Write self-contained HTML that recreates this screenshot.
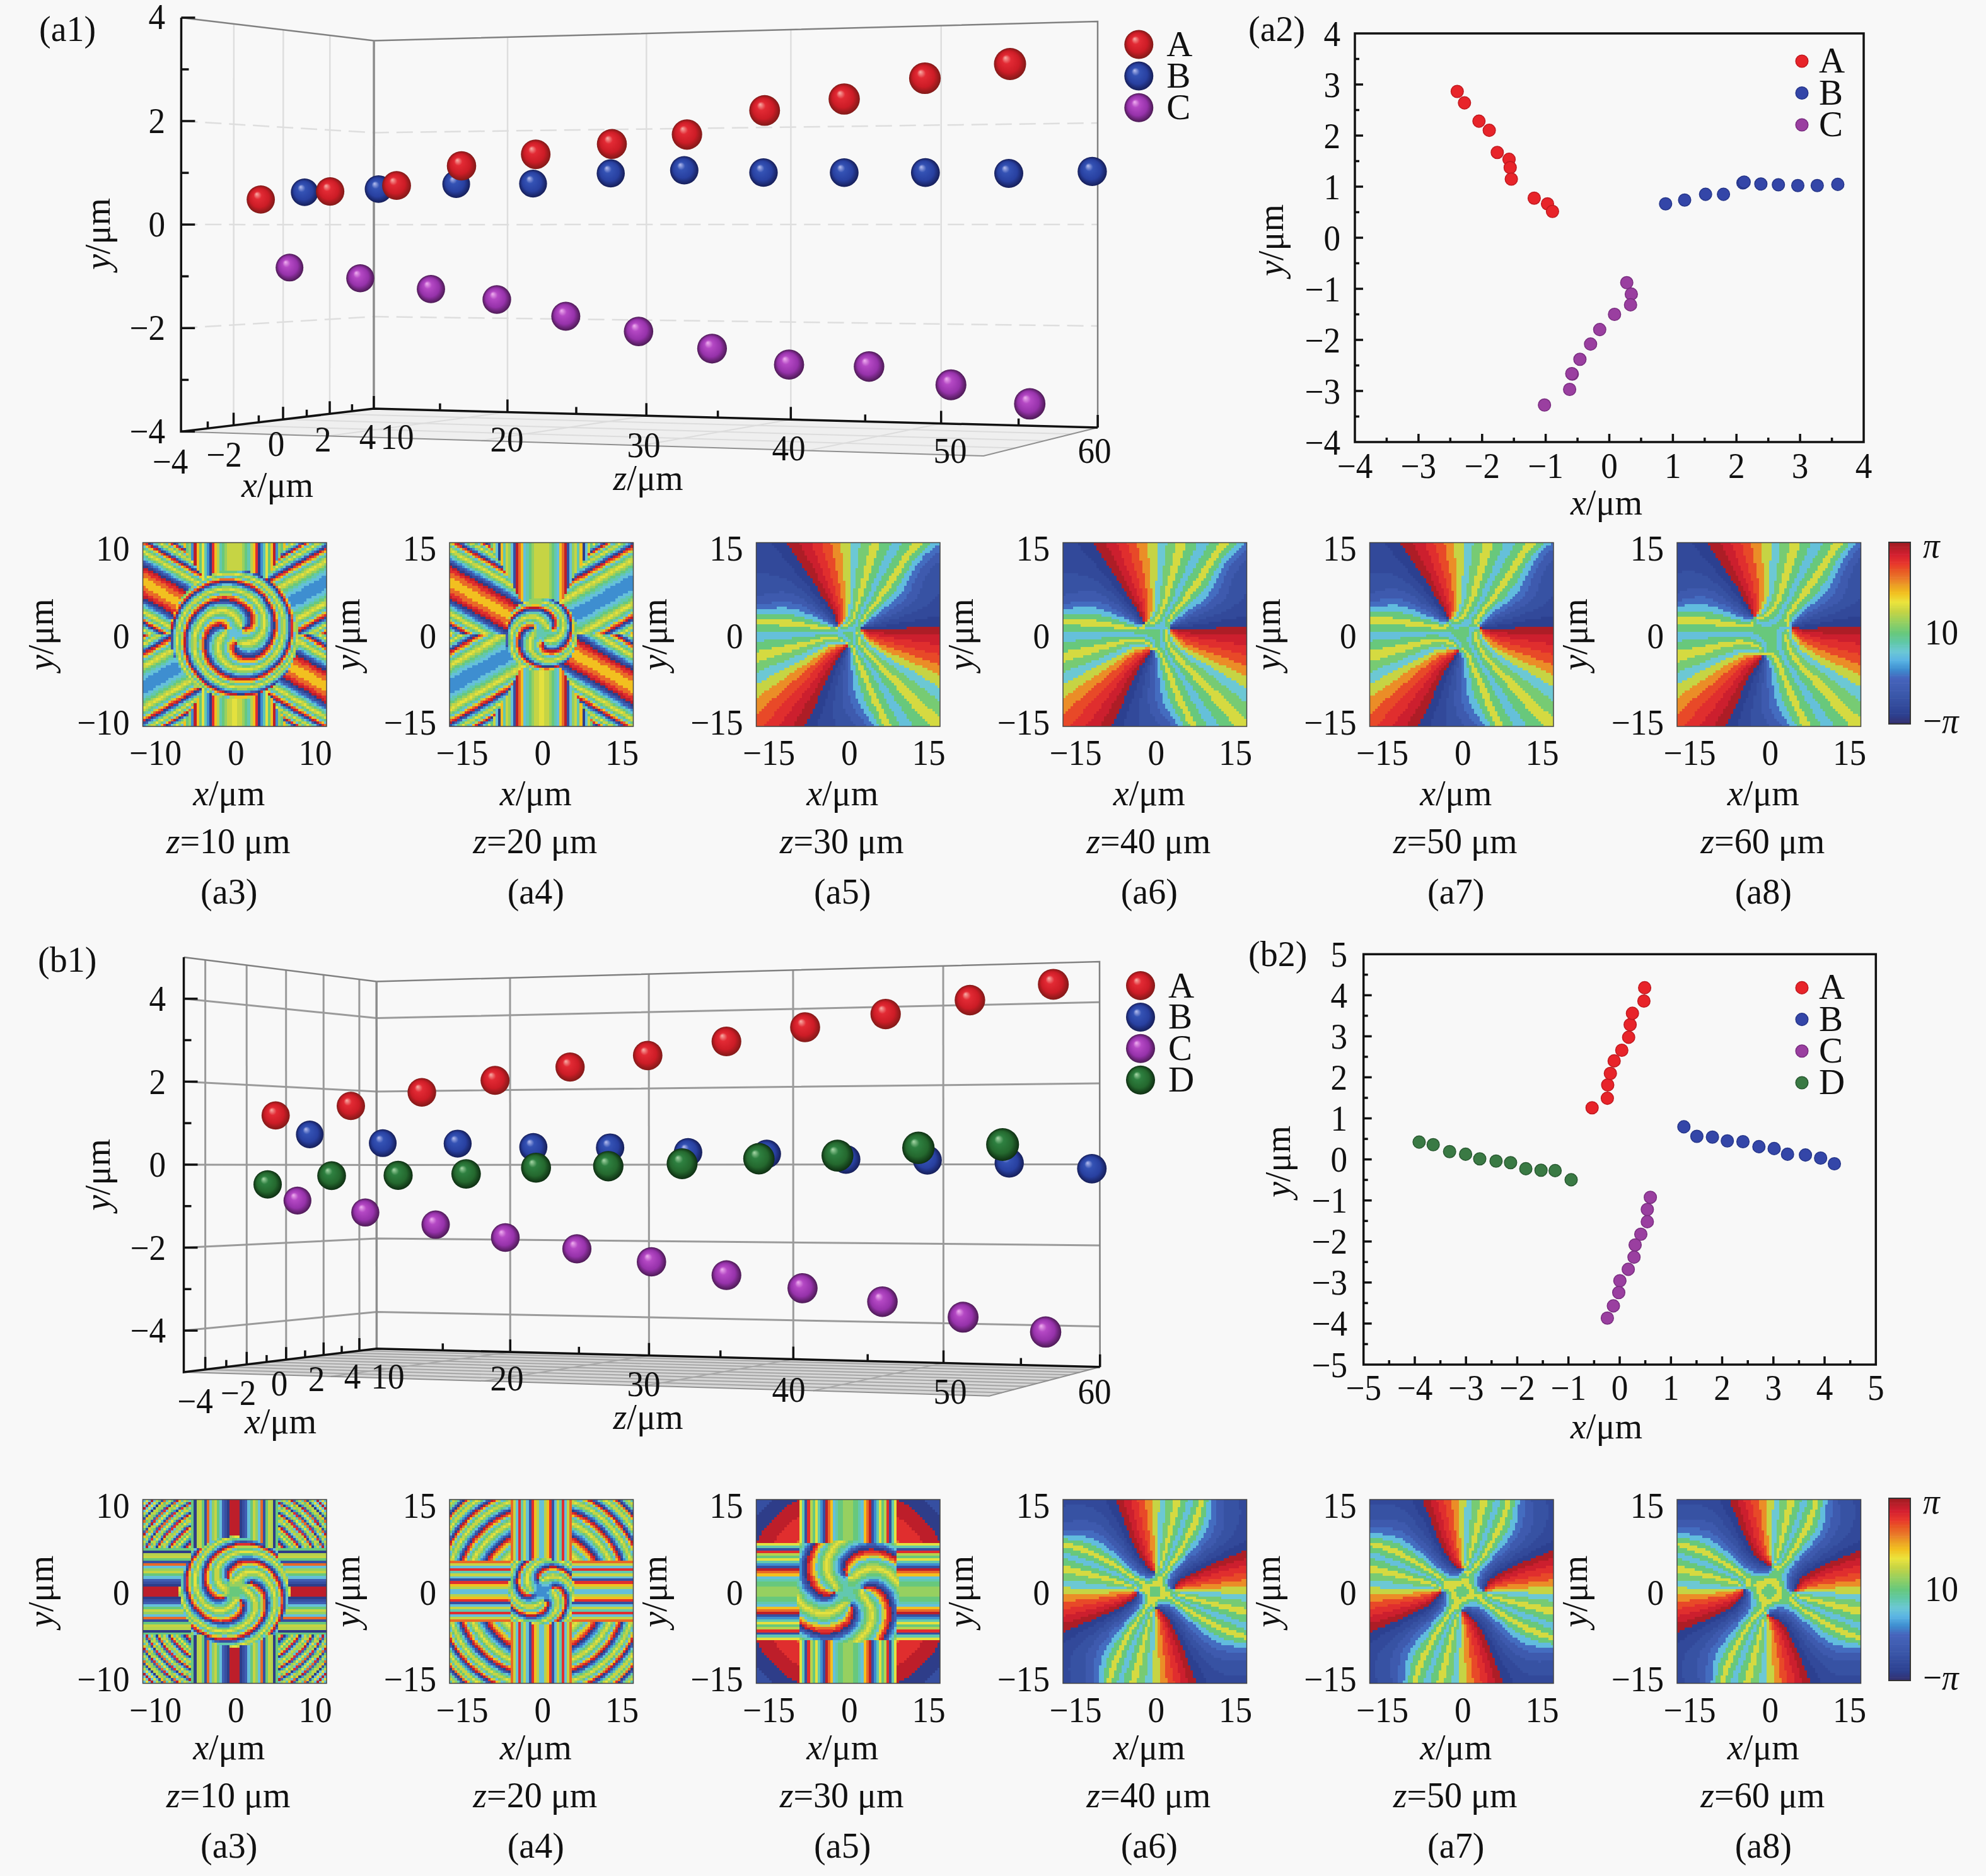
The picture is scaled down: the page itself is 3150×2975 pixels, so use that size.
<!DOCTYPE html><html><head><meta charset="utf-8"><style>html,body{margin:0;padding:0;background:#f8f8f8;overflow:hidden;}svg{display:block;} text{font-family:"Liberation Serif","Times New Roman",serif;}</style></head><body><svg width="3150" height="2975" viewBox="0 0 3150 2975" fill="#111"><defs><radialGradient id="sr" cx="0.5" cy="0.5" r="0.5" fx="0.35" fy="0.3"><stop offset="0" stop-color="#f8b0a8"/><stop offset="0.28" stop-color="#e22a34"/><stop offset="0.68" stop-color="#cc1c26"/><stop offset="1" stop-color="#801a18"/></radialGradient><radialGradient id="sb" cx="0.5" cy="0.5" r="0.5" fx="0.35" fy="0.3"><stop offset="0" stop-color="#b8c0f0"/><stop offset="0.28" stop-color="#3452b4"/><stop offset="0.68" stop-color="#2840a0"/><stop offset="1" stop-color="#161e58"/></radialGradient><radialGradient id="sp" cx="0.5" cy="0.5" r="0.5" fx="0.35" fy="0.3"><stop offset="0" stop-color="#f0b0f0"/><stop offset="0.28" stop-color="#b448c4"/><stop offset="0.68" stop-color="#9632aa"/><stop offset="1" stop-color="#4c1a54"/></radialGradient><radialGradient id="sg" cx="0.5" cy="0.5" r="0.5" fx="0.35" fy="0.3"><stop offset="0" stop-color="#a8d8a8"/><stop offset="0.28" stop-color="#2e8040"/><stop offset="0.68" stop-color="#24682e"/><stop offset="1" stop-color="#0e2e12"/></radialGradient></defs><rect width="3150" height="2975" fill="#f8f8f8"/><polyline points="370.5,674.5 370.9,37.9" fill="none" stroke="#dedede" stroke-width="2.5" /><polyline points="449,665.1 449.3,47.3" fill="none" stroke="#dedede" stroke-width="2.5" /><polyline points="523,656.3 523.3,56.2" fill="none" stroke="#dedede" stroke-width="2.5" /><polyline points="287.2,520.3 592.9,502.1 1741,517" fill="none" stroke="#dedede" stroke-width="2.5" stroke-dasharray="26 12"/><polyline points="287.3,356.1 593,356.2 1741,355.9" fill="none" stroke="#dedede" stroke-width="2.5" stroke-dasharray="26 12"/><polyline points="287.4,192 593.1,210.4 1741,195" fill="none" stroke="#dedede" stroke-width="2.5" stroke-dasharray="26 12"/><polyline points="804.9,653.5 805.1,58.9" fill="none" stroke="#dedede" stroke-width="2.5" /><polyline points="1025.2,659.3 1025.3,53" fill="none" stroke="#dedede" stroke-width="2.5" /><polyline points="1254.3,665.3 1254.4,46.9" fill="none" stroke="#dedede" stroke-width="2.5" /><polyline points="1492.7,671.5 1492.7,40.6" fill="none" stroke="#dedede" stroke-width="2.5" /><polygon points="287.1,684.4 592.9,648 1741.1,678 1560,723" fill="#efefef"/><polyline points="370.5,674.5 1609.8,710.6" fill="none" stroke="#dcdcdc" stroke-width="2" /><polyline points="449,665.1 1656.4,699" fill="none" stroke="#dcdcdc" stroke-width="2" /><polyline points="523,656.3 1700.1,688.2" fill="none" stroke="#dcdcdc" stroke-width="2" /><polyline points="519.7,691.5 804.9,653.5" fill="none" stroke="#dcdcdc" stroke-width="2" /><polyline points="762.5,698.8 1025.2,659.3" fill="none" stroke="#dcdcdc" stroke-width="2" /><polyline points="1016.3,706.5 1254.3,665.3" fill="none" stroke="#dcdcdc" stroke-width="2" /><polyline points="1281.9,714.6 1492.7,671.5" fill="none" stroke="#dcdcdc" stroke-width="2" /><polyline points="287.5,28 593.1,64.5 1741,34 1741.1,678" fill="none" stroke="#808080" stroke-width="2.5" /><polyline points="592.9,648 593.1,64.5" fill="none" stroke="#8c8c8c" stroke-width="3.5" /><polyline points="1741.1,678 1560,723 287.1,684.4" fill="none" stroke="#909090" stroke-width="2" /><polyline points="287.5,28 287.1,684.4 592.9,648 1741.1,678" fill="none" stroke="#111" stroke-width="3.5" stroke-linejoin="miter"/><line x1="287.1" y1="684.4" x2="309.1" y2="684.4" stroke="#111" stroke-width="3.5" /><line x1="287.2" y1="602.4" x2="299.2" y2="602.4" stroke="#111" stroke-width="3.5" /><line x1="287.2" y1="520.3" x2="309.2" y2="520.3" stroke="#111" stroke-width="3.5" /><line x1="287.3" y1="438.2" x2="299.3" y2="438.2" stroke="#111" stroke-width="3.5" /><line x1="287.3" y1="356.1" x2="309.3" y2="356.1" stroke="#111" stroke-width="3.5" /><line x1="287.4" y1="274.1" x2="299.4" y2="274.1" stroke="#111" stroke-width="3.5" /><line x1="287.4" y1="192" x2="309.4" y2="192" stroke="#111" stroke-width="3.5" /><line x1="287.5" y1="110" x2="299.5" y2="110" stroke="#111" stroke-width="3.5" /><line x1="287.5" y1="28" x2="309.5" y2="28" stroke="#111" stroke-width="3.5" /><line x1="329.5" y1="679.4" x2="329.5" y2="668.4" stroke="#111" stroke-width="3.5" /><line x1="370.5" y1="674.5" x2="370.5" y2="654.5" stroke="#111" stroke-width="3.5" /><line x1="410.4" y1="669.7" x2="410.4" y2="658.7" stroke="#111" stroke-width="3.5" /><line x1="449" y1="665.1" x2="449" y2="645.1" stroke="#111" stroke-width="3.5" /><line x1="486.5" y1="660.7" x2="486.5" y2="649.7" stroke="#111" stroke-width="3.5" /><line x1="523" y1="656.3" x2="523" y2="636.3" stroke="#111" stroke-width="3.5" /><line x1="558.4" y1="652.1" x2="558.4" y2="641.1" stroke="#111" stroke-width="3.5" /><line x1="592.9" y1="648" x2="592.9" y2="628" stroke="#111" stroke-width="3.5" /><line x1="697.9" y1="650.7" x2="697.9" y2="639.7" stroke="#111" stroke-width="3.5" /><line x1="804.9" y1="653.5" x2="804.9" y2="633.5" stroke="#111" stroke-width="3.5" /><line x1="914" y1="656.4" x2="914" y2="645.4" stroke="#111" stroke-width="3.5" /><line x1="1025.2" y1="659.3" x2="1025.2" y2="639.3" stroke="#111" stroke-width="3.5" /><line x1="1138.6" y1="662.2" x2="1138.6" y2="651.2" stroke="#111" stroke-width="3.5" /><line x1="1254.3" y1="665.3" x2="1254.3" y2="645.3" stroke="#111" stroke-width="3.5" /><line x1="1372.3" y1="668.3" x2="1372.3" y2="657.3" stroke="#111" stroke-width="3.5" /><line x1="1492.7" y1="671.5" x2="1492.7" y2="651.5" stroke="#111" stroke-width="3.5" /><line x1="1615.6" y1="674.7" x2="1615.6" y2="663.7" stroke="#111" stroke-width="3.5" /><line x1="1741.1" y1="678" x2="1741.1" y2="658" stroke="#111" stroke-width="3.5" /><circle cx="483.1" cy="304.9" r="21.8" fill="url(#sb)"/><circle cx="600.4" cy="299.8" r="21.9" fill="url(#sb)"/><circle cx="459.2" cy="424.3" r="22" fill="url(#sp)"/><circle cx="723.6" cy="292" r="22" fill="url(#sb)"/><circle cx="845.5" cy="291.2" r="22.1" fill="url(#sb)"/><circle cx="571.4" cy="441.3" r="22.2" fill="url(#sp)"/><circle cx="968.7" cy="274.9" r="22.3" fill="url(#sb)"/><circle cx="413.6" cy="316.4" r="22.4" fill="url(#sr)"/><circle cx="683.5" cy="458.4" r="22.4" fill="url(#sp)"/><circle cx="1085.3" cy="270" r="22.5" fill="url(#sb)"/><circle cx="523.6" cy="303.6" r="22.6" fill="url(#sr)"/><circle cx="1211" cy="273.7" r="22.6" fill="url(#sb)"/><circle cx="788" cy="475" r="22.7" fill="url(#sp)"/><circle cx="1339" cy="273.7" r="22.8" fill="url(#sb)"/><circle cx="1467.8" cy="273.7" r="22.9" fill="url(#sb)"/><circle cx="629" cy="294.2" r="22.9" fill="url(#sr)"/><circle cx="1600" cy="275" r="23" fill="url(#sb)"/><circle cx="897.4" cy="501.5" r="23" fill="url(#sp)"/><circle cx="1732.4" cy="271.9" r="23.2" fill="url(#sb)"/><circle cx="732" cy="263" r="23.3" fill="url(#sr)"/><circle cx="1012.8" cy="525.6" r="23.3" fill="url(#sp)"/><circle cx="849.7" cy="244.7" r="23.5" fill="url(#sr)"/><circle cx="1129.4" cy="552.8" r="23.6" fill="url(#sp)"/><circle cx="970.5" cy="228.4" r="23.8" fill="url(#sr)"/><circle cx="1251.5" cy="578.2" r="23.9" fill="url(#sp)"/><circle cx="1089.6" cy="213.3" r="24.1" fill="url(#sr)"/><circle cx="1378.4" cy="581.2" r="24.2" fill="url(#sp)"/><circle cx="1212.8" cy="175.2" r="24.4" fill="url(#sr)"/><circle cx="1508.3" cy="610.2" r="24.5" fill="url(#sp)"/><circle cx="1339" cy="157" r="24.8" fill="url(#sr)"/><circle cx="1633.3" cy="640.4" r="24.9" fill="url(#sp)"/><circle cx="1467" cy="124" r="25.1" fill="url(#sr)"/><circle cx="1602" cy="101.5" r="25.5" fill="url(#sr)"/><circle cx="1806.3" cy="70.5" r="23" fill="url(#sr)"/><text transform="translate(1850.3,89)" text-anchor="start" font-size="57">A</text><circle cx="1806.3" cy="120.6" r="23" fill="url(#sb)"/><text transform="translate(1850.3,139.1)" text-anchor="start" font-size="57">B</text><circle cx="1806.3" cy="170.7" r="23" fill="url(#sp)"/><text transform="translate(1850.3,189.2)" text-anchor="start" font-size="57">C</text><text transform="translate(262,46) scale(0.95,1)" text-anchor="end" font-size="56">4</text><text transform="translate(262,211) scale(0.95,1)" text-anchor="end" font-size="56">2</text><text transform="translate(262,375) scale(0.95,1)" text-anchor="end" font-size="56">0</text><text transform="translate(262,539) scale(0.95,1)" text-anchor="end" font-size="56">−2</text><text transform="translate(262,703) scale(0.95,1)" text-anchor="end" font-size="56">−4</text><text transform="translate(270,751) scale(0.95,1)" text-anchor="middle" font-size="56">−4</text><text transform="translate(355.6,739.7) scale(0.95,1)" text-anchor="middle" font-size="56">−2</text><text transform="translate(438,723) scale(0.95,1)" text-anchor="middle" font-size="56">0</text><text transform="translate(512.4,715.8) scale(0.95,1)" text-anchor="middle" font-size="56">2</text><text transform="translate(583,712) scale(0.95,1)" text-anchor="middle" font-size="56">4</text><text transform="translate(630,712) scale(0.95,1)" text-anchor="middle" font-size="56">10</text><text transform="translate(804,716) scale(0.95,1)" text-anchor="middle" font-size="56">20</text><text transform="translate(1021,725) scale(0.95,1)" text-anchor="middle" font-size="56">30</text><text transform="translate(1251,730) scale(0.95,1)" text-anchor="middle" font-size="56">40</text><text transform="translate(1507,734) scale(0.95,1)" text-anchor="middle" font-size="56">50</text><text transform="translate(1736,734) scale(0.95,1)" text-anchor="middle" font-size="56">60</text><text transform="translate(440,788)" text-anchor="middle" font-size="56"><tspan font-style="italic">x</tspan>/μm</text><text transform="translate(1028,777)" text-anchor="middle" font-size="56"><tspan font-style="italic">z</tspan>/μm</text><text transform="translate(174,371) rotate(-90)" text-anchor="middle" font-size="56"><tspan font-style="italic">y</tspan>/μm</text><text transform="translate(62,65)" text-anchor="start" font-size="56">(a1)</text><rect x="2149" y="53" width="807" height="648" fill="none" stroke="#111" stroke-width="3.5"/><line x1="2199.4" y1="701" x2="2199.4" y2="694" stroke="#111" stroke-width="3.5" /><line x1="2149" y1="660.5" x2="2156" y2="660.5" stroke="#111" stroke-width="3.5" /><line x1="2249.9" y1="701" x2="2249.9" y2="688" stroke="#111" stroke-width="3.5" /><line x1="2149" y1="620" x2="2162" y2="620" stroke="#111" stroke-width="3.5" /><line x1="2300.3" y1="701" x2="2300.3" y2="694" stroke="#111" stroke-width="3.5" /><line x1="2149" y1="579.5" x2="2156" y2="579.5" stroke="#111" stroke-width="3.5" /><line x1="2350.8" y1="701" x2="2350.8" y2="688" stroke="#111" stroke-width="3.5" /><line x1="2149" y1="539" x2="2162" y2="539" stroke="#111" stroke-width="3.5" /><line x1="2401.2" y1="701" x2="2401.2" y2="694" stroke="#111" stroke-width="3.5" /><line x1="2149" y1="498.5" x2="2156" y2="498.5" stroke="#111" stroke-width="3.5" /><line x1="2451.6" y1="701" x2="2451.6" y2="688" stroke="#111" stroke-width="3.5" /><line x1="2149" y1="458" x2="2162" y2="458" stroke="#111" stroke-width="3.5" /><line x1="2502.1" y1="701" x2="2502.1" y2="694" stroke="#111" stroke-width="3.5" /><line x1="2149" y1="417.5" x2="2156" y2="417.5" stroke="#111" stroke-width="3.5" /><line x1="2552.5" y1="701" x2="2552.5" y2="688" stroke="#111" stroke-width="3.5" /><line x1="2149" y1="377" x2="2162" y2="377" stroke="#111" stroke-width="3.5" /><line x1="2602.9" y1="701" x2="2602.9" y2="694" stroke="#111" stroke-width="3.5" /><line x1="2149" y1="336.5" x2="2156" y2="336.5" stroke="#111" stroke-width="3.5" /><line x1="2653.4" y1="701" x2="2653.4" y2="688" stroke="#111" stroke-width="3.5" /><line x1="2149" y1="296" x2="2162" y2="296" stroke="#111" stroke-width="3.5" /><line x1="2703.8" y1="701" x2="2703.8" y2="694" stroke="#111" stroke-width="3.5" /><line x1="2149" y1="255.5" x2="2156" y2="255.5" stroke="#111" stroke-width="3.5" /><line x1="2754.2" y1="701" x2="2754.2" y2="688" stroke="#111" stroke-width="3.5" /><line x1="2149" y1="215" x2="2162" y2="215" stroke="#111" stroke-width="3.5" /><line x1="2804.7" y1="701" x2="2804.7" y2="694" stroke="#111" stroke-width="3.5" /><line x1="2149" y1="174.5" x2="2156" y2="174.5" stroke="#111" stroke-width="3.5" /><line x1="2855.1" y1="701" x2="2855.1" y2="688" stroke="#111" stroke-width="3.5" /><line x1="2149" y1="134" x2="2162" y2="134" stroke="#111" stroke-width="3.5" /><line x1="2905.6" y1="701" x2="2905.6" y2="694" stroke="#111" stroke-width="3.5" /><line x1="2149" y1="93.5" x2="2156" y2="93.5" stroke="#111" stroke-width="3.5" /><text transform="translate(2126,720.5) scale(0.95,1)" text-anchor="end" font-size="56">−4</text><text transform="translate(2149,758) scale(0.95,1)" text-anchor="middle" font-size="56">−4</text><text transform="translate(2126,639.5) scale(0.95,1)" text-anchor="end" font-size="56">−3</text><text transform="translate(2249.9,758) scale(0.95,1)" text-anchor="middle" font-size="56">−3</text><text transform="translate(2126,558.5) scale(0.95,1)" text-anchor="end" font-size="56">−2</text><text transform="translate(2350.8,758) scale(0.95,1)" text-anchor="middle" font-size="56">−2</text><text transform="translate(2126,477.5) scale(0.95,1)" text-anchor="end" font-size="56">−1</text><text transform="translate(2451.6,758) scale(0.95,1)" text-anchor="middle" font-size="56">−1</text><text transform="translate(2126,396.5) scale(0.95,1)" text-anchor="end" font-size="56">0</text><text transform="translate(2552.5,758) scale(0.95,1)" text-anchor="middle" font-size="56">0</text><text transform="translate(2126,315.5) scale(0.95,1)" text-anchor="end" font-size="56">1</text><text transform="translate(2653.4,758) scale(0.95,1)" text-anchor="middle" font-size="56">1</text><text transform="translate(2126,234.5) scale(0.95,1)" text-anchor="end" font-size="56">2</text><text transform="translate(2754.2,758) scale(0.95,1)" text-anchor="middle" font-size="56">2</text><text transform="translate(2126,153.5) scale(0.95,1)" text-anchor="end" font-size="56">3</text><text transform="translate(2855.1,758) scale(0.95,1)" text-anchor="middle" font-size="56">3</text><text transform="translate(2126,72.5) scale(0.95,1)" text-anchor="end" font-size="56">4</text><text transform="translate(2956,758) scale(0.95,1)" text-anchor="middle" font-size="56">4</text><circle cx="2311.3" cy="145" r="9.8" fill="#e8242a" stroke="#c01a20" stroke-width="1.5"/><circle cx="2322.8" cy="163.1" r="9.8" fill="#e8242a" stroke="#c01a20" stroke-width="1.5"/><circle cx="2345.8" cy="192.1" r="9.8" fill="#e8242a" stroke="#c01a20" stroke-width="1.5"/><circle cx="2362.1" cy="206.6" r="9.8" fill="#e8242a" stroke="#c01a20" stroke-width="1.5"/><circle cx="2374.8" cy="241.7" r="9.8" fill="#e8242a" stroke="#c01a20" stroke-width="1.5"/><circle cx="2393.5" cy="252.6" r="9.8" fill="#e8242a" stroke="#c01a20" stroke-width="1.5"/><circle cx="2395.3" cy="265.8" r="9.8" fill="#e8242a" stroke="#c01a20" stroke-width="1.5"/><circle cx="2397.1" cy="284" r="9.8" fill="#e8242a" stroke="#c01a20" stroke-width="1.5"/><circle cx="2433.4" cy="314.2" r="9.8" fill="#e8242a" stroke="#c01a20" stroke-width="1.5"/><circle cx="2454.5" cy="323.2" r="9.8" fill="#e8242a" stroke="#c01a20" stroke-width="1.5"/><circle cx="2462.4" cy="335.3" r="9.8" fill="#e8242a" stroke="#c01a20" stroke-width="1.5"/><circle cx="2641.8" cy="323.2" r="9.8" fill="#3446a8" stroke="#26368a" stroke-width="1.5"/><circle cx="2672" cy="317.2" r="9.8" fill="#3446a8" stroke="#26368a" stroke-width="1.5"/><circle cx="2705.2" cy="308.1" r="9.8" fill="#3446a8" stroke="#26368a" stroke-width="1.5"/><circle cx="2733.6" cy="308.1" r="9.8" fill="#3446a8" stroke="#26368a" stroke-width="1.5"/><circle cx="2764.5" cy="290" r="9.8" fill="#3446a8" stroke="#26368a" stroke-width="1.5"/><circle cx="2792.9" cy="291.8" r="9.8" fill="#3446a8" stroke="#26368a" stroke-width="1.5"/><circle cx="2820.7" cy="293" r="9.8" fill="#3446a8" stroke="#26368a" stroke-width="1.5"/><circle cx="2851.5" cy="294.2" r="9.8" fill="#3446a8" stroke="#26368a" stroke-width="1.5"/><circle cx="2882.3" cy="294.2" r="9.8" fill="#3446a8" stroke="#26368a" stroke-width="1.5"/><circle cx="2914.9" cy="292.4" r="9.8" fill="#3446a8" stroke="#26368a" stroke-width="1.5"/><circle cx="2766.4" cy="288.7" r="9.8" fill="#3446a8" stroke="#26368a" stroke-width="1.5"/><circle cx="2580.2" cy="448.3" r="9.8" fill="#9a3fa0" stroke="#7a2e80" stroke-width="1.5"/><circle cx="2587.4" cy="466.4" r="9.8" fill="#9a3fa0" stroke="#7a2e80" stroke-width="1.5"/><circle cx="2586.2" cy="483.4" r="9.8" fill="#9a3fa0" stroke="#7a2e80" stroke-width="1.5"/><circle cx="2560.8" cy="498.5" r="9.8" fill="#9a3fa0" stroke="#7a2e80" stroke-width="1.5"/><circle cx="2537.3" cy="522.6" r="9.8" fill="#9a3fa0" stroke="#7a2e80" stroke-width="1.5"/><circle cx="2522.8" cy="545.6" r="9.8" fill="#9a3fa0" stroke="#7a2e80" stroke-width="1.5"/><circle cx="2505.9" cy="569.8" r="9.8" fill="#9a3fa0" stroke="#7a2e80" stroke-width="1.5"/><circle cx="2493.8" cy="593.3" r="9.8" fill="#9a3fa0" stroke="#7a2e80" stroke-width="1.5"/><circle cx="2489.6" cy="617.5" r="9.8" fill="#9a3fa0" stroke="#7a2e80" stroke-width="1.5"/><circle cx="2449.7" cy="642.3" r="9.8" fill="#9a3fa0" stroke="#7a2e80" stroke-width="1.5"/><circle cx="2493" cy="592.5" r="9.8" fill="#9a3fa0" stroke="#7a2e80" stroke-width="1.5"/><circle cx="2858" cy="97" r="9.8" fill="#e8242a" stroke="#c01a20" stroke-width="1.5"/><text transform="translate(2885,115)" text-anchor="start" font-size="57">A</text><circle cx="2858" cy="147.5" r="9.8" fill="#3446a8" stroke="#26368a" stroke-width="1.5"/><text transform="translate(2885,165.5)" text-anchor="start" font-size="57">B</text><circle cx="2858" cy="198" r="9.8" fill="#9a3fa0" stroke="#7a2e80" stroke-width="1.5"/><text transform="translate(2885,216)" text-anchor="start" font-size="57">C</text><text transform="translate(1980,65)" text-anchor="start" font-size="56">(a2)</text><text transform="translate(2035,381) rotate(-90)" text-anchor="middle" font-size="56"><tspan font-style="italic">y</tspan>/μm</text><text transform="translate(2548,816)" text-anchor="middle" font-size="56"><tspan font-style="italic">x</tspan>/μm</text><polyline points="325.6,2171.8 325.6,1522.3" fill="none" stroke="#9a9a9a" stroke-width="3" /><polyline points="391.3,2163.8 391.2,1530.5" fill="none" stroke="#9a9a9a" stroke-width="3" /><polyline points="453.8,2156.2 453.7,1538.4" fill="none" stroke="#9a9a9a" stroke-width="3" /><polyline points="513.3,2148.9 513.2,1545.8" fill="none" stroke="#9a9a9a" stroke-width="3" /><polyline points="570,2142 569.9,1552.9" fill="none" stroke="#9a9a9a" stroke-width="3" /><polyline points="291.5,2110.1 597.4,2080.4 1744.6,2103.5" fill="none" stroke="#9a9a9a" stroke-width="3" /><polyline points="291.5,1978.5 597.4,1964 1744.5,1974.9" fill="none" stroke="#9a9a9a" stroke-width="3" /><polyline points="291.5,1846.9 597.3,1847.5 1744.3,1846.4" fill="none" stroke="#9a9a9a" stroke-width="3" /><polyline points="291.5,1715.3 597.3,1731 1744.2,1717.9" fill="none" stroke="#9a9a9a" stroke-width="3" /><polyline points="291.5,1583.8 597.3,1614.6 1744.1,1589.3" fill="none" stroke="#9a9a9a" stroke-width="3" /><polyline points="809.3,2144.1 809,1550.6" fill="none" stroke="#9a9a9a" stroke-width="3" /><polyline points="1029.4,2149.7 1029.1,1544.6" fill="none" stroke="#9a9a9a" stroke-width="3" /><polyline points="1258.3,2155.5 1257.9,1538.3" fill="none" stroke="#9a9a9a" stroke-width="3" /><polyline points="1496.5,2161.5 1496,1531.9" fill="none" stroke="#9a9a9a" stroke-width="3" /><polygon points="291.5,2175.9 597.4,2138.7 1744.7,2167.8 1569.1,2213.7" fill="#d8d8d8"/><polyline points="325.6,2171.8 1588.9,2208.5" fill="none" stroke="#a8a8a8" stroke-width="2.2" /><polyline points="358.9,2167.7 1608.2,2203.5" fill="none" stroke="#a8a8a8" stroke-width="2.2" /><polyline points="391.3,2163.8 1626.9,2198.6" fill="none" stroke="#a8a8a8" stroke-width="2.2" /><polyline points="422.9,2159.9 1645.1,2193.8" fill="none" stroke="#a8a8a8" stroke-width="2.2" /><polyline points="453.8,2156.2 1662.8,2189.2" fill="none" stroke="#a8a8a8" stroke-width="2.2" /><polyline points="483.9,2152.5 1680.1,2184.7" fill="none" stroke="#a8a8a8" stroke-width="2.2" /><polyline points="513.3,2148.9 1696.9,2180.3" fill="none" stroke="#a8a8a8" stroke-width="2.2" /><polyline points="542,2145.4 1713.2,2176.1" fill="none" stroke="#a8a8a8" stroke-width="2.2" /><polyline points="570,2142 1729.1,2171.9" fill="none" stroke="#a8a8a8" stroke-width="2.2" /><polyline points="524.8,2182.8 809.3,2144.1" fill="none" stroke="#a8a8a8" stroke-width="2.2" /><polyline points="768.5,2190 1029.4,2149.7" fill="none" stroke="#a8a8a8" stroke-width="2.2" /><polyline points="1023.3,2197.6 1258.3,2155.5" fill="none" stroke="#a8a8a8" stroke-width="2.2" /><polyline points="1289.8,2205.5 1496.5,2161.5" fill="none" stroke="#a8a8a8" stroke-width="2.2" /><polyline points="291.5,1518 597.2,1556.4 1744,1525.1 1744.7,2167.8" fill="none" stroke="#808080" stroke-width="2.5" /><polyline points="597.4,2138.7 597.2,1556.4" fill="none" stroke="#8c8c8c" stroke-width="3.5" /><polyline points="1744.7,2167.8 1569.1,2213.7 291.5,2175.9" fill="none" stroke="#909090" stroke-width="2" /><polyline points="291.5,1518 291.5,2175.9 597.4,2138.7 1744.7,2167.8" fill="none" stroke="#111" stroke-width="3.5" stroke-linejoin="miter"/><line x1="291.5" y1="2110.1" x2="313.5" y2="2110.1" stroke="#111" stroke-width="3.5" /><line x1="291.5" y1="2044.3" x2="303.5" y2="2044.3" stroke="#111" stroke-width="3.5" /><line x1="291.5" y1="1978.5" x2="313.5" y2="1978.5" stroke="#111" stroke-width="3.5" /><line x1="291.5" y1="1912.7" x2="303.5" y2="1912.7" stroke="#111" stroke-width="3.5" /><line x1="291.5" y1="1846.9" x2="313.5" y2="1846.9" stroke="#111" stroke-width="3.5" /><line x1="291.5" y1="1781.1" x2="303.5" y2="1781.1" stroke="#111" stroke-width="3.5" /><line x1="291.5" y1="1715.3" x2="313.5" y2="1715.3" stroke="#111" stroke-width="3.5" /><line x1="291.5" y1="1649.5" x2="303.5" y2="1649.5" stroke="#111" stroke-width="3.5" /><line x1="291.5" y1="1583.8" x2="313.5" y2="1583.8" stroke="#111" stroke-width="3.5" /><line x1="325.6" y1="2171.8" x2="325.6" y2="2151.8" stroke="#111" stroke-width="3.5" /><line x1="358.9" y1="2167.7" x2="358.9" y2="2156.7" stroke="#111" stroke-width="3.5" /><line x1="391.3" y1="2163.8" x2="391.3" y2="2143.8" stroke="#111" stroke-width="3.5" /><line x1="422.9" y1="2159.9" x2="422.9" y2="2148.9" stroke="#111" stroke-width="3.5" /><line x1="453.8" y1="2156.2" x2="453.8" y2="2136.2" stroke="#111" stroke-width="3.5" /><line x1="483.9" y1="2152.5" x2="483.9" y2="2141.5" stroke="#111" stroke-width="3.5" /><line x1="513.3" y1="2148.9" x2="513.3" y2="2128.9" stroke="#111" stroke-width="3.5" /><line x1="542" y1="2145.4" x2="542" y2="2134.4" stroke="#111" stroke-width="3.5" /><line x1="570" y1="2142" x2="570" y2="2122" stroke="#111" stroke-width="3.5" /><line x1="702.3" y1="2141.4" x2="702.3" y2="2130.4" stroke="#111" stroke-width="3.5" /><line x1="809.3" y1="2144.1" x2="809.3" y2="2124.1" stroke="#111" stroke-width="3.5" /><line x1="918.3" y1="2146.8" x2="918.3" y2="2135.8" stroke="#111" stroke-width="3.5" /><line x1="1029.4" y1="2149.7" x2="1029.4" y2="2129.7" stroke="#111" stroke-width="3.5" /><line x1="1142.7" y1="2152.5" x2="1142.7" y2="2141.5" stroke="#111" stroke-width="3.5" /><line x1="1258.3" y1="2155.5" x2="1258.3" y2="2135.5" stroke="#111" stroke-width="3.5" /><line x1="1376.2" y1="2158.5" x2="1376.2" y2="2147.5" stroke="#111" stroke-width="3.5" /><line x1="1496.5" y1="2161.5" x2="1496.5" y2="2141.5" stroke="#111" stroke-width="3.5" /><line x1="1619.3" y1="2164.6" x2="1619.3" y2="2153.6" stroke="#111" stroke-width="3.5" /><line x1="1744.7" y1="2167.8" x2="1744.7" y2="2147.8" stroke="#111" stroke-width="3.5" /><circle cx="491.3" cy="1799" r="21.9" fill="url(#sb)"/><circle cx="607.1" cy="1812.8" r="22" fill="url(#sb)"/><circle cx="471.8" cy="1903.9" r="22.1" fill="url(#sp)"/><circle cx="725.9" cy="1813.6" r="22.2" fill="url(#sb)"/><circle cx="579.4" cy="1922.8" r="22.3" fill="url(#sp)"/><circle cx="845.9" cy="1819.1" r="22.3" fill="url(#sb)"/><circle cx="437.2" cy="1768.9" r="22.4" fill="url(#sr)"/><circle cx="967.7" cy="1819.9" r="22.5" fill="url(#sb)"/><circle cx="424.5" cy="1878.2" r="22.5" fill="url(#sg)"/><circle cx="556.5" cy="1753.8" r="22.5" fill="url(#sr)"/><circle cx="691" cy="1942.1" r="22.5" fill="url(#sp)"/><circle cx="1091.3" cy="1827.3" r="22.6" fill="url(#sb)"/><circle cx="669.1" cy="1732.2" r="22.7" fill="url(#sr)"/><circle cx="1216.1" cy="1830" r="22.7" fill="url(#sb)"/><circle cx="801.5" cy="1962.5" r="22.8" fill="url(#sp)"/><circle cx="526" cy="1864.4" r="22.8" fill="url(#sg)"/><circle cx="1341.8" cy="1838.6" r="22.9" fill="url(#sb)"/><circle cx="785.2" cy="1713.2" r="23" fill="url(#sr)"/><circle cx="1470.9" cy="1839.7" r="23" fill="url(#sb)"/><circle cx="915" cy="1980.4" r="23.1" fill="url(#sp)"/><circle cx="631.5" cy="1863.9" r="23.1" fill="url(#sg)"/><circle cx="904.2" cy="1692.1" r="23.2" fill="url(#sr)"/><circle cx="1600.7" cy="1844.3" r="23.2" fill="url(#sb)"/><circle cx="1033.3" cy="2001" r="23.3" fill="url(#sp)"/><circle cx="1731.8" cy="1853.3" r="23.4" fill="url(#sb)"/><circle cx="1027.3" cy="1673.8" r="23.4" fill="url(#sr)"/><circle cx="739.3" cy="1861.6" r="23.4" fill="url(#sg)"/><circle cx="1152.2" cy="1651.5" r="23.6" fill="url(#sr)"/><circle cx="1152.2" cy="2022.2" r="23.6" fill="url(#sp)"/><circle cx="850.2" cy="1851.8" r="23.8" fill="url(#sg)"/><circle cx="1277" cy="1629" r="23.8" fill="url(#sr)"/><circle cx="1272.9" cy="2042.8" r="23.9" fill="url(#sp)"/><circle cx="1404.7" cy="1608.1" r="24.1" fill="url(#sr)"/><circle cx="964.8" cy="1849.3" r="24.1" fill="url(#sg)"/><circle cx="1399.6" cy="2064.2" r="24.2" fill="url(#sp)"/><circle cx="1538.4" cy="1586" r="24.2" fill="url(#sr)"/><circle cx="1527.6" cy="2088.8" r="24.5" fill="url(#sp)"/><circle cx="1081.9" cy="1845.4" r="24.5" fill="url(#sg)"/><circle cx="1670.7" cy="1560.9" r="24.5" fill="url(#sr)"/><circle cx="1658.5" cy="2112.3" r="24.8" fill="url(#sp)"/><circle cx="1203.7" cy="1837.5" r="24.9" fill="url(#sg)"/><circle cx="1328.3" cy="1832.6" r="25.3" fill="url(#sg)"/><circle cx="1456.7" cy="1820.3" r="25.7" fill="url(#sg)"/><circle cx="1590.2" cy="1815" r="26.1" fill="url(#sg)"/><circle cx="1809" cy="1563" r="23" fill="url(#sr)"/><text transform="translate(1853,1581.5)" text-anchor="start" font-size="57">A</text><circle cx="1809" cy="1612.9" r="23" fill="url(#sb)"/><text transform="translate(1853,1631.4)" text-anchor="start" font-size="57">B</text><circle cx="1809" cy="1662.8" r="23" fill="url(#sp)"/><text transform="translate(1853,1681.3)" text-anchor="start" font-size="57">C</text><circle cx="1809" cy="1712.7" r="23" fill="url(#sg)"/><text transform="translate(1853,1731.2)" text-anchor="start" font-size="57">D</text><text transform="translate(263,1603) scale(0.95,1)" text-anchor="end" font-size="56">4</text><text transform="translate(263,1734.5) scale(0.95,1)" text-anchor="end" font-size="56">2</text><text transform="translate(263,1866) scale(0.95,1)" text-anchor="end" font-size="56">0</text><text transform="translate(263,1997.5) scale(0.95,1)" text-anchor="end" font-size="56">−2</text><text transform="translate(263,2129) scale(0.95,1)" text-anchor="end" font-size="56">−4</text><text transform="translate(309.5,2241) scale(0.95,1)" text-anchor="middle" font-size="56">−4</text><text transform="translate(378,2228) scale(0.95,1)" text-anchor="middle" font-size="56">−2</text><text transform="translate(443,2213) scale(0.95,1)" text-anchor="middle" font-size="56">0</text><text transform="translate(502,2205.7) scale(0.95,1)" text-anchor="middle" font-size="56">2</text><text transform="translate(559,2201.7) scale(0.95,1)" text-anchor="middle" font-size="56">4</text><text transform="translate(615,2201.7) scale(0.95,1)" text-anchor="middle" font-size="56">10</text><text transform="translate(804,2205) scale(0.95,1)" text-anchor="middle" font-size="56">20</text><text transform="translate(1021,2214) scale(0.95,1)" text-anchor="middle" font-size="56">30</text><text transform="translate(1251,2223) scale(0.95,1)" text-anchor="middle" font-size="56">40</text><text transform="translate(1507,2226) scale(0.95,1)" text-anchor="middle" font-size="56">50</text><text transform="translate(1736,2226) scale(0.95,1)" text-anchor="middle" font-size="56">60</text><text transform="translate(445,2273)" text-anchor="middle" font-size="56"><tspan font-style="italic">x</tspan>/μm</text><text transform="translate(1028,2266)" text-anchor="middle" font-size="56"><tspan font-style="italic">z</tspan>/μm</text><text transform="translate(174,1863) rotate(-90)" text-anchor="middle" font-size="56"><tspan font-style="italic">y</tspan>/μm</text><text transform="translate(60,1541)" text-anchor="start" font-size="56">(b1)</text><rect x="2162.7" y="1513.2" width="812.6" height="650.8" fill="none" stroke="#111" stroke-width="3.5"/><line x1="2203.3" y1="2164" x2="2203.3" y2="2157" stroke="#111" stroke-width="3.5" /><line x1="2162.7" y1="2131.5" x2="2169.7" y2="2131.5" stroke="#111" stroke-width="3.5" /><line x1="2244" y1="2164" x2="2244" y2="2151" stroke="#111" stroke-width="3.5" /><line x1="2162.7" y1="2098.9" x2="2175.7" y2="2098.9" stroke="#111" stroke-width="3.5" /><line x1="2284.6" y1="2164" x2="2284.6" y2="2157" stroke="#111" stroke-width="3.5" /><line x1="2162.7" y1="2066.4" x2="2169.7" y2="2066.4" stroke="#111" stroke-width="3.5" /><line x1="2325.2" y1="2164" x2="2325.2" y2="2151" stroke="#111" stroke-width="3.5" /><line x1="2162.7" y1="2033.8" x2="2175.7" y2="2033.8" stroke="#111" stroke-width="3.5" /><line x1="2365.8" y1="2164" x2="2365.8" y2="2157" stroke="#111" stroke-width="3.5" /><line x1="2162.7" y1="2001.3" x2="2169.7" y2="2001.3" stroke="#111" stroke-width="3.5" /><line x1="2406.5" y1="2164" x2="2406.5" y2="2151" stroke="#111" stroke-width="3.5" /><line x1="2162.7" y1="1968.8" x2="2175.7" y2="1968.8" stroke="#111" stroke-width="3.5" /><line x1="2447.1" y1="2164" x2="2447.1" y2="2157" stroke="#111" stroke-width="3.5" /><line x1="2162.7" y1="1936.2" x2="2169.7" y2="1936.2" stroke="#111" stroke-width="3.5" /><line x1="2487.7" y1="2164" x2="2487.7" y2="2151" stroke="#111" stroke-width="3.5" /><line x1="2162.7" y1="1903.7" x2="2175.7" y2="1903.7" stroke="#111" stroke-width="3.5" /><line x1="2528.4" y1="2164" x2="2528.4" y2="2157" stroke="#111" stroke-width="3.5" /><line x1="2162.7" y1="1871.1" x2="2169.7" y2="1871.1" stroke="#111" stroke-width="3.5" /><line x1="2569" y1="2164" x2="2569" y2="2151" stroke="#111" stroke-width="3.5" /><line x1="2162.7" y1="1838.6" x2="2175.7" y2="1838.6" stroke="#111" stroke-width="3.5" /><line x1="2609.6" y1="2164" x2="2609.6" y2="2157" stroke="#111" stroke-width="3.5" /><line x1="2162.7" y1="1806.1" x2="2169.7" y2="1806.1" stroke="#111" stroke-width="3.5" /><line x1="2650.3" y1="2164" x2="2650.3" y2="2151" stroke="#111" stroke-width="3.5" /><line x1="2162.7" y1="1773.5" x2="2175.7" y2="1773.5" stroke="#111" stroke-width="3.5" /><line x1="2690.9" y1="2164" x2="2690.9" y2="2157" stroke="#111" stroke-width="3.5" /><line x1="2162.7" y1="1741" x2="2169.7" y2="1741" stroke="#111" stroke-width="3.5" /><line x1="2731.5" y1="2164" x2="2731.5" y2="2151" stroke="#111" stroke-width="3.5" /><line x1="2162.7" y1="1708.4" x2="2175.7" y2="1708.4" stroke="#111" stroke-width="3.5" /><line x1="2772.2" y1="2164" x2="2772.2" y2="2157" stroke="#111" stroke-width="3.5" /><line x1="2162.7" y1="1675.9" x2="2169.7" y2="1675.9" stroke="#111" stroke-width="3.5" /><line x1="2812.8" y1="2164" x2="2812.8" y2="2151" stroke="#111" stroke-width="3.5" /><line x1="2162.7" y1="1643.4" x2="2175.7" y2="1643.4" stroke="#111" stroke-width="3.5" /><line x1="2853.4" y1="2164" x2="2853.4" y2="2157" stroke="#111" stroke-width="3.5" /><line x1="2162.7" y1="1610.8" x2="2169.7" y2="1610.8" stroke="#111" stroke-width="3.5" /><line x1="2894" y1="2164" x2="2894" y2="2151" stroke="#111" stroke-width="3.5" /><line x1="2162.7" y1="1578.3" x2="2175.7" y2="1578.3" stroke="#111" stroke-width="3.5" /><line x1="2934.7" y1="2164" x2="2934.7" y2="2157" stroke="#111" stroke-width="3.5" /><line x1="2162.7" y1="1545.7" x2="2169.7" y2="1545.7" stroke="#111" stroke-width="3.5" /><text transform="translate(2137,2183.5) scale(0.95,1)" text-anchor="end" font-size="56">−5</text><text transform="translate(2162.7,2220) scale(0.95,1)" text-anchor="middle" font-size="56">−5</text><text transform="translate(2137,2118.4) scale(0.95,1)" text-anchor="end" font-size="56">−4</text><text transform="translate(2244,2220) scale(0.95,1)" text-anchor="middle" font-size="56">−4</text><text transform="translate(2137,2053.3) scale(0.95,1)" text-anchor="end" font-size="56">−3</text><text transform="translate(2325.2,2220) scale(0.95,1)" text-anchor="middle" font-size="56">−3</text><text transform="translate(2137,1988.3) scale(0.95,1)" text-anchor="end" font-size="56">−2</text><text transform="translate(2406.5,2220) scale(0.95,1)" text-anchor="middle" font-size="56">−2</text><text transform="translate(2137,1923.2) scale(0.95,1)" text-anchor="end" font-size="56">−1</text><text transform="translate(2487.7,2220) scale(0.95,1)" text-anchor="middle" font-size="56">−1</text><text transform="translate(2137,1858.1) scale(0.95,1)" text-anchor="end" font-size="56">0</text><text transform="translate(2569,2220) scale(0.95,1)" text-anchor="middle" font-size="56">0</text><text transform="translate(2137,1793) scale(0.95,1)" text-anchor="end" font-size="56">1</text><text transform="translate(2650.3,2220) scale(0.95,1)" text-anchor="middle" font-size="56">1</text><text transform="translate(2137,1727.9) scale(0.95,1)" text-anchor="end" font-size="56">2</text><text transform="translate(2731.5,2220) scale(0.95,1)" text-anchor="middle" font-size="56">2</text><text transform="translate(2137,1662.9) scale(0.95,1)" text-anchor="end" font-size="56">3</text><text transform="translate(2812.8,2220) scale(0.95,1)" text-anchor="middle" font-size="56">3</text><text transform="translate(2137,1597.8) scale(0.95,1)" text-anchor="end" font-size="56">4</text><text transform="translate(2894,2220) scale(0.95,1)" text-anchor="middle" font-size="56">4</text><text transform="translate(2137,1532.7) scale(0.95,1)" text-anchor="end" font-size="56">5</text><text transform="translate(2975.3,2220) scale(0.95,1)" text-anchor="middle" font-size="56">5</text><circle cx="2525.2" cy="1756.7" r="9.8" fill="#e8242a" stroke="#c01a20" stroke-width="1.5"/><circle cx="2549.4" cy="1741.6" r="9.8" fill="#e8242a" stroke="#c01a20" stroke-width="1.5"/><circle cx="2550" cy="1720.5" r="9.8" fill="#e8242a" stroke="#c01a20" stroke-width="1.5"/><circle cx="2554.2" cy="1702.3" r="9.8" fill="#e8242a" stroke="#c01a20" stroke-width="1.5"/><circle cx="2560.2" cy="1682.4" r="9.8" fill="#e8242a" stroke="#c01a20" stroke-width="1.5"/><circle cx="2572.3" cy="1665.5" r="9.8" fill="#e8242a" stroke="#c01a20" stroke-width="1.5"/><circle cx="2583.2" cy="1644.9" r="9.8" fill="#e8242a" stroke="#c01a20" stroke-width="1.5"/><circle cx="2585.6" cy="1625" r="9.8" fill="#e8242a" stroke="#c01a20" stroke-width="1.5"/><circle cx="2589.2" cy="1606.9" r="9.8" fill="#e8242a" stroke="#c01a20" stroke-width="1.5"/><circle cx="2607.4" cy="1587.5" r="9.8" fill="#e8242a" stroke="#c01a20" stroke-width="1.5"/><circle cx="2608.6" cy="1566.4" r="9.8" fill="#e8242a" stroke="#c01a20" stroke-width="1.5"/><circle cx="2670.8" cy="1786.9" r="9.8" fill="#3446a8" stroke="#26368a" stroke-width="1.5"/><circle cx="2691.4" cy="1802" r="9.8" fill="#3446a8" stroke="#26368a" stroke-width="1.5"/><circle cx="2716.1" cy="1803.2" r="9.8" fill="#3446a8" stroke="#26368a" stroke-width="1.5"/><circle cx="2739.7" cy="1809.3" r="9.8" fill="#3446a8" stroke="#26368a" stroke-width="1.5"/><circle cx="2764.5" cy="1810.5" r="9.8" fill="#3446a8" stroke="#26368a" stroke-width="1.5"/><circle cx="2789.8" cy="1818.4" r="9.8" fill="#3446a8" stroke="#26368a" stroke-width="1.5"/><circle cx="2814" cy="1821.4" r="9.8" fill="#3446a8" stroke="#26368a" stroke-width="1.5"/><circle cx="2835.2" cy="1830.4" r="9.8" fill="#3446a8" stroke="#26368a" stroke-width="1.5"/><circle cx="2863.6" cy="1831.6" r="9.8" fill="#3446a8" stroke="#26368a" stroke-width="1.5"/><circle cx="2887.7" cy="1836.5" r="9.8" fill="#3446a8" stroke="#26368a" stroke-width="1.5"/><circle cx="2909.5" cy="1845.5" r="9.8" fill="#3446a8" stroke="#26368a" stroke-width="1.5"/><circle cx="2492" cy="1870.9" r="9.8" fill="#3a7a44" stroke="#2a5a32" stroke-width="1.5"/><circle cx="2466.6" cy="1856.4" r="9.8" fill="#3a7a44" stroke="#2a5a32" stroke-width="1.5"/><circle cx="2444.2" cy="1855.8" r="9.8" fill="#3a7a44" stroke="#2a5a32" stroke-width="1.5"/><circle cx="2420.1" cy="1853.4" r="9.8" fill="#3a7a44" stroke="#2a5a32" stroke-width="1.5"/><circle cx="2395.9" cy="1843.7" r="9.8" fill="#3a7a44" stroke="#2a5a32" stroke-width="1.5"/><circle cx="2372.9" cy="1841.3" r="9.8" fill="#3a7a44" stroke="#2a5a32" stroke-width="1.5"/><circle cx="2347" cy="1837.7" r="9.8" fill="#3a7a44" stroke="#2a5a32" stroke-width="1.5"/><circle cx="2324.6" cy="1830.4" r="9.8" fill="#3a7a44" stroke="#2a5a32" stroke-width="1.5"/><circle cx="2299.2" cy="1826.2" r="9.8" fill="#3a7a44" stroke="#2a5a32" stroke-width="1.5"/><circle cx="2273.2" cy="1815.3" r="9.8" fill="#3a7a44" stroke="#2a5a32" stroke-width="1.5"/><circle cx="2250.9" cy="1811.1" r="9.8" fill="#3a7a44" stroke="#2a5a32" stroke-width="1.5"/><circle cx="2617.6" cy="1898.7" r="9.8" fill="#9a3fa0" stroke="#7a2e80" stroke-width="1.5"/><circle cx="2612.8" cy="1918" r="9.8" fill="#9a3fa0" stroke="#7a2e80" stroke-width="1.5"/><circle cx="2612.8" cy="1937.4" r="9.8" fill="#9a3fa0" stroke="#7a2e80" stroke-width="1.5"/><circle cx="2602.5" cy="1957.3" r="9.8" fill="#9a3fa0" stroke="#7a2e80" stroke-width="1.5"/><circle cx="2593.5" cy="1974.2" r="9.8" fill="#9a3fa0" stroke="#7a2e80" stroke-width="1.5"/><circle cx="2591.7" cy="1993.6" r="9.8" fill="#9a3fa0" stroke="#7a2e80" stroke-width="1.5"/><circle cx="2582.6" cy="2012.9" r="9.8" fill="#9a3fa0" stroke="#7a2e80" stroke-width="1.5"/><circle cx="2569.3" cy="2031" r="9.8" fill="#9a3fa0" stroke="#7a2e80" stroke-width="1.5"/><circle cx="2567.5" cy="2049.8" r="9.8" fill="#9a3fa0" stroke="#7a2e80" stroke-width="1.5"/><circle cx="2559" cy="2070.9" r="9.8" fill="#9a3fa0" stroke="#7a2e80" stroke-width="1.5"/><circle cx="2549.4" cy="2090.2" r="9.8" fill="#9a3fa0" stroke="#7a2e80" stroke-width="1.5"/><circle cx="2858" cy="1566.4" r="9.8" fill="#e8242a" stroke="#c01a20" stroke-width="1.5"/><text transform="translate(2885,1584.4)" text-anchor="start" font-size="57">A</text><circle cx="2858" cy="1616.6" r="9.8" fill="#3446a8" stroke="#26368a" stroke-width="1.5"/><text transform="translate(2885,1634.6)" text-anchor="start" font-size="57">B</text><circle cx="2858" cy="1666.8" r="9.8" fill="#9a3fa0" stroke="#7a2e80" stroke-width="1.5"/><text transform="translate(2885,1684.8)" text-anchor="start" font-size="57">C</text><circle cx="2858" cy="1717" r="9.8" fill="#3a7a44" stroke="#2a5a32" stroke-width="1.5"/><text transform="translate(2885,1735)" text-anchor="start" font-size="57">D</text><text transform="translate(1980,1532)" text-anchor="start" font-size="56">(b2)</text><text transform="translate(2046,1842) rotate(-90)" text-anchor="middle" font-size="56"><tspan font-style="italic">y</tspan>/μm</text><text transform="translate(2548,2281)" text-anchor="middle" font-size="56"><tspan font-style="italic">x</tspan>/μm</text><g transform="translate(226.5,860.5) scale(4.04861)" shape-rendering="crispEdges" stroke-width="1.04" fill="none"><rect width="72" height="72" fill="#3e8ed0"/><path stroke="#2e3d89" d="M2 0.5h1m9 0h1m13 0h1m18 0h1m16 0h1M26 1.5h1m18 0h1M26 2.5h1m18 0h1m24 0h1M7 3.5h1m18 0h1m18 0h1m11 0h1m10 0h1M9 4.5h1m16 0h1m18 0h1m9 0h1m10 0h1M26 5.5h1m18 0h1M26 6.5h1m18 0h1m17 0h1M14 7.5h1m11 0h1m18 0h1m15 0h1M16 8.5h1m9 0h1m18 0h1M0 9.5h2m24 0h1m18 0h1m12 0h1M2 10.5h2m15 0h1m6 0h1m18 0h1m10 0h1M4 11.5h1m16 0h1m4 0h1m18 0h1m8 0h1M6 12.5h1m19 0h1m18 0h1M7 13.5h2m37 0h1m4 0h1M9 14.5h2m38 0h1M11 15.5h1m18 0h7m12 0h1M13 16.5h1m12 0h1m12 0h1m10 0h1M14 17.5h2m35 0h1M16 18.5h1m5 0h1m29 0h1M20 19.5h1M19 20.5h1m26 0h1M18 21.5h1m28 0h1m6 0h1M0 22.5h2m15 0h1m12 0h4M2 23.5h2m12 0h1m9 0h1m9 0h1m11 0h1M4 24.5h2m9 0h1m8 0h1m13 0h1m10 0h1M6 25.5h2m15 0h1M8 26.5h1m31 0h1m9 0h1M10 27.5h1m30 0h1m8 0h1M11 28.5h1m8 0h1m20 0h1m15 0h1M19 29.5h1M12 30.5h1m56 0h1M0 31.5h1m17 0h1m32 0h1m15 0h1M30 32.5h1m10 0h1m9 0h1m13 0h1M3 33.5h1m23 0h1m23 0h1M5 34.5h1m5 0h1m5 0h1m8 0h1m35 0h1M7 35.5h1M25 36.5h1m24 0h1m13 0h1M9 37.5h1m40 0h1m6 0h1m8 0h1M24 38.5h1m32 0h1m10 0h1M6 39.5h1m17 0h1m24 0h1M4 40.5h1m19 0h1m23 0h1m22 0h1M2 41.5h1m21 0h1m11 0h1m19 0h1M36 42.5h1m9 0h1M17 43.5h1m19 0h1m7 0h1m9 0h1m4 0h1M25 44.5h1m13 0h5m17 0h2M63 45.5h1M18 46.5h1m7 0h1m26 0h1m11 0h1M52 47.5h1m13 0h2M19 48.5h1m31 0h1m16 0h2M70 49.5h2M30 50.5h1m17 0h1M21 51.5h1M22 52.5h1m11 0h1m9 0h1M23 53.5h1m30 0h2M24 54.5h1m31 0h2M25 55.5h1m25 0h1m6 0h1M27 56.5h1m32 0h1M22 57.5h1m6 0h1m31 0h2M20 58.5h1m11 0h1m12 0h1m17 0h2M26 59.5h1m10 0h3m5 0h1m19 0h1M17 60.5h1m8 0h1m18 0h1m4 0h1m16 0h1M15 61.5h1m10 0h1m18 0h1m22 0h2M26 62.5h1m18 0h1m24 0h1M26 63.5h1m18 0h1m9 0h1M10 64.5h1m15 0h1m18 0h1m11 0h1M8 65.5h1m17 0h1m18 0h1M26 66.5h1m18 0h1M5 67.5h1m10 0h1m9 0h1m18 0h1m16 0h1M3 68.5h1m10 0h1m11 0h1m18 0h1m18 0h1M1 69.5h1m24 0h1m18 0h1M26 70.5h1m18 0h1m21 0h1M9 71.5h1m16 0h1m18 0h1m13 0h1m9 0h1"/><path stroke="#364fa1" d="M4 1.5h1m9 0h1m45 0h1m10 0h1M6 2.5h1m9 0h1m41 0h1m10 0h1M8 3.5h1M11 5.5h1m52 0h1M13 6.5h1m48 0h1M0 8.5h1m58 0h1M2 9.5h1m15 0h1m38 0h1M4 10.5h1m15 0h1m34 0h1M5 11.5h2m34 0h1M7 12.5h1m36 0h1m7 0h1M9 13.5h1m40 0h1M11 14.5h1M12 15.5h2M14 16.5h1m12 0h1m10 0h1M16 17.5h1m7 0h1m16 0h1M17 18.5h1m25 0h1M44 19.5h1M53 20.5h1M47 22.5h1M1 23.5h1m25 0h2m5 0h2m19 0h1M3 24.5h1m21 0h1M5 25.5h1m33 0h1m9 0h1m6 0h1M7 26.5h1m6 0h1m7 0h1M8 27.5h2m11 0h1m18 0h1M10 28.5h1m2 0h1m36 0h1M41 29.5h1m15 0h1m13 0h1M19 30.5h1m21 0h1m15 0h1M12 31.5h1m28 0h1M1 32.5h1m16 0h1m47 0h1M28 33.5h2m9 0h1m24 0h1M27 34.5h1M6 35.5h1m4 0h1m5 0h1m8 0h1m23 0h1m6 0h1m3 0h1M10 36.5h2m5 0h1m39 0h1m7 0h1M11 37.5h1m13 0h1M7 38.5h1m3 0h1m37 0h1M5 39.5h1m5 0h1m36 0h1m21 0h1M3 40.5h1m7 0h1m24 0h1m19 0h1M11 41.5h1m5 0h1m29 0h1M0 42.5h1m16 0h1m19 0h1m17 0h1M25 43.5h1m12 0h2m3 0h2m16 0h1M54 44.5h1m8 0h1M18 45.5h1m7 0h1m37 0h2M66 46.5h1M27 47.5h1m40 0h1M28 48.5h1m41 0h1M20 49.5h1m8 0h1m19 0h1M32 51.5h1m13 0h1M35 52.5h2m5 0h2M52 54.5h1m2 0h1M57 55.5h1M49 56.5h1m8 0h2M47 57.5h1m12 0h1M21 58.5h1m11 0h1m10 0h1m17 0h1M19 59.5h1m44 0h1M65 60.5h2M16 61.5h1m34 0h1m15 0h1M14 62.5h1m38 0h1m15 0h1M12 63.5h1m57 0h2M9 65.5h1m48 0h1M7 66.5h1m52 0h1M63 68.5h1M2 69.5h1m10 0h1m41 0h1m9 0h1M0 70.5h1m10 0h1m45 0h1"/><path stroke="#405db2" d="M3 0.5h1m9 0h1m47 0h1M5 1.5h1m64 0h1M56 3.5h1m10 0h1M10 4.5h1m43 0h1m10 0h1M12 5.5h1m50 0h1M0 7.5h1m14 0h1m44 0h1M1 8.5h2m14 0h1m40 0h1M3 9.5h1m52 0h1M5 10.5h1M7 11.5h1m32 0h1m12 0h1M8 12.5h2m33 0h1m7 0h1M10 13.5h1m34 0h1M12 14.5h1m34 0h1M14 15.5h1m33 0h1M15 16.5h2m11 0h1m8 0h1m11 0h1M17 17.5h1m7 0h1m14 0h1M23 18.5h1m18 0h1M21 19.5h1m30 0h1M20 20.5h1m24 0h1M46 21.5h1M54 22.5h1M0 23.5h1m28 0h5M2 24.5h1m33 0h2m10 0h1M4 25.5h1m10 0h1m8 0h1m13 0h1M5 26.5h2m16 0h1m15 0h1m9 0h1m6 0h1M7 27.5h1m6 0h1M9 28.5h1m30 0h1M10 29.5h2m1 0h1m6 0h1m29 0h1M50 30.5h1m19 0h1M19 31.5h1m30 0h1m6 0h1m10 0h1M12 32.5h1m27 0h1m9 0h1m6 0h1M2 33.5h1m15 0h1m11 0h2m18 0h1m6 0h1m7 0h1M4 34.5h1m23 0h1m21 0h1m6 0h1m5 0h1M27 35.5h1M26 36.5h1M8 37.5h1m8 0h1m31 0h1m17 0h1M6 38.5h1m10 0h1m7 0h1m43 0h1M17 39.5h1m7 0h1m30 0h1M17 40.5h1m7 0h1m21 0h1M1 41.5h1m23 0h1m11 0h1m8 0h1M25 42.5h1m12 0h1m5 0h2m14 0h2M40 43.5h3m19 0h1M12 44.5h1m5 0h1m7 0h1m37 0h1M53 45.5h1m12 0h1M27 46.5h1m24 0h1m14 0h1M19 47.5h1m31 0h1m17 0h1M29 48.5h1m20 0h1m20 0h1M30 49.5h1M21 50.5h1m9 0h1m15 0h1m8 0h1M22 51.5h1m10 0h2m10 0h1m9 0h1M23 52.5h1m13 0h5m12 0h1M53 53.5h1M25 54.5h1m28 0h1M26 55.5h1m23 0h1m4 0h2M28 56.5h1m19 0h1m8 0h1M30 57.5h1m15 0h1m12 0h1M34 58.5h1m7 0h2m17 0h1M20 59.5h1m41 0h2M18 60.5h1m45 0h1M66 61.5h1M15 62.5h1m36 0h1m15 0h1M13 63.5h1m40 0h1m14 0h1M11 64.5h1m44 0h1m14 0h1M8 66.5h1m50 0h1M6 67.5h1m10 0h1m43 0h1M4 68.5h1m10 0h1M1 70.5h1m64 0h1M10 71.5h1m47 0h1m9 0h1"/><path stroke="#65c0da" d="M4 0.5h1m55 0h1M6 1.5h1m62 0h1M67 2.5h1M55 3.5h1M11 4.5h1m52 0h1M13 5.5h1m48 0h1M0 6.5h1m59 0h1M2 7.5h1M4 8.5h1m13 0h1m38 0h1M6 9.5h1m13 0h1m34 0h1M7 10.5h1m45 0h1M9 11.5h1m28 0h1m32 0h1M11 12.5h1m30 0h1m7 0h1m18 0h3M12 13.5h1m31 0h1m23 0h2M14 14.5h1m31 0h1m19 0h3M16 15.5h1m47 0h3M18 16.5h1m12 0h4m27 0h3M27 17.5h1m10 0h1m22 0h2M24 18.5h1m34 0h3m9 0h1M57 19.5h3m10 0h2M21 20.5h1m22 0h1m7 0h1m3 0h2m10 0h3M45 21.5h1m20 0h3M46 22.5h1m17 0h3M54 23.5h1m8 0h2M0 24.5h1m27 0h1m4 0h2m25 0h3M1 25.5h1m23 0h1m10 0h1m18 0h1m3 0h2M3 26.5h1m11 0h1m8 0h1m23 0h1m10 0h1M5 27.5h1m17 0h1m14 0h1M7 28.5h1m6 0h1m7 0h1m16 0h1m9 0h1m6 0h1M8 29.5h1m12 0h1m27 0h1m6 0h1M10 30.5h1m2 0h1m35 0h1M19 32.5h1m48 0h1M1 33.5h1m47 0h1m16 0h1M3 34.5h1m8 0h1m17 0h1m18 0h1M12 35.5h1m5 0h1m9 0h1M8 36.5h1m9 0h1m8 0h1m28 0h1M18 37.5h1m8 0h1m20 0h1m7 0h1M5 38.5h1m64 0h1M3 39.5h1m22 0h1m20 0h1M26 40.5h1m10 0h1m8 0h1m8 0h1M12 41.5h1m5 0h1m7 0h1m11 0h1m5 0h1m16 0h1M12 42.5h1m5 0h1m7 0h1m14 0h1m12 0h1m8 0h1M64 43.5h1M27 44.5h1m25 0h1m12 0h1M12 45.5h1m6 0h1m32 0h1m15 0h1M10 46.5h4m14 0h1m22 0h1m18 0h1M9 47.5h2m18 0h1m20 0h1m20 0h1M7 48.5h2m5 0h1m15 0h1m26 0h1M5 49.5h2m14 0h1m9 0h1m24 0h1M3 50.5h3m9 0h1m6 0h1m10 0h1m11 0h1M1 51.5h3m10 0h2m20 0h2m3 0h2M0 52.5h2m10 0h3M0 53.5h1m9 0h3m39 0h1M9 54.5h2m15 0h1M7 55.5h3m39 0h1m3 0h1M5 56.5h3m39 0h1m7 0h1M4 57.5h2m26 0h1m11 0h1m12 0h1M2 58.5h2m54 0h2M0 59.5h3m18 0h1m38 0h1M0 60.5h1m61 0h1M18 61.5h1m45 0h1M16 62.5h1m34 0h1m13 0h1M14 63.5h1m38 0h1m13 0h1M69 64.5h1M11 65.5h1m59 0h1M9 66.5h1m48 0h1M60 67.5h1M16 68.5h1M4 69.5h1m58 0h1M2 70.5h1m62 0h1M11 71.5h1m55 0h1"/><path stroke="#62c8af" d="M5 0.5h1m8 0h1m9 0h1m22 0h1m22 0h1M24 1.5h1m22 0h1m10 0h1m9 0h1M8 2.5h1m15 0h1m22 0h1M10 3.5h1m13 0h1m22 0h1m17 0h1M24 4.5h1m22 0h1m15 0h1M0 5.5h1m23 0h1m22 0h1M1 6.5h1m13 0h1m8 0h1m22 0h1M3 7.5h1m13 0h1m6 0h1m22 0h1m10 0h1M5 8.5h1m18 0h1m22 0h1m8 0h1M7 9.5h1m16 0h1m22 0h1M8 10.5h1m15 0h1m22 0h1m23 0h1M10 11.5h1m13 0h1m12 0h1m9 0h1m3 0h1m17 0h2M12 12.5h1m11 0h1m16 0h1m5 0h1m1 0h1m17 0h2M13 13.5h1m10 0h1m22 0h1m18 0h2M15 14.5h1m48 0h2M17 15.5h1m29 0h1m14 0h2M19 16.5h1m28 0h1m12 0h1M28 17.5h1m8 0h1m11 0h1m9 0h2M25 18.5h1m14 0h1m9 0h1m6 0h2M23 19.5h1m18 0h1m8 0h1m3 0h2M43 20.5h1m27 0h1M20 21.5h1m48 0h2M19 22.5h1m33 0h1m13 0h2M18 23.5h1m27 0h1m18 0h2M29 24.5h4m14 0h1m15 0h2M0 25.5h1m15 0h1m9 0h1m8 0h1m25 0h2M2 26.5h1m34 0h1m17 0h1m4 0h2M4 27.5h1m43 0h1M6 28.5h1M7 29.5h1m31 0h1M9 30.5h1m29 0h1m16 0h1M13 31.5h1m6 0h1m18 0h1m9 0h1m6 0h1m13 0h1M39 32.5h1m9 0h1m6 0h1M19 33.5h1m36 0h1m10 0h1M2 34.5h1m16 0h1m11 0h1m24 0h1m8 0h1M4 35.5h1m24 0h1m18 0h1m7 0h1m6 0h1M12 36.5h1m15 0h1m19 0h1m18 0h1M6 37.5h1m5 0h1m56 0h1M4 38.5h1m7 0h1m5 0h1m8 0h1m19 0h1M12 39.5h1m5 0h1m8 0h1m18 0h1m8 0h1M1 40.5h1m10 0h1m5 0h1m26 0h1M39 41.5h5m18 0h1M27 42.5h1m36 0h1M27 43.5h1m25 0h1m11 0h1M19 44.5h1m39 0h1m7 0h1M10 45.5h2m1 0h1m14 0h1m40 0h1M9 46.5h1m48 0h1m12 0h1M7 47.5h2m11 0h1M5 48.5h2m14 0h1m9 0h1m16 0h1M3 49.5h2m27 0h1m14 0h1M1 50.5h2m31 0h1m9 0h1m10 0h1M0 51.5h1m15 0h1m6 0h1m14 0h3m13 0h1M15 52.5h2m7 0h1m28 0h1M13 53.5h2m10 0h1M11 54.5h2m37 0h1M10 55.5h2m16 0h1m23 0h1M8 56.5h2m20 0h1m15 0h1m7 0h1M6 57.5h2m25 0h2m8 0h1m12 0h1M4 58.5h2m18 0h1m22 0h1M3 59.5h2m17 0h1m1 0h1m22 0h1m11 0h1M1 60.5h2m17 0h1m3 0h1m22 0h1m13 0h1M0 61.5h1m23 0h1m22 0h1m15 0h1M24 62.5h1m22 0h1m16 0h1M15 63.5h1m8 0h1m22 0h1m18 0h1M13 64.5h1m10 0h1m22 0h1m6 0h1m13 0h1M24 65.5h1m22 0h1m8 0h1m13 0h1M24 66.5h1m22 0h1m23 0h1M8 67.5h1m15 0h1m22 0h1m11 0h1M6 68.5h1m17 0h1m22 0h1m13 0h1M24 69.5h1m22 0h1M3 70.5h1m9 0h1m10 0h1m22 0h1M1 71.5h1m22 0h1m22 0h1m9 0h1m8 0h1"/><path stroke="#68c87c" d="M7 1.5h1M9 2.5h1m46 0h1m9 0h1M64 3.5h1M12 4.5h1M1 5.5h1m12 0h1m46 0h1M2 6.5h1m56 0h1M4 7.5h1m52 0h1M6 8.5h1m12 0h1M54 9.5h1m16 0h1M9 10.5h1m42 0h1m16 0h2M11 11.5h1m18 0h7m31 0h1M13 12.5h1m26 0h1m25 0h1M14 13.5h1m28 0h1m20 0h2M16 14.5h1m28 0h1m16 0h2M18 15.5h1m42 0h1M59 16.5h2M29 17.5h2m4 0h2m20 0h2M26 18.5h1m12 0h1m15 0h2M41 19.5h1M22 20.5h1M44 21.5h1m7 0h1m18 0h1M45 22.5h1m23 0h2M67 23.5h2M17 24.5h1m36 0h1m10 0h2M27 25.5h2m4 0h2m12 0h1m15 0h2M1 26.5h1m23 0h1m10 0h1m25 0h1M3 27.5h1m11 0h1m8 0h1m12 0h1m17 0h1m4 0h2M5 28.5h1m17 0h1m14 0h1m9 0h1M6 29.5h1m7 0h1m7 0h1m15 0h1m9 0h1M8 30.5h1m12 0h1M10 31.5h1m60 0h1M13 32.5h1m6 0h1m48 0h1M0 33.5h1m47 0h1M48 34.5h1M19 35.5h1m10 0h1m33 0h1M7 36.5h1m21 0h1M28 37.5h1m18 0h1M46 38.5h1m8 0h1m15 0h1M2 39.5h1m42 0h1M0 40.5h1m26 0h1m10 0h1m4 0h2m16 0h1M27 41.5h1m26 0h1m5 0h1m2 0h1M65 42.5h1M19 43.5h1m46 0h1M10 44.5h2m1 0h1m14 0h1m23 0h1m15 0h1M9 45.5h1m41 0h1m18 0h1M7 46.5h2m11 0h1m8 0h1m20 0h1M5 47.5h2m7 0h1m15 0h1m18 0h1m7 0h1M3 48.5h2M1 49.5h2m12 0h1m6 0h1m10 0h1m12 0h1M0 50.5h1m34 0h2m6 0h1M17 52.5h1M15 53.5h2m34 0h1M13 54.5h2m12 0h1M12 55.5h1m16 0h1m18 0h1M10 56.5h1m20 0h1m21 0h1M8 57.5h2m25 0h2m4 0h2m12 0h1M6 58.5h2m49 0h1M5 59.5h1m52 0h1M3 60.5h2m55 0h1M1 61.5h2m16 0h1m42 0h1M0 62.5h1m16 0h1M52 63.5h1m12 0h1M14 64.5h1m52 0h1M12 65.5h1m42 0h1m13 0h1M10 66.5h1m46 0h1m12 0h1M7 68.5h1M5 69.5h1m9 0h1m46 0h1M64 70.5h1"/><path stroke="#96d060" d="M6 0.5h1m8 0h1m2 0h1m34 0h1m5 0h1m9 0h1M18 1.5h1m34 0h1m3 0h1m9 0h1M18 2.5h1m34 0h1M11 3.5h1m6 0h1m34 0h1M0 4.5h1m12 0h1m4 0h1m34 0h1m8 0h1M18 5.5h1m34 0h1m6 0h1M3 6.5h1m12 0h1M5 7.5h1m12 0h1M7 8.5h1m47 0h1m15 0h1M8 9.5h1m44 0h1m16 0h1M10 10.5h1m57 0h1M12 11.5h1m37 0h1m15 0h2M14 12.5h1m12 0h1m11 0h1m24 0h2M15 13.5h1m26 0h1m20 0h1M17 14.5h1m26 0h1m16 0h1M19 15.5h1m26 0h1m12 0h2M57 16.5h2M31 17.5h4m21 0h1M27 18.5h1m10 0h1m15 0h1M24 19.5h1m15 0h1M42 20.5h1m8 0h1M21 21.5h1m21 0h1M71 22.5h1M45 23.5h1m7 0h1m15 0h1M46 24.5h1m20 0h1M29 25.5h4m21 0h1m10 0h1M0 26.5h1m15 0h1m9 0h1m7 0h2m11 0h1m15 0h2M2 27.5h1m33 0h1m25 0h1M4 28.5h1m10 0h1m21 0h1m17 0h1m4 0h1M55 29.5h1M7 30.5h1m6 0h1m23 0h1m9 0h1M9 31.5h1m11 0h1m26 0h1M48 32.5h1M13 33.5h1m6 0h1m47 0h1M1 34.5h1m11 0h1m52 0h1M3 35.5h1M19 36.5h1m27 0h1m7 0h1m12 0h1M5 37.5h1m13 0h1m26 0h1m8 0h1m14 0h1M3 38.5h1m15 0h1m8 0h1m16 0h1M19 39.5h1m8 0h1m8 0h1m6 0h1M19 40.5h1m8 0h1m10 0h4m11 0h1m5 0h1m1 0h1M19 41.5h1m8 0h1m35 0h1M19 42.5h1m8 0h1m24 0h1M11 43.5h1m1 0h1m14 0h1m30 0h1m7 0h1M9 44.5h1m59 0h1M7 45.5h2m11 0h1m8 0h1m28 0h1m12 0h1M6 46.5h1m7 0h1m15 0h1M4 47.5h1m16 0h1m9 0h1M2 48.5h1m29 0h1m14 0h1m8 0h1M0 49.5h1m33 0h1m10 0h1m9 0h1M16 50.5h1m6 0h1m13 0h6m11 0h1M53 51.5h1M25 52.5h1m26 0h1M17 53.5h2m7 0h1M15 54.5h1m3 0h1m29 0h1M13 55.5h2m5 0h1m26 0h1M11 56.5h2m8 0h1m10 0h1m12 0h1m6 0h1M10 57.5h1m26 0h4m13 0h1M8 58.5h1m47 0h1M6 59.5h2m49 0h1M5 60.5h1m15 0h1m37 0h1M3 61.5h1m57 0h1M1 62.5h1m16 0h1m44 0h1M0 63.5h1m15 0h1m47 0h1M53 64.5h1m12 0h1M68 65.5h1M11 66.5h1m6 0h1m34 0h1M9 67.5h1m8 0h1m34 0h1m4 0h1m12 0h1M18 68.5h1m34 0h1m6 0h1M18 69.5h1m34 0h1M4 70.5h1m9 0h1m3 0h1m34 0h1M2 71.5h1m9 0h1m5 0h1m34 0h1m2 0h1m8 0h1"/><path stroke="#c6d444" d="M68 0.5h1M8 1.5h1M10 2.5h1m44 0h1m9 0h1M63 3.5h1M2 5.5h1m12 0h1M4 6.5h1m12 0h1m40 0h1M6 7.5h1m49 0h1M70 8.5h1M9 9.5h1m58 0h2M11 10.5h1m39 0h1m15 0h1M13 11.5h1m51 0h1M28 12.5h1m9 0h1m24 0h1M16 13.5h1m24 0h1m19 0h2M18 14.5h1m41 0h1M20 15.5h1m37 0h1M47 16.5h1m8 0h1M48 17.5h1m5 0h2M28 18.5h1m7 0h2m11 0h1M25 19.5h1m13 0h1m10 0h1M23 20.5h1m17 0h1M20 22.5h1m23 0h1m7 0h1M19 23.5h1m50 0h2M18 24.5h1m49 0h1M17 25.5h1m28 0h1m19 0h2M27 26.5h2m4 0h1m20 0h1m10 0h1M1 27.5h1m23 0h1m9 0h1m11 0h1m15 0h1M3 28.5h1m20 0h1m11 0h1m24 0h1M5 29.5h1m17 0h1m13 0h1m22 0h1M6 30.5h1m15 0h1m32 0h1M8 31.5h1m5 0h1m23 0h1m16 0h1M10 32.5h1m10 0h1m33 0h1m14 0h1M55 33.5h1M20 34.5h1m11 0h1m14 0h1m7 0h1m11 0h1M13 35.5h1m17 0h1m15 0h1m7 0h1m9 0h1M6 36.5h1m6 0h1m16 0h1m15 0h1M4 37.5h1m24 0h1M29 38.5h1M1 39.5h1m36 0h1m3 0h2m10 0h1m5 0h2M13 40.5h1m49 0h1M13 41.5h1m39 0h1m11 0h1M11 42.5h1m1 0h1m45 0h1m6 0h1M9 43.5h2m18 0h1m22 0h1m15 0h1M8 44.5h1m11 0h1m8 0h1m21 0h1m18 0h1M6 45.5h1m23 0h1m19 0h1M4 46.5h2m43 0h1m7 0h1M3 47.5h1m44 0h1M0 48.5h2m13 0h1m6 0h1m10 0h1m12 0h1M35 49.5h2m6 0h2M17 51.5h1m6 0h1M50 53.5h1M16 54.5h2m10 0h1M15 55.5h1m14 0h1M13 56.5h1m19 0h1m9 0h2m6 0h1M11 57.5h1m41 0h1M9 58.5h2m44 0h1M8 59.5h1M6 60.5h1m51 0h1M4 61.5h1m15 0h1m39 0h1M2 62.5h2m58 0h1M1 63.5h1M15 64.5h1m49 0h1M13 65.5h1m40 0h1m12 0h1M56 66.5h1m12 0h1M10 67.5h1m59 0h1M8 68.5h1M6 69.5h1m9 0h1m44 0h1M63 70.5h1M3 71.5h1"/><path stroke="#e4e13e" d="M7 0.5h1m15 0h1m24 0h1m9 0h1M23 1.5h1m24 0h1m17 0h1M23 2.5h1m24 0h1m15 0h1M0 3.5h1m11 0h1m10 0h1m24 0h1M1 4.5h1m12 0h1m8 0h1m24 0h1m12 0h1M3 5.5h1m19 0h1m24 0h1m10 0h1M5 6.5h1m17 0h1m24 0h1m8 0h1M19 7.5h1m3 0h1m24 0h1m22 0h1M8 8.5h1m14 0h1m24 0h1m5 0h1m14 0h1M10 9.5h1m12 0h1m24 0h1m3 0h1m14 0h1M12 10.5h1m10 0h1m24 0h1m16 0h2M23 11.5h1m24 0h1m15 0h1M15 12.5h1m7 0h1m5 0h2m5 0h2m10 0h1m13 0h1M17 13.5h1m5 0h1m1 0h1m22 0h1m11 0h1M19 14.5h1m3 0h1m19 0h1m15 0h1M21 15.5h1m23 0h1m11 0h1M55 16.5h1M53 17.5h1M29 18.5h2m3 0h2M26 19.5h1m11 0h1M22 21.5h1m19 0h1m8 0h1M43 22.5h1M44 23.5h1M45 24.5h1m7 0h1m15 0h2M68 25.5h1M29 26.5h4m13 0h1m19 0h1M0 27.5h1m15 0h1m9 0h2m6 0h1m19 0h1m9 0h1M2 28.5h1m22 0h1m9 0h1m11 0h1m14 0h2M4 29.5h1m10 0h1m20 0h1m10 0h1m13 0h1M23 30.5h1m13 0h1m9 0h1M7 31.5h1m14 0h1m24 0h1M9 32.5h1m4 0h1m23 0h1m8 0h1m23 0h1M21 33.5h1m25 0h1m21 0h1M0 34.5h1M2 35.5h1m17 0h1m25 0h1M20 36.5h1m10 0h1m37 0h1M13 37.5h1m16 0h1m14 0h1m25 0h1M2 38.5h1m10 0h1m29 0h2m9 0h1m5 0h1M0 39.5h1m12 0h1m15 0h1m9 0h3m20 0h1M29 40.5h1m23 0h1m10 0h1M29 41.5h1M10 42.5h1m9 0h1m8 0h1m22 0h1m14 0h1M8 43.5h1m11 0h1m48 0h1M7 44.5h1m22 0h1m27 0h1m12 0h1M5 45.5h1m8 0h1M3 46.5h1m17 0h1m9 0h1M1 47.5h2m12 0h1m16 0h1m23 0h1M34 48.5h1m10 0h1M16 49.5h1m6 0h1m13 0h6M18 52.5h1m7 0h1m24 0h1M27 53.5h1M18 54.5h1m10 0h1m18 0h1M16 55.5h1m14 0h1m14 0h1M14 56.5h1m19 0h2m6 0h1M12 57.5h2m9 0h1m28 0h1M11 58.5h1m11 0h1m24 0h1m5 0h1M9 59.5h1m13 0h1m24 0h1m7 0h1M7 60.5h1m15 0h1m24 0h1M5 61.5h2m16 0h1m11 0h2m11 0h1m10 0h1M4 62.5h1m14 0h1m3 0h1m11 0h2m11 0h1m12 0h1M2 63.5h1m14 0h1m5 0h1m11 0h2m11 0h1m14 0h1M0 64.5h1m22 0h1m11 0h2m11 0h1m3 0h1m11 0h1M14 65.5h1m8 0h1m11 0h2m11 0h1m17 0h1M12 66.5h1m10 0h1m11 0h2m11 0h1m19 0h1M23 67.5h1m11 0h2m11 0h1m8 0h1M23 68.5h1m11 0h2m11 0h1m10 0h1m11 0h1M7 69.5h1m15 0h1m11 0h2m11 0h1M5 70.5h1m17 0h1m11 0h2m11 0h1M13 71.5h1m9 0h1m11 0h2m11 0h1m15 0h1"/><path stroke="#c6d444" d="M33 0.5h6m28 0h1M9 1.5h1m23 0h6m17 0h1M11 2.5h1m21 0h6M33 3.5h6m23 0h1M2 4.5h1m30 0h6m21 0h1M4 5.5h1m11 0h1m16 0h6M6 6.5h1m11 0h1m14 0h6m32 0h1M7 7.5h1m25 0h6m16 0h1m14 0h1M9 8.5h1m23 0h6m14 0h1m14 0h1M11 9.5h1m21 0h6m27 0h1M33 10.5h6m25 0h1M14 11.5h1m48 0h1M16 12.5h1m14 0h5m25 0h1M18 13.5h1m7 0h1m13 0h1m18 0h1M42 14.5h1m14 0h2M44 15.5h1m11 0h1M20 16.5h1m25 0h1m7 0h1M47 17.5h1M31 18.5h3m14 0h1M27 19.5h1m9 0h1m11 0h1M24 20.5h1m15 0h1m9 0h1M41 21.5h1M21 22.5h1M20 23.5h1m31 0h1M71 24.5h1M18 25.5h1m26 0h1m7 0h1m15 0h1M17 26.5h1m49 0h1M28 27.5h2m2 0h2m12 0h1m18 0h1M1 28.5h1m14 0h1m9 0h1m7 0h1m19 0h1m9 0h1M3 29.5h1m20 0h1m37 0h1M5 30.5h1m9 0h1m20 0h1m23 0h1M37 31.5h1M8 32.5h1m13 0h1M10 33.5h1m3 0h1M21 34.5h1m24 0h1m21 0h1M32 35.5h1m33 0h1M5 36.5h1m39 0h1m8 0h1m5 0h1M3 37.5h1m16 0h1m23 0h1m9 0h1m5 0h1M20 38.5h1m9 0h1m10 0h2m18 0h1M20 39.5h1m9 0h1m32 0h1M20 40.5h1M20 41.5h1m38 0h1m6 0h1M9 42.5h1m20 0h1m37 0h1M7 43.5h1m6 0h1m15 0h1m20 0h1m6 0h1m11 0h1M5 44.5h2m7 0h1m35 0h1M4 45.5h1m16 0h1m9 0h1m17 0h1m7 0h1M2 46.5h1m29 0h1m15 0h1M0 47.5h1m21 0h1m10 0h1m13 0h1M23 48.5h1m11 0h2m7 0h1m10 0h1M54 49.5h1M17 50.5h1m6 0h1m28 0h1M25 51.5h1m26 0h1M19 53.5h1m8 0h1m20 0h1M20 54.5h1M17 55.5h1m3 0h1m10 0h1m12 0h1M15 56.5h1m6 0h1m13 0h6M14 57.5h1M12 58.5h1m12 0h1m27 0h1M10 59.5h1m16 0h1m27 0h1M8 60.5h1m48 0h1M7 61.5h1m25 0h2m2 0h2m19 0h1M5 62.5h1m27 0h2m2 0h2m21 0h1M3 63.5h1m14 0h1m14 0h2m2 0h2m23 0h1M1 64.5h1m14 0h1m16 0h2m2 0h2M0 65.5h1m32 0h2m2 0h2m14 0h1m11 0h1M33 66.5h2m2 0h2m16 0h1m11 0h1M11 67.5h1m21 0h2m2 0h2m30 0h1M9 68.5h1m23 0h2m2 0h2M33 69.5h2m2 0h2m21 0h1M15 70.5h1m17 0h2m2 0h2m23 0h1M4 71.5h1m28 0h2m2 0h2"/><path stroke="#96d060" d="M8 0.5h1m23 0h1m6 0h1m17 0h1M32 1.5h1m6 0h1m25 0h1M32 2.5h1m6 0h1m23 0h1M1 3.5h1m11 0h1m18 0h1m6 0h1M3 4.5h1m11 0h1m16 0h1m6 0h1M5 5.5h1m26 0h1m6 0h1m18 0h1M32 6.5h1m6 0h1m16 0h1m13 0h1M8 7.5h1m23 0h1m6 0h1m29 0h1M10 8.5h1m21 0h1m6 0h1m27 0h1M32 9.5h1m6 0h1m11 0h1m13 0h1M13 10.5h1m18 0h1m6 0h1m23 0h1M15 11.5h1m46 0h1M17 12.5h1m42 0h1M27 13.5h1m11 0h1m18 0h1M20 14.5h1m3 0h1m31 0h1M22 15.5h1m32 0h1M53 16.5h1M19 17.5h1M28 19.5h1m7 0h1M25 20.5h1m13 0h1M23 21.5h1M22 22.5h1m19 0h1m8 0h1M43 23.5h1M19 24.5h1m24 0h1M70 25.5h1M45 26.5h1m7 0h1m14 0h1M17 27.5h1m12 0h2m34 0h1M27 28.5h1m5 0h1m12 0h1m18 0h1M2 29.5h1m22 0h1m9 0h1m10 0h1m7 0h1m8 0h1M4 30.5h1m19 0h1m21 0h1m7 0h1m6 0h1M6 31.5h1m8 0h1m7 0h1m12 0h1m9 0h1m7 0h1m5 0h1M37 32.5h1m8 0h1m7 0h1m5 0h1M9 33.5h1m12 0h1m15 0h1m7 0h1m7 0h1m5 0h1m9 0h1M14 34.5h1m39 0h1m5 0h1M1 35.5h1m12 0h1m6 0h1m23 0h1m8 0h1m5 0h1m6 0h1M4 36.5h1m27 0h1m11 0h1m25 0h1M31 37.5h1m11 0h1M1 38.5h1m29 0h1m6 0h3m21 0h1M53 39.5h1M30 40.5h1m28 0h1m5 0h1M10 41.5h1m19 0h1m21 0h1m14 0h1M8 42.5h1m5 0h1m36 0h1m17 0h1M6 43.5h1m14 0h1M4 44.5h1m16 0h1m9 0h1M3 45.5h1m28 0h1M1 46.5h1m13 0h1m6 0h1m10 0h1M34 47.5h1m11 0h1M16 48.5h1m20 0h2m3 0h2M24 49.5h1M18 51.5h1M27 52.5h1m22 0h1M30 54.5h1m16 0h1M18 55.5h1m14 0h1m10 0h1M16 56.5h1M15 57.5h1m35 0h1M13 58.5h1M11 59.5h1m42 0h1M9 60.5h1m20 0h1m25 0h1M8 61.5h1m23 0h1m6 0h1M6 62.5h1m13 0h1m11 0h1m6 0h1m19 0h1M4 63.5h1m27 0h1m6 0h1m21 0h1M2 64.5h1m29 0h1m6 0h1m23 0h1M1 65.5h1m13 0h1m16 0h1m6 0h1M13 66.5h1m18 0h1m6 0h1m26 0h1M32 67.5h1m6 0h1m16 0h1m11 0h1M32 68.5h1m6 0h1m18 0h1m11 0h1M8 69.5h1m23 0h1m6 0h1M6 70.5h1m25 0h1m6 0h1M14 71.5h1m17 0h1m6 0h1m23 0h1"/><path stroke="#68c87c" d="M17 0.5h1m4 0h1m8 0h1m8 0h1m8 0h1m4 0h1m11 0h1M10 1.5h1m6 0h1m4 0h1m8 0h1m8 0h1m8 0h1m4 0h1M0 2.5h1m11 0h1m4 0h1m4 0h1m8 0h1m8 0h1m8 0h1m4 0h1M2 3.5h1m14 0h1m4 0h1m8 0h1m8 0h1m8 0h1m4 0h1m6 0h1M4 4.5h1m17 0h1m8 0h1m8 0h1m8 0h1m9 0h1M17 5.5h1m4 0h1m8 0h1m8 0h1m8 0h1m21 0h1M7 6.5h1m14 0h1m8 0h1m8 0h1m8 0h1m19 0h1M9 7.5h1m12 0h1m8 0h1m8 0h1m8 0h1m4 0h1m13 0h1M22 8.5h1m8 0h1m8 0h1m8 0h1m2 0h1m13 0h1M12 9.5h1m9 0h1m8 0h1m8 0h1m8 0h1m14 0h1M14 10.5h1m7 0h1m8 0h1m8 0h1m8 0h1m12 0h1M16 11.5h1m5 0h1m26 0h1m11 0h1M59 12.5h1M19 13.5h1m8 0h1m8 0h2m18 0h1M21 14.5h1m3 0h1m15 0h1m13 0h1M43 15.5h1m10 0h1M21 16.5h1m23 0h1m6 0h1M46 17.5h1M18 18.5h1M17 19.5h1m11 0h7M16 20.5h1m9 0h1m11 0h1m10 0h1M15 21.5h1m8 0h1m15 0h1m9 0h1M41 22.5h1M21 23.5h1M52 24.5h1M44 25.5h1m26 0h1M18 26.5h1m50 0h1M45 27.5h1m7 0h1m5 0h1m7 0h1M0 28.5h1m27 0h5m33 0h1M16 29.5h1m9 0h1m7 0h1m29 0h1M3 30.5h1m31 0h1m26 0h1M5 31.5h1M7 32.5h1m7 0h1m7 0h1m12 0h1M37 33.5h1m7 0h1M10 34.5h1m11 0h1m22 0h1m23 0h1M44 35.5h1M14 36.5h1m6 0h1m21 0h1M2 37.5h1m11 0h1m6 0h1m10 0h1m6 0h4m10 0h1m7 0h1M0 38.5h1m13 0h1m6 0h1m15 0h1m15 0h1M14 39.5h1m16 0h1m27 0h1m4 0h1M10 40.5h1m3 0h1m16 0h1m20 0h1m13 0h1M9 41.5h1m4 0h1m6 0h1m9 0h1m36 0h1M7 42.5h1m13 0h1m9 0h1m26 0h1M5 43.5h1m25 0h1m18 0h1m20 0h1M32 44.5h1m16 0h1m7 0h1M2 45.5h1m12 0h1m6 0h1m25 0h1M0 46.5h1m33 0h1m12 0h1m8 0h1M23 47.5h1m11 0h1m9 0h1m9 0h1M39 48.5h3m12 0h1M17 49.5h1M25 50.5h1m26 0h1M26 51.5h1m24 0h1M19 52.5h1M29 53.5h1m18 0h1M31 54.5h1m14 0h1M19 55.5h1m2 0h1m11 0h2m6 0h2M17 56.5h1m5 0h1M16 57.5h1m7 0h1m25 0h1M14 58.5h1m11 0h1m25 0h1M12 59.5h1m15 0h1M10 60.5h1m11 0h1m8 0h1m17 0h1m5 0h1M9 61.5h1m12 0h1m8 0h1m8 0h1m8 0h1m7 0h1M7 62.5h1m14 0h1m8 0h1m8 0h1m8 0h1M5 63.5h1m13 0h1m2 0h1m8 0h1m8 0h1m8 0h1m10 0h1M3 64.5h1m13 0h1m4 0h1m8 0h1m8 0h1m8 0h1m12 0h1M2 65.5h1m19 0h1m8 0h1m8 0h1m8 0h1m14 0h1M0 66.5h1m21 0h1m8 0h1m8 0h1m8 0h1m4 0h1M12 67.5h1m9 0h1m8 0h1m8 0h1m8 0h1m17 0h1M10 68.5h1m6 0h1m4 0h1m8 0h1m8 0h1m8 0h1m4 0h1m14 0h1M17 69.5h1m4 0h1m8 0h1m8 0h1m8 0h1m4 0h1m4 0h1m11 0h1M7 70.5h1m9 0h1m4 0h1m8 0h1m8 0h1m8 0h1m4 0h1m6 0h1M5 71.5h1m11 0h1m4 0h1m8 0h1m8 0h1m8 0h1m4 0h1"/><path stroke="#62c8af" d="M9 0.5h1m20 0h1m10 0h1M30 1.5h1m10 0h1m22 0h1M1 2.5h1m28 0h1m10 0h1m20 0h1M3 3.5h1m10 0h1m15 0h1m10 0h1M30 4.5h1m10 0h1M6 5.5h1m23 0h1m10 0h1m15 0h1m12 0h1M8 6.5h1m21 0h1m10 0h1m13 0h1m12 0h1M30 7.5h1m10 0h1m25 0h1M11 8.5h1m18 0h1m10 0h1m23 0h1M13 9.5h1m16 0h1m10 0h1m21 0h1M15 10.5h1m14 0h1m10 0h1M60 11.5h1M18 12.5h1m39 0h1M20 13.5h1m8 0h3m3 0h2m19 0h1M22 14.5h1m17 0h1M23 15.5h1m29 0h1M44 16.5h1M47 18.5h1M48 19.5h1M27 20.5h1m9 0h1M39 21.5h1M23 22.5h1M42 23.5h1m8 0h1M20 24.5h1m22 0h1M19 25.5h1m32 0h1M44 26.5h1m25 0h1M68 27.5h1M17 28.5h1m27 0h1m7 0h1m5 0h1m7 0h1M1 29.5h1m25 0h1m4 0h2m11 0h1m19 0h1M16 30.5h1m8 0h1m8 0h1m10 0h1m17 0h1M4 31.5h1m19 0h1m10 0h1m9 0h1m15 0h1M6 32.5h1m28 0h1m9 0h1M8 33.5h1m6 0h1m7 0h1m12 0h1m34 0h1M33 34.5h1m3 0h1m6 0h1M0 35.5h1m21 0h1m10 0h1m9 0h1m24 0h1M3 36.5h1m29 0h1m7 0h2m10 0h1m17 0h1M33 37.5h1m3 0h2m20 0h1M32 38.5h1m26 0h1m3 0h1M21 39.5h1m10 0h1m19 0h1m12 0h1M21 40.5h1m45 0h1M8 41.5h1m42 0h1m6 0h1M6 42.5h1m63 0h1M4 43.5h1m27 0h1M3 44.5h1m11 0h1m6 0h1M1 45.5h1m31 0h1m22 0h1M23 46.5h1m22 0h1M16 47.5h1m19 0h2m6 0h1M24 48.5h1M53 49.5h1M18 50.5h1M27 51.5h1M28 52.5h1m20 0h1M20 53.5h1m9 0h1M21 54.5h1m10 0h1m12 0h1M36 55.5h6M18 56.5h1M49 57.5h1M15 58.5h1m35 0h1M13 59.5h1m39 0h1M11 60.5h1m20 0h1M10 61.5h1m19 0h1m10 0h1m14 0h1M8 62.5h1m21 0h1m10 0h1m16 0h1M6 63.5h1m23 0h1m10 0h1M4 64.5h1m25 0h1m10 0h1M3 65.5h1m12 0h1m13 0h1m10 0h1m21 0h1M1 66.5h1m12 0h1m15 0h1m10 0h1m23 0h1M30 67.5h1m10 0h1m13 0h1M30 68.5h1m10 0h1m15 0h1m10 0h1M9 69.5h1m20 0h1m10 0h1m28 0h1M30 70.5h1m10 0h1M30 71.5h1m10 0h1m20 0h1"/><path stroke="#65c0da" d="M56 0.5h1m8 0h1M0 1.5h1m10 0h1m51 0h1M60 3.5h1M5 4.5h1m10 0h1m41 0h1m12 0h1M7 5.5h1m61 0h1M10 7.5h1m42 0h1m12 0h1M12 8.5h1m51 0h1M14 9.5h1m47 0h1M61 10.5h1M17 11.5h1m41 0h1M19 12.5h1m37 0h1M21 13.5h1m10 0h3m20 0h1M26 14.5h1m12 0h1m14 0h1M24 15.5h1m17 0h1m9 0h1M22 16.5h1M20 17.5h1m24 0h1M19 18.5h1M28 20.5h2m5 0h2M25 21.5h1m12 0h1m10 0h1m6 0h1M40 22.5h1m9 0h1M14 23.5h1m7 0h1m18 0h1m15 0h1M43 25.5h1m14 0h1M52 26.5h1m18 0h1M18 27.5h1m25 0h1m24 0h1M0 29.5h1m27 0h4m21 0h1m5 0h1m6 0h1M2 30.5h1m23 0h1m6 0h1m19 0h1m5 0h1m4 0h1M16 31.5h1m8 0h1m8 0h1m18 0h1m8 0h1M24 32.5h1m9 0h1m18 0h1m7 0h1M7 33.5h1m27 0h1m8 0h1m8 0h1M9 34.5h1m5 0h1m7 0h1m10 0h3m1 0h1m14 0h1m16 0h1M34 35.5h5m3 0h1m10 0h1m5 0h1M22 36.5h1m11 0h7m18 0h1M1 37.5h1m20 0h1m11 0h1m1 0h1m25 0h1M33 38.5h1m18 0h1m11 0h1M10 39.5h1m55 0h1M9 40.5h1m22 0h1m18 0h1m6 0h1M7 41.5h1m24 0h1m36 0h1M5 42.5h1m9 0h1m6 0h1m9 0h1m17 0h1m20 0h1M15 43.5h1m6 0h1m10 0h1m15 0h1m7 0h1M2 44.5h1m30 0h1m14 0h1M0 45.5h1m33 0h1m12 0h1M16 46.5h1m18 0h2m8 0h1m9 0h1M38 47.5h6M17 48.5h1M25 49.5h1M26 50.5h1M19 51.5h1m30 0h1M29 52.5h1M47 53.5h1M33 54.5h1m10 0h1M19 56.5h1M17 57.5h1m7 0h1M16 58.5h1m10 0h1m22 0h1M14 59.5h1m14 0h1m22 0h1M12 60.5h1m20 0h1m20 0h1M9 62.5h1m47 0h1M7 63.5h1m51 0h1M5 64.5h1m12 0h1m42 0h1M2 66.5h1m61 0h1M0 67.5h1m12 0h1m52 0h1M11 68.5h1M58 69.5h1m10 0h1M8 70.5h1m51 0h1m10 0h1M6 71.5h1m8 0h1"/><path stroke="#b6d34d" d="M29 0.5h1m12 0h1M29 1.5h1m12 0h1M2 2.5h1m10 0h1m15 0h1m12 0h1m18 0h1M4 3.5h1m10 0h1m13 0h1m12 0h1M6 4.5h1m22 0h1m12 0h1m27 0h1M29 5.5h1m12 0h1m13 0h1m11 0h1M9 6.5h1m19 0h1m12 0h1m11 0h1m12 0h1M11 7.5h1m17 0h1m12 0h1m22 0h1M13 8.5h1m15 0h1m12 0h1m20 0h1M29 9.5h1m12 0h1M16 10.5h1m12 0h1m12 0h1m17 0h1M18 11.5h1m10 0h1m12 0h1m15 0h1M56 12.5h1M27 14.5h2m9 0h1m14 0h1M41 15.5h1m9 0h1M43 16.5h1M46 18.5h1M18 19.5h1m28 0h1M17 20.5h1m12 0h5m13 0h1m6 0h1M16 21.5h1m9 0h1m10 0h1M15 22.5h1m8 0h1m14 0h1M50 23.5h1M21 24.5h1m20 0h1m8 0h1M20 25.5h1M19 26.5h1m23 0h1m14 0h1M52 27.5h1m17 0h1M44 28.5h1m23 0h1M17 29.5h1m26 0h1m22 0h1M1 30.5h1m25 0h2m3 0h1m11 0h1m20 0h1M3 31.5h1m29 0h1m10 0h1m14 0h1m3 0h1M5 32.5h1m10 0h1m27 0h1m14 0h1M34 33.5h1m24 0h1M8 34.5h1m34 0h1m15 0h1M10 35.5h1m4 0h1m7 0h1m15 0h3m27 0h1M2 36.5h1m12 0h1m45 0h1M15 37.5h1m19 0h1m16 0h1m10 0h1M22 38.5h1m11 0h1m1 0h1M22 39.5h1m10 0h1m17 0h1m6 0h1M8 40.5h1m6 0h1m6 0h1m10 0h1m34 0h1M6 41.5h1m8 0h1m6 0h1m10 0h1m16 0h1m19 0h1M4 42.5h1m28 0h1m23 0h1M3 43.5h1M1 44.5h1m21 0h1m10 0h1m21 0h1M16 45.5h1m6 0h1m11 0h1m10 0h1M37 46.5h1m6 0h1M24 47.5h1m29 0h1M25 48.5h1m27 0h1M18 49.5h1m33 0h1M27 50.5h1m23 0h1M28 51.5h1M20 52.5h1m27 0h1M21 53.5h1m9 0h1m14 0h1M22 54.5h1m11 0h2m7 0h1M23 55.5h1M20 56.5h1m3 0h1M18 57.5h1m7 0h1M15 59.5h1m14 0h1M13 60.5h1m15 0h1m4 0h2m5 0h2m10 0h1M11 61.5h1m17 0h1m12 0h1m12 0h1M29 62.5h1m12 0h1M8 63.5h1m20 0h1m12 0h1m15 0h1M6 64.5h1m22 0h1m12 0h1m17 0h1M4 65.5h1m12 0h1m11 0h1m12 0h1m19 0h1M3 66.5h1m11 0h1m13 0h1m12 0h1M1 67.5h1m27 0h1m12 0h1m22 0h1M12 68.5h1m16 0h1m12 0h1m13 0h1m10 0h1M10 69.5h1m18 0h1m12 0h1M29 70.5h1m12 0h1M29 71.5h1m12 0h1m18 0h1"/><path stroke="#f2c020" d="M10 0.5h1m5 0h1m4 0h1m6 0h1m14 0h1m6 0h1m4 0h1m8 0h1M1 1.5h1m10 0h1m3 0h1m4 0h1m6 0h1m14 0h1m6 0h1m4 0h1m6 0h1M3 2.5h1m17 0h1m6 0h1m14 0h1m6 0h1M5 3.5h1m15 0h1m6 0h1m14 0h1m6 0h1m8 0h1m11 0h1M17 4.5h1m3 0h1m6 0h1m14 0h1m6 0h1m6 0h1m11 0h1M8 5.5h1m12 0h1m6 0h1m14 0h1m6 0h1M10 6.5h1m10 0h1m6 0h1m14 0h1m6 0h1m15 0h1M21 7.5h1m6 0h1m14 0h1m6 0h1m1 0h1m11 0h1M21 8.5h1m6 0h1m14 0h1m6 0h1m11 0h1M15 9.5h1m5 0h1m6 0h1m14 0h1m6 0h1m10 0h1M17 10.5h1m3 0h1m6 0h1m14 0h1m6 0h1m8 0h1M28 11.5h1m14 0h1m13 0h1M20 12.5h1M22 13.5h1m31 0h1M0 14.5h2m27 0h1m6 0h2m14 0h1M0 15.5h4m21 0h1m14 0h1M0 16.5h5m18 0h1M1 17.5h6m14 0h1m22 0h1M2 18.5h7M4 19.5h6m44 0h1M6 20.5h6M7 21.5h7m13 0h2m7 0h1M9 22.5h6m10 0h1m12 0h1m10 0h1m6 0h1M11 23.5h3m9 0h1m16 0h1M13 24.5h1m27 0h1m15 0h1M13 25.5h1m28 0h1m8 0h1M12 27.5h1m6 0h1m23 0h1m14 0h1m12 0h1M18 28.5h1m33 0h1m16 0h1M52 29.5h1M11 30.5h1m5 0h1m11 0h3m34 0h1M2 31.5h1m23 0h2m4 0h1m31 0h1M4 32.5h1m20 0h1m7 0h1m9 0h1m18 0h1M6 33.5h1m9 0h1m7 0h1m8 0h1m9 0h1M39 34.5h1m1 0h2m28 0h1M9 35.5h1m42 0h1M23 36.5h1m28 0h1m9 0h1M0 37.5h1M15 38.5h1m19 0h1m15 0h1m6 0h1m6 0h1M9 39.5h1m5 0h1m18 0h1m32 0h1M7 40.5h1m42 0h1m18 0h1M5 41.5h1M34 42.5h1m14 0h1M2 43.5h1m20 0h1m10 0h1m13 0h1M0 44.5h1m15 0h1m18 0h1m11 0h1M36 45.5h1m8 0h1m9 0h1M24 46.5h1m13 0h6M17 47.5h1m40 0h1M58 48.5h3M26 49.5h1m30 0h6M19 50.5h1m38 0h7M49 51.5h1m10 0h7M30 52.5h1m30 0h7M32 53.5h1m12 0h1m17 0h7M36 54.5h7m22 0h7M66 55.5h6M68 56.5h4M19 57.5h1m50 0h2M17 58.5h1m10 0h1m20 0h1M31 59.5h1m19 0h1M14 60.5h1m13 0h1m7 0h5m2 0h1M12 61.5h1m8 0h1m6 0h1m14 0h1m6 0h1m3 0h1M10 62.5h1m10 0h1m6 0h1m14 0h1m6 0h1m5 0h1M9 63.5h1m11 0h1m6 0h1m14 0h1m6 0h1M7 64.5h1m11 0h1m1 0h1m6 0h1m14 0h1m6 0h1M5 65.5h1m15 0h1m6 0h1m14 0h1m6 0h1m10 0h1M21 66.5h1m6 0h1m14 0h1m6 0h1m12 0h1M2 67.5h1m11 0h1m6 0h1m6 0h1m14 0h1m6 0h1m3 0h1M0 68.5h1m20 0h1m6 0h1m14 0h1m6 0h1m15 0h1M21 69.5h1m6 0h1m14 0h1m6 0h1m17 0h1M9 70.5h1m6 0h1m4 0h1m6 0h1m14 0h1m6 0h1m4 0h1m3 0h1m10 0h1M7 71.5h1m8 0h1m4 0h1m6 0h1m14 0h1m6 0h1m4 0h1"/><path stroke="#e96a27" d="M0 0.5h1M2 1.5h1M14 2.5h1m45 0h1M16 3.5h1m53 0h1M7 4.5h1M9 5.5h1m45 0h1m11 0h1M53 6.5h1m11 0h1M12 7.5h1m50 0h1M14 8.5h1M16 9.5h1m43 0h1M58 10.5h1M19 11.5h1M0 12.5h2m19 0h1m33 0h1M0 13.5h3m50 0h1M2 14.5h3m25 0h6m15 0h1M4 15.5h3m19 0h1m12 0h1m10 0h1M5 16.5h4m33 0h1m8 0h1M0 17.5h1m6 0h3m12 0h1m29 0h1M0 18.5h2m7 0h3m8 0h1m24 0h1m7 0h1M1 19.5h3m6 0h4m5 0h1m26 0h1M2 20.5h4m6 0h4M4 21.5h3m7 0h1m14 0h2m2 0h3m12 0h1m6 0h1M6 22.5h3m17 0h1m10 0h1M8 23.5h3m4 0h1m8 0h1m14 0h1m16 0h1M10 24.5h3m1 0h1m7 0h1m27 0h1M11 25.5h2m8 0h1m35 0h1M13 26.5h1m6 0h1m21 0h1m8 0h1M12 28.5h1m30 0h1m14 0h1m11 0h1M18 29.5h1m24 0h1m14 0h1m9 0h1M0 30.5h1m42 0h1m8 0h1M17 31.5h1m10 0h1m2 0h1m11 0h1m8 0h1m12 0h1M26 32.5h1m25 0h1m10 0h1M5 33.5h1m19 0h1m16 0h1m9 0h1m8 0h1M7 34.5h1m8 0h1m7 0h1m15 0h1m11 0h1M70 35.5h1M1 36.5h1M23 37.5h1m27 0h1m6 0h1m5 0h1M10 38.5h1m12 0h1m42 0h1M8 39.5h1m14 0h1m11 0h1M6 40.5h1m16 0h1m10 0h1M23 41.5h1m10 0h1m14 0h1m7 0h1m13 0h1M3 42.5h1m19 0h1m24 0h1M1 43.5h1m14 0h1m18 0h1m20 0h1M36 44.5h1m9 0h1M24 45.5h1m12 0h2m5 0h1M17 46.5h1m36 0h1m4 0h2M25 47.5h1m33 0h3M18 48.5h1m7 0h1m25 0h1m8 0h4M27 49.5h1m23 0h1m11 0h3M28 50.5h1m21 0h1m6 0h1m7 0h3M20 51.5h1m8 0h1m26 0h4m7 0h3M31 52.5h1m15 0h1m10 0h3m7 0h4M33 53.5h2m9 0h1m15 0h3m7 0h2M61 54.5h4M63 55.5h3M25 56.5h1m39 0h3M20 57.5h1m6 0h1m39 0h3M18 58.5h1m10 0h1m38 0h4M16 59.5h1m15 0h1m11 0h1m5 0h1m19 0h2M15 60.5h1m36 0h1M13 61.5h1M11 62.5h1m43 0h1M57 63.5h1M8 64.5h1m50 0h1M6 65.5h1m11 0h1M4 66.5h1m11 0h1m45 0h1M64 67.5h1M1 68.5h1m11 0h1m41 0h1M11 69.5h1m45 0h1M69 70.5h1M71 71.5h1"/><path stroke="#e02e2e" d="M1 0.5h1m9 0h1m15 0h1m16 0h1m18 0h1M13 1.5h1m13 0h1m16 0h1m16 0h1M4 2.5h1m22 0h1m16 0h1m26 0h1M6 3.5h1m20 0h1m16 0h1m13 0h1M27 4.5h1m16 0h1m11 0h1m11 0h1M27 5.5h1m16 0h1m21 0h1M11 6.5h1m15 0h1m16 0h1m19 0h1M13 7.5h1m13 0h1m16 0h1M27 8.5h1m16 0h1m16 0h1M27 9.5h1m16 0h1m14 0h1M18 10.5h1m8 0h1m16 0h1M0 11.5h2m18 0h1m6 0h1m16 0h1m11 0h1M2 12.5h2m50 0h1M3 13.5h3m46 0h1M5 14.5h2M7 15.5h2m18 0h1m10 0h1M9 16.5h2m13 0h1m16 0h1M10 17.5h3m30 0h1M12 18.5h2M0 19.5h1m13 0h2M0 20.5h2m16 0h1m28 0h1m6 0h1M2 21.5h2m13 0h1m13 0h2M4 22.5h2m10 0h1m10 0h1m8 0h1M5 23.5h3m30 0h1m10 0h1M8 24.5h2m13 0h1m16 0h1M9 25.5h2m30 0h1m8 0h1M11 26.5h2m44 0h1M42 27.5h1m8 0h1M19 28.5h1m51 0h1M69 29.5h1M58 30.5h1m8 0h1M1 31.5h1m9 0h1m17 0h2m27 0h1M3 32.5h1m13 0h1m9 0h1m4 0h1m9 0h1m15 0h1m5 0h1M26 33.5h1m14 0h1m16 0h1m3 0h1M6 34.5h1m18 0h1m32 0h1M8 35.5h1m7 0h1m7 0h1m33 0h1M16 36.5h1m7 0h1m26 0h1m6 0h1m4 0h1M65 37.5h1M9 38.5h1M7 39.5h1m42 0h1m17 0h1M35 40.5h1m13 0h1m7 0h1m12 0h1M4 41.5h1m11 0h1m18 0h1M2 42.5h1m13 0h1m18 0h1m20 0h1M0 43.5h1m46 0h1M24 44.5h1m12 0h1m7 0h1m9 0h1M17 45.5h1m21 0h5m15 0h2M25 46.5h1m35 0h2M53 47.5h1m8 0h3M65 48.5h2M19 49.5h1m46 0h2M49 50.5h1m18 0h2M30 51.5h1m17 0h1m21 0h2M21 52.5h1m10 0h1m13 0h1m9 0h2M22 53.5h1m12 0h1m6 0h2m14 0h2M23 54.5h1m35 0h2M24 55.5h1m36 0h2M63 56.5h2M65 57.5h2M19 58.5h1m10 0h1m15 0h1m19 0h2M17 59.5h1m15 0h1m9 0h1m24 0h2M27 60.5h1m16 0h1m6 0h1m18 0h2M14 61.5h1m12 0h1m16 0h1m8 0h1m17 0h1M12 62.5h1m14 0h1m16 0h1M10 63.5h1m16 0h1m16 0h1M27 64.5h1m16 0h1m13 0h1M7 65.5h1m19 0h1m16 0h1m15 0h1M5 66.5h1m21 0h1m16 0h1M3 67.5h1m11 0h1m11 0h1m16 0h1m18 0h1M27 68.5h1m16 0h1m20 0h1M0 69.5h1m26 0h1m16 0h1m22 0h1M10 70.5h1m16 0h1m16 0h1m13 0h1M8 71.5h1m18 0h1m16 0h1m15 0h1m9 0h1"/><path stroke="#bd1e2a" d="M20 0.5h1m30 0h1M3 1.5h1m16 0h1m30 0h1M5 2.5h1m9 0h1m4 0h1m30 0h1m7 0h1M20 3.5h1m30 0h1m17 0h1M8 4.5h1m11 0h1m30 0h1m15 0h1M10 5.5h1m9 0h1m30 0h1m2 0h1m10 0h1M12 6.5h1m7 0h1m30 0h1M20 7.5h1m30 0h1m10 0h1M15 8.5h1m4 0h1m30 0h1m8 0h1M17 9.5h1M0 10.5h2m55 0h1M2 11.5h2m51 0h1M4 12.5h2m16 0h1m30 0h1M6 13.5h1M7 14.5h2m39 0h1m1 0h1M9 15.5h2m17 0h2m7 0h1M11 16.5h2m12 0h1m14 0h1M13 17.5h1m9 0h1m18 0h1M14 18.5h2m5 0h1m22 0h1M16 19.5h1m28 0h1m7 0h1M0 21.5h2M2 22.5h2m24 0h2m4 0h2m12 0h1m6 0h1M4 23.5h1m20 0h1m11 0h1M6 24.5h2m31 0h1m16 0h1M8 25.5h1m5 0h1m7 0h1m17 0h1M9 26.5h2m10 0h1m19 0h1M11 27.5h1m1 0h1m6 0h1m36 0h1M42 28.5h1m8 0h1M12 29.5h1m29 0h1m8 0h1m18 0h1M18 30.5h1m23 0h1m8 0h1m16 0h1M42 31.5h1m23 0h1M2 32.5h1m8 0h1m16 0h2m1 0h1M4 33.5h1m6 0h1m5 0h1m14 0h1m7 0h1m22 0h1M51 34.5h1m9 0h1M25 35.5h1m25 0h1m19 0h1M0 36.5h1M10 37.5h1m5 0h1m7 0h1M8 38.5h1m7 0h1m33 0h1m16 0h1M16 39.5h1m19 0h1m20 0h1m11 0h1M5 40.5h1m10 0h1M3 41.5h1m44 0h1M1 42.5h1m22 0h1m22 0h1M24 43.5h1m11 0h1m9 0h1M17 44.5h1m20 0h1m5 0h1m15 0h1M25 45.5h1m28 0h1m6 0h2M63 46.5h2M18 47.5h1m7 0h1m38 0h1M27 48.5h1m39 0h1M28 49.5h1m21 0h1m17 0h2M20 50.5h1m8 0h1m40 0h2M31 51.5h1m15 0h1M33 52.5h1m11 0h1m9 0h1M36 53.5h6m14 0h2M58 54.5h1M59 55.5h2M26 56.5h1m23 0h1m10 0h2M21 57.5h1m6 0h1m19 0h1m14 0h2M31 58.5h1m33 0h1M18 59.5h1m15 0h3m3 0h3m6 0h1m16 0h2M16 60.5h1m51 0h2M52 61.5h1m17 0h1M13 62.5h1m40 0h1m16 0h1M11 63.5h1m8 0h1m30 0h1m4 0h1M9 64.5h1m10 0h1m30 0h1M20 65.5h1m30 0h1m7 0h1M6 66.5h1m10 0h1m2 0h1m30 0h1m9 0h1M4 67.5h1m15 0h1m30 0h1M2 68.5h1m17 0h1m30 0h1M12 69.5h1m7 0h1m30 0h1m4 0h1m9 0h1M20 70.5h1m30 0h1m16 0h1M20 71.5h1m30 0h1"/></g><rect x="226.5" y="860.5" width="291.5" height="291.5" fill="none" stroke="#444" stroke-width="1.5"/><text transform="translate(205.5,889) scale(0.95,1)" text-anchor="end" font-size="56">10</text><text transform="translate(205.5,1027.8) scale(0.95,1)" text-anchor="end" font-size="56">0</text><text transform="translate(205.5,1164.5) scale(0.95,1)" text-anchor="end" font-size="56">−10</text><text transform="translate(246.5,1213) scale(0.95,1)" text-anchor="middle" font-size="56">−10</text><text transform="translate(374.2,1213) scale(0.95,1)" text-anchor="middle" font-size="56">0</text><text transform="translate(500,1213) scale(0.95,1)" text-anchor="middle" font-size="56">10</text><text transform="translate(83.5,1006.2) rotate(-90)" text-anchor="middle" font-size="56"><tspan font-style="italic">y</tspan>/μm</text><text transform="translate(363.2,1276.5)" text-anchor="middle" font-size="56"><tspan font-style="italic">x</tspan>/μm</text><text transform="translate(362.2,1352.5)" text-anchor="middle" font-size="56"><tspan font-style="italic">z</tspan>=10 μm</text><text transform="translate(363.2,1432.5)" text-anchor="middle" font-size="56">(a3)</text><g transform="translate(713,860.5) scale(4.04861)" shape-rendering="crispEdges" stroke-width="1.04" fill="none"><rect width="72" height="72" fill="#c6d444"/><path stroke="#2e3d89" d="M14 0.5h1m4 0h1m32 0h1m7 0h1M5 1.5h1m13 0h1m32 0h1m17 0h1M7 2.5h1m11 0h1m32 0h1M19 3.5h1m32 0h1m2 0h1m11 0h1M19 4.5h1m32 0h1m12 0h1M12 5.5h1m6 0h1m32 0h1m10 0h1M14 6.5h1m4 0h1m32 0h1M60 7.5h1M0 8.5h1m57 0h1M1 9.5h2m16 0h1M3 10.5h1m51 0h1M4 11.5h2m47 0h1M6 12.5h2m43 0h1M8 13.5h1M10 14.5h1m37 0h1M11 15.5h2M13 16.5h2M15 17.5h1M17 18.5h1M18 19.5h2M20 20.5h2M22 21.5h1M0 22.5h1m23 0h1M2 23.5h1m22 0h2m15 0h1M4 24.5h1M5 25.5h2M7 26.5h2m20 0h1m6 0h1m8 0h1M9 27.5h1m17 0h1m10 0h1M11 28.5h1m27 0h1m6 0h1M12 29.5h2M14 30.5h2m24 0h1m29 0h1M16 31.5h1m30 0h1m20 0h1M0 32.5h1m17 0h1m28 0h1M2 33.5h1m16 0h2m10 0h2m14 0h1m17 0h1M21 34.5h2m6 0h1m17 0h1m15 0h1M5 35.5h1m22 0h1m32 0h1M10 36.5h1m55 0h1M8 37.5h1m37 0h1m3 0h1M6 38.5h1m20 0h1m23 0h2m16 0h1M27 39.5h1m17 0h1m7 0h2m16 0h1M3 40.5h1m23 0h1m16 0h1m10 0h1M1 41.5h1m35 0h1m4 0h1m13 0h2M58 42.5h2M60 43.5h1M29 44.5h1m32 0h1M30 45.5h1m32 0h2M31 46.5h1m33 0h2M44 47.5h1m22 0h1M36 48.5h5m4 0h2m22 0h2M47 49.5h1m23 0h1M49 50.5h1M50 51.5h2M52 52.5h2M54 53.5h1M56 54.5h1M57 55.5h2M59 56.5h2M23 57.5h1m37 0h1M62 58.5h2M20 59.5h1m43 0h2M18 60.5h1m47 0h1M68 61.5h1M15 62.5h1m36 0h1m16 0h2M13 63.5h1m57 0h1M11 64.5h1M19 65.5h1m32 0h1m4 0h1M8 66.5h1m10 0h1m32 0h1m6 0h1M6 67.5h1m12 0h1m32 0h1M4 68.5h1m11 0h1m2 0h1m32 0h1m9 0h1M19 69.5h1m32 0h1m11 0h1M1 70.5h1m17 0h1m32 0h1m13 0h1M11 71.5h1m7 0h1m32 0h1m4 0h1"/><path stroke="#364fa1" d="M4 0.5h1m20 0h1m20 0h1m24 0h1M6 1.5h1m18 0h1m20 0h1m11 0h1M25 2.5h1m20 0h1m9 0h1m11 0h1M9 3.5h1m15 0h1m20 0h1m19 0h1M11 4.5h1m13 0h1m20 0h1m17 0h1M13 5.5h1m11 0h1m20 0h1M25 6.5h1m20 0h1m14 0h1M16 7.5h1m8 0h1m20 0h1m12 0h1M1 8.5h1m16 0h1m6 0h1m20 0h1M3 9.5h1m16 0h1m4 0h1m20 0h1m9 0h1M4 10.5h2m19 0h1m20 0h1m7 0h1M6 11.5h1m18 0h1m20 0h1m5 0h1M8 12.5h1m16 0h1m20 0h1M9 13.5h2m14 0h1m20 0h1m2 0h1M11 14.5h2m12 0h1m20 0h1M13 15.5h1m11 0h1m20 0h1M15 16.5h1m9 0h1m20 0h1M16 17.5h2m7 0h1m20 0h1M18 18.5h2M20 19.5h1M22 20.5h1M23 21.5h1M25 22.5h1m14 0h1M0 23.5h2m25 0h1M2 24.5h2m39 0h1M4 25.5h1m39 0h1M6 26.5h1m23 0h1m4 0h1M8 27.5h1m28 0h1M9 28.5h2m15 0h1M11 29.5h1m13 0h1m13 0h1M13 30.5h1m10 0h1m46 0h1M14 31.5h2m24 0h1m28 0h1M16 32.5h2m5 0h1m16 0h1m26 0h1M1 33.5h1m16 0h1M3 34.5h1m16 0h1m43 0h1M21 35.5h2m39 0h1M9 36.5h1m18 0h1m17 0h1m3 0h1M7 37.5h1m43 0h1m16 0h1M45 38.5h1m7 0h1m16 0h1M4 39.5h1m50 0h1M2 40.5h1m19 0h1m20 0h1m12 0h2M0 41.5h1m37 0h1m2 0h1m16 0h1M28 42.5h1m31 0h1M61 43.5h2M63 44.5h2M65 45.5h1M45 46.5h1m21 0h1M33 47.5h1m9 0h1m24 0h2M44 48.5h1m26 0h1M46 49.5h1M47 50.5h2M49 51.5h1M51 52.5h1M52 53.5h2M25 54.5h1m20 0h1m7 0h2M25 55.5h1m20 0h1m9 0h1M25 56.5h1m20 0h1m11 0h1M25 57.5h1m20 0h1m12 0h2M22 58.5h1m2 0h1m20 0h1m14 0h1M25 59.5h1m20 0h1m16 0h1M19 60.5h1m5 0h1m20 0h1m18 0h1M17 61.5h1m7 0h1m20 0h1m19 0h2M25 62.5h1m20 0h1m4 0h1m16 0h1M25 63.5h1m20 0h1m6 0h1m16 0h1M12 64.5h1m12 0h1m20 0h1m8 0h1m15 0h1M10 65.5h1m14 0h1m20 0h1M25 66.5h1m20 0h1m11 0h1M7 67.5h1m17 0h1m20 0h1m13 0h1M5 68.5h1m19 0h1m20 0h1M3 69.5h1m11 0h1m9 0h1m20 0h1M13 70.5h1m11 0h1m20 0h1m18 0h1M0 71.5h1m24 0h1m20 0h1m20 0h1"/><path stroke="#405db2" d="M5 0.5h1m9 0h1m43 0h1M69 1.5h1M8 2.5h1m58 0h1M10 3.5h1M62 5.5h1M15 6.5h1m44 0h1M0 7.5h2m15 0h1M2 8.5h1m54 0h1M4 9.5h1m50 0h1M6 10.5h1m46 0h1M7 11.5h2M9 12.5h1m40 0h1M11 13.5h1M13 14.5h1M14 15.5h2M16 16.5h1M18 17.5h1M20 18.5h1M21 19.5h2M23 20.5h1M24 21.5h2M26 22.5h1M28 23.5h1m12 0h1M1 24.5h1M3 25.5h1M5 26.5h1m25 0h4M6 27.5h2m20 0h1m16 0h1M8 28.5h1m29 0h1M10 29.5h1m35 0h1M11 30.5h2M13 31.5h1m56 0h1M15 32.5h1m52 0h1M17 33.5h1m48 0h1M2 34.5h1m15 0h2m10 0h1M4 35.5h1m15 0h1m8 0h1m16 0h1m16 0h1M8 36.5h1m13 0h1m28 0h1m15 0h1M22 37.5h1m5 0h1m23 0h2m15 0h1M5 38.5h1m16 0h1m5 0h1m25 0h1M3 39.5h1m18 0h1m5 0h1m15 0h1m11 0h1M1 40.5h1m26 0h1m8 0h1m20 0h1M28 41.5h1m10 0h2m18 0h2M61 42.5h1M29 43.5h1m33 0h1M65 44.5h1M46 45.5h1m19 0h2M32 46.5h1m35 0h1M34 47.5h1m35 0h1M43 48.5h1M44 49.5h2M46 50.5h1M48 51.5h1M49 52.5h2M51 53.5h1M53 54.5h1M55 55.5h1M56 56.5h2M58 57.5h1M60 58.5h1M21 59.5h1m40 0h1M63 60.5h2M18 61.5h1m46 0h1M16 62.5h1m50 0h1M14 63.5h1m53 0h2M54 64.5h1m15 0h1M11 65.5h1m44 0h1M9 66.5h1M6 68.5h1m54 0h1M4 69.5h1m58 0h1M2 70.5h1M12 71.5h1m43 0h1m9 0h1"/><path stroke="#3e8ed0" d="M70 0.5h1M7 1.5h1m49 0h1m10 0h1M9 2.5h1m45 0h1M65 3.5h1M12 4.5h1m50 0h1M14 5.5h1m46 0h1M0 6.5h1M2 7.5h1m55 0h1M3 8.5h2m14 0h1m36 0h1M5 9.5h1m48 0h1M7 10.5h1M9 11.5h1m41 0h1M10 12.5h2m37 0h1M12 13.5h1m57 0h2M14 14.5h1m53 0h4M16 15.5h1m50 0h5M17 16.5h1m47 0h7M19 17.5h1m43 0h9M21 18.5h1m39 0h11M23 19.5h1m36 0h10M24 20.5h1m33 0h10M26 21.5h1m29 0h10M27 22.5h1m11 0h1m15 0h10M53 23.5h10M0 24.5h1m50 0h10M2 25.5h1m46 0h10M3 26.5h2m39 0h1m2 0h10M5 27.5h1m23 0h1m6 0h1m11 0h8M7 28.5h1m19 0h1m20 0h6M9 29.5h1m39 0h3M10 30.5h1m28 0h1m6 0h1m2 0h1M12 31.5h1m11 0h1m21 0h1M14 32.5h1M0 33.5h1m14 0h2m6 0h1m43 0h1M17 34.5h1m13 0h1m14 0h1m18 0h1M19 35.5h1M29 36.5h1m22 0h1M6 37.5h1m38 0h1m8 0h1M4 38.5h1m39 0h1m10 0h2m14 0h1M43 39.5h1m13 0h1M42 40.5h1m16 0h1M22 41.5h1m38 0h1M20 42.5h3m6 0h1m32 0h2M18 43.5h6m40 0h1M16 44.5h8m6 0h1m16 0h1m18 0h1M15 45.5h10m6 0h1m36 0h1M13 46.5h10m21 0h1m24 0h1M11 47.5h11m13 0h1m6 0h1m28 0h1M9 48.5h10M7 49.5h11M5 50.5h11m29 0h1M4 51.5h10m33 0h1M2 52.5h10m36 0h1M0 53.5h11m39 0h1M0 54.5h9m43 0h1M0 55.5h7m46 0h2M0 56.5h6m49 0h1M0 57.5h4m53 0h1M0 58.5h2m57 0h1M22 59.5h1m37 0h2M20 60.5h1m41 0h1M64 61.5h1M17 62.5h1m48 0h1M15 63.5h1m36 0h1m14 0h1M13 64.5h1m55 0h1M55 65.5h1m15 0h1M10 66.5h1m46 0h1M8 67.5h1m50 0h1M16 69.5h1m45 0h1M3 70.5h1m10 0h1m49 0h1M1 71.5h1"/><path stroke="#65c0da" d="M6 0.5h1m11 0h1m5 0h1m22 0h1m5 0h1m4 0h1m10 0h1M18 1.5h1m5 0h1m22 0h1m5 0h1M18 2.5h1m5 0h1m22 0h1m5 0h1m12 0h1M11 3.5h1m6 0h1m5 0h1m22 0h1m5 0h1m10 0h1M13 4.5h1m4 0h1m5 0h1m22 0h1m5 0h1m8 0h1M0 5.5h1m17 0h1m5 0h1m22 0h1m5 0h1M1 6.5h1m14 0h1m7 0h1m22 0h1m11 0h1M3 7.5h1m14 0h1m5 0h1m22 0h1m9 0h1M5 8.5h1m18 0h1m22 0h1M6 9.5h1m17 0h1m22 0h1M8 10.5h1m15 0h1m22 0h1m4 0h1M10 11.5h1m13 0h1m22 0h1m2 0h1m20 0h1M12 12.5h1m11 0h1m22 0h1m21 0h3M13 13.5h1m10 0h1m22 0h1m19 0h3M15 14.5h1m8 0h1m22 0h1m18 0h2M17 15.5h1m6 0h1m22 0h1m16 0h3M18 16.5h2m42 0h3M20 17.5h1m39 0h3M22 18.5h1m36 0h2M24 19.5h1m32 0h3m10 0h2M25 20.5h1m29 0h3m10 0h3M53 21.5h3m10 0h3M38 22.5h1m13 0h3m10 0h2M40 23.5h1m9 0h3m10 0h3M42 24.5h1m5 0h3m10 0h3M1 25.5h1m41 0h1m2 0h3m10 0h3M2 26.5h1m54 0h3M4 27.5h1m25 0h1m4 0h1m20 0h2M6 28.5h1m30 0h1m7 0h1m8 0h3M7 29.5h2m17 0h1m11 0h1m13 0h3M9 30.5h1m15 0h1m24 0h3M11 31.5h1m27 0h1m10 0h1m20 0h1M13 32.5h1m25 0h1m6 0h1m22 0h1M14 33.5h1m31 0h1M1 34.5h1m14 0h1m6 0h1m42 0h1M3 35.5h1m14 0h1m11 0h1m33 0h1M7 36.5h1m37 0h1m7 0h1m14 0h1M5 37.5h1m23 0h1m25 0h1m14 0h1M57 38.5h1M2 39.5h1m55 0h1M0 40.5h1m19 0h2m16 0h4m18 0h1M19 41.5h3m7 0h1m32 0h1M17 42.5h3m3 0h1m24 0h1m15 0h1M15 43.5h3m12 0h1m34 0h1M14 44.5h2m51 0h1M12 45.5h3m54 0h1M10 46.5h3m10 0h3m7 0h1m36 0h2M8 47.5h3m11 0h2m12 0h1m3 0h2M6 48.5h3m10 0h3M4 49.5h3m11 0h2M3 50.5h2m11 0h3M1 51.5h3m10 0h3m29 0h1M0 52.5h2m10 0h3m32 0h1M11 53.5h3m35 0h1M9 54.5h3m39 0h1M7 55.5h3m42 0h1M6 56.5h2m16 0h1m22 0h1m6 0h1M4 57.5h3m17 0h1m22 0h1m8 0h1M2 58.5h3m19 0h1m22 0h1m10 0h1M0 59.5h3m21 0h1m22 0h1m11 0h1M0 60.5h1m20 0h1m2 0h1m22 0h1m13 0h1M19 61.5h1m4 0h1m22 0h1m15 0h1M24 62.5h1m22 0h1m16 0h2M16 63.5h1m7 0h1m22 0h1m18 0h1M14 64.5h1m9 0h1m22 0h1m5 0h1m14 0h1M12 65.5h1m11 0h1m22 0h1m22 0h1M18 66.5h1m5 0h1m22 0h1m5 0h1m17 0h1M9 67.5h1m8 0h1m5 0h1m22 0h1m5 0h1m4 0h1M7 68.5h1m10 0h1m5 0h1m22 0h1m5 0h1m6 0h1M5 69.5h1m12 0h1m5 0h1m22 0h1m5 0h1M18 70.5h1m5 0h1m22 0h1m5 0h1M2 71.5h1m10 0h1m4 0h1m5 0h1m22 0h1m5 0h1m11 0h1"/><path stroke="#62c8af" d="M8 1.5h1m47 0h1m10 0h1M10 2.5h1m54 0h1M1 5.5h1m13 0h1m44 0h1M2 6.5h1m14 0h1m40 0h1M4 7.5h1M6 8.5h1m48 0h1M7 9.5h1m45 0h1M9 10.5h1m41 0h1m18 0h2M11 11.5h1m57 0h2M13 12.5h1m53 0h2M14 13.5h1m50 0h2M16 14.5h1m46 0h3M18 15.5h1m43 0h2M20 16.5h1m39 0h2M21 17.5h1m36 0h2M23 18.5h1m33 0h2M25 19.5h1m29 0h2M26 20.5h1m26 0h2m16 0h1M51 21.5h2m16 0h2M37 22.5h1m12 0h2m15 0h3M48 23.5h2m16 0h2M46 24.5h2m16 0h2M0 25.5h1m61 0h2M1 26.5h1m58 0h2M3 27.5h1m27 0h4m9 0h1m13 0h2M5 28.5h1m22 0h1m7 0h1m20 0h2M6 29.5h1m30 0h1m7 0h1m9 0h2M8 30.5h1m29 0h1m14 0h2M10 31.5h1m40 0h3M12 32.5h1m11 0h1m25 0h2m18 0h1M13 33.5h1m25 0h1m28 0h1M15 34.5h1m16 0h1M2 35.5h1m14 0h1m5 0h1m21 0h1m19 0h1M6 36.5h1m23 0h1m23 0h1m14 0h1M44 37.5h1m11 0h1M3 38.5h1m25 0h1m13 0h1m14 0h1M1 39.5h1m18 0h2m7 0h1m7 0h1m4 0h1m16 0h1M18 40.5h2m3 0h1m5 0h1m19 0h1m11 0h1M17 41.5h2m4 0h1m39 0h1M15 42.5h2m48 0h1M13 43.5h2m32 0h1m18 0h1M11 44.5h3m10 0h1m6 0h1m14 0h1m21 0h1M10 45.5h2m20 0h1m12 0h1m24 0h1M8 46.5h2m24 0h1m8 0h1M6 47.5h2m16 0h2m11 0h3M4 48.5h2m16 0h2M2 49.5h2m16 0h2M1 50.5h2m16 0h2M0 51.5h1m16 0h2m26 0h1M15 52.5h2m29 0h1M14 53.5h2m32 0h1M12 54.5h2m36 0h1M10 55.5h2m39 0h1M8 56.5h2m43 0h1M7 57.5h2m46 0h1M5 58.5h2m50 0h1M3 59.5h2m53 0h1M1 60.5h2m57 0h1M0 61.5h2m18 0h1m41 0h1M18 62.5h1m44 0h1M65 63.5h1M67 64.5h1M13 65.5h1m40 0h1m14 0h1M11 66.5h1m44 0h1m13 0h1M8 68.5h1M6 69.5h1m54 0h1M4 70.5h1m10 0h1m47 0h1"/><path stroke="#68c87c" d="M7 0.5h1m49 0h1m10 0h1M9 1.5h1m56 0h1M12 3.5h1m50 0h1M0 4.5h1m13 0h1m46 0h1M2 5.5h1m56 0h1M3 6.5h1M5 7.5h1m13 0h1m36 0h1M7 8.5h1m46 0h1M8 9.5h1m43 0h1m17 0h2M10 10.5h1m58 0h1M12 11.5h1m54 0h2M14 12.5h1m50 0h2M15 13.5h1m47 0h2M17 14.5h1m44 0h1M19 15.5h1m40 0h2M21 16.5h1m36 0h2M22 17.5h1m34 0h1M24 18.5h1m30 0h2M53 19.5h2M51 20.5h2M50 21.5h1m20 0h1M36 22.5h1m11 0h2m20 0h1M39 23.5h1m6 0h2m20 0h2M41 24.5h1m3 0h1m20 0h1M42 25.5h1m21 0h2M0 26.5h1m42 0h1m18 0h2M2 27.5h1m57 0h2M4 28.5h1m24 0h1m5 0h1m23 0h1M5 29.5h1m21 0h1m29 0h2M7 30.5h1m18 0h1m18 0h1m9 0h2M9 31.5h1m15 0h1m12 0h1m15 0h1M11 32.5h1m40 0h1M12 33.5h1m37 0h2m17 0h1M0 34.5h1m13 0h1m30 0h1m21 0h1M16 35.5h1m14 0h1M23 36.5h1m31 0h1M4 37.5h1m18 0h1m6 0h1m26 0h1m13 0h1M2 38.5h1m17 0h2m1 0h1m35 0h1M18 39.5h2m3 0h1m14 0h1m1 0h2m18 0h1M17 40.5h1m44 0h1M15 41.5h2m31 0h1m15 0h1M13 42.5h2m15 0h1m35 0h1M12 43.5h1m18 0h1m35 0h1M10 44.5h1m58 0h1M8 45.5h2m23 0h1m37 0h1M6 46.5h2m27 0h1m6 0h1M5 47.5h1m20 0h1M2 48.5h2m20 0h2M1 49.5h1m20 0h2M0 50.5h1m20 0h1M19 51.5h2M17 52.5h2M16 53.5h1m30 0h1M14 54.5h2m33 0h1M12 55.5h2m36 0h1M10 56.5h2m40 0h1M9 57.5h1m44 0h1M7 58.5h2m47 0h1M5 59.5h2m50 0h1M3 60.5h2m54 0h1M2 61.5h1m58 0h1M0 62.5h2m17 0h1M17 63.5h1m46 0h1M15 64.5h1m36 0h1m13 0h1M68 65.5h1M12 66.5h1m56 0h1M10 67.5h1m46 0h1m13 0h1M59 68.5h1M5 70.5h1m56 0h1M3 71.5h1m10 0h1m49 0h1"/><path stroke="#96d060" d="M23 0.5h1m24 0h1m18 0h1M23 1.5h1m24 0h1M11 2.5h1m11 0h1m24 0h1m15 0h1M13 3.5h1m9 0h1m24 0h1m13 0h1M1 4.5h1m21 0h1m24 0h1M16 5.5h1m6 0h1m24 0h1M4 6.5h1m13 0h1m4 0h1m24 0h1m8 0h1M6 7.5h1m16 0h1m24 0h1m6 0h1M8 8.5h1m14 0h1m24 0h1m22 0h1M9 9.5h1m13 0h1m24 0h1m20 0h1M11 10.5h1m11 0h1m24 0h1m18 0h2M13 11.5h1m9 0h1m24 0h1m16 0h2M15 12.5h1m7 0h1m24 0h1m15 0h1M16 13.5h1m6 0h1m24 0h1m13 0h1M18 14.5h1m41 0h2M20 15.5h1m38 0h1M57 16.5h1M23 17.5h1m31 0h2M25 18.5h1m27 0h2M52 19.5h1M50 20.5h1M48 21.5h2M31 22.5h5m11 0h1m23 0h1M45 23.5h1m24 0h1M67 24.5h2M66 25.5h1M64 26.5h1M1 27.5h1m60 0h2M3 28.5h1m26 0h1m3 0h1m9 0h1m15 0h2M36 29.5h1m22 0h1M6 30.5h1m30 0h1m19 0h1M8 31.5h1m36 0h1m9 0h2M10 32.5h1m34 0h1m7 0h2m16 0h1M11 33.5h1m12 0h1m20 0h1m6 0h1M13 34.5h1m36 0h2m16 0h1M1 35.5h1m13 0h1m50 0h1M5 36.5h1m25 0h1m12 0h1m11 0h1m13 0h1M3 37.5h1m16 0h2m21 0h1m14 0h1M19 38.5h1m10 0h1m11 0h1m17 0h1M0 39.5h1m16 0h1m12 0h1m8 0h1m9 0h1m11 0h1M15 40.5h2m13 0h1m32 0h1M13 41.5h2m15 0h1m34 0h1M12 42.5h1m54 0h1M10 43.5h2m12 0h1m43 0h1M8 44.5h2m22 0h1m37 0h1M7 45.5h1m17 0h1m18 0h1M5 46.5h1m20 0h1m9 0h1m4 0h1M3 47.5h2M1 48.5h1m24 0h1M0 49.5h1m23 0h1M22 50.5h2M21 51.5h1M19 52.5h1M17 53.5h2m27 0h1M16 54.5h1m31 0h1M14 55.5h1m34 0h1M12 56.5h2m37 0h1M10 57.5h2m41 0h1M9 58.5h1m13 0h1m24 0h1m6 0h1M7 59.5h1m15 0h1m24 0h1m7 0h1M5 60.5h2m16 0h1m24 0h1m9 0h1M3 61.5h2m18 0h1m24 0h1m11 0h1M2 62.5h1m20 0h1m24 0h1m13 0h1M0 63.5h1m22 0h1m24 0h1m14 0h1M16 64.5h1m6 0h1m24 0h1m16 0h1M14 65.5h1m8 0h1m24 0h1m4 0h1m13 0h1M23 66.5h1m24 0h1m6 0h1M23 67.5h1m24 0h1m21 0h1M9 68.5h1m13 0h1m24 0h1m9 0h1M7 69.5h1m15 0h1m24 0h1m11 0h1M23 70.5h1m24 0h1M4 71.5h1m18 0h1m24 0h1"/><path stroke="#c6d444" d="M8 0.5h1m8 0h1m36 0h1M10 1.5h1m6 0h1m36 0h1m10 0h1M17 2.5h1m36 0h1m8 0h1M0 3.5h1m16 0h1m36 0h1M2 4.5h1m12 0h1m44 0h1M3 5.5h1m13 0h1m40 0h1M5 6.5h1m50 0h1M7 7.5h1m63 0h1M9 8.5h1m43 0h1m15 0h2M10 9.5h1m40 0h1m16 0h1M12 10.5h1m53 0h1M14 11.5h1m49 0h1M62 12.5h2M17 13.5h1m43 0h1M19 14.5h1m39 0h1M21 15.5h1m35 0h2M22 16.5h1m32 0h2M24 17.5h1m29 0h1M52 18.5h1M50 19.5h2M49 20.5h1M47 21.5h1M45 22.5h2M38 23.5h1m5 0h1m26 0h1M40 24.5h1m28 0h1M67 25.5h1M65 26.5h2M0 27.5h1m42 0h1m20 0h1M2 28.5h1m28 0h3m28 0h1M4 29.5h1m23 0h1m6 0h1m8 0h1m15 0h2M5 30.5h1m21 0h1m30 0h2M7 31.5h1m18 0h1m10 0h1m19 0h1M9 32.5h1m15 0h1m12 0h1m16 0h1M53 33.5h2m15 0h1M12 34.5h1m11 0h1m27 0h1M14 35.5h1m17 0h1m11 0h1m5 0h1M21 36.5h1m35 0h1M19 37.5h1m39 0h1M1 38.5h1m15 0h2m22 0h1m7 0h1M16 39.5h1m45 0h1M14 40.5h1m49 0h1M12 41.5h1m53 0h1M10 42.5h2m12 0h1m6 0h1m15 0h1M9 43.5h1m22 0h1m13 0h1m22 0h1M7 44.5h1m25 0h1m11 0h1m25 0h1M5 45.5h2m27 0h1m8 0h1M4 46.5h1m32 0h4M2 47.5h1m24 0h1M0 48.5h1m26 0h1M25 49.5h2M24 50.5h1M22 51.5h2M20 52.5h2M19 53.5h1M17 54.5h1m29 0h1M15 55.5h2M14 56.5h1m35 0h1M12 57.5h1m39 0h1M10 58.5h1m43 0h1M8 59.5h2M7 60.5h1m49 0h1M5 61.5h1m53 0h1M3 62.5h1m16 0h1m40 0h1M1 63.5h2m15 0h1m43 0h1M0 64.5h1m63 0h1M15 65.5h1m50 0h1M13 66.5h1m40 0h1m13 0h1M11 67.5h1m44 0h1m12 0h1M17 68.5h1m36 0h1m16 0h1M8 69.5h1m8 0h1m36 0h1M6 70.5h1m10 0h1m36 0h1m6 0h1M17 71.5h1m36 0h1m8 0h1"/><path stroke="#e4e13e" d="M56 0.5h1m9 0h1M12 2.5h1M1 3.5h1m12 0h1m46 0h1M59 4.5h1M4 5.5h1M6 6.5h1M8 7.5h1m45 0h1m15 0h1M52 8.5h1m15 0h1M11 9.5h1m54 0h2M13 10.5h1m51 0h1M15 11.5h1m47 0h1M16 12.5h1m44 0h1M18 13.5h1m40 0h2M20 14.5h1m37 0h1M56 15.5h1M23 16.5h1m30 0h1M53 17.5h1M51 18.5h1M49 19.5h1M48 20.5h1M46 21.5h1M44 22.5h1M29 23.5h1m7 0h1m5 0h1M70 24.5h1M41 25.5h1m26 0h2M42 26.5h1m24 0h1M65 27.5h1M1 28.5h1m61 0h1M3 29.5h1m25 0h1m4 0h1m27 0h1M36 30.5h1m7 0h1m15 0h1M6 31.5h1m51 0h1M8 32.5h1m47 0h2M10 33.5h1m27 0h1m5 0h1m10 0h1M11 34.5h1m32 0h1m8 0h1m15 0h1M0 35.5h1m12 0h1m10 0h1m26 0h1m15 0h1M4 36.5h1m15 0h1m22 0h1m14 0h1m12 0h1M2 37.5h1m15 0h1m12 0h1m10 0h1m17 0h1M0 38.5h1m15 0h1m14 0h1m6 0h3m20 0h1M14 39.5h2m15 0h1m31 0h1M13 40.5h1m17 0h1m16 0h1m16 0h1M11 41.5h1m12 0h1m6 0h1m35 0h1M9 42.5h1m58 0h1M7 43.5h2m61 0h1M6 44.5h1m18 0h1M4 45.5h1m30 0h1m6 0h1M2 46.5h2M1 47.5h1M28 48.5h2M27 49.5h1M25 50.5h1m9 0h2M35 51.5h2M22 52.5h1m12 0h2M20 53.5h1m14 0h2M18 54.5h2m15 0h2M17 55.5h1m17 0h2m11 0h1M15 56.5h1m19 0h2m12 0h1M13 57.5h1m21 0h2m14 0h1M11 58.5h2m22 0h2m16 0h1M10 59.5h1m24 0h2m18 0h1M8 60.5h1m26 0h2m19 0h1M6 61.5h1m28 0h2m21 0h1M4 62.5h2m29 0h2m23 0h1M3 63.5h1m15 0h1m15 0h2M1 64.5h1m15 0h1m17 0h2m26 0h1M0 65.5h1m34 0h2m28 0h1M35 66.5h2m30 0h1M12 67.5h1m22 0h2M10 68.5h1m24 0h2m20 0h1m12 0h1M35 69.5h2m22 0h1M35 70.5h2M5 71.5h1m9 0h1m19 0h2"/><path stroke="#96d060" d="M32 0.5h1m6 0h1m25 0h1M32 1.5h1m6 0h1m23 0h1M1 2.5h1m11 0h1m18 0h1m6 0h1M15 3.5h1m16 0h1m6 0h1M4 4.5h1m27 0h1m6 0h1m18 0h1M6 5.5h1m25 0h1m6 0h1m16 0h1m14 0h1M8 6.5h1m23 0h1m6 0h1m29 0h1M9 7.5h1m22 0h1m6 0h1m13 0h1m14 0h1M11 8.5h1m20 0h1m6 0h1m26 0h1M13 9.5h1m18 0h1m6 0h1m24 0h1M32 10.5h1m6 0h1m22 0h1M16 11.5h1m15 0h1m6 0h1m21 0h1M18 12.5h1m13 0h1m6 0h1m19 0h1M20 13.5h1m11 0h1m6 0h1m17 0h1M32 14.5h1m6 0h1m16 0h1M23 15.5h1m8 0h1m6 0h1m14 0h1M32 16.5h1m6 0h1m12 0h1M32 17.5h1m6 0h1m10 0h1M32 18.5h1m6 0h1m9 0h1M32 19.5h1m6 0h1m7 0h1M32 20.5h1m6 0h1m5 0h1M32 21.5h1m6 0h1M31 23.5h5M40 25.5h1m30 0h1M41 26.5h1m27 0h1M42 27.5h1m24 0h1M66 28.5h1M1 29.5h1m41 0h1m20 0h1M3 30.5h1m25 0h1m4 0h1m27 0h1M27 31.5h1m7 0h1m13 0h1m10 0h1M6 32.5h1m29 0h1m22 0h1M8 33.5h1m28 0h1m19 0h1M10 34.5h1m14 0h1m7 0h1m9 0h1m11 0h1m14 0h1M33 35.5h1m15 0h1m3 0h2M17 36.5h1m15 0h1m7 0h1m7 0h1M1 37.5h1m14 0h1m21 0h2m21 0h1M14 38.5h1m9 0h1m7 0h1m30 0h1M12 39.5h1m19 0h1m32 0h1M10 40.5h2m20 0h1M9 41.5h1m22 0h1m35 0h1M7 42.5h1m38 0h1m23 0h1M5 43.5h1M4 44.5h1m30 0h1m7 0h1M2 45.5h1m34 0h4M0 46.5h1M28 47.5h1M30 48.5h1M32 50.5h1m6 0h1M26 51.5h1m5 0h1m6 0h1M24 52.5h1m7 0h1m6 0h1M22 53.5h1m9 0h1m6 0h1M21 54.5h1m10 0h1m6 0h1M19 55.5h1m12 0h1m6 0h1M17 56.5h1m14 0h1m6 0h1m8 0h1M15 57.5h2m15 0h1m6 0h1M14 58.5h1m17 0h1m6 0h1m11 0h1M12 59.5h1m19 0h1m6 0h1m13 0h1M10 60.5h1m21 0h1m6 0h1m15 0h1M9 61.5h1m22 0h1m6 0h1M7 62.5h1m24 0h1m6 0h1m18 0h1M5 63.5h1m26 0h1m6 0h1m20 0h1M3 64.5h1m14 0h1m13 0h1m6 0h1m22 0h1M2 65.5h1m29 0h1m6 0h1m23 0h1M0 66.5h1m14 0h1m16 0h1m6 0h1m25 0h1M13 67.5h1m18 0h1m6 0h1m27 0h1M32 68.5h1m6 0h1m16 0h1M32 69.5h1m6 0h1m18 0h1m11 0h1M8 70.5h1m23 0h1m6 0h1M6 71.5h1m25 0h1m6 0h1"/><path stroke="#68c87c" d="M10 0.5h1m5 0h1m14 0h1m8 0h1m14 0h1M0 1.5h1m11 0h1m3 0h1m14 0h1m8 0h1m14 0h1M31 2.5h1m8 0h1m20 0h1M3 3.5h1m27 0h1m8 0h1m18 0h1M5 4.5h1m11 0h1m13 0h1m8 0h1M7 5.5h1m23 0h1m8 0h1m29 0h1M31 6.5h1m8 0h1m13 0h1m13 0h1M10 7.5h1m20 0h1m8 0h1m11 0h1m14 0h1M12 8.5h1m18 0h1m8 0h1m24 0h1M31 9.5h1m8 0h1m22 0h1M15 10.5h1m15 0h1m8 0h1m20 0h1M17 11.5h1m13 0h1m8 0h1m19 0h1M19 12.5h1m11 0h1m8 0h1m17 0h1M31 13.5h1m8 0h1m15 0h1M22 14.5h1m8 0h1m8 0h1m14 0h1M31 15.5h1m8 0h1m12 0h1M31 16.5h1m8 0h1m10 0h1M31 17.5h1m8 0h1m8 0h1M31 18.5h1m8 0h1m7 0h1M31 19.5h1m8 0h1m5 0h1M31 20.5h1m8 0h1M31 21.5h1m8 0h1M28 24.5h1m9 0h1M26 25.5h1M70 26.5h1M68 27.5h1M67 28.5h1M0 29.5h1m64 0h1M2 30.5h1m27 0h1m1 0h2m9 0h1m19 0h1M4 31.5h1m23 0h1m14 0h1m17 0h1M43 32.5h1m5 0h1m10 0h1M7 33.5h1m18 0h1m9 0h1m6 0h1m5 0h1m8 0h1M9 34.5h1m27 0h2m10 0h1m6 0h1M11 35.5h1m13 0h1m16 0h1m12 0h1m13 0h1M2 36.5h1m13 0h1m21 0h3m19 0h1M15 37.5h1m17 0h1m3 0h1m24 0h1M13 38.5h1m34 0h1m15 0h1M11 39.5h1M9 40.5h1m37 0h1m19 0h1M8 41.5h1m60 0h1M6 42.5h1m18 0h1m7 0h1m37 0h1M4 43.5h1m29 0h1m9 0h1M3 44.5h1m22 0h1m9 0h1m5 0h1M1 45.5h1M32 49.5h1M31 50.5h1m8 0h1M31 51.5h1m8 0h1M25 52.5h1m5 0h1m8 0h1M23 53.5h1m7 0h1m8 0h1M22 54.5h1m8 0h1m8 0h1M20 55.5h1m10 0h1m8 0h1M18 56.5h1m12 0h1m8 0h1M17 57.5h1m13 0h1m8 0h1m8 0h1M15 58.5h1m15 0h1m8 0h1M13 59.5h1m17 0h1m8 0h1m11 0h1M11 60.5h1m19 0h1m8 0h1m13 0h1M10 61.5h1m20 0h1m8 0h1m15 0h1M8 62.5h1m22 0h1m8 0h1m16 0h1M6 63.5h1m24 0h1m8 0h1m18 0h1M4 64.5h1m14 0h1m11 0h1m8 0h1m20 0h1M3 65.5h1m13 0h1m13 0h1m8 0h1M1 66.5h1m29 0h1m8 0h1m23 0h1M31 67.5h1m8 0h1m13 0h1m11 0h1M12 68.5h1m18 0h1m8 0h1m27 0h1M10 69.5h1m20 0h1m8 0h1M16 70.5h1m14 0h1m8 0h1m14 0h1m3 0h1m11 0h1M16 71.5h1m14 0h1m8 0h1m14 0h1m5 0h1"/><path stroke="#62c8af" d="M21 0.5h1m8 0h1m10 0h1m8 0h1m13 0h1M21 1.5h1m8 0h1m10 0h1m8 0h1m11 0h1M2 2.5h1m11 0h1m6 0h1m8 0h1m10 0h1m8 0h1M4 3.5h1m11 0h1m4 0h1m8 0h1m10 0h1m8 0h1M6 4.5h1m14 0h1m8 0h1m10 0h1m8 0h1m6 0h1m13 0h1M21 5.5h1m8 0h1m10 0h1m8 0h1m4 0h1m13 0h1M9 6.5h1m11 0h1m8 0h1m10 0h1m8 0h1m16 0h1M11 7.5h1m9 0h1m8 0h1m10 0h1m8 0h1m15 0h1M21 8.5h1m8 0h1m10 0h1m8 0h1m13 0h1M14 9.5h1m6 0h1m8 0h1m10 0h1m8 0h1m11 0h1M16 10.5h1m4 0h1m8 0h1m10 0h1m8 0h1m9 0h1M18 11.5h1m11 0h1m10 0h1m17 0h1M30 12.5h1m10 0h1m15 0h1M21 13.5h1m8 0h1m10 0h1m13 0h1M23 14.5h1m6 0h1m10 0h1m12 0h1M30 15.5h1m10 0h1m10 0h1M30 16.5h1m10 0h1m8 0h1M30 17.5h1m10 0h1m6 0h1M30 18.5h1m10 0h1m5 0h1M30 19.5h1m10 0h1M30 20.5h1m10 0h1M30 21.5h1m10 0h1M30 22.5h1m10 0h1M37 24.5h1M39 25.5h1M25 26.5h1m45 0h1M24 27.5h1m16 0h1m27 0h1M42 28.5h1m25 0h1M66 29.5h1M1 30.5h1m29 0h1m32 0h1M3 31.5h1m30 0h1m27 0h1M5 32.5h1m21 0h1m7 0h1m25 0h1M35 33.5h1m23 0h1M8 34.5h1m25 0h3m2 0h1m2 0h1m14 0h1m13 0h1M10 35.5h1m23 0h8M15 36.5h1m9 0h1m8 0h4m23 0h1M0 37.5h1m13 0h1m19 0h1m1 0h1m11 0h1m14 0h1M12 38.5h1m20 0h1M10 39.5h1m22 0h1m32 0h1M25 40.5h1m7 0h1m34 0h1M7 41.5h1m17 0h1m7 0h1m12 0h1m23 0h1M5 42.5h1m28 0h1m10 0h1M3 43.5h1m22 0h1m8 0h1M2 44.5h1m34 0h1m3 0h1M0 45.5h1m26 0h1M28 46.5h1M29 47.5h1M30 49.5h1m2 0h1m7 0h1M30 50.5h1m10 0h1M30 51.5h1m10 0h1M30 52.5h1m10 0h1M24 53.5h1m5 0h1m10 0h1M23 54.5h1m6 0h1m10 0h1M21 55.5h1m8 0h1m10 0h1M19 56.5h1m10 0h1m10 0h1M30 57.5h1m10 0h1m6 0h1M16 58.5h1m13 0h1m10 0h1m8 0h1M14 59.5h1m15 0h1m10 0h1M12 60.5h1m17 0h1m10 0h1m11 0h1M11 61.5h1m9 0h1m8 0h1m10 0h1m8 0h1m4 0h1M9 62.5h1m11 0h1m8 0h1m10 0h1m8 0h1M7 63.5h1m13 0h1m8 0h1m10 0h1m8 0h1m7 0h1M5 64.5h1m15 0h1m8 0h1m10 0h1m8 0h1m9 0h1M4 65.5h1m16 0h1m8 0h1m10 0h1m8 0h1m11 0h1M2 66.5h1m13 0h1m4 0h1m8 0h1m10 0h1m8 0h1M0 67.5h1m13 0h1m6 0h1m8 0h1m10 0h1m8 0h1m14 0h1M21 68.5h1m8 0h1m10 0h1m8 0h1m4 0h1m11 0h1M21 69.5h1m8 0h1m10 0h1m8 0h1m6 0h1m11 0h1M9 70.5h1m11 0h1m8 0h1m10 0h1m8 0h1M7 71.5h1m13 0h1m8 0h1m10 0h1m8 0h1"/><path stroke="#65c0da" d="M11 0.5h1m17 0h1m12 0h1m20 0h1M1 1.5h1m11 0h1m15 0h1m12 0h1M3 2.5h1m25 0h1m12 0h1m17 0h1M5 3.5h1m23 0h1m12 0h1m15 0h1M29 4.5h1m12 0h1m27 0h1M8 5.5h1m20 0h1m12 0h1m25 0h1M10 6.5h1m18 0h1m12 0h1m10 0h1M29 7.5h1m12 0h1m22 0h1M13 8.5h1m15 0h1m12 0h1m20 0h1M15 9.5h1m13 0h1m12 0h1m18 0h1M17 10.5h1m11 0h1m12 0h1M29 11.5h1m12 0h1m15 0h1M20 12.5h1m8 0h1m12 0h1m13 0h1M22 13.5h1m6 0h1m12 0h1m11 0h1M29 14.5h1m12 0h1m10 0h1M29 15.5h1m12 0h1m8 0h1M29 16.5h1m12 0h1m6 0h1M29 17.5h1m12 0h1M29 18.5h1m12 0h1m3 0h1M29 19.5h1m12 0h1M29 20.5h1m12 0h1M29 21.5h1m12 0h1M29 22.5h1m12 0h1M29 24.5h1m6 0h1M27 25.5h1M40 26.5h1M70 27.5h1M69 28.5h1M42 29.5h1m5 0h1m18 0h1M65 30.5h1M2 31.5h1m26 0h1m3 0h1m29 0h1M4 32.5h1m29 0h1m27 0h1M6 33.5h1m27 0h1m7 0h1m17 0h1M26 34.5h1m31 0h1M9 35.5h1m46 0h1m13 0h1M1 36.5h1m46 0h1m13 0h1M13 37.5h1m11 0h1m9 0h1M11 38.5h1m13 0h1m8 0h1m1 0h1m28 0h1M9 39.5h1m15 0h1m21 0h1m19 0h1M8 40.5h1m60 0h1M6 41.5h1m27 0h1M4 42.5h1M2 43.5h1m40 0h1M1 44.5h1m36 0h3M31 48.5h1M29 49.5h1m4 0h1m7 0h1M29 50.5h1m12 0h1M29 51.5h1m12 0h1M29 52.5h1m12 0h1M25 53.5h1m3 0h1m12 0h1M29 54.5h1m12 0h1M22 55.5h1m6 0h1m12 0h1M20 56.5h1m8 0h1m12 0h1M18 57.5h1m10 0h1m12 0h1M17 58.5h1m11 0h1m12 0h1m6 0h1M15 59.5h1m13 0h1m12 0h1m8 0h1M13 60.5h1m15 0h1m12 0h1M29 61.5h1m12 0h1m11 0h1M10 62.5h1m18 0h1m12 0h1m13 0h1M8 63.5h1m20 0h1m12 0h1M6 64.5h1m22 0h1m12 0h1m16 0h1M5 65.5h1m12 0h1m10 0h1m12 0h1m18 0h1M3 66.5h1m25 0h1m12 0h1m20 0h1M1 67.5h1m13 0h1m13 0h1m12 0h1M13 68.5h1m15 0h1m12 0h1m23 0h1M11 69.5h1m17 0h1m12 0h1m25 0h1M29 70.5h1m12 0h1m15 0h1m11 0h1M8 71.5h1m20 0h1m12 0h1m17 0h1"/><path stroke="#b6d34d" d="M0 0.5h1M2 1.5h1m58 0h1M4 2.5h1m10 0h1m43 0h1M71 3.5h1M7 4.5h1m48 0h1m12 0h1M9 5.5h1m44 0h1m12 0h1M66 6.5h1M12 7.5h1m51 0h1M14 8.5h1m47 0h1M16 9.5h1m43 0h1M59 10.5h1M19 11.5h1m37 0h1M21 12.5h1m33 0h1M52 14.5h1M50 15.5h1M48 16.5h1M47 17.5h1M30 24.5h2m3 0h1M38 25.5h1M26 26.5h1M47 27.5h1m23 0h1M41 28.5h1M23 29.5h1m44 0h1M0 30.5h1m41 0h1m5 0h1m17 0h1M30 31.5h3m9 0h1m5 0h1m15 0h1M3 32.5h1m24 0h1m4 0h1m8 0h1M5 33.5h1m21 0h1m33 0h1M7 34.5h1m33 0h1m17 0h1M26 35.5h1m21 0h1m8 0h1M14 36.5h1M12 37.5h1m51 0h1M10 38.5h1m24 0h1m30 0h1M8 39.5h1m25 0h1m33 0h1M7 40.5h1m26 0h1m11 0h1M5 41.5h1m39 0h1m25 0h1M3 42.5h1m22 0h1m8 0h1m8 0h1M36 43.5h1m5 0h1M0 44.5h1m26 0h1M30 47.5h1M32 48.5h1M35 49.5h1M24 54.5h1M23 55.5h1M21 56.5h1M19 57.5h1M18 58.5h1M16 59.5h1m33 0h1M14 60.5h1m37 0h1M12 61.5h1M11 62.5h1m43 0h1M9 63.5h1m47 0h1M7 64.5h1M4 66.5h1m12 0h1m44 0h1M2 67.5h1m61 0h1M0 68.5h1M12 69.5h1m43 0h1m10 0h1M10 70.5h1m58 0h1M71 71.5h1"/><path stroke="#f2c020" d="M1 0.5h1m10 0h1m7 0h1m7 0h1m14 0h1m7 0h1m10 0h1M14 1.5h1m5 0h1m7 0h1m14 0h1m7 0h1M20 2.5h1m7 0h1m14 0h1m7 0h1M6 3.5h1m13 0h1m7 0h1m14 0h1m7 0h1m5 0h1m12 0h1M8 4.5h1m11 0h1m7 0h1m14 0h1m7 0h1m3 0h1m12 0h1M20 5.5h1m7 0h1m14 0h1m7 0h1M11 6.5h1m8 0h1m7 0h1m14 0h1m7 0h1m13 0h1M13 7.5h1m6 0h1m7 0h1m14 0h1m7 0h1m11 0h1M15 8.5h1m4 0h1m7 0h1m14 0h1m7 0h1m9 0h1M28 9.5h1m14 0h1M18 10.5h1m9 0h1m14 0h1m14 0h1M20 11.5h1m7 0h1m14 0h1m12 0h1M22 12.5h1m5 0h1m14 0h1m10 0h1M28 13.5h1m14 0h1m9 0h1M0 14.5h2m26 0h1m14 0h1m7 0h1M0 15.5h4m24 0h1m14 0h1m5 0h1M0 16.5h5m23 0h1m14 0h1M0 17.5h7m21 0h1m14 0h1M2 18.5h7m19 0h1m14 0h1M4 19.5h7m17 0h1m14 0h1M6 20.5h6m16 0h1m14 0h1M7 21.5h7m14 0h1m14 0h1M9 22.5h7m12 0h1m14 0h1M11 23.5h7M13 24.5h7m12 0h3M15 25.5h6m7 0h1m8 0h1M16 26.5h7m16 0h1M18 27.5h6m1 0h1m14 0h1M20 28.5h5m45 0h1M22 29.5h1M67 30.5h1M1 31.5h1m20 0h1m42 0h1M29 32.5h1m18 0h1m14 0h1M33 33.5h1m14 0h1m13 0h1M6 34.5h1m20 0h1m12 0h1m7 0h1m11 0h1M8 35.5h1m49 0h1m12 0h1M0 36.5h1m12 0h1m12 0h1m36 0h1M11 37.5h1m53 0h1M9 38.5h1m37 0h1m19 0h1M35 39.5h1M6 40.5h1m63 0h1M4 41.5h1m21 0h1m8 0h1M2 42.5h1m46 0h2M1 43.5h1m35 0h2m2 0h1m6 0h4M48 44.5h6M28 45.5h1m20 0h7M29 46.5h1m20 0h8M52 47.5h7M54 48.5h8M28 49.5h1m7 0h1m2 0h2m2 0h1m12 0h7M28 50.5h1m14 0h1m14 0h7M28 51.5h1m14 0h1m15 0h8M28 52.5h1m14 0h1m17 0h7M28 53.5h1m14 0h1m19 0h7M28 54.5h1m14 0h1m21 0h7M28 55.5h1m14 0h1m22 0h6M22 56.5h1m5 0h1m14 0h1m24 0h4M20 57.5h1m7 0h1m14 0h1m26 0h2M28 58.5h1m14 0h1m27 0h1M17 59.5h1m10 0h1m14 0h1m5 0h1M15 60.5h1m12 0h1m14 0h1m7 0h1M13 61.5h1m14 0h1m14 0h1m9 0h1M28 62.5h1m14 0h1M10 63.5h1m9 0h1m7 0h1m14 0h1m7 0h1m4 0h1M8 64.5h1m11 0h1m7 0h1m14 0h1m7 0h1m6 0h1M6 65.5h1m13 0h1m7 0h1m14 0h1m7 0h1m8 0h1M5 66.5h1m14 0h1m7 0h1m14 0h1m7 0h1M3 67.5h1m12 0h1m3 0h1m7 0h1m14 0h1m7 0h1m11 0h1M1 68.5h1m12 0h1m5 0h1m7 0h1m14 0h1m7 0h1m13 0h1M20 69.5h1m7 0h1m14 0h1m7 0h1M20 70.5h1m7 0h1m14 0h1m7 0h1m5 0h1M9 71.5h1m10 0h1m7 0h1m14 0h1m7 0h1m7 0h1m10 0h1"/><path stroke="#e96a27" d="M27 0.5h1m16 0h1M3 1.5h1m23 0h1m16 0h1m15 0h1M5 2.5h1m10 0h1m10 0h1m16 0h1m13 0h1m12 0h1M7 3.5h1m19 0h1m16 0h1m24 0h1M27 4.5h1m16 0h1m22 0h1M10 5.5h1m16 0h1m16 0h1m21 0h1M12 6.5h1m14 0h1m16 0h1m19 0h1M14 7.5h1m12 0h1m16 0h1m17 0h1M27 8.5h1m16 0h1M17 9.5h1m9 0h1m16 0h1m14 0h1M19 10.5h1m7 0h1m16 0h1m12 0h1M27 11.5h1m16 0h1m10 0h1M0 12.5h2m25 0h1m16 0h1M0 13.5h4m23 0h1m16 0h1m7 0h1M2 14.5h4m21 0h1m16 0h1m5 0h1M4 15.5h3m20 0h1m16 0h1m3 0h1M5 16.5h4m18 0h1m16 0h1m2 0h1M7 17.5h4m16 0h1m16 0h1M0 18.5h2m7 0h3m15 0h1m16 0h1M0 19.5h4m7 0h3m13 0h1m16 0h1M2 20.5h4m6 0h4m11 0h1m16 0h1M4 21.5h3m7 0h4m9 0h1m16 0h1M5 22.5h4m7 0h3M7 23.5h4m7 0h3M9 24.5h4m7 0h3M11 25.5h4m6 0h4m4 0h1m6 0h1M13 26.5h3m7 0h2m2 0h1m10 0h1m7 0h1M15 27.5h3M16 28.5h4m27 0h1m23 0h1M18 29.5h4m19 0h1m27 0h1M20 30.5h4m44 0h1M0 31.5h1m20 0h1m44 0h1M2 32.5h1m19 0h1m7 0h3m31 0h1M4 33.5h1m23 0h1m12 0h1M61 34.5h1M7 35.5h1m51 0h1M12 36.5h1m51 0h1M10 37.5h1m15 0h1m20 0h1M26 38.5h1M7 39.5h1m18 0h1m19 0h1m22 0h1M5 40.5h1m20 0h1m8 0h1m14 0h1m20 0h1M3 41.5h1m40 0h1m4 0h3M36 42.5h1m6 0h1m7 0h3M0 43.5h1m26 0h1m11 0h2m11 0h4M54 44.5h4M47 45.5h2m7 0h3M47 46.5h3m8 0h3M31 47.5h1m17 0h3m7 0h4M33 48.5h1m17 0h3m8 0h3M37 49.5h2m13 0h4m7 0h4M27 50.5h1m16 0h1m9 0h4m7 0h3M27 51.5h1m16 0h1m11 0h3m8 0h3M27 52.5h1m16 0h1m13 0h3m7 0h4M27 53.5h1m16 0h1m14 0h4m7 0h2M27 54.5h1m16 0h1m16 0h4M24 55.5h1m2 0h1m16 0h1m18 0h3M23 56.5h1m3 0h1m16 0h1m20 0h3M21 57.5h1m5 0h1m16 0h1m21 0h4M19 58.5h1m7 0h1m16 0h1m23 0h3M27 59.5h1m16 0h1m25 0h2M16 60.5h1m10 0h1m16 0h1M14 61.5h1m12 0h1m16 0h1m7 0h1M12 62.5h1m14 0h1m16 0h1m9 0h1M11 63.5h1m15 0h1m16 0h1M9 64.5h1m17 0h1m16 0h1m12 0h1M7 65.5h1m19 0h1m16 0h1m14 0h1M27 66.5h1m16 0h1m16 0h1M4 67.5h1m22 0h1m16 0h1M2 68.5h1m24 0h1m16 0h1m19 0h1M0 69.5h1m12 0h1m13 0h1m16 0h1m10 0h1m10 0h1M11 70.5h1m15 0h1m16 0h1m23 0h1M27 71.5h1m16 0h1"/><path stroke="#e02e2e" d="M2 0.5h1m10 0h1m47 0h1M4 1.5h1m10 0h1M6 2.5h1m63 0h1M56 3.5h1m11 0h1M9 4.5h1m44 0h1M11 5.5h1m53 0h1M63 6.5h1M61 7.5h1M16 8.5h1m43 0h1M18 9.5h1m39 0h1M0 10.5h1m55 0h1M0 11.5h3m18 0h1M2 12.5h2m49 0h1M4 13.5h2m45 0h1M6 14.5h2m41 0h1M7 15.5h3M9 16.5h2M11 17.5h2M12 18.5h3M14 19.5h2M0 20.5h2m14 0h2M1 21.5h3m14 0h2M3 22.5h2m14 0h3M5 23.5h2m14 0h2M7 24.5h2m14 0h2m19 0h1M9 25.5h2m14 0h1m4 0h1m4 0h1m9 0h1M11 26.5h2M12 27.5h3m11 0h1m12 0h1M14 28.5h2m24 0h1M16 29.5h2m29 0h1m22 0h1M17 30.5h3m21 0h1M19 31.5h2m20 0h1m25 0h1M1 32.5h1m19 0h1m19 0h1m23 0h1M3 33.5h1m25 0h1m33 0h1M5 34.5h1m22 0h1M27 35.5h1m32 0h1M11 36.5h1m35 0h1M66 37.5h1M8 38.5h1m59 0h1M6 39.5h1m43 0h1m19 0h1M4 40.5h1m40 0h1m5 0h2M36 41.5h1m15 0h3M1 42.5h1m25 0h1m9 0h1m4 0h1m11 0h2M56 43.5h2M28 44.5h1m29 0h2M29 45.5h1m29 0h3M30 46.5h1m15 0h1m14 0h2M47 47.5h2m14 0h2M34 48.5h1m7 0h1m5 0h3m14 0h2M50 49.5h2m15 0h2M52 50.5h2m14 0h3M54 51.5h2m14 0h2M55 52.5h3M57 53.5h2M59 54.5h2M61 55.5h2M62 56.5h3M22 57.5h1m41 0h2M20 58.5h1m45 0h2M18 59.5h1m49 0h2M50 60.5h1m18 0h3M15 61.5h1m55 0h1M13 62.5h1m39 0h1M55 63.5h1M10 64.5h1M8 65.5h1M6 66.5h1m53 0h1M17 67.5h1m44 0h1M3 68.5h1m11 0h1M1 69.5h1m63 0h1M56 70.5h1m10 0h1M10 71.5h1m47 0h1m10 0h1"/><path stroke="#bd1e2a" d="M3 0.5h1m22 0h1m18 0h1M26 1.5h1m18 0h1m13 0h1m11 0h1M26 2.5h1m18 0h1m11 0h1m11 0h1M8 3.5h1m17 0h1m18 0h1M10 4.5h1m15 0h1m18 0h1m20 0h1M26 5.5h1m18 0h1m18 0h1M13 6.5h1m12 0h1m18 0h1m16 0h1M15 7.5h1m10 0h1m18 0h1M17 8.5h1m8 0h1m18 0h1m13 0h1M0 9.5h1m25 0h1m18 0h1m11 0h1M1 10.5h2m17 0h1m5 0h1m18 0h1M3 11.5h1m22 0h1m18 0h1m8 0h1M4 12.5h2m20 0h1m18 0h1m6 0h1M6 13.5h2m18 0h1m18 0h1m4 0h1M8 14.5h2m16 0h1m18 0h1M10 15.5h1m15 0h1m18 0h1M11 16.5h2m13 0h1m18 0h1M13 17.5h2m11 0h1m18 0h1M15 18.5h2m9 0h1m18 0h1M16 19.5h2m8 0h1m18 0h1M18 20.5h2M0 21.5h1m19 0h2M1 22.5h2m19 0h2M3 23.5h2m18 0h2M5 24.5h2m18 0h2M7 25.5h2m22 0h4M9 26.5h2m17 0h1m8 0h1M10 27.5h2m34 0h1M12 28.5h2m11 0h1M14 29.5h2m8 0h1m15 0h1m30 0h1M16 30.5h1m30 0h1m21 0h1M17 31.5h2m4 0h1M19 32.5h2m45 0h1M21 33.5h2m7 0h1m9 0h1m23 0h1M4 34.5h1m57 0h1M6 35.5h1m40 0h1M27 36.5h1m37 0h1M9 37.5h1m17 0h1m39 0h1M7 38.5h1m38 0h1m3 0h1M5 39.5h1m30 0h1m14 0h2M36 40.5h1m16 0h2M2 41.5h1m24 0h1m15 0h1m11 0h1M0 42.5h1m37 0h4m14 0h2M28 43.5h1m29 0h2M60 44.5h2M62 45.5h1M63 46.5h2M32 47.5h1m12 0h2m18 0h2M35 48.5h1m5 0h1m5 0h1m19 0h2M48 49.5h2m19 0h2M50 50.5h2m19 0h1M52 51.5h2M26 52.5h1m18 0h1m8 0h1M26 53.5h1m18 0h1m9 0h2M26 54.5h1m18 0h1m11 0h2M26 55.5h1m18 0h1m13 0h2M26 56.5h1m18 0h1m15 0h1M26 57.5h1m18 0h1m16 0h2M21 58.5h1m4 0h1m18 0h1m18 0h2M19 59.5h1m6 0h1m18 0h1m20 0h2M17 60.5h1m8 0h1m18 0h1m21 0h2M16 61.5h1m9 0h1m18 0h1m5 0h1m17 0h2M14 62.5h1m11 0h1m18 0h1m25 0h1M12 63.5h1m13 0h1m18 0h1m8 0h1M26 64.5h1m18 0h1m10 0h1M9 65.5h1m16 0h1m18 0h1m12 0h1M7 66.5h1m18 0h1m18 0h1M5 67.5h1m20 0h1m18 0h1m15 0h1M26 68.5h1m18 0h1m17 0h1M2 69.5h1m11 0h1m11 0h1m18 0h1M0 70.5h1m11 0h1m13 0h1m18 0h1M26 71.5h1m18 0h1m22 0h1"/></g><rect x="713" y="860.5" width="291.5" height="291.5" fill="none" stroke="#444" stroke-width="1.5"/><text transform="translate(692,889) scale(0.95,1)" text-anchor="end" font-size="56">15</text><text transform="translate(692,1027.8) scale(0.95,1)" text-anchor="end" font-size="56">0</text><text transform="translate(692,1164.5) scale(0.95,1)" text-anchor="end" font-size="56">−15</text><text transform="translate(733,1213) scale(0.95,1)" text-anchor="middle" font-size="56">−15</text><text transform="translate(860.8,1213) scale(0.95,1)" text-anchor="middle" font-size="56">0</text><text transform="translate(986.5,1213) scale(0.95,1)" text-anchor="middle" font-size="56">15</text><text transform="translate(570,1006.2) rotate(-90)" text-anchor="middle" font-size="56"><tspan font-style="italic">y</tspan>/μm</text><text transform="translate(849.8,1276.5)" text-anchor="middle" font-size="56"><tspan font-style="italic">x</tspan>/μm</text><text transform="translate(848.8,1352.5)" text-anchor="middle" font-size="56"><tspan font-style="italic">z</tspan>=20 μm</text><text transform="translate(849.8,1432.5)" text-anchor="middle" font-size="56">(a4)</text><g transform="translate(1199.5,860.5) scale(4.04861)" shape-rendering="crispEdges" stroke-width="1.04" fill="none"><rect width="72" height="72" fill="#32499a"/><path stroke="#2c4090" d="M6 0.5h6M7 1.5h6M8 2.5h6M9 3.5h5M10 4.5h5M10 5.5h6M11 6.5h5M12 7.5h5M13 8.5h5M14 9.5h4M15 10.5h4M15 11.5h5M16 12.5h4M17 13.5h4M18 14.5h4M19 15.5h3M20 16.5h3M21 17.5h3M21 18.5h3M22 19.5h3M23 20.5h2M24 21.5h2M25 22.5h2M25 23.5h3M27 24.5h1M27 25.5h2M28 26.5h2M29 27.5h1M30 28.5h1M30 29.5h1m36 0h5M62 30.5h10M31 31.5h1m24 0h16M51 32.5h21M41 33.5h18M34 42.5h1M33 43.5h1M33 44.5h1M32 45.5h1M31 46.5h2M31 47.5h1M30 48.5h2M30 49.5h1M29 50.5h2M29 51.5h2M28 52.5h2M28 53.5h2M27 54.5h3M27 55.5h2M26 56.5h3M26 57.5h3M25 58.5h3M25 59.5h3M24 60.5h4M24 61.5h3M24 62.5h3M23 63.5h4M23 64.5h3M22 65.5h4M22 66.5h4M21 67.5h4M21 68.5h4M20 69.5h4M20 70.5h4M19 71.5h5"/><path stroke="#3752a3" d="M70 8.5h2M69 9.5h3M68 10.5h4M68 11.5h4M0 12.5h5m62 0h5M0 13.5h9m57 0h6M0 14.5h12m54 0h6M0 15.5h14m51 0h7M0 16.5h15m50 0h7M0 17.5h16m49 0h7M0 18.5h18m46 0h8M0 19.5h9m2 0h8m45 0h8M0 20.5h3m12 0h5m43 0h8M17 21.5h4m42 0h7M19 22.5h3m40 0h7M20 23.5h3m38 0h7M22 24.5h2m36 0h7M23 25.5h2m33 0h7M24 26.5h2m31 0h6M26 27.5h1m28 0h6M27 28.5h1m25 0h5M28 29.5h1m21 0h6M29 30.5h1m18 0h4M30 31.5h1m15 0h3M43 32.5h3M35 42.5h1M35 43.5h1M34 45.5h1M34 46.5h1M34 47.5h1M33 48.5h2M33 49.5h2M33 50.5h1M33 51.5h1M32 52.5h2M32 53.5h2M32 54.5h2M32 55.5h2M31 56.5h3M31 57.5h3M31 58.5h3M31 59.5h3M31 60.5h3M31 61.5h3M30 62.5h4M30 63.5h4M30 64.5h4M30 65.5h5M30 66.5h5M30 67.5h6M30 68.5h7M31 69.5h6M31 70.5h7M31 71.5h8"/><path stroke="#3e5aae" d="M70 4.5h2M69 5.5h3M68 6.5h4M67 7.5h5M66 8.5h4M65 9.5h4M64 10.5h4M64 11.5h4M63 12.5h4M63 13.5h3M62 14.5h4M62 15.5h3M61 16.5h4M61 17.5h4M61 18.5h3M9 19.5h2m49 0h4M3 20.5h12m44 0h4M0 21.5h17m42 0h4M0 22.5h19m39 0h4M0 23.5h6m8 0h6m37 0h4M18 24.5h4m33 0h5M20 25.5h3m31 0h4M21 26.5h3m28 0h5M23 27.5h3m25 0h4M25 28.5h2m22 0h4M26 29.5h2m19 0h3M28 30.5h1m17 0h2M29 31.5h1m14 0h2M31 32.5h1m10 0h1M35 44.5h1M35 45.5h1M35 46.5h1M35 47.5h1M35 48.5h1M35 49.5h1M34 50.5h2M34 51.5h2M34 52.5h2M34 53.5h2M34 54.5h2M34 55.5h2M34 56.5h2M34 57.5h2M34 58.5h2M34 59.5h2M34 60.5h3M34 61.5h3M34 62.5h3M34 63.5h4M34 64.5h4M35 65.5h4M35 66.5h4M36 67.5h4M37 68.5h4M37 69.5h5M38 70.5h4M39 71.5h4"/><path stroke="#446cc0" d="M70 1.5h2M69 2.5h3M68 3.5h4M66 4.5h4M65 5.5h4M65 6.5h3M64 7.5h3M63 8.5h3M62 9.5h3M62 10.5h2M61 11.5h3M61 12.5h2M60 13.5h3M60 14.5h2M59 15.5h3M59 16.5h2M58 17.5h3M58 18.5h3M57 19.5h3M56 20.5h3M55 21.5h4M54 22.5h4M6 23.5h8m39 0h4M0 24.5h18m34 0h3M0 25.5h8m4 0h8m30 0h4M17 26.5h4m28 0h3M19 27.5h4m25 0h3M22 28.5h3m22 0h2M24 29.5h2m19 0h2M26 30.5h2m16 0h2M28 31.5h1m14 0h1M30 32.5h1M36 41.5h1M36 42.5h1M36 43.5h1M36 44.5h1M36 45.5h1M36 46.5h1M36 47.5h1M36 48.5h1M36 49.5h1M36 50.5h2M36 51.5h2M36 52.5h2M36 53.5h2M36 54.5h2M36 55.5h2M36 56.5h2M36 57.5h2M36 58.5h3M36 59.5h3M37 60.5h2M37 61.5h3M37 62.5h3M38 63.5h3M38 64.5h3M39 65.5h3M39 66.5h3M40 67.5h3M41 68.5h3M42 69.5h2M42 70.5h3M43 71.5h3"/><path stroke="#61bcde" d="M68 0.5h4M67 1.5h3M66 2.5h3M65 3.5h3M64 4.5h2M63 5.5h2M62 6.5h3M61 7.5h3M61 8.5h2M60 9.5h2M60 10.5h2M59 11.5h2M58 12.5h3M58 13.5h2M57 14.5h3M57 15.5h2M56 16.5h3M55 17.5h3M55 18.5h3M54 19.5h3M53 20.5h3M52 21.5h3M51 22.5h3M50 23.5h3M49 24.5h3M8 25.5h4m36 0h2M0 26.5h17m30 0h2M0 27.5h19m27 0h2M15 28.5h7m23 0h2M19 29.5h5m20 0h1M22 30.5h4m17 0h1M25 31.5h3m14 0h1M28 32.5h2m11 0h1M37 43.5h1M37 44.5h1M37 45.5h1M37 46.5h1M37 47.5h1M37 48.5h2M37 49.5h2M38 50.5h1M38 51.5h1M38 52.5h2M38 53.5h2M38 54.5h2M38 55.5h2M38 56.5h3M38 57.5h3M39 58.5h2M39 59.5h3M39 60.5h3M40 61.5h2M40 62.5h3M41 63.5h2M41 64.5h3M42 65.5h2M42 66.5h3M43 67.5h3M44 68.5h2M44 69.5h3M45 70.5h2M46 71.5h2"/><path stroke="#68c87c" d="M65 0.5h3M64 1.5h3M63 2.5h3M62 3.5h3M61 4.5h3M60 5.5h3M60 6.5h2M59 7.5h2M58 8.5h3M58 9.5h2M57 10.5h3M57 11.5h2M56 12.5h2M55 13.5h3M55 14.5h2M54 15.5h3M53 16.5h3M53 17.5h2M52 18.5h3M51 19.5h3M50 20.5h3M49 21.5h3M49 22.5h2M48 23.5h2M47 24.5h2M46 25.5h2M45 26.5h2M44 27.5h2M0 28.5h15m28 0h2M0 29.5h19m24 0h1M14 30.5h8m20 0h1M19 31.5h6m16 0h1M24 32.5h4M29 33.5h2M36 40.5h1M37 41.5h1M37 42.5h1M38 44.5h1M38 45.5h1M38 46.5h1M38 47.5h2M39 48.5h1M39 49.5h1M39 50.5h2M39 51.5h2M40 52.5h1M40 53.5h2M40 54.5h2M40 55.5h3M41 56.5h2M41 57.5h2M41 58.5h3M42 59.5h2M42 60.5h3M42 61.5h3M43 62.5h2M43 63.5h3M44 64.5h3M44 65.5h3M45 66.5h3M46 67.5h2M46 68.5h2M47 69.5h2M47 70.5h2M48 71.5h2"/><path stroke="#d5da41" d="M61 0.5h4M60 1.5h4M60 2.5h3M59 3.5h3M58 4.5h3M57 5.5h3M57 6.5h3M56 7.5h3M56 8.5h2M55 9.5h3M54 10.5h3M54 11.5h3M53 12.5h3M52 13.5h3M52 14.5h3M51 15.5h3M51 16.5h2M50 17.5h3M49 18.5h3M48 19.5h3M48 20.5h2M47 21.5h2M47 22.5h2M46 23.5h2M45 24.5h2M44 25.5h2M44 26.5h1M43 27.5h1M42 28.5h1M42 29.5h1M0 30.5h14m27 0h1M0 31.5h19M9 32.5h15M21 33.5h8m2 0h1M37 40.5h1M38 41.5h1M38 42.5h1M38 43.5h1M39 44.5h1M39 45.5h1M39 46.5h2M40 47.5h1M40 48.5h2M40 49.5h2M41 50.5h2M41 51.5h2M41 52.5h3M42 53.5h2M42 54.5h2M43 55.5h2M43 56.5h2M43 57.5h3M44 58.5h2M44 59.5h3M45 60.5h2M45 61.5h3M45 62.5h3M46 63.5h3M47 64.5h2M47 65.5h3M48 66.5h2M48 67.5h3M48 68.5h3M49 69.5h3M49 70.5h3M50 71.5h3"/><path stroke="#68c87c" d="M57 0.5h4M56 1.5h4M56 2.5h4M55 3.5h4M55 4.5h3M54 5.5h3M53 6.5h4M53 7.5h3M52 8.5h4M52 9.5h3M51 10.5h3M51 11.5h3M50 12.5h3M49 13.5h3M49 14.5h3M48 15.5h3M48 16.5h3M47 17.5h3M47 18.5h2M46 19.5h2M46 20.5h2M45 21.5h2M45 22.5h2M44 23.5h2M43 24.5h2M43 25.5h1M42 26.5h2M42 27.5h1M41 28.5h1M41 29.5h1M40 30.5h1M40 31.5h1M0 32.5h9m31 0h1M0 33.5h21M0 34.5h32M34 35.5h4M35 36.5h3M36 37.5h2M37 38.5h1M36 39.5h2M38 40.5h1M39 42.5h1M39 43.5h1M40 44.5h1M40 45.5h2M41 46.5h1M41 47.5h2M42 48.5h1M42 49.5h2M43 50.5h2M43 51.5h2M44 52.5h2M44 53.5h2M44 54.5h3M45 55.5h3M45 56.5h3M46 57.5h2M46 58.5h3M47 59.5h3M47 60.5h3M48 61.5h3M48 62.5h3M49 63.5h3M49 64.5h3M50 65.5h3M50 66.5h4M51 67.5h3M51 68.5h4M52 69.5h3M52 70.5h4M53 71.5h3"/><path stroke="#65c0da" d="M53 0.5h4M52 1.5h4M52 2.5h4M51 3.5h4M51 4.5h4M50 5.5h4M50 6.5h3M49 7.5h4M49 8.5h3M48 9.5h4M48 10.5h3M48 11.5h3M47 12.5h3M47 13.5h2M46 14.5h3M46 15.5h2M45 16.5h3M45 17.5h2M45 18.5h2M44 19.5h2M44 20.5h2M43 21.5h2M43 22.5h2M42 23.5h2M42 24.5h1M41 25.5h2M41 26.5h1M41 27.5h1M40 28.5h1M40 29.5h1M39 30.5h1M39 31.5h1M38 32.5h2M32 33.5h1m3 0h3M32 34.5h7M0 35.5h34m4 0h1M0 36.5h23m9 0h3m3 0h1M0 37.5h14m20 0h2m2 0h1M0 38.5h3m32 0h2m1 0h1M38 39.5h1M39 40.5h1M39 41.5h1M40 42.5h1M40 43.5h2M41 44.5h1M42 45.5h1M42 46.5h2M43 47.5h2M43 48.5h2M44 49.5h2M45 50.5h2M45 51.5h3M46 52.5h2M46 53.5h3M47 54.5h2M48 55.5h2M48 56.5h3M48 57.5h4M49 58.5h3M50 59.5h3M50 60.5h4M51 61.5h3M51 62.5h4M52 63.5h4M52 64.5h5M53 65.5h4M54 66.5h4M54 67.5h5M55 68.5h4M55 69.5h5M56 70.5h5M56 71.5h5"/><path stroke="#68c87c" d="M48 0.5h5M48 1.5h4M48 2.5h4M47 3.5h4M47 4.5h4M47 5.5h3M46 6.5h4M46 7.5h3M46 8.5h3M45 9.5h3M45 10.5h3M45 11.5h3M44 12.5h3M44 13.5h3M44 14.5h2M43 15.5h3M43 16.5h2M43 17.5h2M42 18.5h3M42 19.5h2M42 20.5h2M41 21.5h2M41 22.5h2M41 23.5h1M40 24.5h2M40 25.5h1M40 26.5h1M39 27.5h2M39 28.5h1M39 29.5h1M38 30.5h1M37 31.5h2M36 32.5h2M33 33.5h3m3 0h2M39 34.5h1M23 36.5h9m7 0h1M14 37.5h11m7 0h2m5 0h1M3 38.5h18m13 0h1m4 0h1M0 39.5h16m23 0h1M0 40.5h11m29 0h1M0 41.5h6m34 0h2M0 42.5h1m40 0h1M42 43.5h1M42 44.5h2M43 45.5h2M44 46.5h2M45 47.5h2M45 48.5h3M46 49.5h2M47 50.5h2M48 51.5h2M48 52.5h3M49 53.5h3M49 54.5h4M50 55.5h4M51 56.5h4M52 57.5h3M52 58.5h4M53 59.5h4M54 60.5h4M54 61.5h5M55 62.5h5M56 63.5h5M57 64.5h4M57 65.5h5M58 66.5h5M59 67.5h5M59 68.5h6M60 69.5h6M61 70.5h6M61 71.5h7"/><path stroke="#d5da41" d="M45 0.5h3M44 1.5h4M44 2.5h4M44 3.5h3M44 4.5h3M43 5.5h4M43 6.5h3M43 7.5h3M43 8.5h3M42 9.5h3M42 10.5h3M42 11.5h3M42 12.5h2M42 13.5h2M41 14.5h3M41 15.5h2M41 16.5h2M41 17.5h2M40 18.5h2M40 19.5h2M40 20.5h2M40 21.5h1M40 22.5h1M39 23.5h2M39 24.5h1M39 25.5h1M39 26.5h1M38 27.5h1M38 28.5h1M38 29.5h1M37 30.5h1M36 31.5h1M34 32.5h2M39 35.5h1M25 37.5h7m8 0h1M21 38.5h5m7 0h1m6 0h1M16 39.5h7m12 0h1m4 0h1M11 40.5h9m21 0h1M6 41.5h11m25 0h1M1 42.5h13m28 0h2M0 43.5h10m33 0h2M0 44.5h7m37 0h2M0 45.5h4m41 0h2M0 46.5h1m45 0h2M47 47.5h2M48 48.5h2M48 49.5h3M49 50.5h3M50 51.5h3M51 52.5h4M52 53.5h4M53 54.5h4M54 55.5h4M55 56.5h4M55 57.5h5M56 58.5h5M57 59.5h5M58 60.5h5M59 61.5h5M60 62.5h5M61 63.5h5M61 64.5h6M62 65.5h7M63 66.5h7M64 67.5h7M65 68.5h7M66 69.5h6M67 70.5h5M68 71.5h4"/><path stroke="#77cb73" d="M41 0.5h4M41 1.5h3M40 2.5h4M40 3.5h4M40 4.5h4M40 5.5h3M40 6.5h3M40 7.5h3M40 8.5h3M40 9.5h2M39 10.5h3M39 11.5h3M39 12.5h3M39 13.5h3M39 14.5h2M39 15.5h2M39 16.5h2M39 17.5h2M38 18.5h2M38 19.5h2M38 20.5h2M38 21.5h2M38 22.5h2M38 23.5h1M38 24.5h1M38 25.5h1M37 26.5h2M37 27.5h1M37 28.5h1M36 29.5h2M36 30.5h1M35 31.5h1M40 34.5h1M40 35.5h1M40 36.5h1M26 38.5h7m8 0h1M23 39.5h4m14 0h2M20 40.5h5m17 0h1M17 41.5h5m21 0h1M14 42.5h6m24 0h2M10 43.5h8m27 0h2M7 44.5h8m31 0h2M4 45.5h9m34 0h2M1 46.5h10m37 0h3M0 47.5h8m41 0h3M0 48.5h5m45 0h4M0 49.5h3m48 0h4M0 50.5h1m51 0h4M53 51.5h5M55 52.5h4M56 53.5h4M57 54.5h5M58 55.5h5M59 56.5h5M60 57.5h6M61 58.5h6M62 59.5h6M63 60.5h7M64 61.5h7M65 62.5h7M66 63.5h6M67 64.5h5M69 65.5h3M70 66.5h2M71 67.5h1"/><path stroke="#6cc8d4" d="M37 0.5h4M37 1.5h4M37 2.5h3M37 3.5h3M37 4.5h3M37 5.5h3M37 6.5h3M37 7.5h3M37 8.5h3M37 9.5h3M37 10.5h2M37 11.5h2M37 12.5h2M37 13.5h2M37 14.5h2M37 15.5h2M37 16.5h2M37 17.5h2M37 18.5h1M37 19.5h1M37 20.5h1M37 21.5h1M37 22.5h1M37 23.5h1M36 24.5h2M36 25.5h2M36 26.5h1M36 27.5h1M36 28.5h1M35 29.5h1M35 30.5h1M34 31.5h1M33 32.5h1M41 36.5h1M41 37.5h1M42 38.5h1M27 39.5h8m8 0h1M25 40.5h3m15 0h2M22 41.5h4m18 0h3M20 42.5h4m22 0h2M18 43.5h4m25 0h3M15 44.5h5m28 0h3M13 45.5h6m30 0h4M11 46.5h6m34 0h3M8 47.5h7m37 0h4M5 48.5h8m41 0h4M3 49.5h8m44 0h5M1 50.5h8m47 0h6M0 51.5h7m51 0h5M0 52.5h5m54 0h6M0 53.5h4m56 0h6M0 54.5h2m60 0h6M63 55.5h7M64 56.5h7M66 57.5h6M67 58.5h5M68 59.5h4M70 60.5h2M71 61.5h1"/><path stroke="#c6d444" d="M33 0.5h4M33 1.5h4M33 2.5h4M33 3.5h4M34 4.5h3M34 5.5h3M34 6.5h3M34 7.5h3M34 8.5h3M34 9.5h3M34 10.5h3M34 11.5h3M34 12.5h3M34 13.5h3M34 14.5h3M35 15.5h2M35 16.5h2M35 17.5h2M35 18.5h2M35 19.5h2M35 20.5h2M35 21.5h2M35 22.5h2M35 23.5h2M35 24.5h1M35 25.5h1M35 26.5h1M35 27.5h1M35 28.5h1M34 30.5h1M41 35.5h1M42 37.5h1M43 38.5h1M44 39.5h2M28 40.5h3m14 0h3M26 41.5h2m19 0h2M24 42.5h3m21 0h3M22 43.5h3m25 0h3M20 44.5h4m27 0h5M19 45.5h3m31 0h5M17 46.5h4m33 0h6M15 47.5h5m36 0h6M13 48.5h5m40 0h7M11 49.5h5m44 0h7M9 50.5h6m47 0h7M7 51.5h6m50 0h8M5 52.5h7m53 0h7M4 53.5h7m55 0h6M2 54.5h7m59 0h4M0 55.5h8m62 0h2M0 56.5h6m65 0h1M0 57.5h5M0 58.5h3M0 59.5h2M0 60.5h1"/><path stroke="#eb8d27" d="M29 0.5h4M30 1.5h3M30 2.5h3M30 3.5h3M30 4.5h4M30 5.5h4M31 6.5h3M31 7.5h3M31 8.5h3M31 9.5h3M31 10.5h3M32 11.5h2M32 12.5h2M32 13.5h2M32 14.5h2M32 15.5h3M33 16.5h2M33 17.5h2M33 18.5h2M33 19.5h2M33 20.5h2M33 21.5h2M34 22.5h1M34 23.5h1M34 24.5h1M34 25.5h1M34 26.5h1M34 27.5h1M34 28.5h1M34 29.5h1M33 31.5h1M32 32.5h1M42 36.5h1M43 37.5h1M44 38.5h2M46 39.5h2M31 40.5h3m14 0h3M28 41.5h3m18 0h5M27 42.5h2m22 0h6M25 43.5h2m26 0h7M24 44.5h2m30 0h6M22 45.5h3m33 0h7M21 46.5h3m36 0h8M20 47.5h3m39 0h9M18 48.5h3m44 0h7M16 49.5h4m47 0h5M15 50.5h4m50 0h3M13 51.5h5m53 0h1M12 52.5h5M11 53.5h5M9 54.5h5M8 55.5h5M6 56.5h6M5 57.5h6M3 58.5h7M2 59.5h7M1 60.5h7M0 61.5h6M0 62.5h5M0 63.5h4M0 64.5h3M0 65.5h2M0 66.5h1"/><path stroke="#e84928" d="M26 0.5h3M26 1.5h4M26 2.5h4M26 3.5h4M27 4.5h3M27 5.5h3M27 6.5h4M28 7.5h3M28 8.5h3M28 9.5h3M29 10.5h2M29 11.5h3M29 12.5h3M29 13.5h3M30 14.5h2M30 15.5h2M30 16.5h3M31 17.5h2M31 18.5h2M31 19.5h2M31 20.5h2M32 21.5h1M32 22.5h2M32 23.5h2M33 24.5h1M33 25.5h1M33 26.5h1M33 27.5h1M33 28.5h1M33 29.5h1M33 30.5h1M41 34.5h1M42 35.5h1M43 36.5h1M44 37.5h3M46 38.5h4M48 39.5h6M34 40.5h1m16 0h7M31 41.5h2m21 0h8M29 42.5h2m26 0h9M27 43.5h2m31 0h11M26 44.5h2m34 0h10M25 45.5h2m38 0h7M24 46.5h2m42 0h4M23 47.5h2m46 0h1M21 48.5h3M20 49.5h3M19 50.5h3M18 51.5h3M17 52.5h4M16 53.5h4M14 54.5h5M13 55.5h5M12 56.5h5M11 57.5h5M10 58.5h5M9 59.5h5M8 60.5h5M6 61.5h6M5 62.5h6M4 63.5h6M3 64.5h6M2 65.5h6M1 66.5h6M0 67.5h7M0 68.5h6M0 69.5h5M0 70.5h4M0 71.5h3"/><path stroke="#e02e2e" d="M22 0.5h4M22 1.5h4M22 2.5h4M23 3.5h3M23 4.5h4M24 5.5h3M24 6.5h3M24 7.5h4M25 8.5h3M25 9.5h3M26 10.5h3M26 11.5h3M26 12.5h3M27 13.5h2M27 14.5h3M28 15.5h2M28 16.5h2M28 17.5h3M29 18.5h2M29 19.5h2M30 20.5h1M30 21.5h2M30 22.5h2M31 23.5h1M31 24.5h2M32 25.5h1M32 26.5h1M32 27.5h1M32 28.5h1M32 29.5h1M32 30.5h1M32 31.5h1M43 35.5h1M44 36.5h4M47 37.5h7M50 38.5h11M54 39.5h14M58 40.5h14M33 41.5h1m28 0h10M31 42.5h1m34 0h6M29 43.5h2m40 0h1M28 44.5h2M27 45.5h2M26 46.5h2M25 47.5h2M24 48.5h2M23 49.5h3M22 50.5h3M21 51.5h3M21 52.5h3M20 53.5h3M19 54.5h3M18 55.5h3M17 56.5h4M16 57.5h4M15 58.5h4M14 59.5h4M13 60.5h5M12 61.5h5M11 62.5h5M10 63.5h5M9 64.5h5M8 65.5h6M7 66.5h6M7 67.5h5M6 68.5h5M5 69.5h6M4 70.5h6M3 71.5h6"/><path stroke="#cc1f2e" d="M17 0.5h5M18 1.5h4M18 2.5h4M19 3.5h4M19 4.5h4M20 5.5h4M20 6.5h4M21 7.5h3M22 8.5h3M22 9.5h3M23 10.5h3M23 11.5h3M24 12.5h2M24 13.5h3M24 14.5h3M25 15.5h3M26 16.5h2M26 17.5h2M27 18.5h2M27 19.5h2M28 20.5h2M28 21.5h2M29 22.5h1M29 23.5h2M30 24.5h1M30 25.5h2M31 26.5h1M31 27.5h1M42 34.5h1M44 35.5h6M48 36.5h24M54 37.5h18M61 38.5h11M68 39.5h4M35 40.5h1M32 42.5h1M31 43.5h1M30 44.5h1M29 45.5h2M28 46.5h2M27 47.5h2M26 48.5h3M26 49.5h2M25 50.5h2M24 51.5h3M24 52.5h2M23 53.5h2M22 54.5h3M21 55.5h3M21 56.5h3M20 57.5h3M19 58.5h4M18 59.5h4M18 60.5h3M17 61.5h4M16 62.5h4M15 63.5h4M14 64.5h5M14 65.5h4M13 66.5h5M12 67.5h5M11 68.5h5M11 69.5h5M10 70.5h5M9 71.5h6"/><path stroke="#ad1d26" d="M12 0.5h5M13 1.5h5M14 2.5h4M14 3.5h5M15 4.5h4M16 5.5h4M16 6.5h4M17 7.5h4M18 8.5h4M18 9.5h4M19 10.5h4M20 11.5h3M20 12.5h4M21 13.5h3M22 14.5h2M22 15.5h3M23 16.5h3M24 17.5h2M24 18.5h3M25 19.5h2M25 20.5h3M26 21.5h2M27 22.5h2M28 23.5h1M28 24.5h2M29 25.5h1M30 26.5h1M30 27.5h1M31 28.5h1M31 29.5h1M31 30.5h1M59 33.5h13M43 34.5h29M50 35.5h22M34 41.5h1M33 42.5h1M32 43.5h1M31 44.5h2M31 45.5h1M30 46.5h1M29 47.5h2M29 48.5h1M28 49.5h2M27 50.5h2M27 51.5h2M26 52.5h2M25 53.5h3M25 54.5h2M24 55.5h3M24 56.5h2M23 57.5h3M23 58.5h2M22 59.5h3M21 60.5h3M21 61.5h3M20 62.5h4M19 63.5h4M19 64.5h4M18 65.5h4M18 66.5h4M17 67.5h4M16 68.5h5M16 69.5h4M15 70.5h5M15 71.5h4"/></g><rect x="1199.5" y="860.5" width="291.5" height="291.5" fill="none" stroke="#444" stroke-width="1.5"/><text transform="translate(1178.5,889) scale(0.95,1)" text-anchor="end" font-size="56">15</text><text transform="translate(1178.5,1027.8) scale(0.95,1)" text-anchor="end" font-size="56">0</text><text transform="translate(1178.5,1164.5) scale(0.95,1)" text-anchor="end" font-size="56">−15</text><text transform="translate(1219.5,1213) scale(0.95,1)" text-anchor="middle" font-size="56">−15</text><text transform="translate(1347.2,1213) scale(0.95,1)" text-anchor="middle" font-size="56">0</text><text transform="translate(1473,1213) scale(0.95,1)" text-anchor="middle" font-size="56">15</text><text transform="translate(1056.5,1006.2) rotate(-90)" text-anchor="middle" font-size="56"><tspan font-style="italic">y</tspan>/μm</text><text transform="translate(1336.2,1276.5)" text-anchor="middle" font-size="56"><tspan font-style="italic">x</tspan>/μm</text><text transform="translate(1335.2,1352.5)" text-anchor="middle" font-size="56"><tspan font-style="italic">z</tspan>=30 μm</text><text transform="translate(1336.2,1432.5)" text-anchor="middle" font-size="56">(a5)</text><g transform="translate(1686,860.5) scale(4.04861)" shape-rendering="crispEdges" stroke-width="1.04" fill="none"><rect width="72" height="72" fill="#32499a"/><path stroke="#2c4090" d="M6 0.5h6M7 1.5h6M7 2.5h6M8 3.5h6M9 4.5h6M10 5.5h5M11 6.5h5M12 7.5h5M13 8.5h4M13 9.5h5M14 10.5h5M15 11.5h4M16 12.5h4M17 13.5h4M18 14.5h3M19 15.5h3M19 16.5h4M20 17.5h3M21 18.5h3M22 19.5h3M23 20.5h2M24 21.5h2M24 22.5h3M25 23.5h2M26 24.5h2M27 25.5h2M28 26.5h1M29 27.5h1M29 28.5h1M30 29.5h1m37 0h4M62 30.5h10M31 31.5h1m25 0h15M51 32.5h21M42 33.5h18M34 42.5h1M33 44.5h1M32 45.5h1M32 46.5h1M31 47.5h1M30 48.5h2M30 49.5h1M29 50.5h2M29 51.5h2M28 52.5h2M28 53.5h2M27 54.5h3M27 55.5h2M26 56.5h3M26 57.5h3M25 58.5h3M25 59.5h3M24 60.5h4M24 61.5h3M24 62.5h3M23 63.5h3M23 64.5h3M22 65.5h4M22 66.5h3M21 67.5h4M21 68.5h4M20 69.5h4M20 70.5h4M19 71.5h5"/><path stroke="#3752a3" d="M71 7.5h1M70 8.5h2M69 9.5h3M69 10.5h3M68 11.5h4M0 12.5h6m61 0h5M0 13.5h10m57 0h5M0 14.5h12m54 0h6M0 15.5h14m52 0h6M0 16.5h15m51 0h6M0 17.5h16m49 0h7M0 18.5h17m48 0h7M0 19.5h6m7 0h6m46 0h7M0 20.5h1m14 0h5m44 0h7M17 21.5h4m43 0h7M18 22.5h4m41 0h7M20 23.5h3m39 0h7M22 24.5h2m36 0h7M23 25.5h2m34 0h7M24 26.5h2m31 0h7M25 27.5h2m28 0h7M27 28.5h1m25 0h6M28 29.5h1m21 0h6M29 30.5h1m18 0h5M30 31.5h1m15 0h3M43 32.5h2M34 45.5h1M34 46.5h1M34 47.5h1M33 48.5h1M33 49.5h1M33 50.5h1M32 51.5h2M32 52.5h2M32 53.5h2M32 54.5h2M32 55.5h2M31 56.5h3M31 57.5h2M31 58.5h2M31 59.5h2M31 60.5h2M30 61.5h3M30 62.5h3M30 63.5h4M30 64.5h4M30 65.5h4M30 66.5h4M30 67.5h5M30 68.5h6M30 69.5h6M30 70.5h7M30 71.5h8"/><path stroke="#3e5aae" d="M71 3.5h1M70 4.5h2M69 5.5h3M68 6.5h4M67 7.5h4M66 8.5h4M65 9.5h4M65 10.5h4M64 11.5h4M64 12.5h3M63 13.5h4M63 14.5h3M63 15.5h3M62 16.5h4M62 17.5h3M61 18.5h4M6 19.5h7m48 0h4M1 20.5h14m45 0h4M0 21.5h17m42 0h5M0 22.5h18m40 0h5M0 23.5h3m12 0h5m37 0h5M18 24.5h4m34 0h4M19 25.5h4m31 0h5M21 26.5h3m28 0h5M23 27.5h2m26 0h4M24 28.5h3m22 0h4M26 29.5h2m20 0h2M28 30.5h1m17 0h2M29 31.5h1m14 0h2M42 32.5h1M35 43.5h1M35 44.5h1M35 45.5h1M35 46.5h1M35 47.5h1M34 48.5h2M34 49.5h2M34 50.5h2M34 51.5h2M34 52.5h2M34 53.5h2M34 54.5h2M34 55.5h2M34 56.5h2M33 57.5h3M33 58.5h3M33 59.5h3M33 60.5h3M33 61.5h3M33 62.5h4M34 63.5h3M34 64.5h3M34 65.5h4M34 66.5h4M35 67.5h4M36 68.5h4M36 69.5h5M37 70.5h5M38 71.5h4"/><path stroke="#446cc0" d="M71 0.5h1M70 1.5h2M69 2.5h3M68 3.5h3M67 4.5h3M66 5.5h3M65 6.5h3M64 7.5h3M63 8.5h3M63 9.5h2M62 10.5h3M62 11.5h2M61 12.5h3M61 13.5h2M60 14.5h3M60 15.5h3M59 16.5h3M59 17.5h3M58 18.5h3M57 19.5h4M57 20.5h3M56 21.5h3M55 22.5h3M3 23.5h12m39 0h3M0 24.5h18m34 0h4M0 25.5h4m9 0h6m32 0h3M16 26.5h5m28 0h3M19 27.5h4m25 0h3M21 28.5h3m23 0h2M24 29.5h2m19 0h3M26 30.5h2m16 0h2M28 31.5h1m14 0h1M35 42.5h1M36 45.5h1M36 46.5h1M36 47.5h1M36 48.5h1M36 49.5h1M36 50.5h1M36 51.5h1M36 52.5h1M36 53.5h2M36 54.5h2M36 55.5h2M36 56.5h2M36 57.5h2M36 58.5h2M36 59.5h3M36 60.5h3M36 61.5h3M37 62.5h2M37 63.5h3M37 64.5h3M38 65.5h3M38 66.5h4M39 67.5h3M40 68.5h3M41 69.5h3M42 70.5h2M42 71.5h3"/><path stroke="#61bcde" d="M68 0.5h3M67 1.5h3M66 2.5h3M65 3.5h3M64 4.5h3M63 5.5h3M62 6.5h3M62 7.5h2M61 8.5h2M61 9.5h2M60 10.5h2M59 11.5h3M59 12.5h2M58 13.5h3M58 14.5h2M57 15.5h3M57 16.5h2M56 17.5h3M55 18.5h3M54 19.5h3M53 20.5h4M52 21.5h4M51 22.5h4M50 23.5h4M49 24.5h3M4 25.5h9m35 0h3M0 26.5h16m31 0h2M0 27.5h19m27 0h2M15 28.5h6m24 0h2M19 29.5h5m20 0h1M22 30.5h4m17 0h1M25 31.5h3m14 0h1M28 32.5h3M36 43.5h1M36 44.5h1M37 45.5h1M37 46.5h1M37 47.5h1M37 48.5h1M37 49.5h1M37 50.5h2M37 51.5h2M37 52.5h2M38 53.5h1M38 54.5h2M38 55.5h2M38 56.5h2M38 57.5h2M38 58.5h3M39 59.5h2M39 60.5h2M39 61.5h3M39 62.5h3M40 63.5h3M40 64.5h3M41 65.5h3M42 66.5h2M42 67.5h3M43 68.5h3M44 69.5h2M44 70.5h3M45 71.5h2"/><path stroke="#68c87c" d="M65 0.5h3M64 1.5h3M63 2.5h3M62 3.5h3M61 4.5h3M61 5.5h2M60 6.5h2M59 7.5h3M59 8.5h2M58 9.5h3M57 10.5h3M57 11.5h2M56 12.5h3M56 13.5h2M55 14.5h3M54 15.5h3M54 16.5h3M53 17.5h3M52 18.5h3M51 19.5h3M50 20.5h3M50 21.5h2M49 22.5h2M48 23.5h2M47 24.5h2M46 25.5h2M45 26.5h2M44 27.5h2M0 28.5h15m28 0h2M0 29.5h19m24 0h1M13 30.5h9m20 0h1M19 31.5h6m16 0h1M24 32.5h4m13 0h1M29 33.5h1M36 42.5h1M37 43.5h1M37 44.5h1M38 45.5h1M38 46.5h1M38 47.5h1M38 48.5h2M38 49.5h2M39 50.5h1M39 51.5h2M39 52.5h2M39 53.5h2M40 54.5h2M40 55.5h2M40 56.5h2M40 57.5h3M41 58.5h2M41 59.5h3M41 60.5h3M42 61.5h2M42 62.5h3M43 63.5h2M43 64.5h3M44 65.5h3M44 66.5h3M45 67.5h3M46 68.5h2M46 69.5h2M47 70.5h2M47 71.5h3"/><path stroke="#d5da41" d="M61 0.5h4M60 1.5h4M60 2.5h3M59 3.5h3M58 4.5h3M58 5.5h3M57 6.5h3M56 7.5h3M56 8.5h3M55 9.5h3M54 10.5h3M54 11.5h3M53 12.5h3M53 13.5h3M52 14.5h3M51 15.5h3M51 16.5h3M50 17.5h3M49 18.5h3M48 19.5h3M48 20.5h2M47 21.5h3M47 22.5h2M46 23.5h2M45 24.5h2M44 25.5h2M44 26.5h1M43 27.5h1M42 28.5h1M42 29.5h1M0 30.5h13m28 0h1M0 31.5h19M7 32.5h17m7 0h1M20 33.5h9m1 0h2M35 41.5h2M37 42.5h1M38 43.5h1M38 44.5h1M39 45.5h1M39 46.5h1M39 47.5h2M40 48.5h1M40 49.5h2M40 50.5h2M41 51.5h2M41 52.5h2M41 53.5h3M42 54.5h2M42 55.5h2M42 56.5h3M43 57.5h2M43 58.5h3M44 59.5h2M44 60.5h3M44 61.5h3M45 62.5h3M45 63.5h3M46 64.5h3M47 65.5h2M47 66.5h3M48 67.5h2M48 68.5h3M48 69.5h3M49 70.5h3M50 71.5h2"/><path stroke="#68c87c" d="M57 0.5h4M56 1.5h4M56 2.5h4M55 3.5h4M55 4.5h3M54 5.5h4M53 6.5h4M53 7.5h3M52 8.5h4M52 9.5h3M51 10.5h3M51 11.5h3M50 12.5h3M49 13.5h4M49 14.5h3M48 15.5h3M48 16.5h3M47 17.5h3M47 18.5h2M46 19.5h2M46 20.5h2M45 21.5h2M45 22.5h2M44 23.5h2M43 24.5h2M43 25.5h1M42 26.5h2M42 27.5h1M41 28.5h1M40 29.5h2M40 30.5h1M40 31.5h1M0 32.5h7m33 0h1M0 33.5h20M0 34.5h38M28 35.5h10M33 36.5h5M35 37.5h3M36 38.5h2M36 39.5h2M36 40.5h2M37 41.5h2M38 42.5h2M39 43.5h1M39 44.5h2M40 45.5h1M40 46.5h2M41 47.5h1M41 48.5h2M42 49.5h2M42 50.5h2M43 51.5h2M43 52.5h2M44 53.5h2M44 54.5h3M44 55.5h3M45 56.5h3M45 57.5h3M46 58.5h3M46 59.5h3M47 60.5h3M47 61.5h3M48 62.5h3M48 63.5h4M49 64.5h3M49 65.5h4M50 66.5h3M50 67.5h4M51 68.5h3M51 69.5h4M52 70.5h4M52 71.5h4"/><path stroke="#65c0da" d="M52 0.5h5M52 1.5h4M52 2.5h4M51 3.5h4M51 4.5h4M50 5.5h4M50 6.5h3M49 7.5h4M49 8.5h3M48 9.5h4M48 10.5h3M48 11.5h3M47 12.5h3M47 13.5h2M46 14.5h3M46 15.5h2M45 16.5h3M45 17.5h2M44 18.5h3M44 19.5h2M44 20.5h2M43 21.5h2M43 22.5h2M42 23.5h2M42 24.5h1M41 25.5h2M41 26.5h1M40 27.5h2M40 28.5h1M39 29.5h1M39 30.5h1M38 31.5h2M36 32.5h4M32 33.5h9M38 34.5h1M0 35.5h28m10 0h1M0 36.5h33m5 0h1M0 37.5h15m17 0h3m3 0h1M0 38.5h5m29 0h2m2 0h1M35 39.5h1m2 0h2M35 40.5h1m2 0h2M39 41.5h1M40 42.5h1M40 43.5h1M41 44.5h1M41 45.5h2M42 46.5h1M42 47.5h2M43 48.5h2M44 49.5h2M44 50.5h2M45 51.5h2M45 52.5h3M46 53.5h2M47 54.5h2M47 55.5h3M48 56.5h3M48 57.5h3M49 58.5h3M49 59.5h4M50 60.5h3M50 61.5h4M51 62.5h4M52 63.5h3M52 64.5h4M53 65.5h4M53 66.5h5M54 67.5h4M54 68.5h5M55 69.5h5M56 70.5h4M56 71.5h5"/><path stroke="#68c87c" d="M48 0.5h4M48 1.5h4M48 2.5h4M47 3.5h4M47 4.5h4M47 5.5h3M46 6.5h4M46 7.5h3M46 8.5h3M45 9.5h3M45 10.5h3M45 11.5h3M44 12.5h3M44 13.5h3M44 14.5h2M43 15.5h3M43 16.5h2M43 17.5h2M42 18.5h2M42 19.5h2M42 20.5h2M41 21.5h2M41 22.5h2M41 23.5h1M40 24.5h2M40 25.5h1M39 26.5h2M39 27.5h1M38 28.5h2M38 29.5h1M37 30.5h2M36 31.5h2M32 32.5h4M41 33.5h1M39 34.5h1M39 35.5h1M39 36.5h1M15 37.5h17m7 0h1M5 38.5h17m10 0h2m5 0h1M0 39.5h17m17 0h1m5 0h1M0 40.5h12m28 0h1M0 41.5h7m33 0h2M0 42.5h2m39 0h1M41 43.5h2M42 44.5h2M43 45.5h1M43 46.5h2M44 47.5h2M45 48.5h2M46 49.5h2M46 50.5h3M47 51.5h3M48 52.5h3M48 53.5h3M49 54.5h3M50 55.5h3M51 56.5h3M51 57.5h4M52 58.5h4M53 59.5h4M53 60.5h5M54 61.5h4M55 62.5h4M55 63.5h5M56 64.5h5M57 65.5h5M58 66.5h5M58 67.5h6M59 68.5h6M60 69.5h5M60 70.5h6M61 71.5h6"/><path stroke="#d5da41" d="M44 0.5h4M44 1.5h4M44 2.5h4M44 3.5h3M43 4.5h4M43 5.5h4M43 6.5h3M43 7.5h3M43 8.5h3M42 9.5h3M42 10.5h3M42 11.5h3M42 12.5h2M41 13.5h3M41 14.5h3M41 15.5h2M41 16.5h2M40 17.5h3M40 18.5h2M40 19.5h2M40 20.5h2M40 21.5h1M39 22.5h2M39 23.5h2M39 24.5h1M38 25.5h2M38 26.5h1M38 27.5h1M37 28.5h1M36 29.5h2M36 30.5h1M34 31.5h2M40 34.5h1M40 35.5h1M40 36.5h1M40 37.5h1M22 38.5h10m8 0h1M17 39.5h7m8 0h2m7 0h1M12 40.5h9m13 0h1m6 0h1M7 41.5h11m24 0h1M2 42.5h12m28 0h2M0 43.5h11m32 0h2M0 44.5h8m36 0h2M0 45.5h4m40 0h3M0 46.5h1m44 0h3M46 47.5h2M47 48.5h3M48 49.5h3M49 50.5h3M50 51.5h3M51 52.5h3M51 53.5h4M52 54.5h4M53 55.5h4M54 56.5h4M55 57.5h4M56 58.5h5M57 59.5h5M58 60.5h5M58 61.5h6M59 62.5h6M60 63.5h6M61 64.5h6M62 65.5h6M63 66.5h6M64 67.5h6M65 68.5h6M65 69.5h7M66 70.5h6M67 71.5h5"/><path stroke="#77cb73" d="M41 0.5h3M40 1.5h4M40 2.5h4M40 3.5h4M40 4.5h3M40 5.5h3M40 6.5h3M40 7.5h3M40 8.5h3M39 9.5h3M39 10.5h3M39 11.5h3M39 12.5h3M39 13.5h2M39 14.5h2M39 15.5h2M39 16.5h2M38 17.5h2M38 18.5h2M38 19.5h2M38 20.5h2M38 21.5h2M38 22.5h1M38 23.5h1M37 24.5h2M37 25.5h1M37 26.5h1M36 27.5h2M36 28.5h1M35 29.5h1M34 30.5h2M33 31.5h1M41 36.5h1M41 37.5h1M41 38.5h1M24 39.5h8m10 0h1M21 40.5h5m7 0h1m8 0h2M18 41.5h5m20 0h2M14 42.5h7m23 0h2M11 43.5h7m27 0h2M8 44.5h8m30 0h2M4 45.5h10m33 0h2M1 46.5h10m37 0h2M0 47.5h9m39 0h4M0 48.5h6m44 0h3M0 49.5h3m48 0h4M0 50.5h1m51 0h4M53 51.5h4M54 52.5h5M55 53.5h5M56 54.5h5M57 55.5h5M58 56.5h6M59 57.5h6M61 58.5h5M62 59.5h6M63 60.5h6M64 61.5h6M65 62.5h7M66 63.5h6M67 64.5h5M68 65.5h4M69 66.5h3M70 67.5h2M71 68.5h1"/><path stroke="#6cc8d4" d="M37 0.5h4M37 1.5h3M37 2.5h3M37 3.5h3M37 4.5h3M37 5.5h3M37 6.5h3M37 7.5h3M37 8.5h3M37 9.5h2M37 10.5h2M37 11.5h2M37 12.5h2M37 13.5h2M37 14.5h2M36 15.5h3M36 16.5h3M36 17.5h2M36 18.5h2M36 19.5h2M36 20.5h2M36 21.5h2M36 22.5h2M36 23.5h2M36 24.5h1M36 25.5h1M36 26.5h1M35 27.5h1M35 28.5h1M34 29.5h1M41 34.5h1M41 35.5h1M42 37.5h1M42 38.5h1M43 39.5h1M26 40.5h7m11 0h1M23 41.5h4m18 0h1M21 42.5h4m21 0h2M18 43.5h5m24 0h2M16 44.5h5m27 0h3M14 45.5h5m30 0h3M11 46.5h6m33 0h4M9 47.5h6m37 0h4M6 48.5h7m40 0h5M3 49.5h8m44 0h4M1 50.5h8m47 0h5M0 51.5h8m49 0h6M0 52.5h6m53 0h5M0 53.5h4m56 0h6M0 54.5h2m59 0h7M62 55.5h7M64 56.5h7M65 57.5h7M66 58.5h6M68 59.5h4M69 60.5h3M70 61.5h2"/><path stroke="#c6d444" d="M33 0.5h4M33 1.5h4M33 2.5h4M33 3.5h4M33 4.5h4M33 5.5h4M34 6.5h3M34 7.5h3M34 8.5h3M34 9.5h3M34 10.5h3M34 11.5h3M34 12.5h3M34 13.5h3M34 14.5h3M34 15.5h2M34 16.5h2M34 17.5h2M35 18.5h1M35 19.5h1M35 20.5h1M35 21.5h1M35 22.5h1M35 23.5h1M35 24.5h1M35 25.5h1M35 26.5h1M34 27.5h1M34 28.5h1M33 30.5h1M32 31.5h1M42 36.5h1M43 37.5h1M43 38.5h2M44 39.5h2M45 40.5h2M27 41.5h5m2 0h1m11 0h3M25 42.5h3m20 0h3M23 43.5h3m23 0h4M21 44.5h3m27 0h4M19 45.5h4m29 0h5M17 46.5h4m33 0h5M15 47.5h5m36 0h5M13 48.5h5m40 0h6M11 49.5h6m42 0h7M9 50.5h6m46 0h7M8 51.5h6m49 0h7M6 52.5h6m52 0h8M4 53.5h7m55 0h6M2 54.5h7m59 0h4M0 55.5h8m61 0h3M0 56.5h6m65 0h1M0 57.5h5M0 58.5h4M0 59.5h2M0 60.5h1"/><path stroke="#eb8d27" d="M29 0.5h4M29 1.5h4M30 2.5h3M30 3.5h3M30 4.5h3M30 5.5h3M30 6.5h4M31 7.5h3M31 8.5h3M31 9.5h3M31 10.5h3M31 11.5h3M32 12.5h2M32 13.5h2M32 14.5h2M32 15.5h2M32 16.5h2M32 17.5h2M33 18.5h2M33 19.5h2M33 20.5h2M33 21.5h2M33 22.5h2M33 23.5h2M33 24.5h2M33 25.5h2M33 26.5h2M33 27.5h1M33 28.5h1M33 29.5h1M42 35.5h1M43 36.5h1M44 37.5h1M45 38.5h2M46 39.5h2M47 40.5h4M32 41.5h2m15 0h4M28 42.5h3m20 0h5M26 43.5h2m25 0h6M24 44.5h3m28 0h7M23 45.5h2m32 0h8M21 46.5h3m35 0h8M20 47.5h3m38 0h9M18 48.5h4m42 0h8M17 49.5h4m45 0h6M15 50.5h4m49 0h4M14 51.5h4m52 0h2M12 52.5h5M11 53.5h5M9 54.5h6M8 55.5h5M6 56.5h6M5 57.5h6M4 58.5h6M2 59.5h7M1 60.5h7M0 61.5h7M0 62.5h5M0 63.5h4M0 64.5h3M0 65.5h2M0 66.5h1"/><path stroke="#e84928" d="M25 0.5h4M26 1.5h3M26 2.5h4M26 3.5h4M27 4.5h3M27 5.5h3M27 6.5h3M27 7.5h4M28 8.5h3M28 9.5h3M28 10.5h3M29 11.5h2M29 12.5h3M29 13.5h3M30 14.5h2M30 15.5h2M30 16.5h2M30 17.5h2M31 18.5h2M31 19.5h2M31 20.5h2M31 21.5h2M32 22.5h1M32 23.5h1M32 24.5h1M32 25.5h1M32 26.5h1M32 27.5h1M32 28.5h1M32 29.5h1M32 30.5h1M42 34.5h1M43 35.5h1M44 36.5h1M45 37.5h2M47 38.5h3M48 39.5h5M51 40.5h6M53 41.5h9M31 42.5h2m23 0h10M28 43.5h3m28 0h11M27 44.5h2m33 0h10M25 45.5h3m37 0h7M24 46.5h3m40 0h5M23 47.5h3m44 0h2M22 48.5h2M21 49.5h3M19 50.5h4M18 51.5h4M17 52.5h4M16 53.5h4M15 54.5h4M13 55.5h5M12 56.5h5M11 57.5h5M10 58.5h5M9 59.5h5M8 60.5h5M7 61.5h5M5 62.5h6M4 63.5h6M3 64.5h6M2 65.5h6M1 66.5h7M0 67.5h7M0 68.5h6M0 69.5h5M0 70.5h4M0 71.5h3"/><path stroke="#e02e2e" d="M21 0.5h4M22 1.5h4M22 2.5h4M23 3.5h3M23 4.5h4M23 5.5h4M24 6.5h3M24 7.5h3M24 8.5h4M25 9.5h3M25 10.5h3M26 11.5h3M26 12.5h3M27 13.5h2M27 14.5h3M27 15.5h3M28 16.5h2M28 17.5h2M29 18.5h2M29 19.5h2M29 20.5h2M30 21.5h1M30 22.5h2M31 23.5h1M31 24.5h1M31 25.5h1M31 26.5h1M44 35.5h1M45 36.5h3M47 37.5h6M50 38.5h10M53 39.5h14M57 40.5h15M62 41.5h10M33 42.5h1m32 0h6M31 43.5h1m38 0h2M29 44.5h2M28 45.5h2M27 46.5h2M26 47.5h2M24 48.5h3M24 49.5h2M23 50.5h2M22 51.5h2M21 52.5h3M20 53.5h3M19 54.5h3M18 55.5h3M17 56.5h4M16 57.5h4M15 58.5h4M14 59.5h4M13 60.5h5M12 61.5h5M11 62.5h5M10 63.5h5M9 64.5h6M8 65.5h6M8 66.5h5M7 67.5h5M6 68.5h6M5 69.5h6M4 70.5h6M3 71.5h6"/><path stroke="#cc1f2e" d="M17 0.5h4M17 1.5h5M18 2.5h4M19 3.5h4M19 4.5h4M20 5.5h3M20 6.5h4M21 7.5h3M21 8.5h3M22 9.5h3M22 10.5h3M23 11.5h3M23 12.5h3M24 13.5h3M24 14.5h3M25 15.5h2M25 16.5h3M26 17.5h2M26 18.5h3M27 19.5h2M27 20.5h2M28 21.5h2M28 22.5h2M29 23.5h2M30 24.5h1M30 25.5h1M30 26.5h1M31 27.5h1M31 28.5h1M31 29.5h1M31 30.5h1M43 34.5h2M45 35.5h5M48 36.5h24M53 37.5h19M60 38.5h12M67 39.5h5M32 43.5h1M31 44.5h1M30 45.5h1M29 46.5h1M28 47.5h2M27 48.5h2M26 49.5h2M25 50.5h2M24 51.5h3M24 52.5h2M23 53.5h2M22 54.5h3M21 55.5h3M21 56.5h3M20 57.5h3M19 58.5h4M18 59.5h4M18 60.5h3M17 61.5h4M16 62.5h4M15 63.5h4M15 64.5h4M14 65.5h4M13 66.5h5M12 67.5h5M12 68.5h4M11 69.5h5M10 70.5h5M9 71.5h6"/><path stroke="#ad1d26" d="M12 0.5h5M13 1.5h4M13 2.5h5M14 3.5h5M15 4.5h4M15 5.5h5M16 6.5h4M17 7.5h4M17 8.5h4M18 9.5h4M19 10.5h3M19 11.5h4M20 12.5h3M21 13.5h3M21 14.5h3M22 15.5h3M23 16.5h2M23 17.5h3M24 18.5h2M25 19.5h2M25 20.5h2M26 21.5h2M27 22.5h1M27 23.5h2M28 24.5h2M29 25.5h1M29 26.5h1M30 27.5h1M30 28.5h1M60 33.5h12M45 34.5h27M50 35.5h22M33 43.5h1M32 44.5h1M31 45.5h1M30 46.5h2M30 47.5h1M29 48.5h1M28 49.5h2M27 50.5h2M27 51.5h2M26 52.5h2M25 53.5h3M25 54.5h2M24 55.5h3M24 56.5h2M23 57.5h3M23 58.5h2M22 59.5h3M21 60.5h3M21 61.5h3M20 62.5h4M19 63.5h4M19 64.5h4M18 65.5h4M18 66.5h4M17 67.5h4M16 68.5h5M16 69.5h4M15 70.5h5M15 71.5h4"/></g><rect x="1686" y="860.5" width="291.5" height="291.5" fill="none" stroke="#444" stroke-width="1.5"/><text transform="translate(1665,889) scale(0.95,1)" text-anchor="end" font-size="56">15</text><text transform="translate(1665,1027.8) scale(0.95,1)" text-anchor="end" font-size="56">0</text><text transform="translate(1665,1164.5) scale(0.95,1)" text-anchor="end" font-size="56">−15</text><text transform="translate(1706,1213) scale(0.95,1)" text-anchor="middle" font-size="56">−15</text><text transform="translate(1833.8,1213) scale(0.95,1)" text-anchor="middle" font-size="56">0</text><text transform="translate(1959.5,1213) scale(0.95,1)" text-anchor="middle" font-size="56">15</text><text transform="translate(1543,1006.2) rotate(-90)" text-anchor="middle" font-size="56"><tspan font-style="italic">y</tspan>/μm</text><text transform="translate(1822.8,1276.5)" text-anchor="middle" font-size="56"><tspan font-style="italic">x</tspan>/μm</text><text transform="translate(1821.8,1352.5)" text-anchor="middle" font-size="56"><tspan font-style="italic">z</tspan>=40 μm</text><text transform="translate(1822.8,1432.5)" text-anchor="middle" font-size="56">(a6)</text><g transform="translate(2172.5,860.5) scale(4.04861)" shape-rendering="crispEdges" stroke-width="1.04" fill="none"><rect width="72" height="72" fill="#32499a"/><path stroke="#2c4090" d="M6 0.5h6M7 1.5h6M8 2.5h6M9 3.5h5M9 4.5h6M10 5.5h6M11 6.5h5M12 7.5h5M13 8.5h5M14 9.5h4M15 10.5h4M15 11.5h5M16 12.5h4M17 13.5h4M18 14.5h4M19 15.5h3M20 16.5h3M21 17.5h3M21 18.5h3M22 19.5h3M23 20.5h2M24 21.5h2M25 22.5h2M25 23.5h2M26 24.5h2M27 25.5h2M28 26.5h1M29 27.5h1M29 28.5h1M30 29.5h1m36 0h5M61 30.5h11M56 31.5h16M50 32.5h22M44 33.5h13M33 44.5h1M33 45.5h1M32 46.5h1M31 47.5h2M31 48.5h1M30 49.5h2M29 50.5h2M29 51.5h2M28 52.5h2M28 53.5h2M27 54.5h3M27 55.5h2M26 56.5h3M26 57.5h3M25 58.5h3M25 59.5h3M25 60.5h3M24 61.5h3M24 62.5h3M23 63.5h4M23 64.5h3M22 65.5h4M22 66.5h3M21 67.5h4M21 68.5h4M20 69.5h4M20 70.5h4M19 71.5h5"/><path stroke="#3752a3" d="M71 7.5h1M70 8.5h2M69 9.5h3M69 10.5h3M68 11.5h4M0 12.5h9m59 0h4M0 13.5h11m56 0h5M0 14.5h13m54 0h5M0 15.5h14m53 0h5M0 16.5h16m50 0h6M0 17.5h17m49 0h6M0 18.5h6m5 0h7m48 0h6M0 19.5h2m12 0h5m46 0h7M16 20.5h4m45 0h7M18 21.5h3m43 0h7M19 22.5h3m41 0h7M20 23.5h3m39 0h7M22 24.5h2m37 0h7M24 25.5h2m33 0h7M25 26.5h2m30 0h7M26 27.5h1m28 0h6M27 28.5h1m25 0h6M29 29.5h1m20 0h6M48 30.5h4M46 31.5h3M44 32.5h1M34 45.5h1M34 46.5h1M34 47.5h1M33 48.5h2M33 49.5h1M33 50.5h1M33 51.5h1M32 52.5h2M32 53.5h2M32 54.5h2M32 55.5h2M31 56.5h3M31 57.5h3M31 58.5h2M31 59.5h2M31 60.5h2M30 61.5h3M30 62.5h3M30 63.5h3M30 64.5h4M30 65.5h4M30 66.5h4M30 67.5h4M30 68.5h5M30 69.5h6M30 70.5h6M30 71.5h7"/><path stroke="#3e5aae" d="M70 3.5h2M69 4.5h3M68 5.5h4M68 6.5h4M67 7.5h4M66 8.5h4M66 9.5h3M65 10.5h4M65 11.5h3M64 12.5h4M64 13.5h3M63 14.5h4M63 15.5h4M63 16.5h3M62 17.5h4M6 18.5h5m51 0h4M2 19.5h12m47 0h4M0 20.5h16m45 0h4M0 21.5h18m42 0h4M0 22.5h4m9 0h6m40 0h4M16 23.5h4m37 0h5M18 24.5h4m34 0h5M20 25.5h4m30 0h5M22 26.5h3m28 0h4M24 27.5h2m25 0h4M25 28.5h2m22 0h4M27 29.5h2m19 0h2M30 30.5h1m15 0h2M45 31.5h1M35 44.5h1M35 45.5h1M35 46.5h1M35 47.5h1M35 48.5h1M34 49.5h2M34 50.5h2M34 51.5h2M34 52.5h2M34 53.5h2M34 54.5h2M34 55.5h2M34 56.5h2M34 57.5h2M33 58.5h3M33 59.5h3M33 60.5h3M33 61.5h3M33 62.5h3M33 63.5h4M34 64.5h3M34 65.5h3M34 66.5h4M34 67.5h5M35 68.5h4M36 69.5h4M36 70.5h5M37 71.5h5"/><path stroke="#446cc0" d="M71 0.5h1M69 1.5h3M68 2.5h4M67 3.5h3M66 4.5h3M66 5.5h2M65 6.5h3M64 7.5h3M64 8.5h2M63 9.5h3M63 10.5h2M62 11.5h3M62 12.5h2M61 13.5h3M61 14.5h2M60 15.5h3M60 16.5h3M59 17.5h3M59 18.5h3M58 19.5h3M57 20.5h4M56 21.5h4M4 22.5h9m42 0h4M0 23.5h16m38 0h3M0 24.5h7m4 0h7m34 0h4M15 25.5h5m31 0h3M18 26.5h4m27 0h4M20 27.5h4m24 0h3M22 28.5h3m22 0h2M25 29.5h2m19 0h2M27 30.5h3m15 0h1M44 31.5h1M43 32.5h1M35 43.5h1M36 45.5h1M36 46.5h1M36 47.5h1M36 48.5h1M36 49.5h1M36 50.5h1M36 51.5h1M36 52.5h1M36 53.5h2M36 54.5h2M36 55.5h2M36 56.5h2M36 57.5h2M36 58.5h2M36 59.5h2M36 60.5h3M36 61.5h3M36 62.5h3M37 63.5h3M37 64.5h3M37 65.5h4M38 66.5h3M39 67.5h3M39 68.5h4M40 69.5h3M41 70.5h3M42 71.5h3"/><path stroke="#61bcde" d="M68 0.5h3M67 1.5h2M66 2.5h2M65 3.5h2M64 4.5h2M63 5.5h3M63 6.5h2M62 7.5h2M61 8.5h3M61 9.5h2M60 10.5h3M60 11.5h2M59 12.5h3M59 13.5h2M58 14.5h3M58 15.5h2M57 16.5h3M56 17.5h3M55 18.5h4M54 19.5h4M54 20.5h3M53 21.5h3M52 22.5h3M50 23.5h4M7 24.5h4m38 0h3M0 25.5h15m33 0h3M0 26.5h18m29 0h2M13 27.5h7m26 0h2M17 28.5h5m23 0h2M20 29.5h5m19 0h2M24 30.5h3m17 0h1M27 31.5h3m13 0h1M36 43.5h1M36 44.5h1M37 45.5h1M37 46.5h1M37 47.5h1M37 48.5h1M37 49.5h2M37 50.5h2M37 51.5h2M37 52.5h2M38 53.5h2M38 54.5h2M38 55.5h2M38 56.5h2M38 57.5h2M38 58.5h3M38 59.5h3M39 60.5h2M39 61.5h3M39 62.5h3M40 63.5h3M40 64.5h3M41 65.5h3M41 66.5h3M42 67.5h3M43 68.5h2M43 69.5h3M44 70.5h3M45 71.5h2"/><path stroke="#68c87c" d="M65 0.5h3M64 1.5h3M63 2.5h3M62 3.5h3M61 4.5h3M61 5.5h2M60 6.5h3M60 7.5h2M59 8.5h2M58 9.5h3M58 10.5h2M57 11.5h3M56 12.5h3M56 13.5h3M55 14.5h3M54 15.5h4M54 16.5h3M53 17.5h3M52 18.5h3M51 19.5h3M50 20.5h4M50 21.5h3M49 22.5h3M48 23.5h2M47 24.5h2M46 25.5h2M45 26.5h2M0 27.5h13m32 0h1M0 28.5h17m27 0h1M9 29.5h11m23 0h1M16 30.5h8m19 0h1M21 31.5h6m3 0h1m11 0h1M27 32.5h2M35 42.5h2M37 43.5h1M37 44.5h1M38 45.5h1M38 46.5h1M38 47.5h1M38 48.5h2M39 49.5h1M39 50.5h1M39 51.5h2M39 52.5h2M40 53.5h2M40 54.5h2M40 55.5h2M40 56.5h3M40 57.5h3M41 58.5h2M41 59.5h3M41 60.5h3M42 61.5h3M42 62.5h3M43 63.5h2M43 64.5h3M44 65.5h2M44 66.5h3M45 67.5h2M45 68.5h3M46 69.5h2M47 70.5h2M47 71.5h2"/><path stroke="#d5da41" d="M61 0.5h4M60 1.5h4M60 2.5h3M59 3.5h3M58 4.5h3M58 5.5h3M57 6.5h3M56 7.5h4M56 8.5h3M55 9.5h3M55 10.5h3M54 11.5h3M53 12.5h3M53 13.5h3M52 14.5h3M51 15.5h3M51 16.5h3M50 17.5h3M49 18.5h3M49 19.5h2M48 20.5h2M47 21.5h3M47 22.5h2M46 23.5h2M45 24.5h2M44 25.5h2M44 26.5h1M43 27.5h2M42 28.5h2M0 29.5h9m33 0h1M0 30.5h16m25 0h2M0 31.5h21m20 0h1M14 32.5h13m2 0h2m11 0h1M24 33.5h6M36 41.5h1M37 42.5h1M38 43.5h1M38 44.5h2M39 45.5h1M39 46.5h1M39 47.5h2M40 48.5h1M40 49.5h2M40 50.5h2M41 51.5h2M41 52.5h2M42 53.5h2M42 54.5h2M42 55.5h3M43 56.5h2M43 57.5h3M43 58.5h3M44 59.5h3M44 60.5h3M45 61.5h2M45 62.5h3M45 63.5h3M46 64.5h3M46 65.5h3M47 66.5h3M47 67.5h3M48 68.5h3M48 69.5h3M49 70.5h3M49 71.5h3"/><path stroke="#68c87c" d="M57 0.5h4M56 1.5h4M56 2.5h4M55 3.5h4M55 4.5h3M54 5.5h4M53 6.5h4M53 7.5h3M52 8.5h4M52 9.5h3M51 10.5h4M51 11.5h3M50 12.5h3M49 13.5h4M49 14.5h3M48 15.5h3M48 16.5h3M47 17.5h3M47 18.5h2M46 19.5h3M46 20.5h2M45 21.5h2M45 22.5h2M44 23.5h2M43 24.5h2M43 25.5h1M42 26.5h2M42 27.5h1M41 28.5h1M40 29.5h2M40 30.5h1M40 31.5h1M0 32.5h14m17 0h1m7 0h3M0 33.5h24m6 0h3m2 0h4M0 34.5h39M32 35.5h7M33 36.5h6M34 37.5h4M35 38.5h3M36 39.5h3M36 40.5h3M35 41.5h1m1 0h3M38 42.5h2M39 43.5h2M40 44.5h1M40 45.5h2M40 46.5h2M41 47.5h2M41 48.5h2M42 49.5h2M42 50.5h2M43 51.5h2M43 52.5h3M44 53.5h2M44 54.5h3M45 55.5h2M45 56.5h3M46 57.5h2M46 58.5h3M47 59.5h2M47 60.5h3M47 61.5h4M48 62.5h3M48 63.5h4M49 64.5h3M49 65.5h4M50 66.5h3M50 67.5h4M51 68.5h4M51 69.5h4M52 70.5h4M52 71.5h4"/><path stroke="#65c0da" d="M52 0.5h5M52 1.5h4M52 2.5h4M51 3.5h4M51 4.5h4M50 5.5h4M50 6.5h3M49 7.5h4M49 8.5h3M48 9.5h4M48 10.5h3M48 11.5h3M47 12.5h3M47 13.5h2M46 14.5h3M46 15.5h2M45 16.5h3M45 17.5h2M44 18.5h3M44 19.5h2M44 20.5h2M43 21.5h2M43 22.5h2M42 23.5h2M42 24.5h1M41 25.5h2M41 26.5h1M40 27.5h2M39 28.5h2M39 29.5h1M37 30.5h3M31 31.5h1m4 0h4M32 32.5h7M33 33.5h2m4 0h4M39 34.5h2M0 35.5h32m7 0h1M0 36.5h22m5 0h6m6 0h1M0 37.5h12m19 0h3m4 0h2M0 38.5h1m32 0h2m3 0h2M34 39.5h2m3 0h1M35 40.5h1m3 0h2M40 41.5h1M40 42.5h2M41 43.5h1M41 44.5h2M42 45.5h1M42 46.5h2M43 47.5h1M43 48.5h2M44 49.5h2M44 50.5h3M45 51.5h2M46 52.5h2M46 53.5h3M47 54.5h2M47 55.5h3M48 56.5h3M48 57.5h4M49 58.5h3M49 59.5h4M50 60.5h4M51 61.5h3M51 62.5h4M52 63.5h4M52 64.5h4M53 65.5h4M53 66.5h5M54 67.5h5M55 68.5h4M55 69.5h5M56 70.5h5M56 71.5h5"/><path stroke="#68c87c" d="M48 0.5h4M48 1.5h4M48 2.5h4M47 3.5h4M47 4.5h4M47 5.5h3M46 6.5h4M46 7.5h3M46 8.5h3M45 9.5h3M45 10.5h3M45 11.5h3M44 12.5h3M44 13.5h3M44 14.5h2M43 15.5h3M43 16.5h2M43 17.5h2M42 18.5h2M42 19.5h2M42 20.5h2M41 21.5h2M41 22.5h2M40 23.5h2M40 24.5h2M39 25.5h2M39 26.5h2M38 27.5h2M38 28.5h1M37 29.5h2M35 30.5h2M32 31.5h4M41 34.5h1M40 35.5h1M22 36.5h5m13 0h1M12 37.5h19m9 0h1M1 38.5h19m11 0h2m7 0h1M0 39.5h15m18 0h1m6 0h2M0 40.5h10m24 0h1m6 0h1M0 41.5h5m29 0h1m6 0h2M42 42.5h1M42 43.5h2M43 44.5h1M43 45.5h2M44 46.5h2M44 47.5h3M45 48.5h3M46 49.5h2M47 50.5h2M47 51.5h3M48 52.5h3M49 53.5h3M49 54.5h4M50 55.5h4M51 56.5h3M52 57.5h3M52 58.5h4M53 59.5h4M54 60.5h4M54 61.5h5M55 62.5h5M56 63.5h5M56 64.5h5M57 65.5h5M58 66.5h5M59 67.5h5M59 68.5h6M60 69.5h6M61 70.5h6M61 71.5h7"/><path stroke="#d5da41" d="M44 0.5h4M44 1.5h4M44 2.5h4M44 3.5h3M43 4.5h4M43 5.5h4M43 6.5h3M43 7.5h3M43 8.5h3M42 9.5h3M42 10.5h3M42 11.5h3M42 12.5h2M41 13.5h3M41 14.5h3M41 15.5h2M41 16.5h2M40 17.5h3M40 18.5h2M40 19.5h2M40 20.5h2M39 21.5h2M39 22.5h2M39 23.5h1M38 24.5h2M38 25.5h1M37 26.5h2M37 27.5h1M36 28.5h2M35 29.5h2M33 30.5h2M41 35.5h1M41 36.5h1M41 37.5h1M20 38.5h11m10 0h2M15 39.5h9m6 0h3m9 0h1M10 40.5h10m13 0h1m8 0h1M5 41.5h12m26 0h1M0 42.5h14m29 0h2M0 43.5h10m34 0h1M0 44.5h7m37 0h2M0 45.5h4m41 0h2M46 46.5h2M47 47.5h2M48 48.5h2M48 49.5h3M49 50.5h3M50 51.5h3M51 52.5h4M52 53.5h4M53 54.5h4M54 55.5h4M54 56.5h5M55 57.5h5M56 58.5h5M57 59.5h5M58 60.5h5M59 61.5h5M60 62.5h5M61 63.5h5M61 64.5h6M62 65.5h6M63 66.5h7M64 67.5h7M65 68.5h7M66 69.5h6M67 70.5h5M68 71.5h4"/><path stroke="#77cb73" d="M41 0.5h3M40 1.5h4M40 2.5h4M40 3.5h4M40 4.5h3M40 5.5h3M40 6.5h3M40 7.5h3M40 8.5h3M39 9.5h3M39 10.5h3M39 11.5h3M39 12.5h3M39 13.5h2M39 14.5h2M39 15.5h2M38 16.5h3M38 17.5h2M38 18.5h2M38 19.5h2M38 20.5h2M38 21.5h1M37 22.5h2M37 23.5h2M37 24.5h1M36 25.5h2M36 26.5h1M35 27.5h2M35 28.5h1M34 29.5h1M31 30.5h2M42 34.5h1M42 35.5h1M42 36.5h1M42 37.5h1M43 38.5h1M24 39.5h6m13 0h1M20 40.5h8m1 0h4m10 0h2M17 41.5h6m21 0h2M14 42.5h6m25 0h2M10 43.5h8m27 0h3M7 44.5h8m31 0h2M4 45.5h9m34 0h3M0 46.5h11m37 0h3M0 47.5h8m41 0h3M0 48.5h5m45 0h4M0 49.5h3m48 0h4M0 50.5h1m51 0h4M53 51.5h5M55 52.5h4M56 53.5h4M57 54.5h5M58 55.5h5M59 56.5h5M60 57.5h6M61 58.5h6M62 59.5h6M63 60.5h7M64 61.5h7M65 62.5h7M66 63.5h6M67 64.5h5M68 65.5h4M70 66.5h2M71 67.5h1"/><path stroke="#6cc8d4" d="M37 0.5h4M37 1.5h3M37 2.5h3M37 3.5h3M37 4.5h3M37 5.5h3M37 6.5h3M37 7.5h3M37 8.5h3M37 9.5h2M37 10.5h2M37 11.5h2M37 12.5h2M36 13.5h3M36 14.5h3M36 15.5h3M36 16.5h2M36 17.5h2M36 18.5h2M36 19.5h2M36 20.5h2M36 21.5h2M36 22.5h1M36 23.5h1M35 24.5h2M35 25.5h1M35 26.5h1M34 27.5h1M34 28.5h1M33 29.5h1M43 36.5h1M43 37.5h1M44 38.5h1M44 39.5h2M28 40.5h1m16 0h2M23 41.5h7m1 0h3m12 0h2M20 42.5h5m22 0h2M18 43.5h5m25 0h2M15 44.5h6m27 0h4M13 45.5h6m31 0h3M11 46.5h6m34 0h4M8 47.5h7m37 0h4M5 48.5h8m41 0h4M3 49.5h8m44 0h5M1 50.5h8m47 0h6M0 51.5h7m51 0h5M0 52.5h5m54 0h6M0 53.5h4m56 0h7M0 54.5h2m60 0h6M63 55.5h7M64 56.5h8M66 57.5h6M67 58.5h5M68 59.5h4M70 60.5h2M71 61.5h1"/><path stroke="#c6d444" d="M33 0.5h4M33 1.5h4M33 2.5h4M33 3.5h4M33 4.5h4M33 5.5h4M34 6.5h3M34 7.5h3M34 8.5h3M34 9.5h3M34 10.5h3M34 11.5h3M34 12.5h3M34 13.5h2M34 14.5h2M34 15.5h2M34 16.5h2M34 17.5h2M34 18.5h2M34 19.5h2M34 20.5h2M34 21.5h2M34 22.5h2M34 23.5h2M34 24.5h1M34 25.5h1M34 26.5h1M33 27.5h1M33 28.5h1M32 29.5h1M43 35.5h1M44 37.5h1M45 38.5h1M46 39.5h1M47 40.5h1M30 41.5h1m17 0h2M25 42.5h5m19 0h3M23 43.5h3m24 0h4M21 44.5h3m28 0h4M19 45.5h4m30 0h5M17 46.5h4m34 0h5M15 47.5h5m36 0h6M13 48.5h5m40 0h7M11 49.5h5m44 0h7M9 50.5h6m47 0h7M7 51.5h6m50 0h8M5 52.5h7m53 0h7M4 53.5h7m56 0h5M2 54.5h7m59 0h4M0 55.5h8m62 0h2M0 56.5h6M0 57.5h5M0 58.5h3M0 59.5h2"/><path stroke="#eb8d27" d="M29 0.5h4M30 1.5h3M30 2.5h3M30 3.5h3M30 4.5h3M30 5.5h3M30 6.5h4M31 7.5h3M31 8.5h3M31 9.5h3M31 10.5h3M31 11.5h3M32 12.5h2M32 13.5h2M32 14.5h2M32 15.5h2M32 16.5h2M32 17.5h2M32 18.5h2M33 19.5h1M33 20.5h1M33 21.5h1M33 22.5h1M33 23.5h1M33 24.5h1M33 25.5h1M33 26.5h1M32 27.5h1M32 28.5h1M43 34.5h1M44 36.5h1M45 37.5h2M46 38.5h2M47 39.5h3M48 40.5h4M50 41.5h4M30 42.5h3m19 0h5M26 43.5h4m24 0h6M24 44.5h3m29 0h7M23 45.5h3m32 0h7M21 46.5h3m36 0h8M20 47.5h3m39 0h9M18 48.5h4m43 0h7M16 49.5h4m47 0h5M15 50.5h4m50 0h3M13 51.5h5m53 0h1M12 52.5h5M11 53.5h5M9 54.5h6M8 55.5h5M6 56.5h6M5 57.5h6M3 58.5h7M2 59.5h7M0 60.5h8M0 61.5h6M0 62.5h5M0 63.5h4M0 64.5h3M0 65.5h2M0 66.5h1"/><path stroke="#e84928" d="M25 0.5h4M26 1.5h4M26 2.5h4M26 3.5h4M27 4.5h3M27 5.5h3M27 6.5h3M27 7.5h4M28 8.5h3M28 9.5h3M28 10.5h3M29 11.5h2M29 12.5h3M29 13.5h3M30 14.5h2M30 15.5h2M30 16.5h2M30 17.5h2M31 18.5h1M31 19.5h2M31 20.5h2M31 21.5h2M31 22.5h2M32 23.5h1M32 24.5h1M32 25.5h1M32 26.5h1M31 29.5h1M44 35.5h1M45 36.5h2M47 37.5h2M48 38.5h3M50 39.5h5M52 40.5h7M54 41.5h9M33 42.5h1m23 0h10M30 43.5h2m28 0h11M27 44.5h3m33 0h9M26 45.5h2m37 0h7M24 46.5h3m41 0h4M23 47.5h3m45 0h1M22 48.5h2M20 49.5h4M19 50.5h4M18 51.5h4M17 52.5h4M16 53.5h4M15 54.5h4M13 55.5h5M12 56.5h5M11 57.5h5M10 58.5h5M9 59.5h5M8 60.5h5M6 61.5h6M5 62.5h6M4 63.5h6M3 64.5h6M2 65.5h6M1 66.5h6M0 67.5h6M0 68.5h6M0 69.5h5M0 70.5h4M0 71.5h3"/><path stroke="#e02e2e" d="M22 0.5h3M22 1.5h4M22 2.5h4M23 3.5h3M23 4.5h4M24 5.5h3M24 6.5h3M24 7.5h3M25 8.5h3M25 9.5h3M25 10.5h3M26 11.5h3M26 12.5h3M27 13.5h2M27 14.5h3M27 15.5h3M28 16.5h2M28 17.5h2M29 18.5h2M29 19.5h2M29 20.5h2M30 21.5h1M30 22.5h1M30 23.5h2M31 24.5h1M31 25.5h1M31 26.5h1M31 27.5h1M31 28.5h1M44 34.5h1M45 35.5h2M47 36.5h3M49 37.5h6M51 38.5h11M55 39.5h14M59 40.5h13M63 41.5h9M67 42.5h5M32 43.5h1m38 0h1M30 44.5h2M28 45.5h2M27 46.5h2M26 47.5h2M24 48.5h3M24 49.5h2M23 50.5h2M22 51.5h2M21 52.5h3M20 53.5h3M19 54.5h3M18 55.5h3M17 56.5h4M16 57.5h4M15 58.5h4M14 59.5h4M13 60.5h5M12 61.5h5M11 62.5h5M10 63.5h5M9 64.5h6M8 65.5h6M7 66.5h6M6 67.5h6M6 68.5h5M5 69.5h6M4 70.5h6M3 71.5h6"/><path stroke="#cc1f2e" d="M17 0.5h5M18 1.5h4M18 2.5h4M19 3.5h4M19 4.5h4M20 5.5h4M20 6.5h4M21 7.5h3M21 8.5h4M22 9.5h3M22 10.5h3M23 11.5h3M24 12.5h2M24 13.5h3M24 14.5h3M25 15.5h2M25 16.5h3M26 17.5h2M26 18.5h3M27 19.5h2M27 20.5h2M28 21.5h2M28 22.5h2M29 23.5h1M29 24.5h2M30 25.5h1M30 26.5h1M30 27.5h1M45 34.5h2M47 35.5h7M50 36.5h22M55 37.5h17M62 38.5h10M69 39.5h3M34 42.5h1M33 43.5h1M32 44.5h1M30 45.5h2M29 46.5h2M28 47.5h2M27 48.5h2M26 49.5h2M25 50.5h2M24 51.5h3M24 52.5h2M23 53.5h3M22 54.5h3M21 55.5h3M21 56.5h3M20 57.5h3M19 58.5h4M18 59.5h4M18 60.5h3M17 61.5h4M16 62.5h4M15 63.5h5M15 64.5h4M14 65.5h4M13 66.5h5M12 67.5h5M11 68.5h5M11 69.5h5M10 70.5h5M9 71.5h6"/><path stroke="#ad1d26" d="M12 0.5h5M13 1.5h5M14 2.5h4M14 3.5h5M15 4.5h4M16 5.5h4M16 6.5h4M17 7.5h4M18 8.5h3M18 9.5h4M19 10.5h3M20 11.5h3M20 12.5h4M21 13.5h3M22 14.5h2M22 15.5h3M23 16.5h2M24 17.5h2M24 18.5h2M25 19.5h2M25 20.5h2M26 21.5h2M27 22.5h1M27 23.5h2M28 24.5h1M29 25.5h1M29 26.5h1M30 28.5h1M43 33.5h1m13 0h15M47 34.5h25M54 35.5h18M32 45.5h1M31 46.5h1M30 47.5h1M29 48.5h2M28 49.5h2M27 50.5h2M27 51.5h2M26 52.5h2M26 53.5h2M25 54.5h2M24 55.5h3M24 56.5h2M23 57.5h3M23 58.5h2M22 59.5h3M21 60.5h4M21 61.5h3M20 62.5h4M20 63.5h3M19 64.5h4M18 65.5h4M18 66.5h4M17 67.5h4M16 68.5h5M16 69.5h4M15 70.5h5M15 71.5h4"/></g><rect x="2172.5" y="860.5" width="291.5" height="291.5" fill="none" stroke="#444" stroke-width="1.5"/><text transform="translate(2151.5,889) scale(0.95,1)" text-anchor="end" font-size="56">15</text><text transform="translate(2151.5,1027.8) scale(0.95,1)" text-anchor="end" font-size="56">0</text><text transform="translate(2151.5,1164.5) scale(0.95,1)" text-anchor="end" font-size="56">−15</text><text transform="translate(2192.5,1213) scale(0.95,1)" text-anchor="middle" font-size="56">−15</text><text transform="translate(2320.2,1213) scale(0.95,1)" text-anchor="middle" font-size="56">0</text><text transform="translate(2446,1213) scale(0.95,1)" text-anchor="middle" font-size="56">15</text><text transform="translate(2029.5,1006.2) rotate(-90)" text-anchor="middle" font-size="56"><tspan font-style="italic">y</tspan>/μm</text><text transform="translate(2309.2,1276.5)" text-anchor="middle" font-size="56"><tspan font-style="italic">x</tspan>/μm</text><text transform="translate(2308.2,1352.5)" text-anchor="middle" font-size="56"><tspan font-style="italic">z</tspan>=50 μm</text><text transform="translate(2309.2,1432.5)" text-anchor="middle" font-size="56">(a7)</text><g transform="translate(2660,860.5) scale(4.04861)" shape-rendering="crispEdges" stroke-width="1.04" fill="none"><rect width="72" height="72" fill="#68c87c"/><path stroke="#2c4090" d="M6 0.5h6M7 1.5h6M8 2.5h5M9 3.5h5M9 4.5h6M10 5.5h5M11 6.5h5M12 7.5h5M13 8.5h4M14 9.5h4M15 10.5h4M15 11.5h4M16 12.5h4M17 13.5h4M18 14.5h3M19 15.5h3M20 16.5h3M21 17.5h3M21 18.5h3M22 19.5h3M23 20.5h2M24 21.5h2M25 22.5h1M25 23.5h2M26 24.5h2M27 25.5h1M28 26.5h1M67 29.5h5M61 30.5h11M56 31.5h16M50 32.5h22M48 33.5h7M32 46.5h1M32 47.5h1M31 48.5h1M30 49.5h2M30 50.5h1M29 51.5h2M28 52.5h2M28 53.5h2M27 54.5h3M27 55.5h2M26 56.5h3M26 57.5h3M25 58.5h3M25 59.5h3M25 60.5h3M24 61.5h3M24 62.5h3M23 63.5h3M23 64.5h3M22 65.5h4M22 66.5h3M21 67.5h4M21 68.5h4M20 69.5h4M20 70.5h4M19 71.5h5"/><path stroke="#32499a" d="M0 0.5h6M0 1.5h7M0 2.5h8M0 3.5h9M0 4.5h9M0 5.5h10M0 6.5h11M0 7.5h12M0 8.5h13M0 9.5h14M0 10.5h15M0 11.5h2m5 0h8M10 12.5h6M12 13.5h5M13 14.5h5M14 15.5h5M16 16.5h4M17 17.5h4M18 18.5h3M19 19.5h3M20 20.5h3M21 21.5h3M22 22.5h3m46 0h1M24 23.5h1m45 0h2M25 24.5h1m42 0h4M26 25.5h1m39 0h6M27 26.5h1m36 0h8M28 27.5h1m33 0h10M29 28.5h1m29 0h13M56 29.5h11M52 30.5h9M49 31.5h7M46 32.5h4M33 44.5h1M33 45.5h1M33 46.5h1M32 48.5h1M32 49.5h1M31 50.5h2M31 51.5h1M30 52.5h2M30 53.5h2M30 54.5h2M29 55.5h2M29 56.5h2M29 57.5h2M28 58.5h3M28 59.5h3M28 60.5h2M27 61.5h3M27 62.5h3M26 63.5h4M26 64.5h4M26 65.5h3M25 66.5h4M25 67.5h4M25 68.5h4M24 69.5h5M24 70.5h5M24 71.5h5"/><path stroke="#3752a3" d="M71 6.5h1M71 7.5h1M70 8.5h2M69 9.5h3M69 10.5h3M2 11.5h5m62 0h3M0 12.5h10m58 0h4M0 13.5h12m56 0h4M0 14.5h13m54 0h5M0 15.5h14m53 0h5M0 16.5h16m51 0h5M0 17.5h17m50 0h5M0 18.5h4m8 0h6m48 0h6M0 19.5h1m14 0h4m47 0h6M16 20.5h4m45 0h7M18 21.5h3m44 0h7M19 22.5h3m42 0h7M21 23.5h3m39 0h7M22 24.5h3m36 0h7M24 25.5h2m33 0h7M25 26.5h2m30 0h7M26 27.5h2m27 0h7M28 28.5h1m24 0h6M51 29.5h5M49 30.5h3M47 31.5h2M45 32.5h1M33 47.5h1M33 48.5h1M33 49.5h1M33 50.5h1M32 51.5h2M32 52.5h2M32 53.5h2M32 54.5h2M31 55.5h2M31 56.5h2M31 57.5h2M31 58.5h2M31 59.5h2M30 60.5h3M30 61.5h3M30 62.5h3M30 63.5h3M30 64.5h3M29 65.5h4M29 66.5h4M29 67.5h5M29 68.5h5M29 69.5h6M29 70.5h6M29 71.5h7"/><path stroke="#3e5aae" d="M71 2.5h1M70 3.5h2M69 4.5h3M69 5.5h3M68 6.5h3M67 7.5h4M67 8.5h3M66 9.5h3M66 10.5h3M65 11.5h4M65 12.5h3M64 13.5h4M64 14.5h3M64 15.5h3M63 16.5h4M63 17.5h4M4 18.5h8m50 0h4M1 19.5h14m47 0h4M0 20.5h16m45 0h4M0 21.5h7m4 0h7m42 0h5M0 22.5h2m12 0h5m40 0h5M16 23.5h5m37 0h5M19 24.5h3m34 0h5M21 25.5h3m31 0h4M22 26.5h3m28 0h4M24 27.5h2m25 0h4M26 28.5h2m22 0h3M48 29.5h3M47 30.5h2M46 31.5h1M34 45.5h1M34 46.5h1M34 47.5h1M34 48.5h1M34 49.5h1M34 50.5h1M34 51.5h1M34 52.5h1M34 53.5h1M34 54.5h1M33 55.5h2M33 56.5h2M33 57.5h3M33 58.5h3M33 59.5h3M33 60.5h3M33 61.5h3M33 62.5h3M33 63.5h3M33 64.5h3M33 65.5h4M33 66.5h4M34 67.5h4M34 68.5h4M35 69.5h4M35 70.5h5M36 71.5h5"/><path stroke="#446cc0" d="M70 0.5h2M69 1.5h3M68 2.5h3M67 3.5h3M67 4.5h2M66 5.5h3M65 6.5h3M65 7.5h2M64 8.5h3M64 9.5h2M63 10.5h3M63 11.5h2M62 12.5h3M62 13.5h2M61 14.5h3M61 15.5h3M60 16.5h3M60 17.5h3M59 18.5h3M58 19.5h4M57 20.5h4M7 21.5h4m45 0h4M2 22.5h12m41 0h4M0 23.5h16m38 0h4M0 24.5h3m9 0h7m33 0h4M16 25.5h5m30 0h4M18 26.5h4m28 0h3M21 27.5h3m25 0h2M23 28.5h3m22 0h2M26 29.5h4m17 0h1M46 30.5h1M45 31.5h1M34 44.5h1M35 46.5h1M35 47.5h1M35 48.5h1M35 49.5h2M35 50.5h2M35 51.5h2M35 52.5h2M35 53.5h2M35 54.5h2M35 55.5h2M35 56.5h3M36 57.5h2M36 58.5h2M36 59.5h2M36 60.5h2M36 61.5h3M36 62.5h3M36 63.5h3M36 64.5h4M37 65.5h3M37 66.5h4M38 67.5h3M38 68.5h4M39 69.5h4M40 70.5h3M41 71.5h3"/><path stroke="#61bcde" d="M67 0.5h3M67 1.5h2M66 2.5h2M65 3.5h2M64 4.5h3M64 5.5h2M63 6.5h2M62 7.5h3M62 8.5h2M61 9.5h3M61 10.5h2M60 11.5h3M60 12.5h2M59 13.5h3M59 14.5h2M58 15.5h3M57 16.5h3M56 17.5h4M56 18.5h3M55 19.5h3M54 20.5h3M53 21.5h3M52 22.5h3M51 23.5h3M3 24.5h9m38 0h2M0 25.5h16m33 0h2M0 26.5h18m30 0h2M14 27.5h7m26 0h2M18 28.5h5m23 0h2M21 29.5h5m19 0h2M25 30.5h4m16 0h1M44 31.5h1M44 32.5h1M35 45.5h1M36 46.5h1M36 47.5h1M36 48.5h2M37 49.5h1M37 50.5h1M37 51.5h2M37 52.5h2M37 53.5h2M37 54.5h2M37 55.5h3M38 56.5h2M38 57.5h2M38 58.5h2M38 59.5h3M38 60.5h3M39 61.5h2M39 62.5h3M39 63.5h3M40 64.5h3M40 65.5h3M41 66.5h3M41 67.5h3M42 68.5h3M43 69.5h2M43 70.5h3M44 71.5h3"/><path stroke="#68c87c" d="M65 0.5h2M64 1.5h3M63 2.5h3M62 3.5h3M62 4.5h2M61 5.5h3M60 6.5h3M60 7.5h2M59 8.5h3M59 9.5h2M58 10.5h3M57 11.5h3M57 12.5h3M56 13.5h3M55 14.5h4M55 15.5h3M54 16.5h3M53 17.5h3M52 18.5h4M52 19.5h3M51 20.5h3M50 21.5h3M49 22.5h3M48 23.5h3M47 24.5h3M47 25.5h2M46 26.5h2M0 27.5h14m31 0h2M0 28.5h18m26 0h2M11 29.5h10m23 0h1M17 30.5h8m4 0h1m14 0h1M23 31.5h6M35 44.5h2M36 45.5h2M37 46.5h1M37 47.5h2M38 48.5h1M38 49.5h2M38 50.5h2M39 51.5h1M39 52.5h2M39 53.5h2M39 54.5h3M40 55.5h2M40 56.5h2M40 57.5h3M40 58.5h3M41 59.5h2M41 60.5h3M41 61.5h3M42 62.5h3M42 63.5h3M43 64.5h3M43 65.5h3M44 66.5h3M44 67.5h3M45 68.5h3M45 69.5h3M46 70.5h2M47 71.5h2"/><path stroke="#d5da41" d="M61 0.5h4M60 1.5h4M60 2.5h3M59 3.5h3M59 4.5h3M58 5.5h3M57 6.5h3M57 7.5h3M56 8.5h3M55 9.5h4M55 10.5h3M54 11.5h3M53 12.5h4M53 13.5h3M52 14.5h3M51 15.5h4M51 16.5h3M50 17.5h3M49 18.5h3M49 19.5h3M48 20.5h3M48 21.5h2M47 22.5h2M46 23.5h2M45 24.5h2M45 25.5h2M44 26.5h2M43 27.5h2M43 28.5h1M0 29.5h11m32 0h1M0 30.5h17m25 0h2M0 31.5h23m6 0h1m13 0h1M15 32.5h15m13 0h1M34 43.5h4M37 44.5h2M38 45.5h2M38 46.5h2M39 47.5h2M39 48.5h2M40 49.5h2M40 50.5h2M40 51.5h2M41 52.5h2M41 53.5h2M42 54.5h2M42 55.5h2M42 56.5h3M43 57.5h2M43 58.5h3M43 59.5h3M44 60.5h3M44 61.5h3M45 62.5h3M45 63.5h3M46 64.5h2M46 65.5h3M47 66.5h3M47 67.5h3M48 68.5h3M48 69.5h3M48 70.5h4M49 71.5h3"/><path stroke="#65c0da" d="M52 0.5h5M52 1.5h4M51 2.5h5M51 3.5h4M51 4.5h4M50 5.5h4M50 6.5h3M49 7.5h4M49 8.5h3M48 9.5h4M48 10.5h3M48 11.5h3M47 12.5h3M47 13.5h3M46 14.5h3M46 15.5h2M45 16.5h3M45 17.5h2M44 18.5h3M44 19.5h2M44 20.5h2M43 21.5h2M43 22.5h2M42 23.5h2M41 24.5h2M41 25.5h2M40 26.5h2M40 27.5h2M39 28.5h2M38 29.5h3M31 30.5h1m4 0h4M31 31.5h8M33 32.5h4M40 33.5h5M39 34.5h3M0 35.5h30m9 0h2M0 36.5h32m7 0h2M0 37.5h12m17 0h4m6 0h2M0 38.5h2m29 0h3m5 0h2M33 39.5h2m4 0h2M33 40.5h2m4 0h2M34 41.5h1m4 0h2M34 42.5h1m5 0h2M40 43.5h2M41 44.5h2M41 45.5h2M42 46.5h2M42 47.5h2M43 48.5h2M44 49.5h2M44 50.5h3M45 51.5h2M45 52.5h3M46 53.5h2M46 54.5h3M47 55.5h3M48 56.5h3M48 57.5h3M49 58.5h3M49 59.5h4M50 60.5h3M50 61.5h4M51 62.5h4M52 63.5h4M52 64.5h4M53 65.5h4M53 66.5h5M54 67.5h4M54 68.5h5M55 69.5h5M56 70.5h5M56 71.5h5"/><path stroke="#68c87c" d="M48 0.5h4M48 1.5h4M48 2.5h3M47 3.5h4M47 4.5h4M47 5.5h3M46 6.5h4M46 7.5h3M46 8.5h3M45 9.5h3M45 10.5h3M45 11.5h3M44 12.5h3M44 13.5h3M44 14.5h2M43 15.5h3M43 16.5h2M43 17.5h2M42 18.5h2M42 19.5h2M41 20.5h3M41 21.5h2M41 22.5h2M40 23.5h2M39 24.5h2M39 25.5h2M38 26.5h2M37 27.5h3M36 28.5h3M34 29.5h4M32 30.5h4M42 34.5h1M41 35.5h2M41 36.5h1M12 37.5h17m12 0h1M2 38.5h21m3 0h5m10 0h1M0 39.5h16m14 0h3m8 0h2M0 40.5h11m21 0h1m8 0h2M0 41.5h6m27 0h1m7 0h2M33 42.5h1m8 0h2M42 43.5h2M43 44.5h2M43 45.5h2M44 46.5h2M44 47.5h3M45 48.5h3M46 49.5h2M47 50.5h2M47 51.5h3M48 52.5h3M48 53.5h4M49 54.5h4M50 55.5h3M51 56.5h3M51 57.5h4M52 58.5h4M53 59.5h4M53 60.5h5M54 61.5h5M55 62.5h5M56 63.5h4M56 64.5h5M57 65.5h5M58 66.5h5M58 67.5h6M59 68.5h6M60 69.5h6M61 70.5h6M61 71.5h6"/><path stroke="#d5da41" d="M44 0.5h4M44 1.5h4M44 2.5h4M44 3.5h3M43 4.5h4M43 5.5h4M43 6.5h3M43 7.5h3M42 8.5h4M42 9.5h3M42 10.5h3M42 11.5h3M41 12.5h3M41 13.5h3M41 14.5h3M41 15.5h2M40 16.5h3M40 17.5h3M40 18.5h2M40 19.5h2M39 20.5h2M39 21.5h2M39 22.5h2M38 23.5h2M38 24.5h1M37 25.5h2M36 26.5h2M35 27.5h2M34 28.5h2M31 29.5h3M43 34.5h1M42 36.5h1M42 37.5h1M23 38.5h3m16 0h2M16 39.5h14m13 0h1M11 40.5h11m7 0h3m11 0h1M6 41.5h11m15 0h1m10 0h2M0 42.5h14m30 0h1M0 43.5h11m22 0h1m10 0h2M0 44.5h7m38 0h2M0 45.5h4m41 0h3M0 46.5h1m45 0h2M47 47.5h2M48 48.5h2M48 49.5h3M49 50.5h3M50 51.5h3M51 52.5h4M52 53.5h4M53 54.5h4M53 55.5h5M54 56.5h5M55 57.5h5M56 58.5h5M57 59.5h5M58 60.5h5M59 61.5h5M60 62.5h5M60 63.5h6M61 64.5h6M62 65.5h6M63 66.5h6M64 67.5h7M65 68.5h7M66 69.5h6M67 70.5h5M67 71.5h5"/><path stroke="#77cb73" d="M40 0.5h4M40 1.5h4M40 2.5h4M40 3.5h4M40 4.5h3M40 5.5h3M40 6.5h3M40 7.5h3M39 8.5h3M39 9.5h3M39 10.5h3M39 11.5h3M39 12.5h2M39 13.5h2M39 14.5h2M38 15.5h3M38 16.5h2M38 17.5h2M38 18.5h2M38 19.5h2M37 20.5h2M37 21.5h2M37 22.5h2M36 23.5h2M36 24.5h2M35 25.5h2M35 26.5h1M34 27.5h1M32 28.5h2M43 35.5h1M43 36.5h1M43 37.5h1M44 38.5h1M44 39.5h1M22 40.5h7m15 0h2M17 41.5h15m13 0h2M14 42.5h8m10 0h1m12 0h2M11 43.5h8m27 0h2M7 44.5h9m31 0h2M4 45.5h9m35 0h2M1 46.5h10m37 0h3M0 47.5h9m40 0h3M0 48.5h6m44 0h4M0 49.5h3m48 0h4M0 50.5h1m51 0h4M53 51.5h5M55 52.5h4M56 53.5h4M57 54.5h5M58 55.5h5M59 56.5h5M60 57.5h6M61 58.5h6M62 59.5h6M63 60.5h7M64 61.5h7M65 62.5h7M66 63.5h6M67 64.5h5M68 65.5h4M69 66.5h3M71 67.5h1"/><path stroke="#6cc8d4" d="M37 0.5h3M37 1.5h3M37 2.5h3M37 3.5h3M37 4.5h3M37 5.5h3M37 6.5h3M36 7.5h4M36 8.5h3M36 9.5h3M36 10.5h3M36 11.5h3M36 12.5h3M36 13.5h3M36 14.5h3M36 15.5h2M36 16.5h2M36 17.5h2M36 18.5h2M36 19.5h2M36 20.5h1M35 21.5h2M35 22.5h2M35 23.5h1M34 24.5h2M34 25.5h1M33 26.5h2M33 27.5h1M31 28.5h1M44 34.5h1M44 35.5h1M44 36.5h1M44 37.5h1M45 38.5h1M45 39.5h2M46 40.5h2M47 41.5h1M22 42.5h10m15 0h2M19 43.5h5m24 0h3M16 44.5h6m27 0h3M13 45.5h6m31 0h3M11 46.5h6m34 0h4M9 47.5h6m37 0h4M6 48.5h7m41 0h4M3 49.5h8m44 0h5M1 50.5h8m47 0h6M0 51.5h7m51 0h5M0 52.5h6m53 0h6M0 53.5h4m56 0h7M0 54.5h2m60 0h6M63 55.5h7M64 56.5h8M66 57.5h6M67 58.5h5M68 59.5h4M70 60.5h2M71 61.5h1"/><path stroke="#c6d444" d="M33 0.5h4M33 1.5h4M33 2.5h4M33 3.5h4M33 4.5h4M33 5.5h4M33 6.5h4M33 7.5h3M34 8.5h2M34 9.5h2M34 10.5h2M34 11.5h2M34 12.5h2M34 13.5h2M34 14.5h2M34 15.5h2M34 16.5h2M34 17.5h2M34 18.5h2M34 19.5h2M34 20.5h2M34 21.5h1M34 22.5h1M33 23.5h2M33 24.5h1M33 25.5h1M32 26.5h1M32 27.5h1M45 36.5h1M45 37.5h2M46 38.5h2M47 39.5h1M48 40.5h2M48 41.5h3M49 42.5h4M24 43.5h9m18 0h3M22 44.5h4m26 0h4M19 45.5h5m29 0h5M17 46.5h5m33 0h5M15 47.5h5m36 0h6M13 48.5h5m40 0h7M11 49.5h6m43 0h7M9 50.5h6m47 0h7M7 51.5h7m49 0h8M6 52.5h6m53 0h7M4 53.5h7m56 0h5M2 54.5h7m59 0h4M0 55.5h8m62 0h2M0 56.5h6M0 57.5h5M0 58.5h3M0 59.5h2M0 60.5h1"/><path stroke="#eb8d27" d="M29 0.5h4M29 1.5h4M30 2.5h3M30 3.5h3M30 4.5h3M30 5.5h3M30 6.5h3M30 7.5h3M31 8.5h3M31 9.5h3M31 10.5h3M31 11.5h3M31 12.5h3M31 13.5h3M32 14.5h2M32 15.5h2M32 16.5h2M32 17.5h2M32 18.5h2M32 19.5h2M32 20.5h2M32 21.5h2M32 22.5h2M32 23.5h1M32 24.5h1M32 25.5h1M31 27.5h1M45 35.5h1M46 36.5h1M47 37.5h1M48 38.5h1M48 39.5h3M50 40.5h3M51 41.5h4M53 42.5h5M54 43.5h6M26 44.5h4m26 0h7M24 45.5h3m31 0h8M22 46.5h3m35 0h8M20 47.5h4m38 0h9M18 48.5h4m43 0h7M17 49.5h4m46 0h5M15 50.5h5m49 0h3M14 51.5h4m53 0h1M12 52.5h5M11 53.5h5M9 54.5h6M8 55.5h6M6 56.5h6M5 57.5h6M3 58.5h7M2 59.5h7M1 60.5h7M0 61.5h6M0 62.5h5M0 63.5h4M0 64.5h3M0 65.5h2M0 66.5h1"/><path stroke="#e84928" d="M25 0.5h4M26 1.5h3M26 2.5h4M26 3.5h4M26 4.5h4M27 5.5h3M27 6.5h3M27 7.5h3M28 8.5h3M28 9.5h3M28 10.5h3M28 11.5h3M29 12.5h2M29 13.5h2M29 14.5h3M30 15.5h2M30 16.5h2M30 17.5h2M30 18.5h2M30 19.5h2M31 20.5h1M31 21.5h1M31 22.5h1M31 23.5h1M31 24.5h1M31 25.5h1M31 26.5h1M45 34.5h1M46 35.5h1M47 36.5h1M48 37.5h2M49 38.5h4M51 39.5h5M53 40.5h6M55 41.5h8M58 42.5h9M60 43.5h11M30 44.5h2m31 0h9M27 45.5h3m36 0h6M25 46.5h3m40 0h4M24 47.5h3m44 0h1M22 48.5h3M21 49.5h3M20 50.5h3M18 51.5h4M17 52.5h4M16 53.5h4M15 54.5h4M14 55.5h4M12 56.5h5M11 57.5h5M10 58.5h5M9 59.5h5M8 60.5h5M6 61.5h6M5 62.5h6M4 63.5h6M3 64.5h6M2 65.5h6M1 66.5h6M0 67.5h7M0 68.5h6M0 69.5h5M0 70.5h4M0 71.5h3"/><path stroke="#e02e2e" d="M21 0.5h4M22 1.5h4M22 2.5h4M23 3.5h3M23 4.5h3M23 5.5h4M24 6.5h3M24 7.5h3M24 8.5h4M25 9.5h3M25 10.5h3M26 11.5h2M26 12.5h3M26 13.5h3M27 14.5h2M27 15.5h3M28 16.5h2M28 17.5h2M28 18.5h2M29 19.5h1M29 20.5h2M29 21.5h2M30 22.5h1M30 23.5h1M30 24.5h1M30 25.5h1M30 26.5h1M30 27.5h1M30 28.5h1M46 34.5h1M47 35.5h2M48 36.5h4M50 37.5h6M53 38.5h10M56 39.5h14M59 40.5h13M63 41.5h9M67 42.5h5M71 43.5h1M32 44.5h1M30 45.5h1M28 46.5h2M27 47.5h2M25 48.5h2M24 49.5h2M23 50.5h2M22 51.5h3M21 52.5h3M20 53.5h3M19 54.5h3M18 55.5h4M17 56.5h4M16 57.5h4M15 58.5h4M14 59.5h4M13 60.5h5M12 61.5h5M11 62.5h5M10 63.5h5M9 64.5h6M8 65.5h6M7 66.5h6M7 67.5h5M6 68.5h5M5 69.5h6M4 70.5h6M3 71.5h6"/><path stroke="#cc1f2e" d="M17 0.5h4M18 1.5h4M18 2.5h4M19 3.5h4M19 4.5h4M20 5.5h3M20 6.5h4M21 7.5h3M21 8.5h3M22 9.5h3M22 10.5h3M23 11.5h3M23 12.5h3M24 13.5h2M24 14.5h3M25 15.5h2M25 16.5h3M26 17.5h2M26 18.5h2M27 19.5h2M27 20.5h2M28 21.5h1M28 22.5h2M28 23.5h2M29 24.5h1M29 25.5h1M47 34.5h2M49 35.5h8M52 36.5h20M56 37.5h16M63 38.5h9M70 39.5h2M31 45.5h1M30 46.5h1M29 47.5h1M27 48.5h2M26 49.5h2M25 50.5h3M25 51.5h2M24 52.5h2M23 53.5h3M22 54.5h3M22 55.5h2M21 56.5h3M20 57.5h3M19 58.5h4M18 59.5h4M18 60.5h3M17 61.5h4M16 62.5h4M15 63.5h5M15 64.5h4M14 65.5h4M13 66.5h5M12 67.5h5M11 68.5h5M11 69.5h5M10 70.5h5M9 71.5h6"/><path stroke="#ad1d26" d="M12 0.5h5M13 1.5h5M13 2.5h5M14 3.5h5M15 4.5h4M15 5.5h5M16 6.5h4M17 7.5h4M17 8.5h4M18 9.5h4M19 10.5h3M19 11.5h4M20 12.5h3M21 13.5h3M21 14.5h3M22 15.5h3M23 16.5h2M24 17.5h2M24 18.5h2M25 19.5h2M25 20.5h2M26 21.5h2M26 22.5h2M27 23.5h1M28 24.5h1M28 25.5h1M29 26.5h1M29 27.5h1M45 33.5h3m7 0h17M49 34.5h23M57 35.5h15M32 45.5h1M31 46.5h1M30 47.5h2M29 48.5h2M28 49.5h2M28 50.5h2M27 51.5h2M26 52.5h2M26 53.5h2M25 54.5h2M24 55.5h3M24 56.5h2M23 57.5h3M23 58.5h2M22 59.5h3M21 60.5h4M21 61.5h3M20 62.5h4M20 63.5h3M19 64.5h4M18 65.5h4M18 66.5h4M17 67.5h4M16 68.5h5M16 69.5h4M15 70.5h5M15 71.5h4"/></g><rect x="2660" y="860.5" width="291.5" height="291.5" fill="none" stroke="#444" stroke-width="1.5"/><text transform="translate(2639,889) scale(0.95,1)" text-anchor="end" font-size="56">15</text><text transform="translate(2639,1027.8) scale(0.95,1)" text-anchor="end" font-size="56">0</text><text transform="translate(2639,1164.5) scale(0.95,1)" text-anchor="end" font-size="56">−15</text><text transform="translate(2680,1213) scale(0.95,1)" text-anchor="middle" font-size="56">−15</text><text transform="translate(2807.8,1213) scale(0.95,1)" text-anchor="middle" font-size="56">0</text><text transform="translate(2933.5,1213) scale(0.95,1)" text-anchor="middle" font-size="56">15</text><text transform="translate(2517,1006.2) rotate(-90)" text-anchor="middle" font-size="56"><tspan font-style="italic">y</tspan>/μm</text><text transform="translate(2796.8,1276.5)" text-anchor="middle" font-size="56"><tspan font-style="italic">x</tspan>/μm</text><text transform="translate(2795.8,1352.5)" text-anchor="middle" font-size="56"><tspan font-style="italic">z</tspan>=60 μm</text><text transform="translate(2796.8,1432.5)" text-anchor="middle" font-size="56">(a8)</text><g><rect x="2996" y="860" width="34" height="3" fill="#a11c23"/><rect x="2996" y="862.4" width="34" height="3" fill="#a81d24"/><rect x="2996" y="864.8" width="34" height="3" fill="#ae1d26"/><rect x="2996" y="867.2" width="34" height="3" fill="#b51e28"/><rect x="2996" y="869.6" width="34" height="3" fill="#bb1e2a"/><rect x="2996" y="872" width="34" height="3" fill="#c11f2b"/><rect x="2996" y="874.4" width="34" height="3" fill="#c81f2d"/><rect x="2996" y="876.8" width="34" height="3" fill="#ce202f"/><rect x="2996" y="879.2" width="34" height="3" fill="#d42030"/><rect x="2996" y="881.6" width="34" height="3" fill="#d8242f"/><rect x="2996" y="884" width="34" height="3" fill="#db282f"/><rect x="2996" y="886.4" width="34" height="3" fill="#de2c2e"/><rect x="2996" y="888.8" width="34" height="3" fill="#e2302d"/><rect x="2996" y="891.2" width="34" height="3" fill="#e5342d"/><rect x="2996" y="893.6" width="34" height="3" fill="#e8392c"/><rect x="2996" y="896" width="34" height="3" fill="#e8402a"/><rect x="2996" y="898.4" width="34" height="3" fill="#e84729"/><rect x="2996" y="900.8" width="34" height="3" fill="#e84e27"/><rect x="2996" y="903.2" width="34" height="3" fill="#e85525"/><rect x="2996" y="905.6" width="34" height="3" fill="#e85c24"/><rect x="2996" y="908" width="34" height="3" fill="#e96326"/><rect x="2996" y="910.4" width="34" height="3" fill="#e96927"/><rect x="2996" y="912.8" width="34" height="3" fill="#e97028"/><rect x="2996" y="915.2" width="34" height="3" fill="#ea7729"/><rect x="2996" y="917.6" width="34" height="3" fill="#ea7e29"/><rect x="2996" y="920" width="34" height="3" fill="#eb8628"/><rect x="2996" y="922.4" width="34" height="3" fill="#eb8e27"/><rect x="2996" y="924.8" width="34" height="3" fill="#eb9626"/><rect x="2996" y="927.2" width="34" height="3" fill="#ec9e24"/><rect x="2996" y="929.6" width="34" height="3" fill="#eda523"/><rect x="2996" y="932" width="34" height="3" fill="#eeab23"/><rect x="2996" y="934.4" width="34" height="3" fill="#efb222"/><rect x="2996" y="936.8" width="34" height="3" fill="#f1b921"/><rect x="2996" y="939.2" width="34" height="3" fill="#f2bf20"/><rect x="2996" y="941.6" width="34" height="3" fill="#f1c524"/><rect x="2996" y="944" width="34" height="3" fill="#f0cb29"/><rect x="2996" y="946.4" width="34" height="3" fill="#efd12e"/><rect x="2996" y="948.8" width="34" height="3" fill="#eed732"/><rect x="2996" y="951.2" width="34" height="3" fill="#eddd37"/><rect x="2996" y="953.6" width="34" height="3" fill="#ece33c"/><rect x="2996" y="956" width="34" height="3" fill="#e6e23d"/><rect x="2996" y="958.4" width="34" height="3" fill="#e0df3f"/><rect x="2996" y="960.8" width="34" height="3" fill="#dadc40"/><rect x="2996" y="963.2" width="34" height="3" fill="#d3da41"/><rect x="2996" y="965.6" width="34" height="3" fill="#cdd743"/><rect x="2996" y="968" width="34" height="3" fill="#c7d444"/><rect x="2996" y="970.4" width="34" height="3" fill="#c0d447"/><rect x="2996" y="972.8" width="34" height="3" fill="#b9d34b"/><rect x="2996" y="975.2" width="34" height="3" fill="#b3d24f"/><rect x="2996" y="977.6" width="34" height="3" fill="#acd253"/><rect x="2996" y="980" width="34" height="3" fill="#a5d157"/><rect x="2996" y="982.4" width="34" height="3" fill="#9fd15b"/><rect x="2996" y="984.8" width="34" height="3" fill="#98d05f"/><rect x="2996" y="987.2" width="34" height="3" fill="#92cf63"/><rect x="2996" y="989.6" width="34" height="3" fill="#8bce67"/><rect x="2996" y="992" width="34" height="3" fill="#85cd6b"/><rect x="2996" y="994.4" width="34" height="3" fill="#7ecc6e"/><rect x="2996" y="996.8" width="34" height="3" fill="#78cb72"/><rect x="2996" y="999.2" width="34" height="3" fill="#72ca76"/><rect x="2996" y="1001.6" width="34" height="3" fill="#6bc97a"/><rect x="2996" y="1004" width="34" height="3" fill="#67c87f"/><rect x="2996" y="1006.4" width="34" height="3" fill="#66c886"/><rect x="2996" y="1008.8" width="34" height="3" fill="#65c88e"/><rect x="2996" y="1011.2" width="34" height="3" fill="#63c894"/><rect x="2996" y="1013.6" width="34" height="3" fill="#62c89c"/><rect x="2996" y="1016" width="34" height="3" fill="#61c8a2"/><rect x="2996" y="1018.4" width="34" height="3" fill="#61c8aa"/><rect x="2996" y="1020.8" width="34" height="3" fill="#63c8b2"/><rect x="2996" y="1023.2" width="34" height="3" fill="#65c8b9"/><rect x="2996" y="1025.6" width="34" height="3" fill="#67c8c1"/><rect x="2996" y="1028" width="34" height="3" fill="#69c8c9"/><rect x="2996" y="1030.4" width="34" height="3" fill="#6bc8d0"/><rect x="2996" y="1032.8" width="34" height="3" fill="#6ac6d5"/><rect x="2996" y="1035.2" width="34" height="3" fill="#67c3d8"/><rect x="2996" y="1037.6" width="34" height="3" fill="#64c0db"/><rect x="2996" y="1040" width="34" height="3" fill="#62bcdd"/><rect x="2996" y="1042.4" width="34" height="3" fill="#5fb9e0"/><rect x="2996" y="1044.8" width="34" height="3" fill="#5cb6e3"/><rect x="2996" y="1047.2" width="34" height="3" fill="#58b1e2"/><rect x="2996" y="1049.6" width="34" height="3" fill="#53abdf"/><rect x="2996" y="1052" width="34" height="3" fill="#4ea4dc"/><rect x="2996" y="1054.4" width="34" height="3" fill="#4a9ed8"/><rect x="2996" y="1056.8" width="34" height="3" fill="#4598d5"/><rect x="2996" y="1059.2" width="34" height="3" fill="#4091d2"/><rect x="2996" y="1061.6" width="34" height="3" fill="#3f8ace"/><rect x="2996" y="1064" width="34" height="3" fill="#4084cb"/><rect x="2996" y="1066.4" width="34" height="3" fill="#417dc8"/><rect x="2996" y="1068.8" width="34" height="3" fill="#4376c4"/><rect x="2996" y="1071.2" width="34" height="3" fill="#446ec1"/><rect x="2996" y="1073.6" width="34" height="3" fill="#4567be"/><rect x="2996" y="1076" width="34" height="3" fill="#4663bb"/><rect x="2996" y="1078.4" width="34" height="3" fill="#4462ba"/><rect x="2996" y="1080.8" width="34" height="3" fill="#4461b8"/><rect x="2996" y="1083.2" width="34" height="3" fill="#4260b6"/><rect x="2996" y="1085.6" width="34" height="3" fill="#425fb4"/><rect x="2996" y="1088" width="34" height="3" fill="#405eb3"/><rect x="2996" y="1090.4" width="34" height="3" fill="#405cb1"/><rect x="2996" y="1092.8" width="34" height="3" fill="#3e5bb0"/><rect x="2996" y="1095.2" width="34" height="3" fill="#3e5aae"/><rect x="2996" y="1097.6" width="34" height="3" fill="#3c59ac"/><rect x="2996" y="1100" width="34" height="3" fill="#3c58aa"/><rect x="2996" y="1102.4" width="34" height="3" fill="#3a57a9"/><rect x="2996" y="1104.8" width="34" height="3" fill="#3955a7"/><rect x="2996" y="1107.2" width="34" height="3" fill="#3853a5"/><rect x="2996" y="1109.6" width="34" height="3" fill="#3751a3"/><rect x="2996" y="1112" width="34" height="3" fill="#3650a1"/><rect x="2996" y="1114.4" width="34" height="3" fill="#354e9f"/><rect x="2996" y="1116.8" width="34" height="3" fill="#344c9d"/><rect x="2996" y="1119.2" width="34" height="3" fill="#324a9b"/><rect x="2996" y="1121.6" width="34" height="3" fill="#314899"/><rect x="2996" y="1124" width="34" height="3" fill="#304697"/><rect x="2996" y="1126.4" width="34" height="3" fill="#2f4595"/><rect x="2996" y="1128.8" width="34" height="3" fill="#2e4393"/><rect x="2996" y="1131.2" width="34" height="3" fill="#2d4191"/><rect x="2996" y="1133.6" width="34" height="3" fill="#2d3f8d"/><rect x="2996" y="1136" width="34" height="3" fill="#2e3c88"/><rect x="2996" y="1138.4" width="34" height="3" fill="#303982"/><rect x="2996" y="1140.8" width="34" height="3" fill="#31377c"/><rect x="2996" y="1143.2" width="34" height="3" fill="#333476"/><rect x="2996" y="1145.6" width="34" height="3" fill="#343171"/></g><rect x="2996" y="860" width="34" height="288" fill="none" stroke="#333" stroke-width="2"/><text transform="translate(3050,884) scale(0.95,1)" text-anchor="start" font-size="56"><tspan font-style="italic">π</tspan></text><text transform="translate(3053,1022) scale(0.95,1)" text-anchor="start" font-size="56">10</text><text transform="translate(3050,1162) scale(0.95,1)" text-anchor="start" font-size="56">−<tspan font-style="italic">π</tspan></text><g transform="translate(226.5,2378) scale(4.04861)" shape-rendering="crispEdges" stroke-width="1.04" fill="none"><rect width="72" height="72" fill="#68c87c"/><path stroke="#2e3d89" d="M20 0.5h1m12 0h1m4 0h1m12 0h1M20 1.5h1m12 0h1m4 0h1m12 0h1M5 2.5h1m4 0h1m5 0h1m3 0h1m12 0h1m4 0h1m12 0h1m3 0h1m5 0h1m4 0h1M4 3.5h1m15 0h1m12 0h1m4 0h1m12 0h1m15 0h1M3 4.5h1m9 0h1m6 0h1m12 0h1m4 0h1m12 0h1m6 0h1m9 0h1M2 5.5h1m15 0h1m1 0h1m12 0h1m4 0h1m12 0h1m1 0h1m15 0h1M20 6.5h1m12 0h1m4 0h1m12 0h1M15 7.5h1m4 0h1m12 0h1m4 0h1m12 0h1m4 0h1M20 8.5h1m12 0h1m4 0h1m12 0h1M20 9.5h1m12 0h1m4 0h1m12 0h1M2 10.5h1m15 0h1m1 0h1m12 0h1m4 0h1m12 0h1m1 0h1m15 0h1M20 11.5h1m12 0h1m4 0h1m12 0h1M20 12.5h1m12 0h1m4 0h1m12 0h1M4 13.5h1m15 0h1m12 0h1m4 0h1m12 0h1m15 0h1M20 14.5h1m12 0h1m4 0h1m12 0h1M7 15.5h1m12 0h1m30 0h1m12 0h1M2 16.5h1m15 0h1m1 0h1m30 0h1m1 0h1m15 0h1M17 17.5h1m2 0h1m14 0h1m8 0h1m6 0h1m2 0h1M5 18.5h1m4 0h1m5 0h1m3 0h1m11 0h1m14 0h1m3 0h1m3 0h1m5 0h1m4 0h1M30 19.5h1m18 0h1M0 20.5h19m34 0h19M20 21.5h1M18 24.5h1m6 0h1m10 0h1m9 0h1M35 25.5h1M24 26.5h1m9 0h1m14 0h1M17 27.5h1m15 0h1m16 0h1M51 28.5h1M41 32.5h1m1 0h1M0 33.5h15m30 0h1m11 0h15M24 34.5h1m21 0h1m7 0h1M47 35.5h1M17 36.5h1m7 0h1M26 37.5h1M0 38.5h15m12 0h1m29 0h15M18 39.5h1m29 0h1M39 40.5h1m8 0h1M19 41.5h1m28 0h1M39 42.5h1m8 0h1M39 43.5h1M38 45.5h1m15 0h1M37 46.5h1m9 0h1M26 47.5h1m8 0h1M31 48.5h1M45 49.5h1m6 0h1M44 50.5h1M0 51.5h19m24 0h1m9 0h19M22 52.5h1m27 0h1M5 53.5h1m4 0h1m5 0h1m3 0h1m3 0h1m26 0h1m3 0h1m5 0h1m4 0h1M17 54.5h1m2 0h1m6 0h1m9 0h1m13 0h1m2 0h1M2 55.5h1m15 0h1m1 0h1m30 0h1m1 0h1m15 0h1M7 56.5h1m12 0h1m30 0h1m12 0h1M20 57.5h1m12 0h1m4 0h1m12 0h1M4 58.5h1m15 0h1m12 0h1m4 0h1m12 0h1m15 0h1M20 59.5h1m12 0h1m4 0h1m12 0h1M20 60.5h1m12 0h1m4 0h1m12 0h1M2 61.5h1m15 0h1m1 0h1m12 0h1m4 0h1m12 0h1m1 0h1m15 0h1M20 62.5h1m12 0h1m4 0h1m12 0h1M20 63.5h1m12 0h1m4 0h1m12 0h1M15 64.5h1m4 0h1m12 0h1m4 0h1m12 0h1m4 0h1M20 65.5h1m12 0h1m4 0h1m12 0h1M2 66.5h1m15 0h1m1 0h1m12 0h1m4 0h1m12 0h1m1 0h1m15 0h1M3 67.5h1m9 0h1m6 0h1m12 0h1m4 0h1m12 0h1m6 0h1m9 0h1M4 68.5h1m15 0h1m12 0h1m4 0h1m12 0h1m15 0h1M5 69.5h1m4 0h1m5 0h1m3 0h1m12 0h1m4 0h1m12 0h1m3 0h1m5 0h1m4 0h1M20 70.5h1m12 0h1m4 0h1m12 0h1M20 71.5h1m12 0h1m4 0h1m12 0h1"/><path stroke="#364fa1" d="M7 0.5h1m16 0h1m7 0h1m6 0h1m7 0h1m16 0h1M6 1.5h1m4 0h1m12 0h1m7 0h1m6 0h1m7 0h1m12 0h1m4 0h1M24 2.5h1m7 0h1m6 0h1m7 0h1M14 3.5h1m9 0h1m7 0h1m6 0h1m7 0h1m9 0h1M24 4.5h1m7 0h1m6 0h1m7 0h1M24 5.5h1m7 0h1m6 0h1m7 0h1M1 6.5h1m8 0h1m13 0h1m7 0h1m6 0h1m7 0h1m13 0h1m8 0h1M0 7.5h1m8 0h1m14 0h1m7 0h1m6 0h1m7 0h1m14 0h1m8 0h1M8 8.5h1m15 0h1m7 0h1m6 0h1m7 0h1m15 0h1M7 9.5h1m16 0h1m7 0h1m6 0h1m7 0h1m16 0h1M6 10.5h1m17 0h1m7 0h1m6 0h1m7 0h1m17 0h1M1 11.5h1m22 0h1m7 0h1m6 0h1m7 0h1m22 0h1M15 12.5h1m8 0h1m7 0h1m6 0h1m7 0h1m8 0h1M14 13.5h1m9 0h1m7 0h1m6 0h1m7 0h1m9 0h1M3 14.5h1m9 0h1m10 0h1m7 0h1m6 0h1m7 0h1m10 0h1m9 0h1M12 15.5h1m11 0h1m22 0h1m11 0h1M24 16.5h1m13 0h3m6 0h1M24 17.5h1m9 0h1m10 0h1m1 0h1M31 18.5h1M21 19.5h1M28 20.5h1m22 0h1M27 21.5h1m24 0h1M19 22.5h1m6 0h1M38 23.5h6M0 24.5h18m36 0h18M24 25.5h1m9 0h1m13 0h1M17 26.5h1m15 0h1M23 29.5h1m28 0h1M23 30.5h1M23 31.5h1m29 0h1M0 32.5h15m8 0h1m20 0h1m12 0h15M46 33.5h1m7 0h1M24 35.5h1M17 37.5h1m7 0h1m22 0h1m6 0h1M26 38.5h1m21 0h1m6 0h1M0 39.5h15m13 0h3m24 0h1m1 0h15M18 40.5h1m36 0h1M55 41.5h1M55 42.5h1M20 43.5h1m27 0h1M21 44.5h1m17 0h1m8 0h1M22 45.5h1M23 46.5h1m30 0h1M0 47.5h18m7 0h1m10 0h1m10 0h1m6 0h18M28 48.5h3m1 0h2m12 0h1M19 50.5h1M20 51.5h1m30 0h1M42 52.5h1M40 53.5h1M24 54.5h1m1 0h1m11 0h1m8 0h1M24 55.5h1m5 0h5m12 0h1M12 56.5h1m11 0h1m22 0h1m11 0h1M3 57.5h1m9 0h1m10 0h1m7 0h1m6 0h1m7 0h1m10 0h1m9 0h1M14 58.5h1m9 0h1m7 0h1m6 0h1m7 0h1m9 0h1M15 59.5h1m8 0h1m7 0h1m6 0h1m7 0h1m8 0h1M1 60.5h1m22 0h1m7 0h1m6 0h1m7 0h1m22 0h1M6 61.5h1m17 0h1m7 0h1m6 0h1m7 0h1m17 0h1M7 62.5h1m16 0h1m7 0h1m6 0h1m7 0h1m16 0h1M8 63.5h1m15 0h1m7 0h1m6 0h1m7 0h1m15 0h1M0 64.5h1m8 0h1m14 0h1m7 0h1m6 0h1m7 0h1m14 0h1m8 0h1M1 65.5h1m8 0h1m13 0h1m7 0h1m6 0h1m7 0h1m13 0h1m8 0h1M24 66.5h1m7 0h1m6 0h1m7 0h1M24 67.5h1m7 0h1m6 0h1m7 0h1M14 68.5h1m9 0h1m7 0h1m6 0h1m7 0h1m9 0h1M24 69.5h1m7 0h1m6 0h1m7 0h1M6 70.5h1m4 0h1m12 0h1m7 0h1m6 0h1m7 0h1m12 0h1m4 0h1M7 71.5h1m16 0h1m7 0h1m6 0h1m7 0h1m16 0h1"/><path stroke="#405db2" d="M12 0.5h1m18 0h1m8 0h1m18 0h1M17 1.5h1m13 0h1m8 0h1m13 0h1M31 2.5h1m8 0h1M8 3.5h1m22 0h1m8 0h1m22 0h1M7 4.5h1m23 0h1m8 0h1m23 0h1M6 5.5h1m4 0h1m19 0h1m8 0h1m19 0h1m4 0h1M5 6.5h1m10 0h1m14 0h1m8 0h1m14 0h1m10 0h1M4 7.5h1m26 0h1m8 0h1m26 0h1M3 8.5h1m9 0h1m17 0h1m8 0h1m17 0h1m9 0h1M12 9.5h1m18 0h1m8 0h1m18 0h1M11 10.5h1m19 0h1m8 0h1m19 0h1M5 11.5h1m4 0h1m5 0h1m14 0h1m8 0h1m14 0h1m5 0h1m4 0h1M0 12.5h1m8 0h1m21 0h1m8 0h1m21 0h1m8 0h1M8 13.5h1m22 0h1m8 0h1m22 0h1M31 14.5h1m8 0h1M6 16.5h1m4 0h1m24 0h2m3 0h2m17 0h1m4 0h1M1 17.5h1m31 0h1m12 0h1m23 0h1M29 19.5h1m20 0h1M20 20.5h1M25 23.5h1m11 0h1m6 0h1M24 24.5h1m10 0h1m11 0h1M17 25.5h1M50 26.5h1M23 27.5h1m8 0h1m18 0h1M23 28.5h1m8 0h1M16 29.5h1m15 0h1M16 30.5h1m15 0h1m20 0h1M0 31.5h15m1 0h1m25 0h2m13 0h15M16 32.5h1m28 0h1m8 0h1M16 33.5h1m6 0h1M16 34.5h1m6 0h1m23 0h1M16 35.5h1m38 0h1M24 36.5h1m23 0h1m6 0h1M17 38.5h1m14 0h1M27 39.5h1m3 0h1m7 0h1M0 40.5h15m25 0h1m8 0h1m7 0h15M40 41.5h1M19 42.5h1m20 0h1M40 43.5h1m14 0h1M39 45.5h1m8 0h1M38 46.5h1M24 47.5h1m12 0h1M27 48.5h1m6 0h2M45 50.5h1m6 0h1M44 51.5h1M21 52.5h1M41 53.5h1M1 54.5h1m23 0h1m13 0h1m30 0h1M6 55.5h1m4 0h1m16 0h2m5 0h2m23 0h1m4 0h1M31 57.5h1m8 0h1M8 58.5h1m22 0h1m8 0h1m22 0h1M0 59.5h1m8 0h1m21 0h1m8 0h1m21 0h1m8 0h1M5 60.5h1m4 0h1m5 0h1m14 0h1m8 0h1m14 0h1m5 0h1m4 0h1M11 61.5h1m19 0h1m8 0h1m19 0h1M12 62.5h1m18 0h1m8 0h1m18 0h1M3 63.5h1m9 0h1m17 0h1m8 0h1m17 0h1m9 0h1M4 64.5h1m26 0h1m8 0h1m26 0h1M5 65.5h1m10 0h1m14 0h1m8 0h1m14 0h1m10 0h1M6 66.5h1m4 0h1m19 0h1m8 0h1m19 0h1m4 0h1M7 67.5h1m23 0h1m8 0h1m23 0h1M8 68.5h1m22 0h1m8 0h1m22 0h1M31 69.5h1m8 0h1M17 70.5h1m13 0h1m8 0h1m13 0h1M12 71.5h1m18 0h1m8 0h1m18 0h1"/><path stroke="#3e8ed0" d="M9 2.5h1m5 0h1m40 0h1m5 0h1M12 4.5h1m46 0h1M17 5.5h1m36 0h1M14 7.5h1m42 0h1M2 9.5h1m66 0h1M17 10.5h1m36 0h1M4 12.5h1m62 0h1M7 14.5h1m56 0h1M2 15.5h1m15 0h1m34 0h1m15 0h1M17 16.5h1m17 0h1m7 0h2m9 0h1M5 17.5h1m4 0h1m5 0h1m15 0h1m22 0h1m5 0h1m4 0h1M15 18.5h1m14 0h1m25 0h1M27 20.5h1M19 21.5h1m6 0h1M25 22.5h1m13 0h4M36 23.5h1m8 0h1M34 24.5h1M33 25.5h1m15 0h1M23 26.5h1m8 0h1M16 28.5h1m35 0h1M33 31.5h1m7 0h1m2 0h1m9 0h1M40 32.5h1m5 0h1M47 33.5h1M55 34.5h1M23 35.5h1m24 0h1M16 36.5h1M24 37.5h1M25 38.5h1m23 0h1M17 39.5h1m8 0h1m5 0h1m7 0h1m8 0h1M28 40.5h3M18 41.5h1m30 0h1M49 42.5h1M19 43.5h1m29 0h1M20 44.5h1m19 0h1m14 0h1M21 45.5h1M22 46.5h1m16 0h1m8 0h1M38 47.5h1M26 48.5h1m9 0h1m10 0h1M29 49.5h5m12 0h1M43 52.5h1m7 0h1M15 53.5h1m40 0h1M5 54.5h1m4 0h1m5 0h1m38 0h1m5 0h1m4 0h1M17 55.5h1m9 0h1m9 0h1m16 0h1M2 56.5h1m15 0h1m34 0h1m15 0h1M7 57.5h1m56 0h1M4 59.5h1m62 0h1M17 61.5h1m36 0h1M2 62.5h1m66 0h1M14 64.5h1m42 0h1M17 66.5h1m36 0h1M12 67.5h1m46 0h1M9 69.5h1m5 0h1m40 0h1m5 0h1"/><path stroke="#65c0da" d="M2 0.5h1m15 0h1m11 0h1m10 0h1m11 0h1m15 0h1M1 1.5h1m28 0h1m10 0h1m28 0h1M0 2.5h1m3 0h1m25 0h1m10 0h1m25 0h1m3 0h1M3 3.5h1m9 0h1m16 0h1m10 0h1m16 0h1m9 0h1M2 4.5h1m27 0h1m10 0h1m27 0h1M30 5.5h1m10 0h1M15 6.5h1m14 0h1m10 0h1m14 0h1M30 7.5h1m10 0h1M30 8.5h1m10 0h1M18 9.5h1m11 0h1m10 0h1m11 0h1M30 10.5h1m10 0h1M30 11.5h1m10 0h1M14 12.5h1m15 0h1m10 0h1m15 0h1M3 13.5h1m9 0h1m16 0h1m10 0h1m16 0h1m9 0h1M12 14.5h1m17 0h1m10 0h1m17 0h1M6 15.5h1m58 0h1M34 16.5h1M31 17.5h1M0 18.5h1m8 0h1m19 0h1m32 0h1m8 0h1M20 19.5h1m7 0h1m22 0h1M52 20.5h1M37 22.5h2m4 0h2M24 23.5h1m10 0h1m10 0h1M33 24.5h1m14 0h1M23 25.5h1m8 0h1M16 27.5h1m14 0h1M22 28.5h1m8 0h1M22 29.5h1m8 0h1m21 0h1M0 30.5h15m7 0h1m8 0h1m10 0h1m14 0h15M22 31.5h1m9 0h1m7 0h1m4 0h1M22 32.5h1M22 33.5h1m32 0h1M48 34.5h1M23 36.5h1m25 0h1M16 37.5h1m32 0h1M24 38.5h1m14 0h1m16 0h1M25 39.5h1m30 0h1M17 40.5h1m9 0h1m3 0h1m9 0h1m14 0h1M0 41.5h15m26 0h1m15 0h15M18 42.5h1m22 0h1M41 43.5h1M49 44.5h1M40 45.5h1M23 47.5h1M25 48.5h1M27 49.5h2m5 0h1M19 51.5h1m32 0h1M20 52.5h1M0 53.5h1m8 0h1m32 0h1m19 0h1m8 0h1M40 54.5h1M38 55.5h1M6 56.5h1m58 0h1M12 57.5h1m17 0h1m10 0h1m17 0h1M3 58.5h1m9 0h1m16 0h1m10 0h1m16 0h1m9 0h1M14 59.5h1m15 0h1m10 0h1m15 0h1M30 60.5h1m10 0h1M30 61.5h1m10 0h1M18 62.5h1m11 0h1m10 0h1m11 0h1M30 63.5h1m10 0h1M30 64.5h1m10 0h1M15 65.5h1m14 0h1m10 0h1m14 0h1M30 66.5h1m10 0h1M2 67.5h1m27 0h1m10 0h1m27 0h1M3 68.5h1m9 0h1m16 0h1m10 0h1m16 0h1m9 0h1M0 69.5h1m3 0h1m25 0h1m10 0h1m25 0h1m3 0h1M1 70.5h1m28 0h1m10 0h1m28 0h1M2 71.5h1m15 0h1m11 0h1m10 0h1m11 0h1m15 0h1"/><path stroke="#62c8af" d="M5 1.5h1m4 0h1m5 0h1m38 0h1m5 0h1m4 0h1M18 4.5h1m34 0h1M1 5.5h1m68 0h1M9 6.5h1m52 0h1M8 7.5h1m54 0h1M7 8.5h1m56 0h1M6 9.5h1m4 0h1m48 0h1m4 0h1M1 10.5h1m8 0h1m50 0h1m8 0h1M9 11.5h1m5 0h1m40 0h1m5 0h1M11 15.5h1m25 0h5m18 0h1M1 16.5h1m31 0h1m36 0h1M4 18.5h1m62 0h1M19 20.5h1m6 0h1M25 21.5h1M36 22.5h1m8 0h1M34 23.5h1m12 0h1M23 24.5h1m25 0h1M50 25.5h1M31 26.5h1m19 0h1M22 27.5h1m29 0h1M15 30.5h1m25 0h1m1 0h2m9 0h1M15 31.5h1m15 0h1m14 0h1M15 32.5h1m16 0h1m14 0h1m7 0h1M15 33.5h1M15 34.5h1m6 0h1M22 35.5h1m26 0h1M56 36.5h1M23 37.5h1m14 0h2m16 0h1M16 38.5h1m16 0h1m4 0h1m1 0h1M33 39.5h1m7 0h1m8 0h1M26 40.5h1m5 0h1m17 0h1M28 41.5h4m18 0h1m5 0h1M56 42.5h1M19 44.5h1m21 0h1M20 45.5h1m28 0h1M21 46.5h1m18 0h1M39 47.5h1m8 0h1M24 48.5h1m12 0h1M26 49.5h1m8 0h1m11 0h1M46 50.5h1M45 51.5h1M44 52.5h1M4 53.5h1m62 0h1M41 54.5h1M1 55.5h1m37 0h1m30 0h1M11 56.5h1m17 0h7m24 0h1M9 60.5h1m5 0h1m40 0h1m5 0h1M1 61.5h1m8 0h1m50 0h1m8 0h1M6 62.5h1m4 0h1m48 0h1m4 0h1M7 63.5h1m56 0h1M8 64.5h1m54 0h1M9 65.5h1m52 0h1M1 66.5h1m68 0h1M18 67.5h1m34 0h1M5 70.5h1m4 0h1m5 0h1m38 0h1m5 0h1m4 0h1"/><path stroke="#96d060" d="M17 0.5h1m36 0h1M8 2.5h1m54 0h1M7 3.5h1m56 0h1M3 7.5h1m9 0h1m44 0h1m9 0h1M2 8.5h1m66 0h1M17 9.5h1m36 0h1M7 13.5h1m56 0h1M34 15.5h1M31 16.5h1M0 17.5h1m8 0h1m19 0h1m32 0h1m8 0h1M19 19.5h1m32 0h1M37 21.5h1m5 0h2M34 22.5h1M23 23.5h1m9 0h1m14 0h1M50 24.5h1M22 25.5h1m28 0h1M30 26.5h1m21 0h1M21 28.5h1M21 29.5h1m19 0h4m9 0h1M39 30.5h1m6 0h1M30 31.5h1m7 0h1m8 0h1m7 0h1M34 32.5h1m1 0h3m9 0h1M21 33.5h1m10 0h1m1 0h6m16 0h1M21 34.5h1m11 0h1m4 0h1M33 35.5h1m5 0h1M33 36.5h1m6 0h1m9 0h1M15 37.5h1m6 0h1m18 0h1M23 38.5h1m11 0h3M35 39.5h1m6 0h1M16 40.5h1m7 0h1m9 0h1M26 41.5h1m6 0h1M17 42.5h1m10 0h4M42 44.5h1m7 0h1M19 45.5h1M20 46.5h1m20 0h1M40 47.5h1m8 0h1M23 48.5h1m15 0h1M37 49.5h1M27 50.5h2m5 0h2m11 0h1M46 51.5h1M19 52.5h1m25 0h1M44 53.5h1M0 54.5h1m8 0h1m32 0h1m19 0h1m8 0h1M40 55.5h1M37 56.5h1M7 58.5h1m56 0h1M17 62.5h1m36 0h1M2 63.5h1m66 0h1M3 64.5h1m9 0h1m44 0h1m9 0h1M7 68.5h1m56 0h1M8 69.5h1m54 0h1M17 71.5h1m36 0h1"/><path stroke="#c6d444" d="M28 0.5h1m14 0h1M9 1.5h1m5 0h1m12 0h1m14 0h1m12 0h1m5 0h1M28 2.5h1m14 0h1M12 3.5h1m15 0h1m14 0h1m15 0h1M17 4.5h1m10 0h1m14 0h1m10 0h1M28 5.5h1m14 0h1M14 6.5h1m13 0h1m14 0h1m13 0h1M28 7.5h1m14 0h1M18 8.5h1m9 0h1m14 0h1m9 0h1M1 9.5h1m26 0h1m14 0h1m26 0h1M15 10.5h1m12 0h1m14 0h1m12 0h1M14 11.5h1m13 0h1m14 0h1m13 0h1M3 12.5h1m9 0h1m14 0h1m14 0h1m14 0h1m9 0h1M12 13.5h1m15 0h1m14 0h1m15 0h1M6 14.5h1m4 0h1m16 0h1m14 0h1m16 0h1m4 0h1M1 15.5h1m8 0h1m17 0h1m4 0h1m9 0h1m17 0h1m8 0h1M4 17.5h1m62 0h1M8 18.5h1m18 0h1m35 0h1M26 19.5h1M25 20.5h1M24 21.5h1m11 0h1m8 0h1M47 22.5h1M32 23.5h1m16 0h1M22 24.5h1m8 0h1M30 25.5h1M21 27.5h1m7 0h1m23 0h1M0 28.5h16m13 0h1m24 0h1m1 0h16M29 29.5h1m9 0h2m4 0h1M29 30.5h1m8 0h1m8 0h1m7 0h1M29 31.5h1m7 0h1M30 32.5h1m4 0h1M31 33.5h1m17 0h1M32 34.5h1m6 0h1M21 35.5h1m10 0h1m17 0h1M57 37.5h1M15 38.5h1m26 0h1m8 0h1M23 39.5h1m27 0h1M43 40.5h1m7 0h1M25 41.5h1m17 0h1m7 0h1M27 42.5h1m4 0h1m10 0h1m7 0h1M0 43.5h16m27 0h1m12 0h16M18 44.5h1M42 45.5h1m7 0h1M21 47.5h1m19 0h1M24 49.5h1m13 0h1m9 0h1M26 50.5h1m9 0h1M31 51.5h2M8 53.5h1m54 0h1M4 54.5h1m38 0h1m23 0h1M41 55.5h1M1 56.5h1m8 0h1m17 0h1m9 0h1m4 0h1m17 0h1m8 0h1M6 57.5h1m4 0h1m16 0h1m5 0h1m8 0h1m16 0h1m4 0h1M12 58.5h1m15 0h1m14 0h1m15 0h1M3 59.5h1m9 0h1m14 0h1m14 0h1m14 0h1m9 0h1M14 60.5h1m13 0h1m14 0h1m13 0h1M15 61.5h1m12 0h1m14 0h1m12 0h1M1 62.5h1m26 0h1m14 0h1m26 0h1M18 63.5h1m9 0h1m14 0h1m9 0h1M28 64.5h1m14 0h1M14 65.5h1m13 0h1m14 0h1m13 0h1M28 66.5h1m14 0h1M17 67.5h1m10 0h1m14 0h1m10 0h1M12 68.5h1m15 0h1m14 0h1m15 0h1M28 69.5h1m14 0h1M9 70.5h1m5 0h1m12 0h1m14 0h1m12 0h1m5 0h1M28 71.5h1m14 0h1"/><path stroke="#e4e13e" d="M1 0.5h1m68 0h1M0 1.5h1m3 0h1m62 0h1m3 0h1M3 2.5h1m9 0h1m44 0h1m9 0h1M2 3.5h1m66 0h1M1 4.5h1m68 0h1M9 5.5h1m5 0h1m40 0h1m5 0h1M8 6.5h1m54 0h1M7 7.5h1m56 0h1M6 8.5h1m4 0h1m48 0h1m4 0h1M5 9.5h1m4 0h1m5 0h1m38 0h1m5 0h1m4 0h1M9 10.5h1m52 0h1M8 11.5h1m54 0h1M2 13.5h1m66 0h1M17 14.5h1m18 0h2m16 0h1M5 15.5h1m10 0h1m15 0h1m22 0h1m10 0h1M9 16.5h1m5 0h1m14 0h1m25 0h1m5 0h1M14 17.5h1m13 0h1m28 0h1M38 20.5h5M35 21.5h1m10 0h1M23 22.5h1m9 0h1m14 0h1M30 24.5h1m20 0h1M52 25.5h1M21 26.5h1m7 0h1M40 28.5h5M20 29.5h1m17 0h1m7 0h1M20 30.5h1m16 0h1M20 31.5h1m15 0h1m11 0h1M20 32.5h1m8 0h1m19 0h1m6 0h1M20 33.5h1m9 0h1M14 34.5h1m16 0h1m18 0h1M14 35.5h1m25 0h1m16 0h1M21 36.5h1m19 0h1m9 0h1m5 0h1M42 37.5h1m8 0h1M22 38.5h1M15 39.5h1m20 0h1m6 0h1M35 40.5h1M16 41.5h1m7 0h1m9 0h1M26 42.5h1m6 0h1M17 43.5h1m10 0h4m19 0h1M43 44.5h1M42 46.5h1m7 0h1M22 48.5h1m17 0h1m8 0h1M39 49.5h1M25 50.5h1m11 0h1M28 51.5h3m2 0h2m12 0h1M46 52.5h1M14 54.5h1m42 0h1M9 55.5h1m5 0h1m40 0h1m5 0h1M5 56.5h1m10 0h1m22 0h1m15 0h1m10 0h1M17 57.5h1m17 0h2m17 0h1M2 58.5h1m66 0h1M8 60.5h1m54 0h1M9 61.5h1m52 0h1M5 62.5h1m4 0h1m5 0h1m38 0h1m5 0h1m4 0h1M6 63.5h1m4 0h1m48 0h1m4 0h1M7 64.5h1m56 0h1M8 65.5h1m54 0h1M9 66.5h1m5 0h1m40 0h1m5 0h1M1 67.5h1m68 0h1M2 68.5h1m66 0h1M3 69.5h1m9 0h1m44 0h1m9 0h1M0 70.5h1m3 0h1m62 0h1m3 0h1M1 71.5h1m68 0h1"/><path stroke="#c6d444" d="M5 0.5h1m4 0h1m5 0h1m5 0h1m26 0h1m5 0h1m5 0h1m4 0h1M22 1.5h1m26 0h1M22 2.5h1m26 0h1M18 3.5h1m3 0h1m26 0h1m3 0h1M5 4.5h1m4 0h1m5 0h1m5 0h1m26 0h1m5 0h1m5 0h1m4 0h1M0 5.5h1m3 0h1m17 0h1m26 0h1m17 0h1m3 0h1M22 6.5h1m26 0h1M12 7.5h1m9 0h1m26 0h1m9 0h1M17 8.5h1m4 0h1m26 0h1m4 0h1M22 9.5h1m26 0h1M0 10.5h1m3 0h1m17 0h1m26 0h1m17 0h1m3 0h1M22 11.5h1m26 0h1M7 12.5h1m14 0h1m26 0h1m14 0h1M18 13.5h1m3 0h1m26 0h1m3 0h1M22 14.5h1m12 0h1m13 0h1M22 15.5h1m8 0h1m17 0h1M0 16.5h1m3 0h1m17 0h1m6 0h1m19 0h1m17 0h1m3 0h1M8 17.5h1m13 0h1m26 0h1m13 0h1M3 18.5h1m9 0h1m8 0h1m3 0h1m22 0h1m8 0h1m9 0h1M25 19.5h1M24 20.5h1m11 0h2m5 0h2M34 21.5h1m12 0h1M0 22.5h19m13 0h1m20 0h19M22 23.5h1m8 0h1m18 0h1M21 25.5h1m7 0h1M53 26.5h1M28 27.5h1m25 0h1M20 28.5h1m7 0h1m10 0h1m5 0h1M28 29.5h1m18 0h1m7 0h1M28 30.5h1m7 0h1m11 0h1M28 31.5h1m5 0h2m20 0h1M29 33.5h1m20 0h1M20 34.5h1m9 0h1m9 0h1m16 0h1M20 35.5h1m10 0h1m9 0h1m9 0h1M14 36.5h1m17 0h1m9 0h1M21 37.5h1M43 38.5h1M22 39.5h1m14 0h1M15 40.5h1m7 0h1m12 0h1m7 0h1M35 41.5h1m8 0h1M16 42.5h1m8 0h1m8 0h1m9 0h1M27 43.5h1m4 0h1m11 0h1M51 44.5h1M18 45.5h1m24 0h1M19 46.5h1M20 47.5h1m21 0h1m7 0h1M41 48.5h1M0 49.5h19m4 0h1m29 0h19M38 50.5h1m9 0h1M27 51.5h1m7 0h1M3 53.5h1m9 0h1m8 0h1m22 0h1m3 0h1m8 0h1m9 0h1M8 54.5h1m13 0h1m21 0h1m4 0h1m13 0h1M0 55.5h1m3 0h1m17 0h1m19 0h1m6 0h1m17 0h1m3 0h1M22 56.5h1m17 0h1m8 0h1M22 57.5h1m14 0h1m11 0h1M18 58.5h1m3 0h1m26 0h1m3 0h1M7 59.5h1m14 0h1m26 0h1m14 0h1M22 60.5h1m26 0h1M0 61.5h1m3 0h1m17 0h1m26 0h1m17 0h1m3 0h1M22 62.5h1m26 0h1M17 63.5h1m4 0h1m26 0h1m4 0h1M12 64.5h1m9 0h1m26 0h1m9 0h1M22 65.5h1m26 0h1M0 66.5h1m3 0h1m17 0h1m26 0h1m17 0h1m3 0h1M5 67.5h1m4 0h1m5 0h1m5 0h1m26 0h1m5 0h1m5 0h1m4 0h1M18 68.5h1m3 0h1m26 0h1m3 0h1M22 69.5h1m26 0h1M22 70.5h1m26 0h1M5 71.5h1m4 0h1m5 0h1m5 0h1m26 0h1m5 0h1m5 0h1m4 0h1"/><path stroke="#96d060" d="M27 0.5h1m16 0h1M14 1.5h1m12 0h1m16 0h1m12 0h1M7 2.5h1m19 0h1m16 0h1m19 0h1M6 3.5h1m4 0h1m15 0h1m16 0h1m15 0h1m4 0h1M27 4.5h1m16 0h1M27 5.5h1m16 0h1M3 6.5h1m9 0h1m13 0h1m16 0h1m13 0h1m9 0h1M2 7.5h1m24 0h1m16 0h1m24 0h1M27 8.5h1m16 0h1M27 9.5h1m16 0h1M14 10.5h1m12 0h1m16 0h1m12 0h1M3 11.5h1m9 0h1m13 0h1m16 0h1m13 0h1m9 0h1M12 12.5h1m14 0h1m16 0h1m14 0h1M6 13.5h1m4 0h1m15 0h1m16 0h1m15 0h1m4 0h1M1 14.5h1m8 0h1m16 0h1m6 0h1m9 0h1m16 0h1m8 0h1M27 15.5h1m16 0h1M27 17.5h1M35 20.5h1m9 0h1M23 21.5h1m9 0h1M49 22.5h1M30 23.5h1M21 24.5h1m7 0h1M28 26.5h1M0 27.5h16m4 0h1m19 0h4m12 0h16M38 28.5h1m7 0h1m8 0h1M37 29.5h1M56 30.5h1M49 31.5h1M28 32.5h1m21 0h1M40 33.5h1M29 34.5h1m21 0h1M30 35.5h1M20 36.5h1M14 37.5h1m17 0h1m10 0h1M21 38.5h1m22 0h1m7 0h1M44 39.5h1m7 0h1M22 40.5h1m29 0h1M23 41.5h1m28 0h1M24 42.5h1m10 0h1m16 0h1M26 43.5h1m6 0h1M0 44.5h16m1 0h1m10 0h4m12 0h1m11 0h16M51 45.5h1M43 46.5h1M21 48.5h1M22 49.5h1m17 0h1m8 0h1M24 50.5h1m14 0h1M26 51.5h1m9 0h1M31 52.5h2M43 55.5h1M27 56.5h1m13 0h1m2 0h1M1 57.5h1m8 0h1m16 0h1m16 0h1m16 0h1m8 0h1M6 58.5h1m4 0h1m15 0h1m16 0h1m15 0h1m4 0h1M12 59.5h1m14 0h1m16 0h1m14 0h1M3 60.5h1m9 0h1m13 0h1m16 0h1m13 0h1m9 0h1M14 61.5h1m12 0h1m16 0h1m12 0h1M27 62.5h1m16 0h1M27 63.5h1m16 0h1M2 64.5h1m24 0h1m16 0h1m24 0h1M3 65.5h1m9 0h1m13 0h1m16 0h1m13 0h1m9 0h1M27 66.5h1m16 0h1M27 67.5h1m16 0h1M6 68.5h1m4 0h1m15 0h1m16 0h1m15 0h1m4 0h1M7 69.5h1m19 0h1m16 0h1m19 0h1M14 70.5h1m12 0h1m16 0h1m12 0h1M27 71.5h1m16 0h1"/><path stroke="#68c87c" d="M8 1.5h1m54 0h1M12 2.5h1m46 0h1M17 3.5h1m36 0h1M14 5.5h1m42 0h1M18 7.5h1m34 0h1M1 8.5h1m68 0h1M15 9.5h1m40 0h1M2 12.5h1m66 0h1M17 13.5h1m36 0h1M5 14.5h1m10 0h1m38 0h1m10 0h1M9 15.5h1m5 0h1m14 0h1m25 0h1m5 0h1M14 16.5h1m13 0h1m28 0h1M3 17.5h1m9 0h1m44 0h1m9 0h1M7 18.5h1m17 0h1m38 0h1M24 19.5h1m12 0h6M34 20.5h1m11 0h1M32 21.5h1m15 0h1M22 22.5h1m8 0h1M52 24.5h1M28 25.5h1m24 0h1M20 26.5h1m33 0h1M27 27.5h1m11 0h1m4 0h2M27 28.5h1m9 0h1m9 0h1M19 29.5h1m7 0h1m8 0h1m11 0h1M19 30.5h1m7 0h1m7 0h1m13 0h1M19 31.5h1m7 0h1M19 32.5h1M19 33.5h1m8 0h1m22 0h1M41 34.5h1M42 35.5h1M31 36.5h1m11 0h1m8 0h1M20 37.5h1m23 0h1m7 0h1M21 39.5h1M45 40.5h1M15 41.5h1m20 0h1m8 0h1M45 42.5h1M16 43.5h1m8 0h1m8 0h1m17 0h1M27 44.5h1m4 0h2M44 45.5h1M18 46.5h1m32 0h1M19 47.5h1m23 0h1M42 48.5h1m7 0h1M41 49.5h1M25 51.5h1m11 0h1m10 0h1M28 52.5h3m2 0h2m12 0h1M7 53.5h1m38 0h1m17 0h1M3 54.5h1m9 0h1m31 0h1m12 0h1m9 0h1M14 55.5h1m42 0h1M9 56.5h1m5 0h1m40 0h1m5 0h1M5 57.5h1m10 0h1m38 0h1m10 0h1M17 58.5h1m36 0h1M2 59.5h1m66 0h1M15 62.5h1m40 0h1M1 63.5h1m68 0h1M18 64.5h1m34 0h1M14 66.5h1m42 0h1M17 68.5h1m36 0h1M12 69.5h1m46 0h1M8 70.5h1m54 0h1"/><path stroke="#62c8af" d="M9 0.5h1m5 0h1m40 0h1m5 0h1M15 4.5h1m40 0h1M8 5.5h1m54 0h1M7 6.5h1m56 0h1M6 7.5h1m4 0h1m48 0h1m4 0h1M5 8.5h1m4 0h1m5 0h1m38 0h1m5 0h1m4 0h1M0 9.5h1m8 0h1m52 0h1m8 0h1M8 10.5h1m54 0h1M7 11.5h1m56 0h1M18 12.5h1m34 0h1M0 15.5h1m3 0h1m24 0h1m37 0h1m3 0h1M8 16.5h1m54 0h1M26 17.5h1M12 18.5h1m46 0h1M36 19.5h1m6 0h2M23 20.5h1m9 0h1m13 0h1M30 22.5h1m19 0h1M21 23.5h1m7 0h1m21 0h1M28 24.5h1M20 25.5h1M27 26.5h1m12 0h4M38 27.5h1m7 0h1m8 0h1M19 28.5h1M56 29.5h1M50 31.5h1M27 32.5h1M27 33.5h1M19 34.5h1m8 0h1M19 35.5h1m9 0h1m13 0h1m8 0h1M30 36.5h1M20 38.5h1m24 0h1M45 39.5h1M37 40.5h1M22 41.5h1M15 42.5h1m7 0h1m12 0h1M24 43.5h1m10 0h1m9 0h1M26 44.5h1m7 0h1m10 0h1m6 0h1M17 45.5h1m10 0h4M44 46.5h1M51 47.5h1M20 48.5h1M21 49.5h1M23 50.5h1m16 0h1m8 0h1M38 51.5h1M27 52.5h1m7 0h2M12 53.5h1m46 0h1M8 55.5h1m35 0h1m18 0h1M0 56.5h1m3 0h1m37 0h1m24 0h1m3 0h1M18 59.5h1m34 0h1M7 60.5h1m56 0h1M8 61.5h1m54 0h1M0 62.5h1m8 0h1m52 0h1m8 0h1M5 63.5h1m4 0h1m5 0h1m38 0h1m5 0h1m4 0h1M6 64.5h1m4 0h1m48 0h1m4 0h1M7 65.5h1m56 0h1M8 66.5h1m54 0h1M15 67.5h1m40 0h1M9 71.5h1m5 0h1m40 0h1m5 0h1"/><path stroke="#65c0da" d="M0 0.5h1m3 0h1m21 0h1m18 0h1m21 0h1m3 0h1M3 1.5h1m9 0h1m12 0h1m18 0h1m12 0h1m9 0h1M2 2.5h1m15 0h1m7 0h1m18 0h1m7 0h1m15 0h1M1 3.5h1m24 0h1m18 0h1m24 0h1M0 4.5h1m8 0h1m16 0h1m18 0h1m16 0h1m8 0h1M26 5.5h1m18 0h1M12 6.5h1m13 0h1m18 0h1m13 0h1M26 7.5h1m18 0h1M26 8.5h1m18 0h1M4 9.5h1m21 0h1m18 0h1m21 0h1M26 10.5h1m18 0h1M12 11.5h1m13 0h1m18 0h1m13 0h1M6 12.5h1m4 0h1m14 0h1m18 0h1m14 0h1m4 0h1M1 13.5h1m24 0h1m18 0h1m24 0h1M26 14.5h1m18 0h1M26 15.5h1m18 0h1M26 16.5h2m17 0h1M2 18.5h1m66 0h1M35 19.5h1m9 0h1M22 21.5h1m8 0h1m17 0h1M20 24.5h1m32 0h1M27 25.5h1M0 26.5h17m22 0h1m4 0h1m10 0h17M19 27.5h1m17 0h1M26 28.5h1m9 0h1m11 0h1M26 29.5h1m8 0h1m13 0h1M26 30.5h1M26 31.5h1M26 32.5h1m24 0h1M27 34.5h1m14 0h1m9 0h1M28 35.5h1M19 36.5h1m9 0h1m14 0h1M45 37.5h1M53 38.5h1M53 39.5h1M21 40.5h1m31 0h1M37 41.5h1m15 0h1M36 43.5h1M16 44.5h1m8 0h1m9 0h1M0 45.5h17m10 0h1m4 0h2m11 0h1m6 0h1m2 0h17M44 47.5h1M43 48.5h1M42 49.5h1m7 0h1M22 50.5h1M24 51.5h1m14 0h1M26 52.5h1m10 0h1M2 53.5h1m28 0h2m14 0h1m21 0h1M26 55.5h1m18 0h1M26 56.5h1m18 0h1M26 57.5h1m18 0h1M1 58.5h1m24 0h1m18 0h1m24 0h1M6 59.5h1m4 0h1m14 0h1m18 0h1m14 0h1m4 0h1M12 60.5h1m13 0h1m18 0h1m13 0h1M26 61.5h1m18 0h1M4 62.5h1m21 0h1m18 0h1m21 0h1M26 63.5h1m18 0h1M26 64.5h1m18 0h1M12 65.5h1m13 0h1m18 0h1m13 0h1M26 66.5h1m18 0h1M0 67.5h1m8 0h1m16 0h1m18 0h1m16 0h1m8 0h1M1 68.5h1m24 0h1m18 0h1m24 0h1M2 69.5h1m15 0h1m7 0h1m18 0h1m7 0h1m15 0h1M3 70.5h1m9 0h1m12 0h1m18 0h1m12 0h1m9 0h1M0 71.5h1m3 0h1m21 0h1m18 0h1m21 0h1m3 0h1"/><path stroke="#b6d34d" d="M21 0.5h1m28 0h1M21 1.5h1m28 0h1M21 2.5h1m28 0h1M5 3.5h1m4 0h1m5 0h1m4 0h1m28 0h1m4 0h1m5 0h1m4 0h1M4 4.5h1m16 0h1m28 0h1m16 0h1M3 5.5h1m9 0h1m7 0h1m28 0h1m7 0h1m9 0h1M21 6.5h1m28 0h1M17 7.5h1m3 0h1m28 0h1m3 0h1M21 8.5h1m28 0h1M14 9.5h1m6 0h1m28 0h1m6 0h1M3 10.5h1m9 0h1m7 0h1m28 0h1m7 0h1m9 0h1M21 11.5h1m28 0h1M21 12.5h1m28 0h1M5 13.5h1m4 0h1m5 0h1m4 0h1m28 0h1m4 0h1m5 0h1m4 0h1M9 14.5h1m5 0h1m5 0h1m28 0h1m5 0h1m5 0h1M14 15.5h1m6 0h1m28 0h1m6 0h1M3 16.5h1m9 0h1m7 0h1m28 0h1m7 0h1m9 0h1M7 17.5h1m13 0h1m3 0h1m24 0h1m13 0h1M18 18.5h1m2 0h1m2 0h1m12 0h6m7 0h1m2 0h1M23 19.5h1m10 0h1m11 0h1M32 20.5h1m15 0h1M0 21.5h19m11 0h1m22 0h19M21 22.5h1m7 0h1m21 0h1M28 23.5h1m23 0h1M27 24.5h1M41 25.5h2m11 0h1M19 26.5h1m6 0h1m11 0h1m6 0h1M26 27.5h1m9 0h1m10 0h1M35 28.5h1M18 30.5h1m15 0h1m15 0h1M18 31.5h1m32 0h1M18 32.5h1M18 33.5h1m7 0h1m14 0h1m10 0h1M43 34.5h1M27 35.5h1m16 0h1M45 36.5h1m7 0h1M19 37.5h1m11 0h1m21 0h1M46 38.5h1M20 39.5h1m25 0h1M46 40.5h1M21 41.5h1m24 0h1M22 42.5h1m14 0h1m8 0h1m6 0h1M23 43.5h1m22 0h1m6 0h1M24 44.5h1M26 45.5h1m7 0h1M17 46.5h1m11 0h3m13 0h1m6 0h1M18 47.5h1M19 48.5h1m31 0h1M0 50.5h19m22 0h1m11 0h19M23 51.5h1m16 0h1m8 0h1M25 52.5h1m12 0h1m9 0h1M18 53.5h1m2 0h1m7 0h2m2 0h3m14 0h1m2 0h1M7 54.5h1m13 0h1m24 0h1m3 0h1m13 0h1M3 55.5h1m9 0h1m7 0h1m28 0h1m7 0h1m9 0h1M14 56.5h1m6 0h1m28 0h1m6 0h1M9 57.5h1m5 0h1m5 0h1m28 0h1m5 0h1m5 0h1M5 58.5h1m4 0h1m5 0h1m4 0h1m28 0h1m4 0h1m5 0h1m4 0h1M21 59.5h1m28 0h1M21 60.5h1m28 0h1M3 61.5h1m9 0h1m7 0h1m28 0h1m7 0h1m9 0h1M14 62.5h1m6 0h1m28 0h1m6 0h1M21 63.5h1m28 0h1M17 64.5h1m3 0h1m28 0h1m3 0h1M21 65.5h1m28 0h1M3 66.5h1m9 0h1m7 0h1m28 0h1m7 0h1m9 0h1M4 67.5h1m16 0h1m28 0h1m16 0h1M5 68.5h1m4 0h1m5 0h1m4 0h1m28 0h1m4 0h1m5 0h1m4 0h1M21 69.5h1m28 0h1M21 70.5h1m28 0h1M21 71.5h1m28 0h1"/><path stroke="#f2c020" d="M14 0.5h1m42 0h1M7 1.5h1m56 0h1M6 2.5h1m4 0h1m48 0h1m4 0h1M14 4.5h1m42 0h1M2 6.5h1m15 0h1m34 0h1m15 0h1M1 7.5h1m68 0h1M15 8.5h1m40 0h1M2 11.5h1m15 0h1m34 0h1m15 0h1M17 12.5h1m36 0h1M0 14.5h1m3 0h1m62 0h1m3 0h1M8 15.5h1m54 0h1M12 17.5h1m46 0h1M6 18.5h1m4 0h1m24 0h1m6 0h2m15 0h1m4 0h1M33 19.5h1M22 20.5h1m8 0h1M50 21.5h1M20 23.5h1M19 25.5h1m6 0h1m12 0h2m2 0h2M37 26.5h1m8 0h1M48 27.5h1M18 28.5h1m6 0h1m23 0h1M18 29.5h1m6 0h1m8 0h1m15 0h1M25 30.5h1M25 31.5h1M25 32.5h1m26 0h1M42 33.5h1M18 34.5h1m7 0h1M18 35.5h1m34 0h1M28 36.5h1M29 37.5h2m15 0h1M19 38.5h1M20 40.5h1M37 43.5h1M36 44.5h1m9 0h1m6 0h1M25 45.5h1m9 0h1m10 0h1M27 46.5h2m3 0h2M52 47.5h1M44 48.5h1M20 49.5h1m22 0h1M21 50.5h1m20 0h1m7 0h1M39 52.5h1M6 53.5h1m4 0h1m15 0h2m7 0h1m23 0h1m4 0h1M12 54.5h1m46 0h1M8 56.5h1m54 0h1M0 57.5h1m3 0h1m62 0h1m3 0h1M17 59.5h1m36 0h1M2 60.5h1m15 0h1m34 0h1m15 0h1M15 63.5h1m40 0h1M1 64.5h1m68 0h1M2 65.5h1m15 0h1m34 0h1m15 0h1M14 67.5h1m42 0h1M6 69.5h1m4 0h1m48 0h1m4 0h1M7 70.5h1m56 0h1M14 71.5h1m42 0h1"/><path stroke="#e96a27" d="M8 0.5h1m16 0h1m20 0h1m16 0h1M12 1.5h1m12 0h1m20 0h1m12 0h1M17 2.5h1m7 0h1m20 0h1m7 0h1M25 3.5h1m20 0h1M25 4.5h1m20 0h1M7 5.5h1m17 0h1m20 0h1m17 0h1M6 6.5h1m18 0h1m20 0h1m18 0h1M5 7.5h1m4 0h1m5 0h1m8 0h1m20 0h1m8 0h1m5 0h1m4 0h1M0 8.5h1m8 0h1m15 0h1m20 0h1m15 0h1m8 0h1M8 9.5h1m16 0h1m20 0h1m16 0h1M7 10.5h1m17 0h1m20 0h1m17 0h1M25 11.5h1m20 0h1M1 12.5h1m23 0h1m20 0h1m23 0h1M25 13.5h1m20 0h1M25 14.5h1m20 0h1M25 15.5h1m20 0h1M7 16.5h1m17 0h1m20 0h1m17 0h1M2 17.5h1m66 0h1M35 18.5h1m9 0h1M32 19.5h1m14 0h1M49 20.5h1M21 21.5h1m7 0h1M28 22.5h1M27 23.5h1M19 24.5h1M0 25.5h17m20 0h2m6 0h1m9 0h17M36 26.5h1m10 0h1M18 27.5h1m6 0h1m9 0h1M34 28.5h1M51 30.5h1M25 33.5h1M44 34.5h1m8 0h1M26 35.5h1m18 0h1M18 36.5h1m8 0h1m18 0h1M28 37.5h1M54 38.5h1M19 39.5h1m27 0h1m6 0h1M38 40.5h1m8 0h1m6 0h1M20 41.5h1m17 0h1m8 0h1M21 42.5h1m16 0h1m8 0h1M22 43.5h1m24 0h1M23 44.5h1m13 0h1M24 45.5h1m11 0h1m16 0h1M0 46.5h17m9 0h1m7 0h1m20 0h17M30 47.5h1m14 0h1M51 49.5h1M22 51.5h1m18 0h1M24 52.5h1m24 0h1M26 53.5h1m10 0h1M2 54.5h1m66 0h1M7 55.5h1m17 0h1m20 0h1m17 0h1M25 56.5h1m20 0h1M25 57.5h1m20 0h1M25 58.5h1m20 0h1M1 59.5h1m23 0h1m20 0h1m23 0h1M25 60.5h1m20 0h1M7 61.5h1m17 0h1m20 0h1m17 0h1M8 62.5h1m16 0h1m20 0h1m16 0h1M0 63.5h1m8 0h1m15 0h1m20 0h1m15 0h1m8 0h1M5 64.5h1m4 0h1m5 0h1m8 0h1m20 0h1m8 0h1m5 0h1m4 0h1M6 65.5h1m18 0h1m20 0h1m18 0h1M7 66.5h1m17 0h1m20 0h1m17 0h1M25 67.5h1m20 0h1M25 68.5h1m20 0h1M17 69.5h1m7 0h1m20 0h1m7 0h1M12 70.5h1m12 0h1m20 0h1m12 0h1M8 71.5h1m16 0h1m20 0h1m16 0h1"/><path stroke="#e02e2e" d="M15 3.5h1m40 0h1M8 4.5h1m54 0h1M12 5.5h1m46 0h1M11 6.5h1m48 0h1M4 8.5h1m62 0h1M13 9.5h1m44 0h1M12 10.5h1m46 0h1M6 11.5h1m4 0h1m48 0h1m4 0h1M5 12.5h1m4 0h1m5 0h1m38 0h1m5 0h1m4 0h1M9 13.5h1m5 0h1m40 0h1m5 0h1M14 14.5h1m42 0h1M3 15.5h1m9 0h1m44 0h1m9 0h1M12 16.5h1m46 0h1M18 17.5h1m18 0h5m11 0h1M17 18.5h1m16 0h1m19 0h1M22 19.5h1m25 0h1M30 20.5h1M51 21.5h1M20 22.5h1m31 0h1M26 24.5h1m12 0h5M46 25.5h1M18 26.5h1m6 0h1m9 0h1M34 27.5h1m14 0h1M50 28.5h1M24 29.5h1M17 30.5h1m6 0h1M17 31.5h1m6 0h1m27 0h1M17 32.5h1M17 33.5h1m25 0h1m9 0h1M25 34.5h1m19 0h1M46 35.5h1M26 36.5h1m27 0h1M18 37.5h1m8 0h1m19 0h1m6 0h1M30 38.5h1m16 0h1M19 40.5h1M54 41.5h1M54 42.5h1M38 43.5h1M47 44.5h1M25 46.5h1m9 0h1m10 0h1m6 0h1M28 47.5h2m1 0h3M45 48.5h1m6 0h1M19 49.5h1m24 0h1M20 50.5h1m22 0h1M50 51.5h1M40 52.5h1M17 53.5h1m20 0h1m15 0h1M18 54.5h1m10 0h6m18 0h1M12 55.5h1m46 0h1M3 56.5h1m9 0h1m44 0h1m9 0h1M14 57.5h1m42 0h1M9 58.5h1m5 0h1m40 0h1m5 0h1M5 59.5h1m4 0h1m5 0h1m38 0h1m5 0h1m4 0h1M6 60.5h1m4 0h1m48 0h1m4 0h1M12 61.5h1m46 0h1M13 62.5h1m44 0h1M4 63.5h1m62 0h1M11 65.5h1m48 0h1M12 66.5h1m46 0h1M8 67.5h1m54 0h1M15 68.5h1m40 0h1"/><path stroke="#bd1e2a" d="M3 0.5h1m9 0h1m20 0h4m20 0h1m9 0h1M2 1.5h1m15 0h1m15 0h4m15 0h1m15 0h1M1 2.5h1m32 0h4m32 0h1M0 3.5h1m8 0h1m24 0h4m24 0h1m8 0h1M34 4.5h4M34 5.5h4M17 6.5h1m16 0h4m16 0h1M34 7.5h4M14 8.5h1m19 0h4m19 0h1M3 9.5h1m30 0h4m30 0h1M34 10.5h4M17 11.5h1m16 0h4m16 0h1M34 12.5h4M0 13.5h1m33 0h4m33 0h1M8 14.5h1m54 0h1M6 17.5h1m4 0h1m24 0h1m5 0h2m16 0h1m4 0h1M1 18.5h1m31 0h1m12 0h1m23 0h1M31 19.5h1M21 20.5h1m7 0h1m20 0h1M28 21.5h1M27 22.5h1M19 23.5h1m6 0h1M37 24.5h2m5 0h2M18 25.5h1m6 0h1m10 0h1m10 0h1M48 26.5h1M24 27.5h1M17 28.5h1m6 0h1m8 0h1M17 29.5h1m15 0h1m17 0h1M33 30.5h1m18 0h1M24 32.5h1m17 0h1m10 0h1M24 33.5h1m19 0h1M0 34.5h14m3 0h1m40 0h14M0 35.5h14m3 0h1m7 0h1m28 0h1m3 0h14M0 36.5h14m33 0h1m10 0h14M0 37.5h14m44 0h14M18 38.5h1m9 0h2m1 0h1M38 39.5h1M39 41.5h1M20 42.5h1M21 43.5h1m32 0h1M22 44.5h1m15 0h1m15 0h1M23 45.5h1m13 0h1m9 0h1M24 46.5h1m11 0h1M27 47.5h1m6 0h1m11 0h1m6 0h1M51 50.5h1M21 51.5h1m20 0h1M23 52.5h1m17 0h1M1 53.5h1m23 0h1m13 0h1m30 0h1M6 54.5h1m4 0h1m16 0h1m6 0h2m23 0h1m4 0h1M8 57.5h1m54 0h1M0 58.5h1m33 0h4m33 0h1M34 59.5h4M17 60.5h1m16 0h4m16 0h1M34 61.5h4M3 62.5h1m30 0h4m30 0h1M14 63.5h1m19 0h4m19 0h1M34 64.5h4M17 65.5h1m16 0h4m16 0h1M34 66.5h4M34 67.5h4M0 68.5h1m8 0h1m24 0h4m24 0h1m8 0h1M1 69.5h1m32 0h4m32 0h1M2 70.5h1m15 0h1m15 0h4m15 0h1m15 0h1M3 71.5h1m9 0h1m20 0h4m20 0h1m9 0h1"/></g><rect x="226.5" y="2378" width="291.5" height="291.5" fill="none" stroke="#444" stroke-width="1.5"/><text transform="translate(205.5,2406.5) scale(0.95,1)" text-anchor="end" font-size="56">10</text><text transform="translate(205.5,2545.2) scale(0.95,1)" text-anchor="end" font-size="56">0</text><text transform="translate(205.5,2682) scale(0.95,1)" text-anchor="end" font-size="56">−10</text><text transform="translate(246.5,2730.5) scale(0.95,1)" text-anchor="middle" font-size="56">−10</text><text transform="translate(374.2,2730.5) scale(0.95,1)" text-anchor="middle" font-size="56">0</text><text transform="translate(500,2730.5) scale(0.95,1)" text-anchor="middle" font-size="56">10</text><text transform="translate(83.5,2523.8) rotate(-90)" text-anchor="middle" font-size="56"><tspan font-style="italic">y</tspan>/μm</text><text transform="translate(363.2,2789.5)" text-anchor="middle" font-size="56"><tspan font-style="italic">x</tspan>/μm</text><text transform="translate(362.2,2865.5)" text-anchor="middle" font-size="56"><tspan font-style="italic">z</tspan>=10 μm</text><text transform="translate(363.2,2945.5)" text-anchor="middle" font-size="56">(a3)</text><g transform="translate(713,2378) scale(4.04861)" shape-rendering="crispEdges" stroke-width="1.04" fill="none"><rect width="72" height="72" fill="#65c0da"/><path stroke="#2e3d89" d="M5 0.5h1m60 0h1M4 1.5h1m9 0h1m42 0h1m9 0h1M3 2.5h1m8 0h1m46 0h1m8 0h1M2 3.5h1m8 0h1m48 0h1m8 0h1M1 4.5h1m21 0h1m24 0h1m21 0h1M0 5.5h1m20 0h1m28 0h1m20 0h1M19 6.5h1m32 0h1M16 8.5h1m38 0h1M3 11.5h1m8 0h1m46 0h1m8 0h1M2 12.5h1m8 0h1m48 0h1m8 0h1M1 14.5h1m21 0h1m24 0h1m21 0h1M21 15.5h1m28 0h1M8 16.5h1m11 0h1m30 0h1m11 0h1M19 17.5h1m32 0h1M18 18.5h1m34 0h1M6 19.5h1m10 0h1m36 0h1m10 0h1M16 20.5h1m38 0h1M5 21.5h1m9 0h1m40 0h1m9 0h1M4 23.5h1m9 0h1m42 0h1m9 0h1M29 24.5h1M28 25.5h1M37 26.5h2m3 0h1M27 27.5h1M46 28.5h1M26 29.5h1m20 0h1M26 30.5h1M34 31.5h1M26 33.5h1m14 0h1M26 34.5h1M27 36.5h1m17 0h1M28 37.5h1M24 42.5h1m13 0h1M25 43.5h1m19 0h1M29 45.5h1m4 0h1m9 0h1M4 48.5h1m9 0h1m42 0h1m9 0h1M5 50.5h1m9 0h1m40 0h1m9 0h1M16 51.5h1m38 0h1M6 52.5h1m10 0h1m36 0h1m10 0h1M18 53.5h1m34 0h1M19 54.5h1m32 0h1M8 55.5h1m11 0h1m30 0h1m11 0h1M21 56.5h1m28 0h1M1 57.5h1m21 0h1m24 0h1m21 0h1M2 59.5h1m8 0h1m48 0h1m8 0h1M3 60.5h1m8 0h1m46 0h1m8 0h1M16 63.5h1m38 0h1M19 65.5h1m32 0h1M0 66.5h1m20 0h1m28 0h1m20 0h1M1 67.5h1m21 0h1m24 0h1m21 0h1M2 68.5h1m8 0h1m48 0h1m8 0h1M3 69.5h1m8 0h1m46 0h1m8 0h1M4 70.5h1m9 0h1m42 0h1m9 0h1M5 71.5h1m60 0h1"/><path stroke="#364fa1" d="M15 0.5h1m15 0h1m8 0h1m15 0h1M13 1.5h1m17 0h1m8 0h1m17 0h1M31 2.5h1m8 0h1M31 3.5h1m8 0h1M9 4.5h1m12 0h1m8 0h1m8 0h1m8 0h1m12 0h1M8 5.5h1m11 0h1m10 0h1m8 0h1m10 0h1m11 0h1M7 6.5h1m10 0h1m12 0h1m8 0h1m12 0h1m10 0h1M6 7.5h1m10 0h1m13 0h1m8 0h1m13 0h1m10 0h1M5 8.5h1m9 0h1m15 0h1m8 0h1m15 0h1m9 0h1M4 9.5h1m9 0h1m16 0h1m8 0h1m16 0h1m9 0h1M13 10.5h1m17 0h1m8 0h1m17 0h1M31 11.5h1m8 0h1M31 12.5h1m8 0h1M1 13.5h1m8 0h1m20 0h1m8 0h1m20 0h1m8 0h1M9 14.5h1m12 0h1m8 0h1m8 0h1m8 0h1m12 0h1M0 15.5h1m7 0h1m22 0h1m8 0h1m22 0h1m7 0h1M19 16.5h1m11 0h1m8 0h1m11 0h1M7 17.5h1m10 0h1m12 0h1m8 0h1m12 0h1m10 0h1M6 18.5h1m10 0h1m13 0h1m8 0h1m13 0h1m10 0h1M16 19.5h1m14 0h1m8 0h1m14 0h1M5 20.5h1m25 0h1m8 0h1m25 0h1M31 21.5h1m8 0h1M4 22.5h1m9 0h1m16 0h1m8 0h1m16 0h1m9 0h1M31 23.5h1m8 0h1M27 26.5h1m8 0h1m6 0h1M35 27.5h1m9 0h1M26 28.5h1m7 0h1M0 31.5h24m24 0h24M40 33.5h1m1 0h1M44 34.5h1M26 35.5h1M32 37.5h1M29 38.5h3M37 39.5h2m7 0h1M0 40.5h24m22 0h1m1 0h24M38 43.5h1M26 44.5h1m10 0h1M28 45.5h1m6 0h1M31 48.5h1m8 0h1M4 49.5h1m9 0h1m16 0h1m8 0h1m16 0h1m9 0h1M31 50.5h1m8 0h1M5 51.5h1m25 0h1m8 0h1m25 0h1M16 52.5h1m14 0h1m8 0h1m14 0h1M6 53.5h1m10 0h1m13 0h1m8 0h1m13 0h1m10 0h1M7 54.5h1m10 0h1m12 0h1m8 0h1m12 0h1m10 0h1M19 55.5h1m11 0h1m8 0h1m11 0h1M0 56.5h1m7 0h1m22 0h1m8 0h1m22 0h1m7 0h1M9 57.5h1m12 0h1m8 0h1m8 0h1m8 0h1m12 0h1M1 58.5h1m8 0h1m20 0h1m8 0h1m20 0h1m8 0h1M31 59.5h1m8 0h1M31 60.5h1m8 0h1M13 61.5h1m17 0h1m8 0h1m17 0h1M4 62.5h1m9 0h1m16 0h1m8 0h1m16 0h1m9 0h1M5 63.5h1m9 0h1m15 0h1m8 0h1m15 0h1m9 0h1M6 64.5h1m10 0h1m13 0h1m8 0h1m13 0h1m10 0h1M7 65.5h1m10 0h1m12 0h1m8 0h1m12 0h1m10 0h1M8 66.5h1m11 0h1m10 0h1m8 0h1m10 0h1m11 0h1M9 67.5h1m12 0h1m8 0h1m8 0h1m8 0h1m12 0h1M31 68.5h1m8 0h1M31 69.5h1m8 0h1M13 70.5h1m17 0h1m8 0h1m17 0h1M15 71.5h1m15 0h1m8 0h1m15 0h1"/><path stroke="#405db2" d="M4 0.5h1m9 0h1m42 0h1m9 0h1M3 1.5h1m64 0h1M2 2.5h1m8 0h1m48 0h1m8 0h1M1 3.5h1m8 0h1m50 0h1m8 0h1M0 4.5h1m20 0h1m28 0h1m20 0h1M19 5.5h1m32 0h1M16 7.5h1m38 0h1M3 10.5h1m8 0h1m46 0h1m8 0h1M2 11.5h1m8 0h1m48 0h1m8 0h1M10 12.5h1m50 0h1M23 13.5h1m24 0h1M0 14.5h1m20 0h1m28 0h1m20 0h1M20 15.5h1m30 0h1M7 16.5h1m56 0h1M5 19.5h1m60 0h1M15 20.5h1m40 0h1M4 21.5h1m9 0h1m42 0h1m9 0h1M13 23.5h1m44 0h1M39 25.5h2M44 26.5h1M34 27.5h1M47 28.5h1M33 29.5h1M33 30.5h1M25 31.5h1m7 0h1M25 32.5h1m8 0h1M43 33.5h1M45 35.5h1M27 37.5h1m5 0h1m12 0h1M28 38.5h1m3 0h1m13 0h1M39 40.5h1M39 41.5h1m6 0h1M24 43.5h1M45 44.5h1M27 45.5h1m8 0h1M30 46.5h4m10 0h1M43 47.5h1M13 48.5h1m44 0h1M4 50.5h1m9 0h1m42 0h1m9 0h1M15 51.5h1m40 0h1M5 52.5h1m60 0h1M7 55.5h1m56 0h1M20 56.5h1m30 0h1M0 57.5h1m20 0h1m28 0h1m20 0h1M23 58.5h1m24 0h1M10 59.5h1m50 0h1M2 60.5h1m8 0h1m48 0h1m8 0h1M3 61.5h1m8 0h1m46 0h1m8 0h1M16 64.5h1m38 0h1M19 66.5h1m32 0h1M0 67.5h1m20 0h1m28 0h1m20 0h1M1 68.5h1m8 0h1m50 0h1m8 0h1M2 69.5h1m8 0h1m48 0h1m8 0h1M3 70.5h1m64 0h1M4 71.5h1m9 0h1m42 0h1m9 0h1"/><path stroke="#3e8ed0" d="M12 1.5h1m46 0h1M23 3.5h1m24 0h1M8 4.5h1m11 0h1m30 0h1m11 0h1M7 5.5h1m56 0h1M6 6.5h1m10 0h1m36 0h1m10 0h1M5 7.5h1m9 0h1m40 0h1m9 0h1M4 8.5h1m9 0h1m42 0h1m9 0h1M13 9.5h1m44 0h1M1 12.5h1m21 0h1m24 0h1m21 0h1M9 13.5h1m12 0h1m26 0h1m12 0h1M8 14.5h1m11 0h1m30 0h1m11 0h1M7 15.5h1m11 0h1m32 0h1m11 0h1M18 16.5h1m34 0h1M6 17.5h1m10 0h1m36 0h1m10 0h1M16 18.5h1m38 0h1M15 19.5h1m40 0h1M4 20.5h1m9 0h1m42 0h1m9 0h1M13 22.5h1m44 0h1M3 23.5h1m8 0h1m46 0h1m8 0h1M28 24.5h1M27 25.5h1m9 0h2m2 0h2M35 26.5h1M26 27.5h1m19 0h1M33 28.5h1M25 30.5h1M33 32.5h1m6 0h3M25 33.5h1m8 0h2m3 0h1m4 0h1M25 34.5h1m8 0h6M34 35.5h5M26 36.5h1m6 0h5m8 0h1M34 37.5h5M33 38.5h1m3 0h2M30 39.5h2m7 0h1M39 42.5h1m6 0h1M25 44.5h1m12 0h1M37 45.5h1m7 0h1M29 46.5h1m4 0h2M3 48.5h1m8 0h1m46 0h1m8 0h1M13 49.5h1m44 0h1M4 51.5h1m9 0h1m42 0h1m9 0h1M15 52.5h1m40 0h1M16 53.5h1m38 0h1M6 54.5h1m10 0h1m36 0h1m10 0h1M18 55.5h1m34 0h1M7 56.5h1m11 0h1m32 0h1m11 0h1M8 57.5h1m11 0h1m30 0h1m11 0h1M9 58.5h1m12 0h1m26 0h1m12 0h1M1 59.5h1m21 0h1m24 0h1m21 0h1M13 62.5h1m44 0h1M4 63.5h1m9 0h1m42 0h1m9 0h1M5 64.5h1m9 0h1m40 0h1m9 0h1M6 65.5h1m10 0h1m36 0h1m10 0h1M7 66.5h1m56 0h1M8 67.5h1m11 0h1m30 0h1m11 0h1M23 68.5h1m24 0h1M12 70.5h1m46 0h1"/><path stroke="#62c8af" d="M3 0.5h1m64 0h1M2 1.5h1m8 0h1m48 0h1m8 0h1M1 2.5h1m21 0h1m24 0h1m21 0h1M0 3.5h1m20 0h1m28 0h1m20 0h1M7 4.5h1m11 0h1m32 0h1m11 0h1M6 5.5h1m10 0h1m36 0h1m10 0h1M5 6.5h1m60 0h1M4 7.5h1m9 0h1m42 0h1m9 0h1M13 8.5h1m44 0h1M1 11.5h1m21 0h1m24 0h1m21 0h1M21 12.5h1m28 0h1M8 13.5h1m11 0h1m30 0h1m11 0h1M7 14.5h1m56 0h1M16 16.5h1m38 0h1M5 17.5h1m60 0h1M4 19.5h1m62 0h1M13 20.5h1m44 0h1M3 21.5h1m8 0h1m46 0h1m8 0h1M2 23.5h1m8 0h1m48 0h1m8 0h1M35 25.5h1M34 26.5h1M47 27.5h1M25 28.5h1m6 0h1M41 31.5h1M32 32.5h1m3 0h3M32 33.5h1m12 0h1M39 35.5h1m6 0h1M25 36.5h1m6 0h1m6 0h1M39 37.5h1M47 38.5h1M28 39.5h1m5 0h1m5 0h1m6 0h1M30 40.5h2m15 0h1M40 41.5h1m6 0h1M40 42.5h1M24 44.5h1m14 0h1m6 0h1M38 45.5h1M27 46.5h1m8 0h1M31 47.5h3m10 0h1M2 48.5h1m8 0h1m48 0h1m8 0h1M3 50.5h1m8 0h1m46 0h1m8 0h1M13 51.5h1m44 0h1M4 52.5h1m62 0h1M5 54.5h1m60 0h1M16 55.5h1m38 0h1M7 57.5h1m56 0h1M8 58.5h1m11 0h1m30 0h1m11 0h1M21 59.5h1m28 0h1M1 60.5h1m21 0h1m24 0h1m21 0h1M13 63.5h1m44 0h1M4 64.5h1m9 0h1m42 0h1m9 0h1M5 65.5h1m60 0h1M6 66.5h1m10 0h1m36 0h1m10 0h1M7 67.5h1m11 0h1m32 0h1m11 0h1M0 68.5h1m20 0h1m28 0h1m20 0h1M1 69.5h1m21 0h1m24 0h1m21 0h1M2 70.5h1m8 0h1m48 0h1m8 0h1M3 71.5h1m64 0h1"/><path stroke="#68c87c" d="M12 0.5h1m46 0h1M9 2.5h1m12 0h1m26 0h1m12 0h1M8 3.5h1m11 0h1m30 0h1m11 0h1M18 4.5h1m34 0h1M16 5.5h1m38 0h1M15 6.5h1m40 0h1M3 8.5h1m8 0h1m46 0h1m8 0h1M2 9.5h1m8 0h1m48 0h1m8 0h1M10 10.5h1m50 0h1M9 11.5h1m12 0h1m26 0h1m12 0h1M0 12.5h1m7 0h1m54 0h1m7 0h1M19 13.5h1m32 0h1M18 14.5h1m34 0h1M6 15.5h1m10 0h1m36 0h1m10 0h1M5 16.5h1m60 0h1M15 17.5h1m40 0h1M4 18.5h1m9 0h1m42 0h1m9 0h1M13 19.5h1m44 0h1M3 20.5h1m64 0h1M2 22.5h1m8 0h1m48 0h1m8 0h1M27 24.5h1m9 0h5M26 25.5h1m17 0h1M33 26.5h1m12 0h1M25 27.5h1M24 30.5h1m6 0h1M24 31.5h1m6 0h1m7 0h2m1 0h1M24 32.5h1m19 0h1M24 33.5h1M24 34.5h1m7 0h1m13 0h1M47 36.5h1M47 37.5h1M26 38.5h1m13 0h1M27 39.5h1m7 0h1M29 40.5h1m2 0h2M47 42.5h1M40 43.5h1M25 45.5h1M37 46.5h1m7 0h1M29 47.5h2m3 0h2M2 49.5h1m8 0h1m48 0h1m8 0h1M3 51.5h1m64 0h1M13 52.5h1m44 0h1M4 53.5h1m9 0h1m42 0h1m9 0h1M15 54.5h1m40 0h1M5 55.5h1m60 0h1M6 56.5h1m10 0h1m36 0h1m10 0h1M18 57.5h1m34 0h1M19 58.5h1m32 0h1M0 59.5h1m7 0h1m54 0h1m7 0h1M9 60.5h1m12 0h1m26 0h1m12 0h1M10 61.5h1m50 0h1M2 62.5h1m8 0h1m48 0h1m8 0h1M3 63.5h1m8 0h1m46 0h1m8 0h1M15 65.5h1m40 0h1M16 66.5h1m38 0h1M18 67.5h1m34 0h1M8 68.5h1m11 0h1m30 0h1m11 0h1M9 69.5h1m12 0h1m26 0h1m12 0h1M12 71.5h1m46 0h1"/><path stroke="#96d060" d="M2 0.5h1m66 0h1M1 1.5h1m8 0h1m50 0h1m8 0h1M0 2.5h1m20 0h1m28 0h1m20 0h1M19 3.5h1m32 0h1M17 4.5h1m36 0h1M14 6.5h1m42 0h1M13 7.5h1m44 0h1M1 10.5h1m21 0h1m24 0h1m21 0h1M21 11.5h1m28 0h1M20 12.5h1m30 0h1M7 13.5h1m10 0h1m34 0h1m10 0h1M6 14.5h1m10 0h1m36 0h1m10 0h1M16 15.5h1m38 0h1M15 16.5h1m40 0h1M4 17.5h1m9 0h1m42 0h1m9 0h1M13 18.5h1m44 0h1M3 19.5h1m64 0h1M12 20.5h1m46 0h1M2 21.5h1m8 0h1m48 0h1m8 0h1M10 23.5h1m50 0h1M36 24.5h1m5 0h1M34 25.5h1m10 0h1M32 27.5h1M24 29.5h1m6 0h1M37 31.5h2m4 0h1M31 32.5h1M31 33.5h1M24 35.5h1m7 0h1M25 37.5h1m14 0h1M36 39.5h1m4 0h1M28 40.5h1m5 0h1m6 0h1M41 41.5h1M47 43.5h1M39 45.5h1m6 0h1M26 46.5h1M10 48.5h1m50 0h1M2 50.5h1m8 0h1m48 0h1m8 0h1M12 51.5h1m46 0h1M3 52.5h1m64 0h1M13 53.5h1m44 0h1M4 54.5h1m9 0h1m42 0h1m9 0h1M15 55.5h1m40 0h1M16 56.5h1m38 0h1M6 57.5h1m10 0h1m36 0h1m10 0h1M7 58.5h1m10 0h1m34 0h1m10 0h1M20 59.5h1m30 0h1M21 60.5h1m28 0h1M1 61.5h1m21 0h1m24 0h1m21 0h1M13 64.5h1m44 0h1M14 65.5h1m42 0h1M17 67.5h1m36 0h1M19 68.5h1m32 0h1M0 69.5h1m20 0h1m28 0h1m20 0h1M1 70.5h1m8 0h1m50 0h1m8 0h1M2 71.5h1m66 0h1"/><path stroke="#c6d444" d="M11 0.5h1m17 0h1m12 0h1m17 0h1M23 1.5h1m5 0h1m12 0h1m5 0h1M8 2.5h1m11 0h1m8 0h1m12 0h1m8 0h1m11 0h1M7 3.5h1m10 0h1m10 0h1m12 0h1m10 0h1m10 0h1M6 4.5h1m22 0h1m12 0h1m22 0h1M5 5.5h1m9 0h1m13 0h1m12 0h1m13 0h1m9 0h1M4 6.5h1m24 0h1m12 0h1m24 0h1M3 7.5h1m25 0h1m12 0h1m25 0h1M2 8.5h1m8 0h1m17 0h1m12 0h1m17 0h1m8 0h1M10 9.5h1m18 0h1m12 0h1m18 0h1M9 10.5h1m12 0h1m6 0h1m12 0h1m6 0h1m12 0h1M0 11.5h1m7 0h1m11 0h1m8 0h1m12 0h1m8 0h1m11 0h1m7 0h1M19 12.5h1m9 0h1m12 0h1m9 0h1M29 13.5h1m12 0h1M29 14.5h1m12 0h1M5 15.5h1m9 0h1m13 0h1m12 0h1m13 0h1m9 0h1M29 16.5h1m12 0h1M29 17.5h1m12 0h1M3 18.5h1m25 0h1m12 0h1m25 0h1M12 19.5h1m16 0h1m12 0h1m16 0h1M2 20.5h1m8 0h1m17 0h1m12 0h1m17 0h1m8 0h1M29 21.5h1m12 0h1M10 22.5h1m18 0h1m12 0h1m18 0h1M1 23.5h1m21 0h1m5 0h1m12 0h1m5 0h1m21 0h1M35 24.5h1m7 0h1M25 26.5h1m21 0h1M24 28.5h1m6 0h1M0 29.5h24m24 0h24M39 30.5h4M44 31.5h1M45 32.5h1M46 33.5h1M31 34.5h1M47 35.5h1M24 36.5h1m15 0h1M41 38.5h1M26 39.5h1M27 40.5h1M29 41.5h4M0 42.5h24m17 0h1m6 0h24M40 44.5h1M24 45.5h1M38 46.5h1M28 47.5h1m7 0h1m8 0h1M1 48.5h1m21 0h1m5 0h1m12 0h1m5 0h1m21 0h1M10 49.5h1m18 0h1m12 0h1m18 0h1M29 50.5h1m12 0h1M2 51.5h1m8 0h1m17 0h1m12 0h1m17 0h1m8 0h1M12 52.5h1m16 0h1m12 0h1m16 0h1M3 53.5h1m25 0h1m12 0h1m25 0h1M29 54.5h1m12 0h1M29 55.5h1m12 0h1M5 56.5h1m9 0h1m13 0h1m12 0h1m13 0h1m9 0h1M29 57.5h1m12 0h1M29 58.5h1m12 0h1M19 59.5h1m9 0h1m12 0h1m9 0h1M0 60.5h1m7 0h1m11 0h1m8 0h1m12 0h1m8 0h1m11 0h1m7 0h1M9 61.5h1m12 0h1m6 0h1m12 0h1m6 0h1m12 0h1M10 62.5h1m18 0h1m12 0h1m18 0h1M2 63.5h1m8 0h1m17 0h1m12 0h1m17 0h1m8 0h1M3 64.5h1m25 0h1m12 0h1m25 0h1M4 65.5h1m24 0h1m12 0h1m24 0h1M5 66.5h1m9 0h1m13 0h1m12 0h1m13 0h1m9 0h1M6 67.5h1m22 0h1m12 0h1m22 0h1M7 68.5h1m10 0h1m10 0h1m12 0h1m10 0h1m10 0h1M8 69.5h1m11 0h1m8 0h1m12 0h1m8 0h1m11 0h1M23 70.5h1m5 0h1m12 0h1m5 0h1M11 71.5h1m17 0h1m12 0h1m17 0h1"/><path stroke="#e4e13e" d="M10 0.5h1m50 0h1M9 1.5h1m12 0h1m26 0h1m12 0h1M16 4.5h1m38 0h1M13 6.5h1m44 0h1M12 7.5h1m46 0h1M1 9.5h1m21 0h1m24 0h1m21 0h1M0 10.5h1m20 0h1m28 0h1m20 0h1M7 12.5h1m10 0h1m34 0h1m10 0h1M6 13.5h1m10 0h1m36 0h1m10 0h1M16 14.5h1m38 0h1M4 16.5h1m9 0h1m42 0h1m9 0h1M13 17.5h1m44 0h1M12 18.5h1m46 0h1M10 21.5h1m50 0h1M1 22.5h1m21 0h1m24 0h1m21 0h1M9 23.5h1m12 0h1m26 0h1m12 0h1M26 24.5h1m17 0h1M33 25.5h1m12 0h1M32 26.5h1M31 27.5h1M30 29.5h1M30 30.5h1m7 0h1m4 0h1M30 31.5h1m5 0h1M30 32.5h1M47 34.5h1M40 35.5h1M41 37.5h1M25 38.5h1m22 0h1M48 39.5h1M35 40.5h1M28 41.5h1m4 0h1M41 43.5h1M47 44.5h1M25 46.5h1m20 0h1M27 47.5h1m9 0h1M9 48.5h1m12 0h1m9 0h1m16 0h1m12 0h1M1 49.5h1m21 0h1m24 0h1m21 0h1M10 50.5h1m50 0h1M12 53.5h1m46 0h1M13 54.5h1m44 0h1M4 55.5h1m9 0h1m42 0h1m9 0h1M16 57.5h1m38 0h1M6 58.5h1m10 0h1m36 0h1m10 0h1M7 59.5h1m10 0h1m34 0h1m10 0h1M0 61.5h1m20 0h1m28 0h1m20 0h1M1 62.5h1m21 0h1m24 0h1m21 0h1M12 64.5h1m46 0h1M13 65.5h1m44 0h1M16 67.5h1m38 0h1M9 70.5h1m12 0h1m26 0h1m12 0h1M10 71.5h1m50 0h1"/><path stroke="#c6d444" d="M1 0.5h1m21 0h1m1 0h1m20 0h1m1 0h1m21 0h1M0 1.5h1m20 0h1m3 0h1m20 0h1m3 0h1m20 0h1M7 2.5h1m11 0h1m5 0h1m20 0h1m5 0h1m11 0h1M6 3.5h1m10 0h1m7 0h1m20 0h1m7 0h1m10 0h1M5 4.5h1m9 0h1m9 0h1m20 0h1m9 0h1m9 0h1M4 5.5h1m9 0h1m10 0h1m20 0h1m10 0h1m9 0h1M3 6.5h1m21 0h1m20 0h1m21 0h1M2 7.5h1m8 0h1m13 0h1m20 0h1m13 0h1m8 0h1M10 8.5h1m14 0h1m20 0h1m14 0h1M9 9.5h1m12 0h1m2 0h1m20 0h1m2 0h1m12 0h1M8 10.5h1m11 0h1m4 0h1m20 0h1m4 0h1m11 0h1M7 11.5h1m11 0h1m5 0h1m20 0h1m5 0h1m11 0h1M25 12.5h1m20 0h1M16 13.5h1m8 0h1m20 0h1m8 0h1M5 14.5h1m9 0h1m9 0h1m20 0h1m9 0h1m9 0h1M4 15.5h1m9 0h1m10 0h1m20 0h1m10 0h1m9 0h1M13 16.5h1m11 0h1m20 0h1m11 0h1M3 17.5h1m21 0h1m20 0h1m21 0h1M25 18.5h1m20 0h1M2 19.5h1m8 0h1m13 0h1m20 0h1m13 0h1m8 0h1M10 20.5h1m14 0h1m20 0h1m14 0h1M1 21.5h1m21 0h1m1 0h1m20 0h1m1 0h1m21 0h1M9 22.5h1m12 0h1m2 0h1m20 0h1m2 0h1m12 0h1M0 23.5h1m20 0h1m3 0h1m12 0h2m6 0h1m3 0h1m20 0h1M34 24.5h1M0 25.5h24m1 0h1m22 0h24M24 27.5h1M30 28.5h1M40 29.5h1M37 30.5h1M45 31.5h1M23 32.5h1m22 0h1M23 33.5h1m6 0h1M31 35.5h1M41 36.5h1M24 37.5h1m23 0h1M42 38.5h1M25 39.5h1m16 0h1M26 40.5h1m15 0h1M34 41.5h1m7 0h1M30 42.5h3m9 0h1M41 44.5h1M40 45.5h1m6 0h1M0 46.5h24m15 0h1m8 0h24M0 48.5h1m20 0h1m3 0h1m7 0h2m11 0h1m3 0h1m20 0h1M9 49.5h1m12 0h1m2 0h1m20 0h1m2 0h1m12 0h1M1 50.5h1m21 0h1m1 0h1m20 0h1m1 0h1m21 0h1M10 51.5h1m14 0h1m20 0h1m14 0h1M2 52.5h1m8 0h1m13 0h1m20 0h1m13 0h1m8 0h1M25 53.5h1m20 0h1M3 54.5h1m21 0h1m20 0h1m21 0h1M13 55.5h1m11 0h1m20 0h1m11 0h1M4 56.5h1m9 0h1m10 0h1m20 0h1m10 0h1m9 0h1M5 57.5h1m9 0h1m9 0h1m20 0h1m9 0h1m9 0h1M16 58.5h1m8 0h1m20 0h1m8 0h1M25 59.5h1m20 0h1M7 60.5h1m11 0h1m5 0h1m20 0h1m5 0h1m11 0h1M8 61.5h1m11 0h1m4 0h1m20 0h1m4 0h1m11 0h1M9 62.5h1m12 0h1m2 0h1m20 0h1m2 0h1m12 0h1M10 63.5h1m14 0h1m20 0h1m14 0h1M2 64.5h1m8 0h1m13 0h1m20 0h1m13 0h1m8 0h1M3 65.5h1m21 0h1m20 0h1m21 0h1M4 66.5h1m9 0h1m10 0h1m20 0h1m10 0h1m9 0h1M5 67.5h1m9 0h1m9 0h1m20 0h1m9 0h1m9 0h1M6 68.5h1m10 0h1m7 0h1m20 0h1m7 0h1m10 0h1M7 69.5h1m11 0h1m5 0h1m20 0h1m5 0h1m11 0h1M0 70.5h1m20 0h1m3 0h1m20 0h1m3 0h1m20 0h1M1 71.5h1m21 0h1m1 0h1m20 0h1m1 0h1m21 0h1"/><path stroke="#96d060" d="M9 0.5h1m12 0h1m26 0h1m12 0h1M8 1.5h1m11 0h1m30 0h1m11 0h1M18 2.5h1m34 0h1M16 3.5h1m38 0h1M13 5.5h1m44 0h1M12 6.5h1m46 0h1M1 8.5h1m21 0h1m24 0h1m21 0h1M0 9.5h1m20 0h1m28 0h1m20 0h1M18 11.5h1m34 0h1M6 12.5h1m10 0h1m36 0h1m10 0h1M5 13.5h1m60 0h1M3 16.5h1m64 0h1M12 17.5h1m46 0h1M2 18.5h1m8 0h1m48 0h1m8 0h1M1 20.5h1m21 0h1m24 0h1m21 0h1M9 21.5h1m12 0h1m26 0h1m12 0h1M0 22.5h1m20 0h1m28 0h1m20 0h1M8 23.5h1m11 0h1m15 0h2m13 0h1m11 0h1M33 24.5h1m11 0h1M32 25.5h1M24 26.5h1m6 0h1M30 27.5h1M38 29.5h2m1 0h2M29 30.5h1m14 0h1M29 31.5h1M29 32.5h1M47 33.5h1M23 34.5h1m6 0h1M23 35.5h1M48 36.5h1M42 37.5h1M24 38.5h1M36 40.5h1M27 41.5h1m7 0h1M29 42.5h1m3 0h1M42 43.5h1M26 47.5h1m11 0h1m7 0h1M8 48.5h1m11 0h1m14 0h1m15 0h1m11 0h1M0 49.5h1m20 0h1m28 0h1m20 0h1M9 50.5h1m12 0h1m26 0h1m12 0h1M1 51.5h1m21 0h1m24 0h1m21 0h1M2 53.5h1m8 0h1m48 0h1m8 0h1M12 54.5h1m46 0h1M3 55.5h1m64 0h1M5 58.5h1m60 0h1M6 59.5h1m10 0h1m36 0h1m10 0h1M18 60.5h1m34 0h1M0 62.5h1m20 0h1m28 0h1m20 0h1M1 63.5h1m21 0h1m24 0h1m21 0h1M12 65.5h1m46 0h1M13 66.5h1m44 0h1M16 68.5h1m38 0h1M18 69.5h1m34 0h1M8 70.5h1m11 0h1m30 0h1m11 0h1M9 71.5h1m12 0h1m26 0h1m12 0h1"/><path stroke="#68c87c" d="M19 1.5h1m32 0h1M17 2.5h1m36 0h1M5 3.5h1m60 0h1M4 4.5h1m9 0h1m42 0h1m9 0h1M3 5.5h1m64 0h1M10 7.5h1m50 0h1M9 8.5h1m12 0h1m26 0h1m12 0h1M8 9.5h1m11 0h1m30 0h1m11 0h1M7 10.5h1m11 0h1m32 0h1m11 0h1M17 11.5h1m36 0h1M16 12.5h1m38 0h1M15 13.5h1m40 0h1M4 14.5h1m9 0h1m42 0h1m9 0h1M13 15.5h1m44 0h1M12 16.5h1m46 0h1M2 17.5h1m8 0h1m48 0h1m8 0h1M1 19.5h1m8 0h1m50 0h1m8 0h1M9 20.5h1m12 0h1m26 0h1m12 0h1M21 21.5h1m28 0h1M8 22.5h1m11 0h1m30 0h1m11 0h1M35 23.5h1M25 24.5h1M47 25.5h1M29 29.5h1m13 0h1M36 30.5h1m8 0h1M35 31.5h1m10 0h1M29 33.5h1M30 35.5h1m17 0h1M23 36.5h1M43 39.5h1M43 40.5h1M28 42.5h1m5 0h1M41 45.5h1M24 46.5h1m15 0h1M39 47.5h1M36 48.5h1M8 49.5h1m11 0h1m30 0h1m11 0h1M21 50.5h1m28 0h1M9 51.5h1m12 0h1m26 0h1m12 0h1M1 52.5h1m8 0h1m50 0h1m8 0h1M2 54.5h1m8 0h1m48 0h1m8 0h1M12 55.5h1m46 0h1M13 56.5h1m44 0h1M4 57.5h1m9 0h1m42 0h1m9 0h1M15 58.5h1m40 0h1M16 59.5h1m38 0h1M17 60.5h1m36 0h1M7 61.5h1m11 0h1m32 0h1m11 0h1M8 62.5h1m11 0h1m30 0h1m11 0h1M9 63.5h1m12 0h1m26 0h1m12 0h1M10 64.5h1m50 0h1M3 66.5h1m64 0h1M4 67.5h1m9 0h1m42 0h1m9 0h1M5 68.5h1m60 0h1M17 69.5h1m36 0h1M19 70.5h1m32 0h1"/><path stroke="#62c8af" d="M0 0.5h1m7 0h1m12 0h1m6 0h1m14 0h1m6 0h1m12 0h1m7 0h1M7 1.5h1m20 0h1m14 0h1m20 0h1M6 2.5h1m21 0h1m14 0h1m21 0h1M15 3.5h1m12 0h1m14 0h1m12 0h1M28 4.5h1m14 0h1M12 5.5h1m15 0h1m14 0h1m15 0h1M2 6.5h1m8 0h1m16 0h1m14 0h1m16 0h1m8 0h1M1 7.5h1m21 0h1m4 0h1m14 0h1m4 0h1m21 0h1M0 8.5h1m20 0h1m6 0h1m14 0h1m6 0h1m20 0h1M28 9.5h1m14 0h1M18 10.5h1m9 0h1m14 0h1m9 0h1M6 11.5h1m21 0h1m14 0h1m21 0h1M5 12.5h1m22 0h1m14 0h1m22 0h1M14 13.5h1m13 0h1m14 0h1m13 0h1M13 14.5h1m14 0h1m14 0h1m14 0h1M3 15.5h1m24 0h1m14 0h1m24 0h1M28 16.5h1m14 0h1M28 17.5h1m14 0h1M10 18.5h1m17 0h1m14 0h1m17 0h1M23 19.5h1m4 0h1m14 0h1m4 0h1M28 20.5h1m14 0h1M0 21.5h1m7 0h1m19 0h1m14 0h1m19 0h1m7 0h1M28 22.5h1m14 0h1M7 23.5h1m11 0h1m8 0h1m14 0h1m8 0h1m11 0h1M32 24.5h1m13 0h1M24 25.5h1m6 0h1M30 26.5h1M0 28.5h24m5 0h1m9 0h3m6 0h24M37 29.5h1m6 0h1M47 32.5h1M29 34.5h1m18 0h1M41 35.5h1M42 36.5h1M43 38.5h1M24 39.5h1M25 40.5h1M26 41.5h1m9 0h1m6 0h1M27 42.5h1m7 0h1m7 0h1M0 43.5h24m6 0h4m14 0h24M42 44.5h1M47 46.5h1M25 47.5h1M7 48.5h1m11 0h1m8 0h1m8 0h1m5 0h1m8 0h1m11 0h1M28 49.5h1m14 0h1M0 50.5h1m7 0h1m19 0h1m14 0h1m19 0h1m7 0h1M28 51.5h1m14 0h1M23 52.5h1m4 0h1m14 0h1m4 0h1M10 53.5h1m17 0h1m14 0h1m17 0h1M28 54.5h1m14 0h1M28 55.5h1m14 0h1M3 56.5h1m24 0h1m14 0h1m24 0h1M13 57.5h1m14 0h1m14 0h1m14 0h1M14 58.5h1m13 0h1m14 0h1m13 0h1M5 59.5h1m22 0h1m14 0h1m22 0h1M6 60.5h1m21 0h1m14 0h1m21 0h1M18 61.5h1m9 0h1m14 0h1m9 0h1M28 62.5h1m14 0h1M0 63.5h1m20 0h1m6 0h1m14 0h1m6 0h1m20 0h1M1 64.5h1m21 0h1m4 0h1m14 0h1m4 0h1m21 0h1M2 65.5h1m8 0h1m16 0h1m14 0h1m16 0h1m8 0h1M12 66.5h1m15 0h1m14 0h1m15 0h1M28 67.5h1m14 0h1M15 68.5h1m12 0h1m14 0h1m12 0h1M6 69.5h1m21 0h1m14 0h1m21 0h1M7 70.5h1m20 0h1m14 0h1m20 0h1M0 71.5h1m7 0h1m12 0h1m6 0h1m14 0h1m6 0h1m12 0h1m7 0h1"/><path stroke="#65c0da" d="M20 0.5h1m14 0h2m14 0h1M18 1.5h1m16 0h2m16 0h1M16 2.5h1m18 0h2m18 0h1M14 3.5h1m20 0h2m20 0h1M13 4.5h1m21 0h2m21 0h1M35 5.5h2M35 6.5h2M9 7.5h1m12 0h1m12 0h2m12 0h1m12 0h1M8 8.5h1m11 0h1m14 0h2m14 0h1m11 0h1M7 9.5h1m11 0h1m15 0h2m15 0h1m11 0h1M17 10.5h1m17 0h2m17 0h1M16 11.5h1m18 0h2m18 0h1M15 12.5h1m19 0h2m19 0h1M4 13.5h1m30 0h2m30 0h1M3 14.5h1m31 0h2m31 0h1M12 15.5h1m22 0h2m22 0h1M2 16.5h1m8 0h1m23 0h2m23 0h1m8 0h1M10 17.5h1m24 0h2m24 0h1M1 18.5h1m21 0h1m11 0h2m11 0h1m21 0h1M9 19.5h1m12 0h1m12 0h2m12 0h1m12 0h1M0 20.5h1m7 0h1m12 0h1m13 0h2m13 0h1m12 0h1m7 0h1M20 21.5h1m14 0h2m14 0h1M7 22.5h1m11 0h1m15 0h2m15 0h1m11 0h1M18 23.5h1m15 0h1m18 0h1M29 27.5h1M38 28.5h1m3 0h1M28 29.5h1m7 0h1M28 30.5h1M28 31.5h1M28 32.5h1M28 33.5h1M0 35.5h23m26 0h23M0 36.5h23m8 0h1m17 0h23M23 37.5h1m19 0h1M29 43.5h1m4 0h1m8 0h1M41 46.5h1M40 47.5h1M18 48.5h1m19 0h1m14 0h1M7 49.5h1m11 0h1m15 0h2m15 0h1m11 0h1M20 50.5h1m14 0h2m14 0h1M0 51.5h1m7 0h1m12 0h1m13 0h2m13 0h1m12 0h1m7 0h1M9 52.5h1m12 0h1m12 0h2m12 0h1m12 0h1M1 53.5h1m21 0h1m11 0h2m11 0h1m21 0h1M10 54.5h1m24 0h2m24 0h1M2 55.5h1m8 0h1m23 0h2m23 0h1m8 0h1M12 56.5h1m22 0h2m22 0h1M3 57.5h1m31 0h2m31 0h1M4 58.5h1m30 0h2m30 0h1M15 59.5h1m19 0h2m19 0h1M16 60.5h1m18 0h2m18 0h1M17 61.5h1m17 0h2m17 0h1M7 62.5h1m11 0h1m15 0h2m15 0h1m11 0h1M8 63.5h1m11 0h1m14 0h2m14 0h1m11 0h1M9 64.5h1m12 0h1m12 0h2m12 0h1m12 0h1M35 65.5h2M35 66.5h2M13 67.5h1m21 0h2m21 0h1M14 68.5h1m20 0h2m20 0h1M16 69.5h1m18 0h2m18 0h1M18 70.5h1m16 0h2m16 0h1M20 71.5h1m14 0h2m14 0h1"/><path stroke="#b6d34d" d="M19 0.5h1m14 0h1m2 0h1m14 0h1M6 1.5h1m10 0h1m16 0h1m2 0h1m16 0h1m10 0h1M5 2.5h1m9 0h1m18 0h1m2 0h1m18 0h1m9 0h1M4 3.5h1m29 0h1m2 0h1m29 0h1M3 4.5h1m8 0h1m21 0h1m2 0h1m21 0h1m8 0h1M2 5.5h1m8 0h1m22 0h1m2 0h1m22 0h1m8 0h1M1 6.5h1m8 0h1m23 0h1m2 0h1m23 0h1m8 0h1M21 7.5h1m12 0h1m2 0h1m12 0h1M34 8.5h1m2 0h1M18 9.5h1m15 0h1m2 0h1m15 0h1M6 10.5h1m27 0h1m2 0h1m27 0h1M5 11.5h1m9 0h1m18 0h1m2 0h1m18 0h1m9 0h1M4 12.5h1m9 0h1m19 0h1m2 0h1m19 0h1m9 0h1M13 13.5h1m20 0h1m2 0h1m20 0h1M12 14.5h1m21 0h1m2 0h1m21 0h1M2 15.5h1m8 0h1m22 0h1m2 0h1m22 0h1m8 0h1M34 16.5h1m2 0h1M1 17.5h1m21 0h1m10 0h1m2 0h1m10 0h1m21 0h1M9 18.5h1m12 0h1m11 0h1m2 0h1m11 0h1m12 0h1M0 19.5h1m20 0h1m12 0h1m2 0h1m12 0h1m20 0h1M20 20.5h1m13 0h1m2 0h1m13 0h1M7 21.5h1m11 0h1m14 0h1m2 0h1m14 0h1m11 0h1M18 22.5h1m15 0h1m2 0h1m15 0h1M17 23.5h1m15 0h1m20 0h1M31 24.5h1m15 0h1M30 25.5h1M28 28.5h1m8 0h1m5 0h1M45 29.5h1M35 30.5h1m10 0h1M47 31.5h1M48 33.5h1M0 34.5h23m5 0h1m20 0h23M29 35.5h1m12 0h1M30 36.5h1m12 0h1M0 37.5h23m26 0h23M23 38.5h1M44 39.5h1M24 40.5h1m19 0h1M25 41.5h1m18 0h1M26 42.5h1m9 0h1M28 43.5h1M42 45.5h1M24 47.5h1m22 0h1M17 48.5h1m36 0h1M18 49.5h1m15 0h1m2 0h1m15 0h1M7 50.5h1m11 0h1m14 0h1m2 0h1m14 0h1m11 0h1M20 51.5h1m13 0h1m2 0h1m13 0h1M0 52.5h1m20 0h1m12 0h1m2 0h1m12 0h1m20 0h1M9 53.5h1m12 0h1m11 0h1m2 0h1m11 0h1m12 0h1M1 54.5h1m21 0h1m10 0h1m2 0h1m10 0h1m21 0h1M34 55.5h1m2 0h1M2 56.5h1m8 0h1m22 0h1m2 0h1m22 0h1m8 0h1M12 57.5h1m21 0h1m2 0h1m21 0h1M13 58.5h1m20 0h1m2 0h1m20 0h1M4 59.5h1m9 0h1m19 0h1m2 0h1m19 0h1m9 0h1M5 60.5h1m9 0h1m18 0h1m2 0h1m18 0h1m9 0h1M6 61.5h1m27 0h1m2 0h1m27 0h1M18 62.5h1m15 0h1m2 0h1m15 0h1M34 63.5h1m2 0h1M21 64.5h1m12 0h1m2 0h1m12 0h1M1 65.5h1m8 0h1m23 0h1m2 0h1m23 0h1m8 0h1M2 66.5h1m8 0h1m22 0h1m2 0h1m22 0h1m8 0h1M3 67.5h1m8 0h1m21 0h1m2 0h1m21 0h1m8 0h1M4 68.5h1m29 0h1m2 0h1m29 0h1M5 69.5h1m9 0h1m18 0h1m2 0h1m18 0h1m9 0h1M6 70.5h1m10 0h1m16 0h1m2 0h1m16 0h1m10 0h1M19 71.5h1m14 0h1m2 0h1m14 0h1"/><path stroke="#f2c020" d="M7 0.5h1m10 0h1m14 0h1m4 0h1m14 0h1m10 0h1M16 1.5h1m16 0h1m4 0h1m16 0h1M33 2.5h1m4 0h1M13 3.5h1m19 0h1m4 0h1m19 0h1M33 4.5h1m4 0h1M33 5.5h1m4 0h1M23 6.5h1m9 0h1m4 0h1m9 0h1M0 7.5h1m7 0h1m24 0h1m4 0h1m24 0h1m7 0h1M7 8.5h1m11 0h1m13 0h1m4 0h1m13 0h1m11 0h1M17 9.5h1m15 0h1m4 0h1m15 0h1M16 10.5h1m16 0h1m4 0h1m16 0h1M33 11.5h1m4 0h1M33 12.5h1m4 0h1M3 13.5h1m29 0h1m4 0h1m29 0h1M33 14.5h1m4 0h1M33 15.5h1m4 0h1M1 16.5h1m8 0h1m22 0h1m4 0h1m22 0h1m8 0h1M9 17.5h1m12 0h1m10 0h1m4 0h1m10 0h1m12 0h1M0 18.5h1m20 0h1m11 0h1m4 0h1m11 0h1m20 0h1M8 19.5h1m11 0h1m12 0h1m4 0h1m12 0h1m11 0h1M19 20.5h1m13 0h1m4 0h1m13 0h1M18 21.5h1m14 0h1m4 0h1m14 0h1M17 22.5h1m15 0h1m4 0h1m15 0h1M6 23.5h1m58 0h1M24 24.5h1M29 26.5h1M39 27.5h3M44 28.5h1M27 31.5h1M27 32.5h1m20 0h1M0 33.5h23m26 0h23M0 38.5h23m21 0h1m4 0h23M37 40.5h1M37 41.5h1M44 42.5h1M27 43.5h1m7 0h1M30 44.5h4m9 0h1M6 48.5h1m32 0h1m25 0h1M17 49.5h1m15 0h1m4 0h1m15 0h1M18 50.5h1m14 0h1m4 0h1m14 0h1M19 51.5h1m13 0h1m4 0h1m13 0h1M8 52.5h1m11 0h1m12 0h1m4 0h1m12 0h1m11 0h1M0 53.5h1m20 0h1m11 0h1m4 0h1m11 0h1m20 0h1M9 54.5h1m12 0h1m10 0h1m4 0h1m10 0h1m12 0h1M1 55.5h1m8 0h1m22 0h1m4 0h1m22 0h1m8 0h1M33 56.5h1m4 0h1M33 57.5h1m4 0h1M3 58.5h1m29 0h1m4 0h1m29 0h1M33 59.5h1m4 0h1M33 60.5h1m4 0h1M16 61.5h1m16 0h1m4 0h1m16 0h1M17 62.5h1m15 0h1m4 0h1m15 0h1M7 63.5h1m11 0h1m13 0h1m4 0h1m13 0h1m11 0h1M0 64.5h1m7 0h1m24 0h1m4 0h1m24 0h1m7 0h1M23 65.5h1m9 0h1m4 0h1m9 0h1M33 66.5h1m4 0h1M33 67.5h1m4 0h1M13 68.5h1m19 0h1m4 0h1m19 0h1M33 69.5h1m4 0h1M16 70.5h1m16 0h1m4 0h1m16 0h1M7 71.5h1m10 0h1m14 0h1m4 0h1m14 0h1m10 0h1"/><path stroke="#e96a27" d="M24 0.5h1m22 0h1M5 1.5h1m18 0h1m22 0h1m18 0h1M4 2.5h1m9 0h1m9 0h1m22 0h1m9 0h1m9 0h1M3 3.5h1m20 0h1m22 0h1m20 0h1M2 4.5h1m8 0h1m12 0h1m22 0h1m12 0h1m8 0h1M1 5.5h1m8 0h1m13 0h1m22 0h1m13 0h1m8 0h1M9 6.5h1m12 0h1m1 0h1m22 0h1m1 0h1m12 0h1M20 7.5h1m3 0h1m22 0h1m3 0h1M18 8.5h1m5 0h1m22 0h1m5 0h1M6 9.5h1m17 0h1m22 0h1m17 0h1M5 10.5h1m9 0h1m8 0h1m22 0h1m8 0h1m9 0h1M4 11.5h1m9 0h1m9 0h1m22 0h1m9 0h1m9 0h1M13 12.5h1m10 0h1m22 0h1m10 0h1M12 13.5h1m11 0h1m22 0h1m11 0h1M2 14.5h1m8 0h1m12 0h1m22 0h1m12 0h1m8 0h1M10 15.5h1m13 0h1m22 0h1m13 0h1M23 16.5h2m22 0h2M21 17.5h1m2 0h1m22 0h1m2 0h1M8 18.5h1m11 0h1m3 0h1m22 0h1m3 0h1m11 0h1M19 19.5h1m4 0h1m22 0h1m4 0h1M7 20.5h1m10 0h1m5 0h1m22 0h1m5 0h1m10 0h1M17 21.5h1m6 0h1m22 0h1m6 0h1M6 22.5h1m17 0h1m22 0h1m17 0h1M16 23.5h1m7 0h1m7 0h1m14 0h1m7 0h1M0 24.5h24m24 0h24M28 27.5h1m9 0h1m3 0h1M36 28.5h1M27 29.5h1m7 0h1m10 0h1M27 30.5h1m19 0h1M27 33.5h1M41 34.5h1M28 35.5h1m14 0h1M29 36.5h1M44 37.5h1M23 39.5h1M24 41.5h1M25 42.5h1M36 43.5h1m7 0h1M29 44.5h1m4 0h1M43 45.5h1M42 46.5h1M0 47.5h24m17 0h1m6 0h24M16 48.5h1m7 0h1m22 0h1m7 0h1M6 49.5h1m17 0h1m22 0h1m17 0h1M17 50.5h1m6 0h1m22 0h1m6 0h1M7 51.5h1m10 0h1m5 0h1m22 0h1m5 0h1m10 0h1M19 52.5h1m4 0h1m22 0h1m4 0h1M8 53.5h1m11 0h1m3 0h1m22 0h1m3 0h1m11 0h1M21 54.5h1m2 0h1m22 0h1m2 0h1M23 55.5h2m22 0h2M10 56.5h1m13 0h1m22 0h1m13 0h1M2 57.5h1m8 0h1m12 0h1m22 0h1m12 0h1m8 0h1M12 58.5h1m11 0h1m22 0h1m11 0h1M13 59.5h1m10 0h1m22 0h1m10 0h1M4 60.5h1m9 0h1m9 0h1m22 0h1m9 0h1m9 0h1M5 61.5h1m9 0h1m8 0h1m22 0h1m8 0h1m9 0h1M6 62.5h1m17 0h1m22 0h1m17 0h1M18 63.5h1m5 0h1m22 0h1m5 0h1M20 64.5h1m3 0h1m22 0h1m3 0h1M9 65.5h1m12 0h1m1 0h1m22 0h1m1 0h1m12 0h1M1 66.5h1m8 0h1m13 0h1m22 0h1m13 0h1m8 0h1M2 67.5h1m8 0h1m12 0h1m22 0h1m12 0h1m8 0h1M3 68.5h1m20 0h1m22 0h1m20 0h1M4 69.5h1m9 0h1m9 0h1m22 0h1m9 0h1m9 0h1M5 70.5h1m18 0h1m22 0h1m18 0h1M24 71.5h1m22 0h1"/><path stroke="#e02e2e" d="M6 0.5h1m10 0h1m9 0h1m4 0h1m6 0h1m4 0h1m9 0h1m10 0h1M15 1.5h1m11 0h1m4 0h1m6 0h1m4 0h1m11 0h1M27 2.5h1m4 0h1m6 0h1m4 0h1M12 3.5h1m14 0h1m4 0h1m6 0h1m4 0h1m14 0h1M27 4.5h1m4 0h1m6 0h1m4 0h1M23 5.5h1m3 0h1m4 0h1m6 0h1m4 0h1m3 0h1M0 6.5h1m20 0h1m5 0h1m4 0h1m6 0h1m4 0h1m5 0h1m20 0h1M19 7.5h1m7 0h1m4 0h1m6 0h1m4 0h1m7 0h1M17 8.5h1m9 0h1m4 0h1m6 0h1m4 0h1m9 0h1M16 9.5h1m10 0h1m4 0h1m6 0h1m4 0h1m10 0h1M27 10.5h1m4 0h1m6 0h1m4 0h1M27 11.5h1m4 0h1m6 0h1m4 0h1M3 12.5h1m23 0h1m4 0h1m6 0h1m4 0h1m23 0h1M27 13.5h1m4 0h1m6 0h1m4 0h1M27 14.5h1m4 0h1m6 0h1m4 0h1M1 15.5h1m21 0h1m3 0h1m4 0h1m6 0h1m4 0h1m3 0h1m21 0h1M9 16.5h1m12 0h1m4 0h1m4 0h1m6 0h1m4 0h1m4 0h1m12 0h1M0 17.5h1m7 0h1m18 0h1m4 0h1m6 0h1m4 0h1m18 0h1m7 0h1M19 18.5h1m7 0h1m4 0h1m6 0h1m4 0h1m7 0h1M7 19.5h1m10 0h1m8 0h1m4 0h1m6 0h1m4 0h1m8 0h1m10 0h1M27 20.5h1m4 0h1m6 0h1m4 0h1M6 21.5h1m20 0h1m4 0h1m6 0h1m4 0h1m20 0h1M16 22.5h1m10 0h1m4 0h1m6 0h1m4 0h1m10 0h1M5 23.5h1m9 0h1m11 0h1m16 0h1m11 0h1m9 0h1M30 24.5h1M29 25.5h1M28 26.5h1M0 27.5h24m13 0h1m5 0h1m4 0h24M27 28.5h1m17 0h1M0 32.5h23m26 0h23M27 34.5h1m12 0h1m1 0h1M28 36.5h1m15 0h1M30 37.5h2M0 39.5h23m22 0h1m3 0h23M45 40.5h1M37 42.5h1M26 43.5h1M0 44.5h24m4 0h1m6 0h1m12 0h24M5 48.5h1m9 0h1m11 0h1m16 0h1m11 0h1m9 0h1M16 49.5h1m10 0h1m4 0h1m6 0h1m4 0h1m10 0h1M6 50.5h1m20 0h1m4 0h1m6 0h1m4 0h1m20 0h1M27 51.5h1m4 0h1m6 0h1m4 0h1M7 52.5h1m10 0h1m8 0h1m4 0h1m6 0h1m4 0h1m8 0h1m10 0h1M19 53.5h1m7 0h1m4 0h1m6 0h1m4 0h1m7 0h1M0 54.5h1m7 0h1m18 0h1m4 0h1m6 0h1m4 0h1m18 0h1m7 0h1M9 55.5h1m12 0h1m4 0h1m4 0h1m6 0h1m4 0h1m4 0h1m12 0h1M1 56.5h1m21 0h1m3 0h1m4 0h1m6 0h1m4 0h1m3 0h1m21 0h1M27 57.5h1m4 0h1m6 0h1m4 0h1M27 58.5h1m4 0h1m6 0h1m4 0h1M3 59.5h1m23 0h1m4 0h1m6 0h1m4 0h1m23 0h1M27 60.5h1m4 0h1m6 0h1m4 0h1M27 61.5h1m4 0h1m6 0h1m4 0h1M16 62.5h1m10 0h1m4 0h1m6 0h1m4 0h1m10 0h1M17 63.5h1m9 0h1m4 0h1m6 0h1m4 0h1m9 0h1M19 64.5h1m7 0h1m4 0h1m6 0h1m4 0h1m7 0h1M0 65.5h1m20 0h1m5 0h1m4 0h1m6 0h1m4 0h1m5 0h1m20 0h1M23 66.5h1m3 0h1m4 0h1m6 0h1m4 0h1m3 0h1M27 67.5h1m4 0h1m6 0h1m4 0h1M12 68.5h1m14 0h1m4 0h1m6 0h1m4 0h1m14 0h1M27 69.5h1m4 0h1m6 0h1m4 0h1M15 70.5h1m11 0h1m4 0h1m6 0h1m4 0h1m11 0h1M6 71.5h1m10 0h1m9 0h1m4 0h1m6 0h1m4 0h1m9 0h1m10 0h1"/><path stroke="#bd1e2a" d="M16 0.5h1m38 0h1M13 2.5h1m44 0h1M10 4.5h1m50 0h1M9 5.5h1m12 0h1m26 0h1m12 0h1M8 6.5h1m11 0h1m30 0h1m11 0h1M7 7.5h1m10 0h1m34 0h1m10 0h1M6 8.5h1m58 0h1M5 9.5h1m9 0h1m40 0h1m9 0h1M4 10.5h1m9 0h1m42 0h1m9 0h1M13 11.5h1m44 0h1M12 12.5h1m46 0h1M2 13.5h1m8 0h1m48 0h1m8 0h1M10 14.5h1m50 0h1M9 15.5h1m12 0h1m26 0h1m12 0h1M0 16.5h1m20 0h1m28 0h1m20 0h1M20 17.5h1m30 0h1M7 18.5h1m56 0h1M6 20.5h1m10 0h1m36 0h1m10 0h1M16 21.5h1m38 0h1M5 22.5h1m9 0h1m40 0h1m9 0h1M39 26.5h3M36 27.5h1m7 0h1M35 28.5h1M34 29.5h1M34 30.5h1M26 31.5h1M26 32.5h1M43 34.5h1M27 35.5h1m16 0h1M29 37.5h1m15 0h1M45 38.5h1M38 40.5h1M38 41.5h1m6 0h1M45 42.5h1M37 43.5h1M27 44.5h1m8 0h1m7 0h1M30 45.5h4M43 46.5h1M42 47.5h1M5 49.5h1m9 0h1m40 0h1m9 0h1M16 50.5h1m38 0h1M6 51.5h1m10 0h1m36 0h1m10 0h1M7 53.5h1m56 0h1M20 54.5h1m30 0h1M0 55.5h1m20 0h1m28 0h1m20 0h1M9 56.5h1m12 0h1m26 0h1m12 0h1M10 57.5h1m50 0h1M2 58.5h1m8 0h1m48 0h1m8 0h1M12 59.5h1m46 0h1M13 60.5h1m44 0h1M4 61.5h1m9 0h1m42 0h1m9 0h1M5 62.5h1m9 0h1m40 0h1m9 0h1M6 63.5h1m58 0h1M7 64.5h1m10 0h1m34 0h1m10 0h1M8 65.5h1m11 0h1m30 0h1m11 0h1M9 66.5h1m12 0h1m26 0h1m12 0h1M10 67.5h1m50 0h1M13 69.5h1m44 0h1M16 71.5h1m38 0h1"/></g><rect x="713" y="2378" width="291.5" height="291.5" fill="none" stroke="#444" stroke-width="1.5"/><text transform="translate(692,2406.5) scale(0.95,1)" text-anchor="end" font-size="56">15</text><text transform="translate(692,2545.2) scale(0.95,1)" text-anchor="end" font-size="56">0</text><text transform="translate(692,2682) scale(0.95,1)" text-anchor="end" font-size="56">−15</text><text transform="translate(733,2730.5) scale(0.95,1)" text-anchor="middle" font-size="56">−15</text><text transform="translate(860.8,2730.5) scale(0.95,1)" text-anchor="middle" font-size="56">0</text><text transform="translate(986.5,2730.5) scale(0.95,1)" text-anchor="middle" font-size="56">15</text><text transform="translate(570,2523.8) rotate(-90)" text-anchor="middle" font-size="56"><tspan font-style="italic">y</tspan>/μm</text><text transform="translate(849.8,2789.5)" text-anchor="middle" font-size="56"><tspan font-style="italic">x</tspan>/μm</text><text transform="translate(848.8,2865.5)" text-anchor="middle" font-size="56"><tspan font-style="italic">z</tspan>=20 μm</text><text transform="translate(849.8,2945.5)" text-anchor="middle" font-size="56">(a4)</text><g transform="translate(1199.5,2378) scale(4.04861)" shape-rendering="crispEdges" stroke-width="1.04" fill="none"><rect width="72" height="72" fill="#bd1e2a"/><path stroke="#2e3d89" d="M6 0.5h10m40 0h10M5 1.5h9m44 0h9M4 2.5h8m48 0h8M3 3.5h8m50 0h8M2 4.5h8m52 0h8M1 5.5h8m54 0h8M0 6.5h8m56 0h8M0 7.5h7m58 0h7M0 8.5h6m60 0h6M0 9.5h5m62 0h5M0 10.5h4m64 0h4M0 11.5h3m66 0h3M0 12.5h2m68 0h2M0 13.5h2m68 0h2M0 14.5h1m70 0h1M0 15.5h1m70 0h1M22 17.5h1M21 18.5h1M21 19.5h1m18 0h4m2 0h4M20 20.5h1m17 0h2m11 0h1M20 21.5h1m16 0h1m15 0h1M36 22.5h1M19 23.5h1m15 0h1M19 24.5h1m14 0h1M19 25.5h1m14 0h1M19 26.5h1m14 0h1M19 27.5h1M19 28.5h1m14 0h1M19 29.5h1M19 30.5h1M20 32.5h1M43 33.5h4M21 34.5h1m25 0h2M22 35.5h1m26 0h1M23 36.5h1m26 0h1M24 37.5h2m3 0h1m21 0h1M51 38.5h1M52 39.5h1M52 40.5h1M37 41.5h1m14 0h1M38 43.5h1M38 44.5h1m14 0h1M38 45.5h1M38 46.5h1M37 47.5h1M37 48.5h1m14 0h1M17 49.5h1m18 0h1m15 0h1M18 50.5h1m15 0h2M20 51.5h2m11 0h1m17 0h1M22 52.5h3m4 0h3m19 0h1M50 53.5h1M0 56.5h1m70 0h1M0 57.5h1m70 0h1M0 58.5h2m68 0h2M0 59.5h2m68 0h2M0 60.5h3m66 0h3M0 61.5h4m64 0h4M0 62.5h5m62 0h5M0 63.5h6m60 0h6M0 64.5h7m58 0h7M0 65.5h8m56 0h8M1 66.5h8m54 0h8M2 67.5h8m52 0h8M3 68.5h8m50 0h8M4 69.5h8m48 0h8M5 70.5h9m44 0h9M6 71.5h10m40 0h10"/><path stroke="#364fa1" d="M0 0.5h6m13 0h1m6 0h1m18 0h1m6 0h1m13 0h6M0 1.5h5m14 0h1m6 0h1m18 0h1m6 0h1m14 0h5M0 2.5h4m15 0h1m6 0h1m18 0h1m6 0h1m15 0h4M0 3.5h3m16 0h1m6 0h1m18 0h1m6 0h1m16 0h3M0 4.5h2m17 0h1m6 0h1m18 0h1m6 0h1m17 0h2M0 5.5h1m18 0h1m6 0h1m18 0h1m6 0h1m18 0h1M19 6.5h1m6 0h1m18 0h1m6 0h1M19 7.5h1m6 0h1m18 0h1m6 0h1M19 8.5h1m6 0h1m18 0h1m6 0h1M19 9.5h1m6 0h1m18 0h1m6 0h1M19 10.5h1m6 0h1m18 0h1m6 0h1M19 11.5h1m6 0h1m18 0h1m6 0h1M19 12.5h1m6 0h1m18 0h1m6 0h1M19 13.5h1m6 0h1m18 0h1m6 0h1M19 14.5h1m6 0h1m18 0h1m6 0h1M19 15.5h1m6 0h1m18 0h1m6 0h1M19 16.5h1m6 0h1m18 0h1m6 0h1M21 17.5h1M41 18.5h7M0 19.5h17m3 0h1m18 0h1m10 0h2m3 0h17M37 20.5h1m14 0h2M19 21.5h1m16 0h1m17 0h1M19 22.5h1m15 0h1M34 23.5h1M18 24.5h1M18 25.5h1m14 0h1M0 26.5h17m1 0h1m14 0h1m21 0h17M18 27.5h1m14 0h1M18 28.5h1M18 29.5h1m15 0h1M19 31.5h1M19 32.5h1M20 33.5h1m21 0h1m4 0h1M20 34.5h1m28 0h1M21 35.5h1m28 0h1M22 36.5h1m28 0h1M23 37.5h1m6 0h1M25 38.5h4m23 0h1M53 40.5h1M53 41.5h1M38 42.5h1m14 0h1M53 43.5h1M39 44.5h1M0 45.5h17m36 0h1m1 0h17M53 46.5h1M38 47.5h1m14 0h1M53 48.5h1M37 49.5h1M17 50.5h1m18 0h1m15 0h1M19 51.5h1m14 0h2m16 0h1M0 52.5h17m4 0h1m10 0h2m21 0h17M24 53.5h7m20 0h1M50 54.5h1M19 55.5h1m6 0h1m18 0h1m6 0h1M19 56.5h1m6 0h1m18 0h1m6 0h1M19 57.5h1m6 0h1m18 0h1m6 0h1M19 58.5h1m6 0h1m18 0h1m6 0h1M19 59.5h1m6 0h1m18 0h1m6 0h1M19 60.5h1m6 0h1m18 0h1m6 0h1M19 61.5h1m6 0h1m18 0h1m6 0h1M19 62.5h1m6 0h1m18 0h1m6 0h1M19 63.5h1m6 0h1m18 0h1m6 0h1M19 64.5h1m6 0h1m18 0h1m6 0h1M19 65.5h1m6 0h1m18 0h1m6 0h1M0 66.5h1m18 0h1m6 0h1m18 0h1m6 0h1m18 0h1M0 67.5h2m17 0h1m6 0h1m18 0h1m6 0h1m17 0h2M0 68.5h3m16 0h1m6 0h1m18 0h1m6 0h1m16 0h3M0 69.5h4m15 0h1m6 0h1m18 0h1m6 0h1m15 0h4M0 70.5h5m14 0h1m6 0h1m18 0h1m6 0h1m14 0h5M0 71.5h6m13 0h1m6 0h1m18 0h1m6 0h1m13 0h6"/><path stroke="#405db2" d="M43 17.5h4M20 18.5h1m18 0h2m7 0h3M19 19.5h1m17 0h2m13 0h1M19 20.5h1m16 0h1m17 0h1M35 21.5h1M18 22.5h1m15 0h1M18 23.5h1m14 0h1M33 24.5h1M33 28.5h1M33 29.5h1M18 30.5h1M18 31.5h1M18 32.5h1m24 0h5M19 33.5h1m28 0h2M19 34.5h1m30 0h1M20 35.5h1m30 0h1M21 36.5h1m30 0h1M22 37.5h1m29 0h1M23 38.5h2m4 0h1m23 0h1M25 39.5h3m25 0h1M38 41.5h1m15 0h1M39 42.5h1m14 0h1M39 43.5h1m14 0h1M54 44.5h1M39 45.5h1m14 0h1M39 46.5h1m14 0h1M39 47.5h1m14 0h1M38 48.5h1M38 49.5h1m14 0h1M37 50.5h1m15 0h1M17 51.5h2m17 0h1M19 52.5h2m13 0h2m16 0h1M21 53.5h3m7 0h3M25 54.5h5m21 0h1"/><path stroke="#3e8ed0" d="M25 0.5h1m20 0h1M25 1.5h1m20 0h1M25 2.5h1m20 0h1M25 3.5h1m20 0h1M25 4.5h1m20 0h1M25 5.5h1m20 0h1M25 6.5h1m20 0h1M25 7.5h1m20 0h1M25 8.5h1m20 0h1M25 9.5h1m20 0h1M25 10.5h1m20 0h1M25 11.5h1m20 0h1M25 12.5h1m20 0h1M25 13.5h1m20 0h1M25 14.5h1m20 0h1M25 15.5h1m20 0h1M25 16.5h1m20 0h1M20 17.5h1m19 0h3m4 0h3M19 18.5h1m17 0h2m12 0h1M36 19.5h1m16 0h1M18 20.5h1m16 0h1M18 21.5h1m15 0h1M33 22.5h1M17 23.5h1m14 0h1M17 24.5h1m14 0h1M0 25.5h18m14 0h1m22 0h17M17 26.5h1m14 0h1M17 27.5h1m14 0h1M17 28.5h1m14 0h1M17 29.5h1M17 30.5h1m16 0h1M17 31.5h1m26 0h4M42 32.5h1m5 0h2M18 33.5h1m22 0h1m8 0h1M18 34.5h1m22 0h1m9 0h1M19 35.5h1m32 0h1M20 36.5h1m32 0h1M21 37.5h1m9 0h1m21 0h1M22 38.5h1m7 0h1M23 39.5h2m3 0h2m24 0h1M37 40.5h2m15 0h1M39 41.5h1M40 43.5h1M40 44.5h1M40 45.5h1M0 46.5h17m23 0h1m14 0h17M40 47.5h1M39 48.5h1m14 0h1M39 49.5h1m14 0h1M38 50.5h1M37 51.5h1m15 0h1M18 52.5h1m17 0h1m16 0h1M20 53.5h1m13 0h1m17 0h1M22 54.5h3m5 0h3M25 55.5h1m20 0h1M25 56.5h1m20 0h1M25 57.5h1m20 0h1M25 58.5h1m20 0h1M25 59.5h1m20 0h1M25 60.5h1m20 0h1M25 61.5h1m20 0h1M25 62.5h1m20 0h1M25 63.5h1m20 0h1M25 64.5h1m20 0h1M25 65.5h1m20 0h1M25 66.5h1m20 0h1M25 67.5h1m20 0h1M25 68.5h1m20 0h1M25 69.5h1m20 0h1M25 70.5h1m20 0h1M25 71.5h1m20 0h1"/><path stroke="#65c0da" d="M41 16.5h1M19 17.5h1m18 0h2m10 0h1M36 18.5h1m15 0h2M18 19.5h1m16 0h1m18 0h1M34 20.5h1M17 21.5h1m15 0h1M17 22.5h1m14 0h1M31 24.5h1M31 25.5h1M31 26.5h1M31 27.5h1M31 28.5h1M32 29.5h1M16 30.5h1m16 0h1m1 0h1M34 31.5h1m7 0h2m4 0h1M17 32.5h1m23 0h1m8 0h1M17 33.5h1m33 0h1M52 34.5h1M18 35.5h1m34 0h1M19 36.5h1M20 37.5h1m33 0h1M20 38.5h2m9 0h1m22 0h1M22 39.5h1m7 0h1m7 0h1m16 0h1M24 40.5h6m9 0h1m15 0h1M40 41.5h1m14 0h1M40 42.5h1M41 44.5h1M41 45.5h1M41 46.5h1M40 48.5h1M40 49.5h1M39 50.5h1m14 0h1M38 51.5h1m15 0h1M17 52.5h1m19 0h1M18 53.5h2m15 0h2m16 0h1M21 54.5h1m11 0h2m17 0h1M30 55.5h2"/><path stroke="#62c8af" d="M18 0.5h1m5 0h1m22 0h1m5 0h1M18 1.5h1m5 0h1m22 0h1m5 0h1M18 2.5h1m5 0h1m22 0h1m5 0h1M18 3.5h1m5 0h1m22 0h1m5 0h1M18 4.5h1m5 0h1m22 0h1m5 0h1M18 5.5h1m5 0h1m22 0h1m5 0h1M18 6.5h1m5 0h1m22 0h1m5 0h1M18 7.5h1m5 0h1m22 0h1m5 0h1M18 8.5h1m5 0h1m22 0h1m5 0h1M18 9.5h1m5 0h1m22 0h1m5 0h1M18 10.5h1m5 0h1m22 0h1m5 0h1M18 11.5h1m5 0h1m22 0h1m5 0h1M18 12.5h1m5 0h1m22 0h1m5 0h1M18 13.5h1m5 0h1m22 0h1m5 0h1M18 14.5h1m5 0h1m22 0h1m5 0h1M18 15.5h1m5 0h1m22 0h1m5 0h1M18 16.5h1m5 0h1m13 0h3m6 0h1m5 0h1M18 17.5h1m17 0h2m13 0h2M0 18.5h17m1 0h1m16 0h1m18 0h18M17 19.5h1m15 0h2M17 20.5h1m15 0h1M32 21.5h1M31 22.5h1M31 23.5h1M0 24.5h17m13 0h1m24 0h17M30 25.5h1M30 26.5h1M30 27.5h1M31 29.5h1M32 30.5h1m10 0h6M16 31.5h1m15 0h2m1 0h1m5 0h1m7 0h2M16 32.5h1m16 0h3m4 0h1m10 0h1M16 33.5h1m17 0h2m3 0h2m11 0h1M17 34.5h1m16 0h7m12 0h1M17 35.5h1m16 0h4m16 0h1M18 36.5h1m12 0h7m16 0h1M19 37.5h1m12 0h7m16 0h1M19 38.5h1m12 0h2m2 0h3m16 0h1M20 39.5h2m9 0h2m4 0h1m1 0h1M22 40.5h2m6 0h1m9 0h1M24 41.5h5m12 0h1M41 42.5h1M41 43.5h1M0 47.5h17m24 0h1m13 0h17M41 48.5h1M40 50.5h1M39 51.5h1M38 52.5h1m15 0h1M0 53.5h18m19 0h1m17 0h17M19 54.5h2m14 0h1m17 0h1M18 55.5h1m5 0h1m7 0h2m13 0h1m5 0h1M18 56.5h1m5 0h1m22 0h1m5 0h1M18 57.5h1m5 0h1m22 0h1m5 0h1M18 58.5h1m5 0h1m22 0h1m5 0h1M18 59.5h1m5 0h1m22 0h1m5 0h1M18 60.5h1m5 0h1m22 0h1m5 0h1M18 61.5h1m5 0h1m22 0h1m5 0h1M18 62.5h1m5 0h1m22 0h1m5 0h1M18 63.5h1m5 0h1m22 0h1m5 0h1M18 64.5h1m5 0h1m22 0h1m5 0h1M18 65.5h1m5 0h1m22 0h1m5 0h1M18 66.5h1m5 0h1m22 0h1m5 0h1M18 67.5h1m5 0h1m22 0h1m5 0h1M18 68.5h1m5 0h1m22 0h1m5 0h1M18 69.5h1m5 0h1m22 0h1m5 0h1M18 70.5h1m5 0h1m22 0h1m5 0h1M18 71.5h1m5 0h1m22 0h1m5 0h1"/><path stroke="#68c87c" d="M36 16.5h2M35 17.5h1m17 0h1M17 18.5h1m15 0h2M32 19.5h1M32 20.5h1M31 21.5h1M30 22.5h1M30 23.5h1M30 28.5h1M30 29.5h1m12 0h6M31 30.5h1m9 0h2m6 0h2M31 31.5h1m7 0h2m10 0h1M32 32.5h1m3 0h4m12 0h1M32 33.5h2m2 0h3m14 0h1M16 34.5h1m16 0h1m20 0h1M32 35.5h2m4 0h2M17 36.5h1m20 0h2m15 0h1M18 37.5h1m20 0h1M18 38.5h1m15 0h2m3 0h2M19 39.5h1m13 0h4m3 0h1M20 40.5h2m9 0h2m8 0h1M22 41.5h2m5 0h2M24 42.5h4m14 0h1M42 43.5h1M42 44.5h1M42 45.5h1M42 46.5h1M42 47.5h1M42 48.5h1M41 49.5h1M41 50.5h1M40 51.5h1M39 52.5h1M38 53.5h1m15 0h1M18 54.5h1m17 0h2M34 55.5h2"/><path stroke="#96d060" d="M35 16.5h1M17 17.5h1m15 0h2m19 0h1M32 18.5h1M31 19.5h1M31 20.5h1M30 21.5h1M29 23.5h1M29 24.5h1M29 25.5h1M29 26.5h1M29 27.5h1M29 28.5h1m14 0h4M29 29.5h1m11 0h2m6 0h2M30 30.5h1m9 0h1m10 0h1M30 31.5h1m5 0h3m13 0h1M31 32.5h1m21 0h1M54 33.5h1M32 34.5h1m22 0h1M16 35.5h1m23 0h1m14 0h1M16 36.5h1m23 0h1M17 37.5h1m22 0h1M17 38.5h1M18 39.5h1m22 0h1M19 40.5h1m13 0h1m2 0h1m5 0h1M20 41.5h2m9 0h1m10 0h1M22 42.5h2m4 0h3m12 0h1M25 43.5h2m16 0h1M43 44.5h1M43 45.5h1M43 46.5h1M43 47.5h1M42 49.5h1M42 50.5h1M41 51.5h1M40 52.5h1M39 53.5h1M17 54.5h1m20 0h1m15 0h1M36 55.5h2"/><path stroke="#c6d444" d="M34 16.5h1M32 17.5h1M31 18.5h1M30 19.5h1M30 20.5h1M29 21.5h1M29 22.5h1M28 23.5h1M28 24.5h1M28 25.5h1M28 26.5h1M28 27.5h1m16 0h2M28 28.5h1m13 0h2m4 0h2M40 29.5h1m10 0h1M29 30.5h1m8 0h2m12 0h1M53 31.5h1M30 32.5h1m23 0h1M31 33.5h1m23 0h1M31 34.5h1M31 35.5h1M16 37.5h1m24 0h1M41 38.5h1M17 39.5h1m24 0h1M18 40.5h1m15 0h2M19 41.5h1m12 0h1m10 0h1M21 42.5h1m9 0h1M22 43.5h3m2 0h3m14 0h1M44 44.5h1M44 45.5h1M44 46.5h1M44 47.5h1M43 48.5h1M43 49.5h1M42 51.5h1M41 52.5h1M40 53.5h1M39 54.5h1M38 55.5h1"/><path stroke="#e4e13e" d="M17 0.5h1m5 0h1m24 0h1m5 0h1M17 1.5h1m5 0h1m24 0h1m5 0h1M17 2.5h1m5 0h1m24 0h1m5 0h1M17 3.5h1m5 0h1m24 0h1m5 0h1M17 4.5h1m5 0h1m24 0h1m5 0h1M17 5.5h1m5 0h1m24 0h1m5 0h1M17 6.5h1m5 0h1m24 0h1m5 0h1M17 7.5h1m5 0h1m24 0h1m5 0h1M17 8.5h1m5 0h1m24 0h1m5 0h1M17 9.5h1m5 0h1m24 0h1m5 0h1M17 10.5h1m5 0h1m24 0h1m5 0h1M17 11.5h1m5 0h1m24 0h1m5 0h1M17 12.5h1m5 0h1m24 0h1m5 0h1M17 13.5h1m5 0h1m24 0h1m5 0h1M17 14.5h1m5 0h1m24 0h1m5 0h1M17 15.5h1m5 0h1m24 0h1m5 0h1M17 16.5h1m5 0h1m8 0h2m14 0h1m5 0h1M0 17.5h17m14 0h1m23 0h17M30 18.5h1M29 19.5h1M29 20.5h1M28 21.5h1M28 22.5h1M0 23.5h17m10 0h1m27 0h17M27 24.5h1M27 25.5h1M27 26.5h1M27 27.5h1m14 0h3m2 0h3M27 28.5h1m12 0h2m8 0h2M28 29.5h1m10 0h1m12 0h1M28 30.5h1m7 0h2m15 0h1M29 31.5h1m24 0h1M55 32.5h1M30 33.5h1M41 35.5h1M41 36.5h1M16 38.5h1m25 0h1M16 39.5h1m26 0h1M17 40.5h1m25 0h1M18 41.5h1m14 0h1m10 0h1M19 42.5h2m11 0h1m11 0h1M21 43.5h1m8 0h2M23 44.5h7m15 0h1M45 45.5h1M45 46.5h1M0 48.5h17m27 0h1m10 0h17M44 49.5h1M43 50.5h1M43 51.5h1M42 52.5h1M41 53.5h1M0 54.5h17m23 0h1m14 0h17M17 55.5h1m5 0h1m15 0h1m8 0h1m5 0h1M17 56.5h1m5 0h1m24 0h1m5 0h1M17 57.5h1m5 0h1m24 0h1m5 0h1M17 58.5h1m5 0h1m24 0h1m5 0h1M17 59.5h1m5 0h1m24 0h1m5 0h1M17 60.5h1m5 0h1m24 0h1m5 0h1M17 61.5h1m5 0h1m24 0h1m5 0h1M17 62.5h1m5 0h1m24 0h1m5 0h1M17 63.5h1m5 0h1m24 0h1m5 0h1M17 64.5h1m5 0h1m24 0h1m5 0h1M17 65.5h1m5 0h1m24 0h1m5 0h1M17 66.5h1m5 0h1m24 0h1m5 0h1M17 67.5h1m5 0h1m24 0h1m5 0h1M17 68.5h1m5 0h1m24 0h1m5 0h1M17 69.5h1m5 0h1m24 0h1m5 0h1M17 70.5h1m5 0h1m24 0h1m5 0h1M17 71.5h1m5 0h1m24 0h1m5 0h1"/><path stroke="#c6d444" d="M31 16.5h1M30 17.5h1M29 18.5h1M28 20.5h1M27 21.5h1M27 22.5h1M26 24.5h1M26 25.5h1M26 26.5h1m16 0h6M26 27.5h1m14 0h1m8 0h1M39 28.5h1m12 0h1M27 29.5h1m10 0h1m14 0h1M27 30.5h1m26 0h1M28 31.5h1m26 0h1M29 32.5h1M30 34.5h1M42 37.5h1M43 38.5h1M16 40.5h1m27 0h1M17 41.5h1m16 0h1m10 0h1M18 42.5h1m14 0h1m11 0h1M19 43.5h2m11 0h1m12 0h1M21 44.5h2m7 0h1M23 45.5h6M45 47.5h1M45 48.5h1M45 49.5h1M44 50.5h1M44 51.5h1M43 52.5h1M42 53.5h1M41 54.5h1M40 55.5h1"/><path stroke="#96d060" d="M34 0.5h4M34 1.5h4M34 2.5h4M34 3.5h4M34 4.5h4M34 5.5h4M34 6.5h4M34 7.5h4M34 8.5h4M34 9.5h4M34 10.5h4M34 11.5h4M34 12.5h4M34 13.5h4M34 14.5h4M34 15.5h4M30 16.5h1M29 17.5h1M28 18.5h1M28 19.5h1M27 20.5h1M26 22.5h1M26 23.5h1M43 25.5h5M41 26.5h2m6 0h2M39 27.5h2m10 0h2M26 28.5h1m11 0h1m14 0h1M26 29.5h1m10 0h1m16 0h1M55 30.5h1M27 31.5h1M28 32.5h1M29 33.5h1M0 34.5h16m40 0h16M0 35.5h16m40 0h16M0 36.5h16m26 0h1m13 0h16M0 37.5h16m27 0h1m12 0h16M44 39.5h1M45 40.5h1M16 41.5h1m18 0h1M17 42.5h1m16 0h1m11 0h1M18 43.5h1m14 0h1m12 0h1M20 44.5h1m10 0h2m13 0h1M21 45.5h2m6 0h2m15 0h1M24 46.5h5m17 0h1M46 47.5h1M46 48.5h1M45 50.5h1M44 52.5h1M43 53.5h1M42 54.5h1M41 55.5h1M34 56.5h4M34 57.5h4M34 58.5h4M34 59.5h4M34 60.5h4M34 61.5h4M34 62.5h4M34 63.5h4M34 64.5h4M34 65.5h4M34 66.5h4M34 67.5h4M34 68.5h4M34 69.5h4M34 70.5h4M34 71.5h4"/><path stroke="#68c87c" d="M22 0.5h1m9 0h2m4 0h2m9 0h1M22 1.5h1m9 0h2m4 0h2m9 0h1M22 2.5h1m9 0h2m4 0h2m9 0h1M22 3.5h1m9 0h2m4 0h2m9 0h1M22 4.5h1m9 0h2m4 0h2m9 0h1M22 5.5h1m9 0h2m4 0h2m9 0h1M22 6.5h1m9 0h2m4 0h2m9 0h1M22 7.5h1m9 0h2m4 0h2m9 0h1M22 8.5h1m9 0h2m4 0h2m9 0h1M22 9.5h1m9 0h2m4 0h2m9 0h1M22 10.5h1m9 0h2m4 0h2m9 0h1M22 11.5h1m9 0h2m4 0h2m9 0h1M22 12.5h1m9 0h2m4 0h2m9 0h1M22 13.5h1m9 0h2m4 0h2m9 0h1M22 14.5h1m9 0h2m4 0h2m9 0h1M22 15.5h1m9 0h2m4 0h2m9 0h1M22 16.5h1m26 0h1M28 17.5h1M27 19.5h1M26 20.5h1M26 21.5h1M0 22.5h17m8 0h1m29 0h17M25 23.5h1M25 24.5h1m18 0h4M25 25.5h1m15 0h2m5 0h3M25 26.5h1m14 0h1m10 0h2M25 27.5h1m27 0h1M25 28.5h1m28 0h1M25 29.5h1M26 30.5h1M26 31.5h1M0 32.5h16m11 0h1m28 0h16M0 33.5h16m12 0h1m27 0h16M29 34.5h1M30 35.5h1M0 38.5h16m28 0h1m11 0h16M0 39.5h16m29 0h1m10 0h16M46 40.5h1M46 41.5h1M17 43.5h1m16 0h1m12 0h1M18 44.5h2m13 0h1m13 0h1M20 45.5h1m10 0h2m14 0h1M22 46.5h2m5 0h2m16 0h1M25 47.5h3m19 0h1M0 49.5h17m29 0h1m8 0h17M46 50.5h1M45 51.5h1M45 52.5h1M44 53.5h1M43 54.5h1M22 55.5h1m26 0h1M22 56.5h1m9 0h2m4 0h2m9 0h1M22 57.5h1m9 0h2m4 0h2m9 0h1M22 58.5h1m9 0h2m4 0h2m9 0h1M22 59.5h1m9 0h2m4 0h2m9 0h1M22 60.5h1m9 0h2m4 0h2m9 0h1M22 61.5h1m9 0h2m4 0h2m9 0h1M22 62.5h1m9 0h2m4 0h2m9 0h1M22 63.5h1m9 0h2m4 0h2m9 0h1M22 64.5h1m9 0h2m4 0h2m9 0h1M22 65.5h1m9 0h2m4 0h2m9 0h1M22 66.5h1m9 0h2m4 0h2m9 0h1M22 67.5h1m9 0h2m4 0h2m9 0h1M22 68.5h1m9 0h2m4 0h2m9 0h1M22 69.5h1m9 0h2m4 0h2m9 0h1M22 70.5h1m9 0h2m4 0h2m9 0h1M22 71.5h1m9 0h2m4 0h2m9 0h1"/><path stroke="#62c8af" d="M31 0.5h1m8 0h1M31 1.5h1m8 0h1M31 2.5h1m8 0h1M31 3.5h1m8 0h1M31 4.5h1m8 0h1M31 5.5h1m8 0h1M31 6.5h1m8 0h1M31 7.5h1m8 0h1M31 8.5h1m8 0h1M31 9.5h1m8 0h1M31 10.5h1m8 0h1M31 11.5h1m8 0h1M31 12.5h1m8 0h1M31 13.5h1m8 0h1M31 14.5h1m8 0h1M31 15.5h1m8 0h1M27 17.5h1M27 18.5h1M26 19.5h1M25 20.5h1M25 21.5h1M24 23.5h1M24 24.5h1m17 0h2m4 0h2M24 25.5h1m15 0h1m10 0h1M24 26.5h1m14 0h1m13 0h1M24 27.5h1m13 0h1m15 0h1M24 28.5h1m12 0h1M24 29.5h1m11 0h1M25 30.5h1M0 31.5h16m9 0h1m30 0h16M26 32.5h1M27 33.5h1M28 34.5h1M43 36.5h1M44 37.5h1M45 38.5h1M46 39.5h1M0 40.5h16m31 0h1m8 0h16M47 41.5h1M35 42.5h1m11 0h1M17 44.5h1m16 0h1M19 45.5h1m13 0h1M20 46.5h2m9 0h1M22 47.5h3m3 0h3M47 48.5h1M47 49.5h1M47 50.5h1M46 51.5h1M46 52.5h1M45 53.5h1M44 54.5h1M31 56.5h1m8 0h1M31 57.5h1m8 0h1M31 58.5h1m8 0h1M31 59.5h1m8 0h1M31 60.5h1m8 0h1M31 61.5h1m8 0h1M31 62.5h1m8 0h1M31 63.5h1m8 0h1M31 64.5h1m8 0h1M31 65.5h1m8 0h1M31 66.5h1m8 0h1M31 67.5h1m8 0h1M31 68.5h1m8 0h1M31 69.5h1m8 0h1M31 70.5h1m8 0h1M31 71.5h1m8 0h1"/><path stroke="#65c0da" d="M30 0.5h1m10 0h1M30 1.5h1m10 0h1M30 2.5h1m10 0h1M30 3.5h1m10 0h1M30 4.5h1m10 0h1M30 5.5h1m10 0h1M30 6.5h1m10 0h1M30 7.5h1m10 0h1M30 8.5h1m10 0h1M30 9.5h1m10 0h1M30 10.5h1m10 0h1M30 11.5h1m10 0h1M30 12.5h1m10 0h1M30 13.5h1m10 0h1M30 14.5h1m10 0h1M30 15.5h1m10 0h1M26 18.5h1M25 19.5h1M24 21.5h1M24 22.5h1M43 23.5h6M40 24.5h2m8 0h2M23 25.5h1m15 0h1m12 0h2M23 26.5h1m14 0h1m15 0h1M23 27.5h1m13 0h1M0 30.5h16m8 0h1m31 0h16M25 32.5h1M26 33.5h1M27 34.5h1M29 35.5h1m12 0h1M44 36.5h1M45 37.5h1M46 38.5h1M47 39.5h1M0 41.5h16m20 0h1m11 0h1m7 0h16M48 42.5h1M35 43.5h1m12 0h1M48 44.5h1M17 45.5h2m15 0h1m13 0h1M19 46.5h1m12 0h2m14 0h1M20 47.5h2m9 0h1m16 0h1M24 48.5h5m19 0h1M47 51.5h1M46 53.5h1M45 54.5h1M30 56.5h1m10 0h1M30 57.5h1m10 0h1M30 58.5h1m10 0h1M30 59.5h1m10 0h1M30 60.5h1m10 0h1M30 61.5h1m10 0h1M30 62.5h1m10 0h1M30 63.5h1m10 0h1M30 64.5h1m10 0h1M30 65.5h1m10 0h1M30 66.5h1m10 0h1M30 67.5h1m10 0h1M30 68.5h1m10 0h1M30 69.5h1m10 0h1M30 70.5h1m10 0h1M30 71.5h1m10 0h1"/><path stroke="#b6d34d" d="M21 0.5h1m28 0h1M21 1.5h1m28 0h1M21 2.5h1m28 0h1M21 3.5h1m28 0h1M21 4.5h1m28 0h1M21 5.5h1m28 0h1M21 6.5h1m28 0h1M21 7.5h1m28 0h1M21 8.5h1m28 0h1M21 9.5h1m28 0h1M21 10.5h1m28 0h1M21 11.5h1m28 0h1M21 12.5h1m28 0h1M21 13.5h1m28 0h1M21 14.5h1m28 0h1M21 15.5h1m28 0h1M21 16.5h1m28 0h1M26 17.5h1M25 18.5h1M24 19.5h1M24 20.5h1M0 21.5h17m38 0h17M23 22.5h1m20 0h4M23 23.5h1m17 0h2m6 0h2M23 24.5h1m15 0h1m12 0h1M38 25.5h1m15 0h1M37 26.5h1M23 28.5h1m12 0h1M23 29.5h1M23 30.5h1M24 31.5h1M24 32.5h1M25 33.5h1M26 34.5h1M28 35.5h1m14 0h1M45 36.5h1M46 37.5h1M47 38.5h1M48 40.5h1M36 42.5h1m12 0h1M49 43.5h1M35 44.5h1m13 0h1M49 45.5h1M18 46.5h1m15 0h1m14 0h1M19 47.5h1m12 0h2m15 0h1M21 48.5h3m5 0h3M25 49.5h4m19 0h1M0 50.5h17m31 0h1m6 0h17M47 52.5h1M46 54.5h1M21 55.5h1m28 0h1M21 56.5h1m28 0h1M21 57.5h1m28 0h1M21 58.5h1m28 0h1M21 59.5h1m28 0h1M21 60.5h1m28 0h1M21 61.5h1m28 0h1M21 62.5h1m28 0h1M21 63.5h1m28 0h1M21 64.5h1m28 0h1M21 65.5h1m28 0h1M21 66.5h1m28 0h1M21 67.5h1m28 0h1M21 68.5h1m28 0h1M21 69.5h1m28 0h1M21 70.5h1m28 0h1M21 71.5h1m28 0h1"/><path stroke="#f2c020" d="M29 0.5h1m12 0h1M29 1.5h1m12 0h1M29 2.5h1m12 0h1M29 3.5h1m12 0h1M29 4.5h1m12 0h1M29 5.5h1m12 0h1M29 6.5h1m12 0h1M29 7.5h1m12 0h1M29 8.5h1m12 0h1M29 9.5h1m12 0h1M29 10.5h1m12 0h1M29 11.5h1m12 0h1M29 12.5h1m12 0h1M29 13.5h1m12 0h1M29 14.5h1m12 0h1M29 15.5h1m12 0h1M29 16.5h1m12 0h1M25 17.5h1M24 18.5h1M23 20.5h1M23 21.5h1M41 22.5h3m4 0h2M22 23.5h1m16 0h2m10 0h1M22 24.5h1m15 0h1m14 0h1M22 25.5h1m14 0h1M22 26.5h1m13 0h1M22 27.5h1m13 0h1M22 28.5h1M0 29.5h17m5 0h1m32 0h17M23 31.5h1M24 33.5h1M25 34.5h1M27 35.5h1m16 0h1M46 36.5h1M47 37.5h1M48 38.5h1M48 39.5h1M49 40.5h1M49 41.5h1M0 42.5h17m38 0h17M36 43.5h1m13 0h1M50 44.5h1M35 45.5h1m14 0h1M17 46.5h1m32 0h1M18 47.5h1m15 0h1M20 48.5h1m11 0h1m16 0h1M22 49.5h3m4 0h2m18 0h1M49 50.5h1M48 51.5h1M48 52.5h1M47 53.5h1M47 54.5h1M29 55.5h1m12 0h1M29 56.5h1m12 0h1M29 57.5h1m12 0h1M29 58.5h1m12 0h1M29 59.5h1m12 0h1M29 60.5h1m12 0h1M29 61.5h1m12 0h1M29 62.5h1m12 0h1M29 63.5h1m12 0h1M29 64.5h1m12 0h1M29 65.5h1m12 0h1M29 66.5h1m12 0h1M29 67.5h1m12 0h1M29 68.5h1m12 0h1M29 69.5h1m12 0h1M29 70.5h1m12 0h1M29 71.5h1m12 0h1"/><path stroke="#e96a27" d="M28 0.5h1m14 0h1M28 1.5h1m14 0h1M28 2.5h1m14 0h1M28 3.5h1m14 0h1M28 4.5h1m14 0h1M28 5.5h1m14 0h1M28 6.5h1m14 0h1M28 7.5h1m14 0h1M28 8.5h1m14 0h1M28 9.5h1m14 0h1M28 10.5h1m14 0h1M28 11.5h1m14 0h1M28 12.5h1m14 0h1M28 13.5h1m14 0h1M28 14.5h1m14 0h1M28 15.5h1m14 0h1M16 16.5h1m11 0h1m14 0h1m11 0h1M24 17.5h1M23 19.5h1M22 21.5h1m19 0h7M22 22.5h1m16 0h2m9 0h2M38 23.5h1m13 0h2M21 24.5h1m15 0h1m16 0h1M21 25.5h1m14 0h1M21 26.5h1M21 27.5h1M0 28.5h17m4 0h1m13 0h1m19 0h17M21 29.5h1M22 30.5h1M22 31.5h1M23 32.5h1M23 33.5h1M24 34.5h1M25 35.5h2m18 0h2M28 36.5h2m17 0h1M48 37.5h1M49 38.5h1M49 39.5h1M50 40.5h1M50 41.5h1M50 42.5h1M0 43.5h17m38 0h17M36 44.5h1M36 45.5h1M35 46.5h1M17 47.5h1m17 0h1m14 0h1M18 48.5h2m13 0h1m16 0h1M20 49.5h2m9 0h2m17 0h1M23 50.5h8M49 51.5h1M48 53.5h1M16 55.5h1m11 0h1m14 0h1m11 0h1M28 56.5h1m14 0h1M28 57.5h1m14 0h1M28 58.5h1m14 0h1M28 59.5h1m14 0h1M28 60.5h1m14 0h1M28 61.5h1m14 0h1M28 62.5h1m14 0h1M28 63.5h1m14 0h1M28 64.5h1m14 0h1M28 65.5h1m14 0h1M28 66.5h1m14 0h1M28 67.5h1m14 0h1M28 68.5h1m14 0h1M28 69.5h1m14 0h1M28 70.5h1m14 0h1M28 71.5h1m14 0h1"/><path stroke="#e02e2e" d="M20 0.5h1m30 0h1M20 1.5h1m30 0h1M20 2.5h1m30 0h1M20 3.5h1m30 0h1M20 4.5h1m30 0h1M20 5.5h1m30 0h1M20 6.5h1m30 0h1M16 7.5h1m3 0h1m30 0h1m3 0h1M14 8.5h3m3 0h1m30 0h1m3 0h3M13 9.5h4m3 0h1m30 0h1m3 0h4M12 10.5h5m3 0h1m30 0h1m3 0h5M11 11.5h6m3 0h1m30 0h1m3 0h6M10 12.5h7m3 0h1m30 0h1m3 0h7M9 13.5h8m3 0h1m30 0h1m3 0h8M8 14.5h9m3 0h1m30 0h1m3 0h9M8 15.5h9m3 0h1m30 0h1m3 0h9M7 16.5h9m4 0h1m30 0h1m4 0h9M23 18.5h1M22 19.5h1M0 20.5h17m5 0h1m19 0h6m7 0h17M21 21.5h1m18 0h2m7 0h2M21 22.5h1m16 0h1m13 0h1M21 23.5h1m15 0h1m16 0h1M36 24.5h1M20 25.5h1M20 26.5h1m14 0h1M20 27.5h1m14 0h1M20 28.5h1M35 29.5h1M21 30.5h1M21 31.5h1M22 32.5h1M22 33.5h1M23 34.5h1m19 0h3M24 35.5h1m22 0h1M26 36.5h2m20 0h1M49 37.5h1M50 39.5h1M51 41.5h1M37 42.5h1m13 0h1M37 43.5h1m13 0h1M37 44.5h1m13 0h1M51 45.5h1M36 46.5h1m14 0h1M36 47.5h1m14 0h1M17 48.5h1m16 0h2m15 0h1M19 49.5h1m13 0h1M21 50.5h2m8 0h2m17 0h1M0 51.5h17m7 0h6m20 0h1m4 0h17M49 52.5h1M49 53.5h1M48 54.5h1M7 55.5h9m4 0h1m30 0h1m4 0h9M8 56.5h9m3 0h1m30 0h1m3 0h9M8 57.5h9m3 0h1m30 0h1m3 0h9M9 58.5h8m3 0h1m30 0h1m3 0h8M10 59.5h7m3 0h1m30 0h1m3 0h7M11 60.5h6m3 0h1m30 0h1m3 0h6M12 61.5h5m3 0h1m30 0h1m3 0h5M13 62.5h4m3 0h1m30 0h1m3 0h4M14 63.5h3m3 0h1m30 0h1m3 0h3M16 64.5h1m3 0h1m30 0h1m3 0h1M20 65.5h1m30 0h1M20 66.5h1m30 0h1M20 67.5h1m30 0h1M20 68.5h1m30 0h1M20 69.5h1m30 0h1M20 70.5h1m30 0h1M20 71.5h1m30 0h1"/></g><rect x="1199.5" y="2378" width="291.5" height="291.5" fill="none" stroke="#444" stroke-width="1.5"/><text transform="translate(1178.5,2406.5) scale(0.95,1)" text-anchor="end" font-size="56">15</text><text transform="translate(1178.5,2545.2) scale(0.95,1)" text-anchor="end" font-size="56">0</text><text transform="translate(1178.5,2682) scale(0.95,1)" text-anchor="end" font-size="56">−15</text><text transform="translate(1219.5,2730.5) scale(0.95,1)" text-anchor="middle" font-size="56">−15</text><text transform="translate(1347.2,2730.5) scale(0.95,1)" text-anchor="middle" font-size="56">0</text><text transform="translate(1473,2730.5) scale(0.95,1)" text-anchor="middle" font-size="56">15</text><text transform="translate(1056.5,2523.8) rotate(-90)" text-anchor="middle" font-size="56"><tspan font-style="italic">y</tspan>/μm</text><text transform="translate(1336.2,2789.5)" text-anchor="middle" font-size="56"><tspan font-style="italic">x</tspan>/μm</text><text transform="translate(1335.2,2865.5)" text-anchor="middle" font-size="56"><tspan font-style="italic">z</tspan>=30 μm</text><text transform="translate(1336.2,2945.5)" text-anchor="middle" font-size="56">(a5)</text><g transform="translate(1686,2378) scale(4.04861)" shape-rendering="crispEdges" stroke-width="1.04" fill="none"><rect width="72" height="72" fill="#3752a3"/><path stroke="#2c4090" d="M17 0.5h4M17 1.5h4M18 2.5h4M18 3.5h4M19 4.5h3M19 5.5h4M20 6.5h3M21 7.5h3M21 8.5h3M22 9.5h2M22 10.5h3M23 11.5h2M23 12.5h3M24 13.5h2M24 14.5h2M25 15.5h2M25 16.5h2m44 0h1M26 17.5h2m41 0h3M27 18.5h1m39 0h5M27 19.5h2m36 0h7M28 20.5h1m34 0h7M28 21.5h2m32 0h6M29 22.5h1m30 0h5M30 23.5h1m27 0h5M30 24.5h2m24 0h4M31 25.5h1m22 0h4M32 26.5h1m19 0h4M33 27.5h1m17 0h3M35 28.5h1m13 0h3M48 29.5h2M46 30.5h2M45 31.5h1M44 32.5h1M43 34.5h1M27 39.5h1M25 40.5h2M24 41.5h1M22 42.5h2m12 0h1M20 43.5h3m15 0h1M18 44.5h3m18 0h1M15 45.5h4m21 0h1M13 46.5h4m24 0h1M11 47.5h5m26 0h1M8 48.5h5m29 0h2M6 49.5h6m31 0h1M3 50.5h7m33 0h2M1 51.5h7m36 0h1M0 52.5h6m38 0h2M0 53.5h5m40 0h2M0 54.5h3m42 0h2M0 55.5h1m45 0h2M46 56.5h2M47 57.5h2M47 58.5h2M48 59.5h2M48 60.5h2M48 61.5h3M49 62.5h2M49 63.5h3M49 64.5h4M50 65.5h3M50 66.5h4M51 67.5h3M51 68.5h4M51 69.5h4M52 70.5h4M52 71.5h4"/><path stroke="#32499a" d="M0 0.5h17m52 0h3M0 1.5h17m52 0h3M0 2.5h1m8 0h9m51 0h3M12 3.5h6m51 0h3M13 4.5h6m51 0h2M15 5.5h4m51 0h2M16 6.5h4m49 0h3M17 7.5h4m48 0h3M18 8.5h3m48 0h3M18 9.5h4m47 0h3M19 10.5h3m46 0h4M20 11.5h3m45 0h4M21 12.5h2m44 0h5M21 13.5h3m43 0h5M22 14.5h2m42 0h6M23 15.5h2m40 0h7M24 16.5h1m39 0h7M24 17.5h2m37 0h6M25 18.5h2m34 0h6M25 19.5h2m33 0h5M26 20.5h2m31 0h4M27 21.5h1m29 0h5M27 22.5h2m27 0h4M28 23.5h2m25 0h3M29 24.5h1m23 0h3M30 25.5h1m20 0h3M31 26.5h1m18 0h2M32 27.5h1m15 0h3M33 28.5h2m12 0h2M46 29.5h2M45 30.5h1M44 31.5h1M43 33.5h1M28 38.5h1M28 39.5h1M27 40.5h1M25 41.5h2M24 42.5h2m11 0h1M23 43.5h1m15 0h1M21 44.5h2m17 0h2M19 45.5h3m19 0h2M17 46.5h3m22 0h1M16 47.5h3m24 0h1M13 48.5h4m27 0h1M12 49.5h4m28 0h2M10 50.5h4m31 0h1M8 51.5h5m32 0h2M6 52.5h6m34 0h2M5 53.5h5m37 0h1M3 54.5h6m38 0h2M1 55.5h7m40 0h2M0 56.5h7m41 0h2M0 57.5h6m43 0h2M0 58.5h5m44 0h3M0 59.5h4m46 0h3M0 60.5h4m46 0h3M0 61.5h3m48 0h3M0 62.5h3m48 0h4M0 63.5h3m49 0h4M0 64.5h3m50 0h4M0 65.5h3m50 0h5M0 66.5h2m52 0h5M0 67.5h3m51 0h7M0 68.5h3m52 0h8M0 69.5h3m52 0h17M0 70.5h3m53 0h16M0 71.5h3m53 0h16"/><path stroke="#3e5aae" d="M60 0.5h3M60 1.5h3M60 2.5h3M60 3.5h3M60 4.5h3M60 5.5h3M60 6.5h3M60 7.5h3M4 8.5h6m50 0h3M0 9.5h13m47 0h3M0 10.5h15m44 0h4M0 11.5h16m43 0h4M12 12.5h5m42 0h3M14 13.5h4m40 0h4M16 14.5h3m39 0h3M17 15.5h3m37 0h3M18 16.5h3m35 0h4M19 17.5h3m33 0h4M20 18.5h3m31 0h4M21 19.5h3m30 0h2M22 20.5h2m29 0h2M23 21.5h2m27 0h2M24 22.5h2m24 0h3M25 23.5h2m22 0h3M26 24.5h2m20 0h2M27 25.5h2m18 0h2M28 26.5h1m17 0h2M29 27.5h2m14 0h2M30 28.5h2m12 0h2M32 29.5h4m8 0h1M43 30.5h1M42 31.5h1M42 32.5h1M42 33.5h1M42 34.5h1M29 39.5h1M29 40.5h1M28 41.5h1m9 0h1M27 42.5h1m12 0h2M26 43.5h2m14 0h1M25 44.5h2m16 0h1M24 45.5h2m18 0h1M23 46.5h2m20 0h1M22 47.5h2m22 0h1M20 48.5h3m24 0h1M19 49.5h3m26 0h1M18 50.5h2m28 0h2M17 51.5h2m30 0h2M15 52.5h3m32 0h2M14 53.5h4m33 0h2M13 54.5h4m34 0h3M12 55.5h4m36 0h3M12 56.5h3m38 0h4M11 57.5h3m40 0h4M10 58.5h4m41 0h5M10 59.5h3m43 0h8M9 60.5h4m45 0h14M9 61.5h4m46 0h13M9 62.5h3m50 0h10M9 63.5h3M9 64.5h3M9 65.5h3M9 66.5h3M9 67.5h3M9 68.5h3M9 69.5h3M9 70.5h3M9 71.5h3"/><path stroke="#446cc0" d="M58 0.5h2M58 1.5h2M58 2.5h2M58 3.5h2M58 4.5h2M58 5.5h2M58 6.5h2M58 7.5h2M57 8.5h3M57 9.5h3M57 10.5h2M56 11.5h3M0 12.5h12m44 0h3M0 13.5h14m41 0h3M9 14.5h7m39 0h3M12 15.5h5m37 0h3M14 16.5h4m35 0h3M16 17.5h3m34 0h2M17 18.5h3m32 0h2M18 19.5h3m30 0h3M20 20.5h2m28 0h3M21 21.5h2m26 0h3M22 22.5h2m24 0h2M23 23.5h2m23 0h1M24 24.5h2m21 0h1M25 25.5h2m19 0h1M26 26.5h2m17 0h1M27 27.5h2m15 0h1M29 28.5h1m13 0h1M30 29.5h2m10 0h2M32 30.5h3m7 0h1M41 31.5h1M41 32.5h1M41 33.5h1M30 37.5h1M30 38.5h1M30 39.5h1M30 40.5h1M29 41.5h1m7 0h1m1 0h3M28 42.5h2m12 0h2M28 43.5h1m14 0h2M27 44.5h1m16 0h2M26 45.5h1m18 0h2M25 46.5h1m20 0h2M24 47.5h1m22 0h2M23 48.5h1m24 0h3M22 49.5h2m25 0h3M20 50.5h3m27 0h3M19 51.5h3m29 0h3M18 52.5h3m31 0h3M18 53.5h2m33 0h4M17 54.5h2m35 0h4M16 55.5h3m36 0h5M15 56.5h3m39 0h5M14 57.5h3m41 0h9M14 58.5h3m43 0h12M13 59.5h3m48 0h8M13 60.5h3M13 61.5h2M12 62.5h3M12 63.5h3M12 64.5h3M12 65.5h2M12 66.5h2M12 67.5h2M12 68.5h2M12 69.5h2M12 70.5h2M12 71.5h2"/><path stroke="#61bcde" d="M57 0.5h1M56 1.5h2M56 2.5h2M56 3.5h2M56 4.5h2M56 5.5h2M56 6.5h2M55 7.5h3M55 8.5h2M55 9.5h2M54 10.5h3M54 11.5h2M53 12.5h3M53 13.5h2M0 14.5h9m43 0h3M2 15.5h10m40 0h2M8 16.5h6m37 0h2M11 17.5h5m34 0h3M13 18.5h4m33 0h2M15 19.5h3m31 0h2M16 20.5h4m28 0h2M18 21.5h3m27 0h1M19 22.5h3m25 0h1M21 23.5h2m23 0h2M22 24.5h2m21 0h2M23 25.5h2m19 0h2M24 26.5h2m17 0h2M26 27.5h1m16 0h1M27 28.5h2m13 0h1M28 29.5h2m11 0h1M30 30.5h2m3 0h1m5 0h1M32 31.5h2m6 0h1M40 32.5h1M41 34.5h1M30 36.5h1M31 37.5h1M31 38.5h1M31 39.5h1M31 40.5h1m5 0h5M30 41.5h1m11 0h2M30 42.5h1m13 0h1M29 43.5h1m15 0h2M28 44.5h1m17 0h2M27 45.5h2m18 0h2M26 46.5h2m20 0h2M25 47.5h2m22 0h2M24 48.5h2m25 0h2M24 49.5h1m27 0h2M23 50.5h2m28 0h3M22 51.5h2m30 0h3M21 52.5h2m32 0h4M20 53.5h3m34 0h4M19 54.5h3m36 0h5M19 55.5h2m39 0h7M18 56.5h2m42 0h10M17 57.5h3m47 0h5M17 58.5h2M16 59.5h3M16 60.5h2M15 61.5h3M15 62.5h2M15 63.5h2M15 64.5h2M14 65.5h3M14 66.5h2M14 67.5h2M14 68.5h2M14 69.5h2M14 70.5h2M14 71.5h2"/><path stroke="#68c87c" d="M55 0.5h2M55 1.5h1M55 2.5h1M54 3.5h2M54 4.5h2M54 5.5h2M54 6.5h2M53 7.5h2M53 8.5h2M53 9.5h2M52 10.5h2M52 11.5h2M51 12.5h2M51 13.5h2M50 14.5h2M0 15.5h2m47 0h3M0 16.5h8m41 0h2M4 17.5h7m37 0h2M8 18.5h5m35 0h2M10 19.5h5m32 0h2M12 20.5h4m31 0h1M14 21.5h4m28 0h2M16 22.5h3m26 0h2M18 23.5h3m24 0h1M20 24.5h2m22 0h1M21 25.5h2m20 0h1M23 26.5h1m18 0h1M24 27.5h2m16 0h1M25 28.5h2m14 0h1M27 29.5h1m8 0h1m3 0h1M28 30.5h2m6 0h1m2 0h2M30 31.5h2m2 0h3m2 0h1M32 32.5h3m4 0h1M39 33.5h2M40 34.5h1M40 35.5h3M31 36.5h1M32 37.5h1M32 38.5h1m7 0h1M32 39.5h1m4 0h6M32 40.5h1m3 0h1m5 0h2M31 41.5h1m4 0h1m7 0h2M31 42.5h1m13 0h2M30 43.5h1m16 0h1M29 44.5h2m17 0h2M29 45.5h1m19 0h2M28 46.5h1m21 0h3M27 47.5h2m22 0h3M26 48.5h2m25 0h3M25 49.5h2m27 0h4M25 50.5h1m30 0h4M24 51.5h2m31 0h5M23 52.5h2m34 0h5M23 53.5h1m37 0h6M22 54.5h2m39 0h8M21 55.5h2m44 0h5M20 56.5h3M20 57.5h2M19 58.5h3M19 59.5h2M18 60.5h3M18 61.5h2M17 62.5h3M17 63.5h2M17 64.5h2M17 65.5h2M16 66.5h2M16 67.5h2M16 68.5h2M16 69.5h2M16 70.5h1M16 71.5h1"/><path stroke="#d5da41" d="M53 0.5h2M53 1.5h2M53 2.5h2M52 3.5h2M52 4.5h2M52 5.5h2M51 6.5h3M51 7.5h2M51 8.5h2M50 9.5h3M50 10.5h2M49 11.5h3M49 12.5h2M48 13.5h3M48 14.5h2M48 15.5h1M47 16.5h2M0 17.5h4m43 0h1M0 18.5h8m38 0h2M4 19.5h6m35 0h2M7 20.5h5m33 0h2M10 21.5h4m30 0h2M12 22.5h4m28 0h1M14 23.5h4m25 0h2M16 24.5h4m22 0h2M18 25.5h3m21 0h1M20 26.5h3m18 0h1M22 27.5h2m17 0h1M23 28.5h2m15 0h1M25 29.5h2m12 0h1M26 30.5h2m9 0h2M28 31.5h2m7 0h2M30 32.5h2m3 0h4M31 33.5h8M31 34.5h3m4 0h2M30 35.5h4m4 0h2M32 36.5h2m4 0h4M33 37.5h1m4 0h4M33 38.5h7m1 0h2M33 39.5h4m6 0h1M33 40.5h3m8 0h2M32 41.5h2m1 0h1m10 0h1M32 42.5h1m14 0h2M31 43.5h1m16 0h3M31 44.5h1m18 0h2M30 45.5h1m20 0h3M29 46.5h1m23 0h3M29 47.5h1m24 0h4M28 48.5h1m27 0h4M27 49.5h2m29 0h4M26 50.5h2m32 0h5M26 51.5h1m35 0h6M25 52.5h2m37 0h7M24 53.5h2m41 0h5M24 54.5h2m45 0h1M23 55.5h2M23 56.5h2M22 57.5h2M22 58.5h2M21 59.5h2M21 60.5h2M20 61.5h3M20 62.5h2M19 63.5h3M19 64.5h2M19 65.5h2M18 66.5h3M18 67.5h2M18 68.5h2M18 69.5h2M17 70.5h2M17 71.5h2"/><path stroke="#68c87c" d="M51 0.5h2M51 1.5h2M51 2.5h2M50 3.5h2M50 4.5h2M50 5.5h2M49 6.5h2M49 7.5h2M48 8.5h3M48 9.5h2M48 10.5h2M47 11.5h2M47 12.5h2M47 13.5h1M46 14.5h2M46 15.5h2M45 16.5h2M45 17.5h2M44 18.5h2M0 19.5h4m40 0h1M0 20.5h7m36 0h2M3 21.5h7m33 0h1M6 22.5h6m30 0h2M9 23.5h5m28 0h1M12 24.5h4m25 0h1M14 25.5h4m23 0h1M16 26.5h4m20 0h1M18 27.5h4m18 0h1M21 28.5h2m16 0h1M23 29.5h2m12 0h2M24 30.5h2M26 31.5h2M28 32.5h2M29 33.5h2M30 34.5h1m3 0h4M34 35.5h4M34 36.5h4m4 0h1M34 37.5h4m4 0h1M43 38.5h1M44 39.5h2M46 40.5h2M34 41.5h1m12 0h3M33 42.5h1m15 0h3M32 43.5h1m18 0h3M32 44.5h1m19 0h4M31 45.5h1m22 0h4M30 46.5h2m24 0h4M30 47.5h1m27 0h5M29 48.5h2m29 0h6M29 49.5h1m32 0h6M28 50.5h2m35 0h6M27 51.5h2m39 0h4M27 52.5h2m42 0h1M26 53.5h2M26 54.5h2M25 55.5h2M25 56.5h2M24 57.5h2M24 58.5h2M23 59.5h2M23 60.5h2M23 61.5h2M22 62.5h2M22 63.5h2M21 64.5h3M21 65.5h2M21 66.5h2M20 67.5h3M20 68.5h2M20 69.5h2M19 70.5h3M19 71.5h2"/><path stroke="#65c0da" d="M49 0.5h2M48 1.5h3M48 2.5h3M48 3.5h2M48 4.5h2M47 5.5h3M47 6.5h2M47 7.5h2M46 8.5h2M46 9.5h2M46 10.5h2M45 11.5h2M45 12.5h2M45 13.5h2M44 14.5h2M44 15.5h2M43 16.5h2M43 17.5h2M43 18.5h1M42 19.5h2M42 20.5h1M0 21.5h3m39 0h1M0 22.5h6m35 0h1M2 23.5h7m32 0h1M5 24.5h7m28 0h1M8 25.5h6m26 0h1M11 26.5h5m23 0h1M14 27.5h4m21 0h1M17 28.5h4m17 0h1M19 29.5h4M22 30.5h2M24 31.5h2M26 32.5h2M28 33.5h1M29 34.5h1M29 35.5h1M43 37.5h1M44 38.5h2M46 39.5h2M48 40.5h2M50 41.5h3M34 42.5h1m17 0h3M33 43.5h1m20 0h4M56 44.5h5M32 45.5h1m25 0h6M32 46.5h1m27 0h6M31 47.5h1m31 0h6M31 48.5h1m34 0h6M30 49.5h1m37 0h4M30 50.5h1m40 0h1M29 51.5h2M29 52.5h1M28 53.5h2M28 54.5h1M27 55.5h2M27 56.5h2M26 57.5h2M26 58.5h2M25 59.5h3M25 60.5h2M25 61.5h2M24 62.5h3M24 63.5h2M24 64.5h2M23 65.5h3M23 66.5h2M23 67.5h2M22 68.5h2M22 69.5h2M22 70.5h2M21 71.5h3"/><path stroke="#68c87c" d="M46 0.5h3M46 1.5h2M46 2.5h2M45 3.5h3M45 4.5h3M45 5.5h2M45 6.5h2M44 7.5h3M44 8.5h2M44 9.5h2M43 10.5h3M43 11.5h2M43 12.5h2M43 13.5h2M42 14.5h2M42 15.5h2M42 16.5h1M41 17.5h2M41 18.5h2M41 19.5h1M41 20.5h1M40 21.5h2M40 22.5h1M0 23.5h2m38 0h1M0 24.5h5m34 0h1M0 25.5h8m31 0h1M3 26.5h8M7 27.5h7m24 0h1M11 28.5h6m20 0h1M14 29.5h5M18 30.5h4M21 31.5h3M24 32.5h2M27 33.5h1M43 36.5h1M44 37.5h1M46 38.5h2M48 39.5h3M50 40.5h4M53 41.5h5M35 42.5h1m19 0h6M34 43.5h1m23 0h7M33 44.5h1m27 0h7M33 45.5h1m30 0h8M33 46.5h1m32 0h6M32 47.5h1m36 0h3M32 48.5h1M31 49.5h2M31 50.5h1M31 51.5h1M30 52.5h2M30 53.5h1M29 54.5h2M29 55.5h2M29 56.5h2M28 57.5h2M28 58.5h2M28 59.5h2M27 60.5h2M27 61.5h2M27 62.5h2M26 63.5h3M26 64.5h2M26 65.5h2M25 66.5h3M25 67.5h2M24 68.5h3M24 69.5h3M24 70.5h3M24 71.5h2"/><path stroke="#d5da41" d="M43 0.5h3M43 1.5h3M43 2.5h3M43 3.5h2M43 4.5h2M42 5.5h3M42 6.5h3M42 7.5h2M42 8.5h2M42 9.5h2M41 10.5h2M41 11.5h2M41 12.5h2M41 13.5h2M41 14.5h1M40 15.5h2M40 16.5h2M40 17.5h1M40 18.5h1M40 19.5h1M39 20.5h2M39 21.5h1M39 22.5h1M39 23.5h1M38 24.5h1M38 25.5h1M0 26.5h3m35 0h1M0 27.5h7M0 28.5h11M5 29.5h9M10 30.5h8M15 31.5h6M20 32.5h4M24 33.5h3M28 34.5h1M45 37.5h3M48 38.5h4M51 39.5h5M54 40.5h7M58 41.5h8M61 42.5h10M65 43.5h7M34 44.5h1m33 0h4M34 45.5h1M33 47.5h1M33 48.5h1M33 49.5h1M32 50.5h1M32 51.5h1M32 52.5h1M31 53.5h2M31 54.5h2M31 55.5h1M31 56.5h1M30 57.5h2M30 58.5h2M30 59.5h2M29 60.5h2M29 61.5h2M29 62.5h2M29 63.5h2M28 64.5h3M28 65.5h2M28 66.5h2M27 67.5h3M27 68.5h3M27 69.5h3M27 70.5h2M26 71.5h3"/><path stroke="#77cb73" d="M40 0.5h3M40 1.5h3M40 2.5h3M40 3.5h3M40 4.5h3M40 5.5h2M40 6.5h2M40 7.5h2M40 8.5h2M39 9.5h3M39 10.5h2M39 11.5h2M39 12.5h2M39 13.5h2M39 14.5h2M39 15.5h1M39 16.5h1M38 17.5h2M38 18.5h2M38 19.5h2M38 20.5h1M38 21.5h1M38 22.5h1M38 23.5h1M37 26.5h1M37 27.5h1M0 29.5h5M0 30.5h10M0 31.5h15M9 32.5h11M17 33.5h7M25 34.5h3M44 36.5h2M48 37.5h5M52 38.5h10M56 39.5h14M61 40.5h11M66 41.5h6M71 42.5h1M35 43.5h1M34 46.5h1M34 47.5h1M34 48.5h1M34 49.5h1M33 50.5h2M33 51.5h2M33 52.5h1M33 53.5h1M33 54.5h1M32 55.5h2M32 56.5h2M32 57.5h2M32 58.5h2M32 59.5h2M31 60.5h2M31 61.5h2M31 62.5h2M31 63.5h2M31 64.5h2M30 65.5h3M30 66.5h3M30 67.5h3M30 68.5h3M30 69.5h2M29 70.5h3M29 71.5h3"/><path stroke="#6cc8d4" d="M38 0.5h2M38 1.5h2M38 2.5h2M38 3.5h2M38 4.5h2M37 5.5h3M37 6.5h3M37 7.5h3M37 8.5h3M37 9.5h2M37 10.5h2M37 11.5h2M37 12.5h2M37 13.5h2M37 14.5h2M37 15.5h2M37 16.5h2M37 17.5h1M37 18.5h1M37 19.5h1M37 20.5h1M37 21.5h1M37 22.5h1M37 23.5h1M37 24.5h1M37 25.5h1M0 32.5h9M0 33.5h17M3 34.5h22M28 35.5h1m14 0h1M46 36.5h16M53 37.5h19M62 38.5h10M70 39.5h2M35 44.5h1M35 45.5h1M35 46.5h1M35 47.5h1M35 48.5h1M35 49.5h1M35 50.5h1M35 51.5h1M34 52.5h2M34 53.5h2M34 54.5h2M34 55.5h2M34 56.5h2M34 57.5h2M34 58.5h2M34 59.5h1M33 60.5h2M33 61.5h2M33 62.5h2M33 63.5h2M33 64.5h2M33 65.5h2M33 66.5h2M33 67.5h2M33 68.5h2M32 69.5h3M32 70.5h3M32 71.5h3"/><path stroke="#c6d444" d="M35 0.5h3M35 1.5h3M35 2.5h3M35 3.5h3M35 4.5h3M35 5.5h2M35 6.5h2M35 7.5h2M35 8.5h2M35 9.5h2M35 10.5h2M35 11.5h2M35 12.5h2M35 13.5h2M36 14.5h1M36 15.5h1M36 16.5h1M36 17.5h1M36 18.5h1M36 19.5h1M36 20.5h1M36 21.5h1M36 22.5h1M36 23.5h1M36 24.5h1M36 25.5h1M36 26.5h1M36 27.5h1M36 28.5h1M0 34.5h3m59 0h10M0 35.5h28m16 0h28M0 36.5h18m44 0h10M36 46.5h1M36 47.5h1M36 48.5h1M36 49.5h1M36 50.5h1M36 51.5h1M36 52.5h1M36 53.5h1M36 54.5h1M36 55.5h1M36 56.5h1M36 57.5h1M36 58.5h1M35 59.5h2M35 60.5h2M35 61.5h2M35 62.5h3M35 63.5h3M35 64.5h3M35 65.5h3M35 66.5h3M35 67.5h3M35 68.5h3M35 69.5h3M35 70.5h3M35 71.5h3"/><path stroke="#eb8d27" d="M32 0.5h3M32 1.5h3M32 2.5h3M32 3.5h3M33 4.5h2M33 5.5h2M33 6.5h2M33 7.5h2M33 8.5h2M33 9.5h2M33 10.5h2M33 11.5h2M34 12.5h1M34 13.5h1M34 14.5h2M34 15.5h2M34 16.5h2M34 17.5h2M34 18.5h2M34 19.5h2M35 20.5h1M35 21.5h1M35 22.5h1M35 23.5h1M35 24.5h1M70 31.5h2M62 32.5h10M54 33.5h18M47 34.5h15M18 36.5h9M0 37.5h21M0 38.5h14M0 39.5h5M36 43.5h1M36 44.5h1M36 45.5h1M37 47.5h1M37 48.5h1M37 49.5h1M37 50.5h1M37 51.5h1M37 52.5h1M37 53.5h2M37 54.5h2M37 55.5h2M37 56.5h2M37 57.5h2M37 58.5h2M37 59.5h2M37 60.5h2M37 61.5h3M38 62.5h2M38 63.5h2M38 64.5h2M38 65.5h2M38 66.5h2M38 67.5h2M38 68.5h2M38 69.5h2M38 70.5h3M38 71.5h3"/><path stroke="#e84928" d="M29 0.5h3M30 1.5h2M30 2.5h2M30 3.5h2M30 4.5h3M30 5.5h3M30 6.5h3M31 7.5h2M31 8.5h2M31 9.5h2M31 10.5h2M31 11.5h2M32 12.5h2M32 13.5h2M32 14.5h2M32 15.5h2M33 16.5h1M33 17.5h1M33 18.5h1M33 19.5h1M33 20.5h2M34 21.5h1M34 22.5h1M34 23.5h1M35 25.5h1M35 26.5h1M67 29.5h5M62 30.5h10M57 31.5h13M52 32.5h10M48 33.5h6M45 34.5h2M27 36.5h1M21 37.5h5M14 38.5h8M5 39.5h13M0 40.5h13M0 41.5h8M0 42.5h3M37 45.5h1M37 46.5h1M38 48.5h1M38 49.5h1M38 50.5h1M38 51.5h2M38 52.5h2M39 53.5h1M39 54.5h1M39 55.5h1M39 56.5h2M39 57.5h2M39 58.5h2M39 59.5h2M39 60.5h2M40 61.5h2M40 62.5h2M40 63.5h2M40 64.5h2M40 65.5h2M40 66.5h3M40 67.5h3M40 68.5h3M40 69.5h3M41 70.5h2M41 71.5h3"/><path stroke="#e02e2e" d="M27 0.5h2M27 1.5h3M27 2.5h3M27 3.5h3M28 4.5h2M28 5.5h2M28 6.5h2M28 7.5h3M29 8.5h2M29 9.5h2M29 10.5h2M29 11.5h2M30 12.5h2M30 13.5h2M30 14.5h2M31 15.5h1M31 16.5h2M31 17.5h2M32 18.5h1M32 19.5h1M32 20.5h1M32 21.5h2M33 22.5h1M33 23.5h1M34 24.5h1M34 25.5h1M69 26.5h3M35 27.5h1m29 0h7M61 28.5h11M58 29.5h9M54 30.5h8M51 31.5h6M48 32.5h4M46 33.5h2M44 34.5h1M28 36.5h1M26 37.5h1M22 38.5h3M18 39.5h5M13 40.5h7M8 41.5h8M3 42.5h10M0 43.5h9M0 44.5h5m32 0h1M0 45.5h1M38 46.5h1M38 47.5h1M39 48.5h1M39 49.5h1M39 50.5h2M40 51.5h1M40 52.5h1M40 53.5h1M40 54.5h2M40 55.5h2M41 56.5h1M41 57.5h2M41 58.5h2M41 59.5h2M41 60.5h2M42 61.5h2M42 62.5h2M42 63.5h2M42 64.5h3M42 65.5h3M43 66.5h2M43 67.5h2M43 68.5h3M43 69.5h3M43 70.5h3M44 71.5h2"/><path stroke="#cc1f2e" d="M24 0.5h3M24 1.5h3M24 2.5h3M25 3.5h2M25 4.5h3M25 5.5h3M26 6.5h2M26 7.5h2M26 8.5h3M27 9.5h2M27 10.5h2M27 11.5h2M28 12.5h2M28 13.5h2M28 14.5h2M29 15.5h2M29 16.5h2M30 17.5h1M30 18.5h2M30 19.5h2M31 20.5h1M31 21.5h1M32 22.5h1M32 23.5h1m38 0h1M33 24.5h1m33 0h5M33 25.5h1m30 0h8M34 26.5h1m26 0h8M58 27.5h7M55 28.5h6M53 29.5h5M50 30.5h4M48 31.5h3M46 32.5h2M45 33.5h1M27 37.5h1M25 38.5h2M23 39.5h2M20 40.5h3M16 41.5h5M13 42.5h5M9 43.5h7m21 0h1M5 44.5h8m25 0h1M1 45.5h9m28 0h1M0 46.5h7m32 0h1M0 47.5h4m35 0h1M40 48.5h1M40 49.5h1M41 50.5h1M41 51.5h1M41 52.5h2M41 53.5h2M42 54.5h1M42 55.5h2M42 56.5h2M43 57.5h2M43 58.5h2M43 59.5h2M43 60.5h3M44 61.5h2M44 62.5h2M44 63.5h3M45 64.5h2M45 65.5h2M45 66.5h3M45 67.5h3M46 68.5h2M46 69.5h2M46 70.5h3M46 71.5h3"/><path stroke="#ad1d26" d="M21 0.5h3M21 1.5h3M22 2.5h2M22 3.5h3M22 4.5h3M23 5.5h2M23 6.5h3M24 7.5h2M24 8.5h2M24 9.5h3M25 10.5h2M25 11.5h2M26 12.5h2M26 13.5h2M26 14.5h2M27 15.5h2M27 16.5h2M28 17.5h2M28 18.5h2M29 19.5h1M29 20.5h2m39 0h2M30 21.5h1m37 0h4M30 22.5h2m33 0h7M31 23.5h1m31 0h8M32 24.5h1m27 0h7M32 25.5h1m25 0h6M33 26.5h1m22 0h5M34 27.5h1m19 0h4M52 28.5h3M50 29.5h3M48 30.5h2M46 31.5h2M45 32.5h1M44 33.5h1M28 37.5h1M27 38.5h1M25 39.5h2M23 40.5h2M21 41.5h3M18 42.5h4M16 43.5h4M13 44.5h5M10 45.5h5m24 0h1M7 46.5h6m27 0h1M4 47.5h7m29 0h2M0 48.5h8m33 0h1M0 49.5h6m35 0h2M0 50.5h3m39 0h1M0 51.5h1m41 0h2M43 52.5h1M43 53.5h2M43 54.5h2M44 55.5h2M44 56.5h2M45 57.5h2M45 58.5h2M45 59.5h3M46 60.5h2M46 61.5h2M46 62.5h3M47 63.5h2M47 64.5h2M47 65.5h3M48 66.5h2M48 67.5h3M48 68.5h3M48 69.5h3M49 70.5h3M49 71.5h3"/></g><rect x="1686" y="2378" width="291.5" height="291.5" fill="none" stroke="#444" stroke-width="1.5"/><text transform="translate(1665,2406.5) scale(0.95,1)" text-anchor="end" font-size="56">15</text><text transform="translate(1665,2545.2) scale(0.95,1)" text-anchor="end" font-size="56">0</text><text transform="translate(1665,2682) scale(0.95,1)" text-anchor="end" font-size="56">−15</text><text transform="translate(1706,2730.5) scale(0.95,1)" text-anchor="middle" font-size="56">−15</text><text transform="translate(1833.8,2730.5) scale(0.95,1)" text-anchor="middle" font-size="56">0</text><text transform="translate(1959.5,2730.5) scale(0.95,1)" text-anchor="middle" font-size="56">15</text><text transform="translate(1543,2523.8) rotate(-90)" text-anchor="middle" font-size="56"><tspan font-style="italic">y</tspan>/μm</text><text transform="translate(1822.8,2789.5)" text-anchor="middle" font-size="56"><tspan font-style="italic">x</tspan>/μm</text><text transform="translate(1821.8,2865.5)" text-anchor="middle" font-size="56"><tspan font-style="italic">z</tspan>=40 μm</text><text transform="translate(1822.8,2945.5)" text-anchor="middle" font-size="56">(a6)</text><g transform="translate(2172.5,2378) scale(4.04861)" shape-rendering="crispEdges" stroke-width="1.04" fill="none"><rect width="72" height="72" fill="#3752a3"/><path stroke="#2c4090" d="M17 0.5h4M17 1.5h4M18 2.5h3M18 3.5h4M19 4.5h3M19 5.5h4M20 6.5h3M21 7.5h3M21 8.5h3M22 9.5h2M22 10.5h3M23 11.5h2M23 12.5h3M24 13.5h2M24 14.5h2M25 15.5h2M25 16.5h2m44 0h1M26 17.5h2m41 0h3M27 18.5h1m39 0h5M27 19.5h2m36 0h7M28 20.5h1m34 0h7M28 21.5h2m32 0h6M29 22.5h2m29 0h5M30 23.5h1m27 0h5M31 24.5h1m24 0h4M32 25.5h1m21 0h4M33 26.5h1m19 0h3M51 27.5h3M49 28.5h3M48 29.5h2M47 30.5h2M46 31.5h1M45 33.5h1M27 37.5h1M26 38.5h1M25 39.5h1M24 40.5h2M23 41.5h2M21 42.5h3M19 43.5h3M17 44.5h4m17 0h1M15 45.5h4m20 0h1M13 46.5h4m23 0h1M11 47.5h4m26 0h1M8 48.5h5m29 0h1M6 49.5h6m30 0h2M3 50.5h7m33 0h2M1 51.5h7m36 0h1M0 52.5h6m38 0h2M0 53.5h4m41 0h1M0 54.5h3m42 0h2M0 55.5h1m45 0h2M46 56.5h2M47 57.5h2M47 58.5h2M47 59.5h3M48 60.5h2M48 61.5h3M49 62.5h2M49 63.5h3M49 64.5h3M50 65.5h3M50 66.5h4M51 67.5h3M51 68.5h4M51 69.5h4M52 70.5h4M52 71.5h4"/><path stroke="#32499a" d="M0 0.5h17m52 0h3M0 1.5h17m52 0h3M10 2.5h8m52 0h2M12 3.5h6m52 0h2M14 4.5h5m51 0h2M15 5.5h4m51 0h2M16 6.5h4m50 0h2M17 7.5h4m49 0h2M18 8.5h3m48 0h3M18 9.5h4m47 0h3M19 10.5h3m47 0h3M20 11.5h3m45 0h4M21 12.5h2m45 0h4M21 13.5h3m43 0h5M22 14.5h2m42 0h6M23 15.5h2m40 0h7M24 16.5h1m39 0h7M24 17.5h2m37 0h6M25 18.5h2m35 0h5M25 19.5h2m33 0h5M26 20.5h2m31 0h4M27 21.5h1m29 0h5M28 22.5h1m27 0h4M28 23.5h2m25 0h3M29 24.5h2m22 0h3M30 25.5h2m19 0h3M32 26.5h1m17 0h3M34 27.5h2m13 0h2M48 28.5h1M47 29.5h1M46 30.5h1M45 31.5h1M45 32.5h1M44 33.5h1M44 34.5h1M27 38.5h1M26 39.5h1M26 40.5h1M25 41.5h1M24 42.5h1M22 43.5h2M21 44.5h2m16 0h1M19 45.5h3m18 0h2M17 46.5h3m21 0h2M15 47.5h4m23 0h2M13 48.5h4m26 0h2M12 49.5h4m28 0h2M10 50.5h4m31 0h1M8 51.5h5m32 0h2M6 52.5h5m35 0h2M4 53.5h6m36 0h2M3 54.5h6m38 0h2M1 55.5h7m40 0h2M0 56.5h7m41 0h2M0 57.5h6m43 0h2M0 58.5h5m44 0h3M0 59.5h4m46 0h2M0 60.5h3m47 0h3M0 61.5h3m48 0h3M0 62.5h3m48 0h4M0 63.5h2m50 0h4M0 64.5h2m50 0h5M0 65.5h2m51 0h5M0 66.5h2m52 0h5M0 67.5h2m52 0h6M0 68.5h2m53 0h7M0 69.5h2m53 0h17M0 70.5h3m53 0h16M0 71.5h3m53 0h16"/><path stroke="#3e5aae" d="M61 0.5h2M61 1.5h3M61 2.5h3M61 3.5h3M61 4.5h3M61 5.5h3M61 6.5h3M60 7.5h4M0 8.5h11m49 0h4M0 9.5h14m46 0h4M0 10.5h15m45 0h3M9 11.5h7m43 0h4M13 12.5h4m42 0h4M14 13.5h4m40 0h4M16 14.5h3m39 0h3M17 15.5h3m37 0h4M18 16.5h3m35 0h4M19 17.5h3m33 0h4M20 18.5h3m32 0h3M21 19.5h3m30 0h3M22 20.5h2m29 0h2M23 21.5h2m27 0h2M24 22.5h2m24 0h3M25 23.5h2m22 0h3M26 24.5h2m20 0h2M27 25.5h2m18 0h2M28 26.5h2m16 0h2M30 27.5h2m4 0h1m9 0h1M31 28.5h5m9 0h1M44 29.5h1M44 30.5h1M43 31.5h1M43 32.5h1M43 33.5h1M43 34.5h1M44 35.5h1M28 39.5h1M28 40.5h1M27 41.5h1M27 42.5h1m10 0h2M26 43.5h1m13 0h3M25 44.5h1m16 0h2M24 45.5h1m19 0h1M23 46.5h2m20 0h1M22 47.5h2m22 0h1M20 48.5h2m25 0h1M19 49.5h2m27 0h1M18 50.5h2m28 0h2M16 51.5h3m30 0h2M15 52.5h3m32 0h2M14 53.5h3m34 0h2M13 54.5h3m35 0h3M12 55.5h4m36 0h3M11 56.5h4m38 0h4M11 57.5h3m40 0h4M10 58.5h3m42 0h5M9 59.5h4m43 0h6M9 60.5h3m45 0h15M9 61.5h3m47 0h13M8 62.5h4m49 0h11M8 63.5h4m54 0h1M8 64.5h4M8 65.5h3M8 66.5h3M8 67.5h3M8 68.5h3M8 69.5h3M9 70.5h2M9 71.5h2"/><path stroke="#446cc0" d="M59 0.5h2M59 1.5h2M58 2.5h3M58 3.5h3M58 4.5h3M58 5.5h3M58 6.5h3M58 7.5h2M58 8.5h2M57 9.5h3M57 10.5h3M0 11.5h9m48 0h2M0 12.5h13m43 0h3M5 13.5h9m42 0h2M10 14.5h6m39 0h3M13 15.5h4m37 0h3M14 16.5h4m36 0h2M16 17.5h3m34 0h2M17 18.5h3m32 0h3M18 19.5h3m30 0h3M20 20.5h2m28 0h3M21 21.5h2m26 0h3M22 22.5h2m24 0h2M23 23.5h2m23 0h1M24 24.5h2m21 0h1M25 25.5h2m19 0h1M26 26.5h2m17 0h1M28 27.5h2m14 0h2M29 28.5h2m12 0h2M31 29.5h4m8 0h1M42 30.5h2M42 31.5h1M42 32.5h1M42 33.5h1M29 36.5h1M29 37.5h1M29 38.5h1M29 39.5h1M29 40.5h1M28 41.5h2M28 42.5h1m8 0h1m2 0h3M27 43.5h2m14 0h2M26 44.5h2m16 0h2M25 45.5h2m18 0h2M25 46.5h1m20 0h2M24 47.5h1m22 0h2M22 48.5h2m24 0h3M21 49.5h3m25 0h3M20 50.5h3m27 0h3M19 51.5h3m29 0h3M18 52.5h3m31 0h3M17 53.5h3m33 0h3M16 54.5h3m35 0h4M16 55.5h2m37 0h4M15 56.5h3m39 0h4M14 57.5h3m41 0h7M13 58.5h3m44 0h12M13 59.5h3m46 0h10M12 60.5h3M12 61.5h3M12 62.5h3M12 63.5h2M12 64.5h2M11 65.5h3M11 66.5h3M11 67.5h3M11 68.5h3M11 69.5h3M11 70.5h3M11 71.5h2"/><path stroke="#61bcde" d="M57 0.5h2M57 1.5h2M57 2.5h1M56 3.5h2M56 4.5h2M56 5.5h2M56 6.5h2M56 7.5h2M55 8.5h3M55 9.5h2M55 10.5h2M54 11.5h3M54 12.5h2M0 13.5h5m48 0h3M0 14.5h10m42 0h3M5 15.5h8m39 0h2M9 16.5h5m37 0h3M12 17.5h4m34 0h3M13 18.5h4m33 0h2M15 19.5h3m31 0h2M17 20.5h3m28 0h2M18 21.5h3m26 0h2M19 22.5h3m25 0h1M21 23.5h2m23 0h2M22 24.5h2m21 0h2M23 25.5h2m19 0h2M24 26.5h2m17 0h2M26 27.5h2m15 0h1M27 28.5h2m7 0h1m5 0h1M29 29.5h2m4 0h1m5 0h2M30 30.5h5m6 0h1M41 31.5h1M41 32.5h1M41 33.5h1M42 34.5h1M28 35.5h1m13 0h2M30 37.5h1M30 38.5h1M30 39.5h1M30 40.5h1m8 0h3M30 41.5h1m6 0h7M29 42.5h1m6 0h1m6 0h2M29 43.5h1m15 0h2M28 44.5h1m17 0h2M27 45.5h2m18 0h2M26 46.5h2m20 0h2M25 47.5h2m22 0h3M24 48.5h2m25 0h2M24 49.5h1m27 0h2M23 50.5h2m28 0h3M22 51.5h2m30 0h3M21 52.5h2m32 0h4M20 53.5h3m33 0h5M19 54.5h3m36 0h5M18 55.5h3m38 0h7M18 56.5h2m41 0h10M17 57.5h3m45 0h7M16 58.5h3M16 59.5h2M15 60.5h3M15 61.5h2M15 62.5h2M14 63.5h3M14 64.5h2M14 65.5h2M14 66.5h2M14 67.5h2M14 68.5h2M14 69.5h1M14 70.5h1M13 71.5h2"/><path stroke="#68c87c" d="M55 0.5h2M55 1.5h2M55 2.5h2M55 3.5h1M54 4.5h2M54 5.5h2M54 6.5h2M53 7.5h3M53 8.5h2M53 9.5h2M52 10.5h3M52 11.5h2M51 12.5h3M51 13.5h2M50 14.5h2M0 15.5h5m44 0h3M0 16.5h9m40 0h2M5 17.5h7m36 0h2M8 18.5h5m35 0h2M11 19.5h4m32 0h2M13 20.5h4m29 0h2M14 21.5h4m28 0h1M16 22.5h3m26 0h2M18 23.5h3m23 0h2M19 24.5h3m21 0h2M21 25.5h2m20 0h1M22 26.5h2m18 0h1M24 27.5h2m15 0h2M25 28.5h2m13 0h2M27 29.5h2m7 0h2m1 0h2M28 30.5h2m5 0h6M29 31.5h7m3 0h2M39 32.5h2M40 33.5h1M40 34.5h2M29 35.5h2m10 0h1M30 36.5h2m9 0h3M31 37.5h1M31 38.5h1m9 0h1M31 39.5h2m5 0h5M31 40.5h2m3 0h3m3 0h2M31 41.5h1m3 0h2m7 0h2M30 42.5h2m3 0h1m9 0h2M30 43.5h1m16 0h2M29 44.5h2m17 0h2M29 45.5h1m19 0h2M28 46.5h1m21 0h3M27 47.5h2m23 0h2M26 48.5h2m25 0h3M25 49.5h2m27 0h4M25 50.5h1m30 0h4M24 51.5h2m31 0h4M23 52.5h2m34 0h5M23 53.5h1m37 0h5M22 54.5h2m39 0h7M21 55.5h2m43 0h6M20 56.5h3m48 0h1M20 57.5h2M19 58.5h3M18 59.5h3M18 60.5h2M17 61.5h3M17 62.5h3M17 63.5h2M16 64.5h3M16 65.5h2M16 66.5h2M16 67.5h2M16 68.5h2M15 69.5h2M15 70.5h2M15 71.5h2"/><path stroke="#d5da41" d="M53 0.5h2M53 1.5h2M53 2.5h2M53 3.5h2M52 4.5h2M52 5.5h2M52 6.5h2M51 7.5h2M51 8.5h2M50 9.5h3M50 10.5h2M49 11.5h3M49 12.5h2M48 13.5h3M48 14.5h2M48 15.5h1M47 16.5h2M0 17.5h5m41 0h2M1 18.5h7m38 0h2M5 19.5h6m34 0h2M7 20.5h6m32 0h1M10 21.5h4m30 0h2M12 22.5h4m28 0h1M14 23.5h4m25 0h1M16 24.5h3m23 0h1M18 25.5h3m20 0h2M20 26.5h2m19 0h1M21 27.5h3m16 0h1M23 28.5h2m12 0h3M25 29.5h2m11 0h1M26 30.5h2M28 31.5h1m7 0h3M29 32.5h10M29 33.5h7m1 0h3M29 34.5h5m4 0h2M31 35.5h2m6 0h2M32 36.5h2m5 0h2M32 37.5h2m4 0h6M32 38.5h3m1 0h5m1 0h2M33 39.5h5m5 0h2M33 40.5h3m8 0h2M32 41.5h3m11 0h2M32 42.5h3m12 0h2M31 43.5h2m16 0h2M31 44.5h1m18 0h3M30 45.5h1m20 0h3M29 46.5h2m22 0h3M29 47.5h1m24 0h4M28 48.5h1m27 0h4M27 49.5h2m29 0h4M26 50.5h2m32 0h5M26 51.5h2m33 0h6M25 52.5h2m37 0h6M24 53.5h2m40 0h6M24 54.5h2m44 0h2M23 55.5h2M23 56.5h2M22 57.5h2M22 58.5h2M21 59.5h2M20 60.5h3M20 61.5h2M20 62.5h2M19 63.5h2M19 64.5h2M18 65.5h3M18 66.5h2M18 67.5h2M18 68.5h2M17 69.5h2M17 70.5h2M17 71.5h2"/><path stroke="#68c87c" d="M51 0.5h2M51 1.5h2M51 2.5h2M50 3.5h3M50 4.5h2M50 5.5h2M49 6.5h3M49 7.5h2M48 8.5h3M48 9.5h2M48 10.5h2M47 11.5h2M47 12.5h2M46 13.5h2M46 14.5h2M46 15.5h2M45 16.5h2M45 17.5h1M0 18.5h1m43 0h2M0 19.5h5m39 0h1M0 20.5h7m36 0h2M4 21.5h6m33 0h1M6 22.5h6m30 0h2M9 23.5h5m28 0h1M12 24.5h4m25 0h1M14 25.5h4m22 0h1M16 26.5h4m20 0h1M18 27.5h3m17 0h2M20 28.5h3M22 29.5h3M24 30.5h2M26 31.5h2M27 32.5h2M28 33.5h1m7 0h1M28 34.5h1m5 0h4M33 35.5h6M34 36.5h5m5 0h1M34 37.5h4m6 0h1M35 38.5h1m8 0h1M45 39.5h2M46 40.5h2M48 41.5h2M49 42.5h3M33 43.5h3m15 0h3M32 44.5h1m20 0h3M31 45.5h1m22 0h4M31 46.5h1m24 0h4M30 47.5h1m27 0h5M29 48.5h2m29 0h6M29 49.5h1m32 0h6M28 50.5h2m35 0h6M28 51.5h1m38 0h5M27 52.5h2m41 0h2M26 53.5h2M26 54.5h2M25 55.5h2M25 56.5h2M24 57.5h2M24 58.5h2M23 59.5h2M23 60.5h2M22 61.5h3M22 62.5h2M21 63.5h3M21 64.5h3M21 65.5h2M20 66.5h3M20 67.5h2M20 68.5h2M19 69.5h3M19 70.5h2M19 71.5h2"/><path stroke="#65c0da" d="M49 0.5h2M48 1.5h3M48 2.5h3M48 3.5h2M48 4.5h2M47 5.5h3M47 6.5h2M47 7.5h2M46 8.5h2M46 9.5h2M46 10.5h2M45 11.5h2M45 12.5h2M44 13.5h2M44 14.5h2M44 15.5h2M43 16.5h2M43 17.5h2M43 18.5h1M42 19.5h2M42 20.5h1M0 21.5h4m37 0h2M0 22.5h6m35 0h1M2 23.5h7m31 0h2M6 24.5h6m28 0h1M8 25.5h6m25 0h1M11 26.5h5m23 0h1M14 27.5h4m19 0h1M16 28.5h4M19 29.5h3M22 30.5h2M24 31.5h2M26 32.5h1M27 33.5h1M45 38.5h1M47 39.5h1M48 40.5h3M50 41.5h3M52 42.5h4M54 43.5h4M33 44.5h1m22 0h5M32 45.5h1m25 0h6M32 46.5h1m27 0h6M31 47.5h1m31 0h6M31 48.5h1m34 0h6M30 49.5h1m37 0h4M30 50.5h1m40 0h1M29 51.5h2M29 52.5h1M28 53.5h2M28 54.5h1M27 55.5h2M27 56.5h2M26 57.5h2M26 58.5h2M25 59.5h3M25 60.5h2M25 61.5h2M24 62.5h2M24 63.5h2M24 64.5h2M23 65.5h2M23 66.5h2M22 67.5h3M22 68.5h2M22 69.5h2M21 70.5h3M21 71.5h3"/><path stroke="#68c87c" d="M46 0.5h3M46 1.5h2M46 2.5h2M45 3.5h3M45 4.5h3M45 5.5h2M44 6.5h3M44 7.5h3M44 8.5h2M44 9.5h2M43 10.5h3M43 11.5h2M43 12.5h2M42 13.5h2M42 14.5h2M42 15.5h2M42 16.5h1M41 17.5h2M41 18.5h2M41 19.5h1M40 20.5h2M40 21.5h1M40 22.5h1M0 23.5h2m37 0h1M0 24.5h6m33 0h1M0 25.5h8M3 26.5h8m27 0h1M7 27.5h7M11 28.5h5M14 29.5h5M17 30.5h5M21 31.5h3M24 32.5h2M26 33.5h1M45 37.5h1M46 38.5h2M48 39.5h3M51 40.5h3M53 41.5h5M56 42.5h5M58 43.5h7M34 44.5h1m26 0h7M33 45.5h1m30 0h8M33 46.5h1m32 0h6M32 47.5h1m36 0h3M32 48.5h1M31 49.5h2M31 50.5h1M31 51.5h1M30 52.5h2M30 53.5h1M29 54.5h2M29 55.5h2M29 56.5h2M28 57.5h2M28 58.5h2M28 59.5h2M27 60.5h2M27 61.5h2M26 62.5h3M26 63.5h3M26 64.5h2M25 65.5h3M25 66.5h3M25 67.5h2M24 68.5h3M24 69.5h3M24 70.5h3M24 71.5h2"/><path stroke="#d5da41" d="M43 0.5h3M43 1.5h3M43 2.5h3M43 3.5h2M42 4.5h3M42 5.5h3M42 6.5h2M42 7.5h2M42 8.5h2M41 9.5h3M41 10.5h2M41 11.5h2M41 12.5h2M41 13.5h1M40 14.5h2M40 15.5h2M40 16.5h2M40 17.5h1M40 18.5h1M39 19.5h2M39 20.5h1M39 21.5h1M39 22.5h1M38 24.5h1M38 25.5h1M0 26.5h3m34 0h1M0 27.5h7M0 28.5h11M5 29.5h9M10 30.5h7M15 31.5h6M20 32.5h4M24 33.5h2M27 34.5h1M46 37.5h2M48 38.5h4M51 39.5h6M54 40.5h8M58 41.5h9M61 42.5h11M65 43.5h7M68 44.5h4M34 45.5h1M33 47.5h1M33 48.5h1M33 49.5h1M32 50.5h1M32 51.5h1M32 52.5h1M31 53.5h2M31 54.5h2M31 55.5h1M31 56.5h1M30 57.5h2M30 58.5h2M30 59.5h2M29 60.5h2M29 61.5h2M29 62.5h2M29 63.5h2M28 64.5h3M28 65.5h2M28 66.5h2M27 67.5h3M27 68.5h3M27 69.5h3M27 70.5h2M26 71.5h3"/><path stroke="#77cb73" d="M40 0.5h3M40 1.5h3M40 2.5h3M40 3.5h3M40 4.5h2M40 5.5h2M40 6.5h2M40 7.5h2M39 8.5h3M39 9.5h2M39 10.5h2M39 11.5h2M39 12.5h2M39 13.5h2M39 14.5h1M39 15.5h1M39 16.5h1M38 17.5h2M38 18.5h2M38 19.5h1M38 20.5h1M38 21.5h1M38 22.5h1M38 23.5h1M37 25.5h1M0 29.5h5M0 30.5h10M0 31.5h15M9 32.5h11M17 33.5h7M25 34.5h2M45 36.5h1M48 37.5h6M52 38.5h10M57 39.5h13M62 40.5h10M67 41.5h5M34 46.5h1M34 47.5h1M34 48.5h1M34 49.5h1M33 50.5h2M33 51.5h1M33 52.5h1M33 53.5h1M33 54.5h1M32 55.5h2M32 56.5h2M32 57.5h2M32 58.5h2M32 59.5h2M31 60.5h2M31 61.5h2M31 62.5h2M31 63.5h2M31 64.5h2M30 65.5h3M30 66.5h3M30 67.5h3M30 68.5h3M30 69.5h2M29 70.5h3M29 71.5h3"/><path stroke="#6cc8d4" d="M38 0.5h2M38 1.5h2M38 2.5h2M37 3.5h3M37 4.5h3M37 5.5h3M37 6.5h3M37 7.5h3M37 8.5h2M37 9.5h2M37 10.5h2M37 11.5h2M37 12.5h2M37 13.5h2M37 14.5h2M37 15.5h2M37 16.5h2M37 17.5h1M37 18.5h1M37 19.5h1M37 20.5h1M37 21.5h1M37 22.5h1M37 23.5h1M37 24.5h1M0 32.5h9M0 33.5h17M4 34.5h21M46 36.5h16M54 37.5h18M62 38.5h10M70 39.5h2M35 44.5h1M35 45.5h1M35 46.5h1M35 47.5h1M35 48.5h1M35 49.5h1M35 50.5h1M34 51.5h2M34 52.5h2M34 53.5h2M34 54.5h2M34 55.5h2M34 56.5h2M34 57.5h2M34 58.5h1M34 59.5h1M33 60.5h2M33 61.5h2M33 62.5h2M33 63.5h2M33 64.5h2M33 65.5h2M33 66.5h2M33 67.5h2M33 68.5h2M32 69.5h3M32 70.5h3M32 71.5h3"/><path stroke="#c6d444" d="M35 0.5h3M35 1.5h3M35 2.5h3M35 3.5h2M35 4.5h2M35 5.5h2M35 6.5h2M35 7.5h2M35 8.5h2M35 9.5h2M35 10.5h2M35 11.5h2M35 12.5h2M35 13.5h2M35 14.5h2M36 15.5h1M36 16.5h1M36 17.5h1M36 18.5h1M36 19.5h1M36 20.5h1M36 21.5h1M36 22.5h1M36 23.5h1M36 24.5h1M36 25.5h1M0 34.5h4m58 0h10M0 35.5h27m21 0h24M0 36.5h17m45 0h10M36 49.5h1M36 50.5h1M36 51.5h1M36 52.5h1M36 53.5h1M36 54.5h1M36 55.5h1M36 56.5h1M36 57.5h1M35 58.5h2M35 59.5h2M35 60.5h2M35 61.5h2M35 62.5h2M35 63.5h2M35 64.5h3M35 65.5h3M35 66.5h3M35 67.5h3M35 68.5h3M35 69.5h3M35 70.5h3M35 71.5h3"/><path stroke="#eb8d27" d="M32 0.5h3M32 1.5h3M32 2.5h3M32 3.5h3M33 4.5h2M33 5.5h2M33 6.5h2M33 7.5h2M33 8.5h2M33 9.5h2M33 10.5h2M33 11.5h2M34 12.5h1M34 13.5h1M34 14.5h1M34 15.5h2M34 16.5h2M34 17.5h2M34 18.5h2M35 19.5h1M35 20.5h1M35 21.5h1M35 22.5h1M35 23.5h1M36 26.5h1M70 31.5h2M62 32.5h10M54 33.5h18M49 34.5h13M27 35.5h1m18 0h2M17 36.5h7M0 37.5h20M0 38.5h13M0 39.5h5M36 46.5h1M36 47.5h1M36 48.5h1M37 49.5h1M37 50.5h1M37 51.5h1M37 52.5h1M37 53.5h1M37 54.5h2M37 55.5h2M37 56.5h2M37 57.5h2M37 58.5h2M37 59.5h2M37 60.5h2M37 61.5h2M37 62.5h3M37 63.5h3M38 64.5h2M38 65.5h2M38 66.5h2M38 67.5h2M38 68.5h2M38 69.5h2M38 70.5h3M38 71.5h3"/><path stroke="#e84928" d="M29 0.5h3M29 1.5h3M30 2.5h2M30 3.5h2M30 4.5h3M30 5.5h3M30 6.5h3M31 7.5h2M31 8.5h2M31 9.5h2M31 10.5h2M31 11.5h2M32 12.5h2M32 13.5h2M32 14.5h2M32 15.5h2M33 16.5h1M33 17.5h1M33 18.5h1M33 19.5h2M34 20.5h1M34 21.5h1M34 22.5h1M35 24.5h1M67 29.5h5M62 30.5h10M57 31.5h13M52 32.5h10M49 33.5h5M47 34.5h2M45 35.5h1M24 36.5h2M20 37.5h4M13 38.5h8M5 39.5h12M0 40.5h12M0 41.5h7M0 42.5h2M36 45.5h1M37 47.5h1M37 48.5h1M38 49.5h1M38 50.5h1M38 51.5h1M38 52.5h2M38 53.5h2M39 54.5h1M39 55.5h1M39 56.5h1M39 57.5h2M39 58.5h2M39 59.5h2M39 60.5h2M39 61.5h3M40 62.5h2M40 63.5h2M40 64.5h2M40 65.5h2M40 66.5h3M40 67.5h3M40 68.5h3M40 69.5h3M41 70.5h2M41 71.5h3"/><path stroke="#e02e2e" d="M26 0.5h3M27 1.5h2M27 2.5h3M27 3.5h3M27 4.5h3M28 5.5h2M28 6.5h2M28 7.5h3M29 8.5h2M29 9.5h2M29 10.5h2M29 11.5h2M30 12.5h2M30 13.5h2M30 14.5h2M31 15.5h1M31 16.5h2M31 17.5h2M32 18.5h1M32 19.5h1M32 20.5h2M33 21.5h1M33 22.5h1M34 23.5h1M34 24.5h1M35 25.5h1M69 26.5h3M65 27.5h7M61 28.5h11M58 29.5h9M55 30.5h7M52 31.5h5M49 32.5h3M47 33.5h2M46 34.5h1M26 36.5h1M24 37.5h1M21 38.5h3M17 39.5h5M12 40.5h7M7 41.5h9M2 42.5h10M0 43.5h9M0 44.5h5m31 0h1M0 45.5h1M37 46.5h1M38 47.5h1M38 48.5h1M39 49.5h1M39 50.5h1M39 51.5h2M40 52.5h1M40 53.5h1M40 54.5h2M40 55.5h2M40 56.5h2M41 57.5h2M41 58.5h2M41 59.5h2M41 60.5h2M42 61.5h2M42 62.5h2M42 63.5h2M42 64.5h3M42 65.5h3M43 66.5h2M43 67.5h2M43 68.5h3M43 69.5h3M43 70.5h3M44 71.5h2"/><path stroke="#cc1f2e" d="M24 0.5h2M24 1.5h3M24 2.5h3M25 3.5h2M25 4.5h2M25 5.5h3M26 6.5h2M26 7.5h2M26 8.5h3M27 9.5h2M27 10.5h2M27 11.5h2M28 12.5h2M28 13.5h2M28 14.5h2M29 15.5h2M29 16.5h2M30 17.5h1M30 18.5h2M30 19.5h2M31 20.5h1M31 21.5h2M32 22.5h1M32 23.5h2m36 0h2M33 24.5h1m32 0h6M34 25.5h1m29 0h8M35 26.5h1m25 0h8M58 27.5h7M56 28.5h5M53 29.5h5M51 30.5h4M49 31.5h3M48 32.5h1M46 33.5h1M25 37.5h1M24 38.5h1M22 39.5h2M19 40.5h3M16 41.5h4M12 42.5h6M9 43.5h6M5 44.5h8M1 45.5h9m27 0h1M0 46.5h7m31 0h1M0 47.5h4m35 0h1M39 48.5h2M40 49.5h1M40 50.5h2M41 51.5h1M41 52.5h1M41 53.5h2M42 54.5h1M42 55.5h2M42 56.5h2M43 57.5h1M43 58.5h2M43 59.5h2M43 60.5h3M44 61.5h2M44 62.5h2M44 63.5h3M45 64.5h2M45 65.5h2M45 66.5h3M45 67.5h3M46 68.5h2M46 69.5h2M46 70.5h3M46 71.5h3"/><path stroke="#ad1d26" d="M21 0.5h3M21 1.5h3M21 2.5h3M22 3.5h3M22 4.5h3M23 5.5h2M23 6.5h3M24 7.5h2M24 8.5h2M24 9.5h3M25 10.5h2M25 11.5h2M26 12.5h2M26 13.5h2M26 14.5h2M27 15.5h2M27 16.5h2M28 17.5h2M28 18.5h2M29 19.5h1M29 20.5h2m39 0h2M30 21.5h1m37 0h4M31 22.5h1m33 0h7M31 23.5h1m31 0h7M32 24.5h1m27 0h6M33 25.5h1m24 0h6M34 26.5h1m21 0h5M54 27.5h4M52 28.5h4M50 29.5h3M49 30.5h2M47 31.5h2M46 32.5h2M45 34.5h1M27 36.5h1M26 37.5h1M25 38.5h1M24 39.5h1M22 40.5h2M20 41.5h3M18 42.5h3M15 43.5h4M13 44.5h4m20 0h1M10 45.5h5m23 0h1M7 46.5h6m26 0h1M4 47.5h7m29 0h1M0 48.5h8m33 0h1M0 49.5h6m35 0h1M0 50.5h3m39 0h1M0 51.5h1m41 0h2M42 52.5h2M43 53.5h2M43 54.5h2M44 55.5h2M44 56.5h2M44 57.5h3M45 58.5h2M45 59.5h2M46 60.5h2M46 61.5h2M46 62.5h3M47 63.5h2M47 64.5h2M47 65.5h3M48 66.5h2M48 67.5h3M48 68.5h3M48 69.5h3M49 70.5h3M49 71.5h3"/></g><rect x="2172.5" y="2378" width="291.5" height="291.5" fill="none" stroke="#444" stroke-width="1.5"/><text transform="translate(2151.5,2406.5) scale(0.95,1)" text-anchor="end" font-size="56">15</text><text transform="translate(2151.5,2545.2) scale(0.95,1)" text-anchor="end" font-size="56">0</text><text transform="translate(2151.5,2682) scale(0.95,1)" text-anchor="end" font-size="56">−15</text><text transform="translate(2192.5,2730.5) scale(0.95,1)" text-anchor="middle" font-size="56">−15</text><text transform="translate(2320.2,2730.5) scale(0.95,1)" text-anchor="middle" font-size="56">0</text><text transform="translate(2446,2730.5) scale(0.95,1)" text-anchor="middle" font-size="56">15</text><text transform="translate(2029.5,2523.8) rotate(-90)" text-anchor="middle" font-size="56"><tspan font-style="italic">y</tspan>/μm</text><text transform="translate(2309.2,2789.5)" text-anchor="middle" font-size="56"><tspan font-style="italic">x</tspan>/μm</text><text transform="translate(2308.2,2865.5)" text-anchor="middle" font-size="56"><tspan font-style="italic">z</tspan>=50 μm</text><text transform="translate(2309.2,2945.5)" text-anchor="middle" font-size="56">(a7)</text><g transform="translate(2660,2378) scale(4.04861)" shape-rendering="crispEdges" stroke-width="1.04" fill="none"><rect width="72" height="72" fill="#3752a3"/><path stroke="#2c4090" d="M17 0.5h4M17 1.5h4M18 2.5h3M18 3.5h4M19 4.5h3M19 5.5h4M20 6.5h3M21 7.5h3M21 8.5h3M22 9.5h2M22 10.5h3M23 11.5h2M23 12.5h3M24 13.5h2M24 14.5h3M25 15.5h2M26 16.5h2m43 0h1M26 17.5h2m41 0h3M27 18.5h2m38 0h5M27 19.5h2m36 0h7M28 20.5h2m33 0h7M29 21.5h1m32 0h6M30 22.5h1m29 0h5M31 23.5h1m26 0h5M32 24.5h2m22 0h4M34 25.5h1m19 0h4M53 26.5h3M51 27.5h3M50 28.5h2M49 29.5h2M48 30.5h1M47 31.5h1M47 32.5h1M46 33.5h1M46 34.5h1M26 35.5h1M26 36.5h1M25 38.5h1M24 39.5h1M23 40.5h2M22 41.5h2M21 42.5h2M19 43.5h3M17 44.5h3M15 45.5h4m17 0h2M13 46.5h4m21 0h2M11 47.5h4m25 0h1M8 48.5h5m28 0h2M6 49.5h5m31 0h2M3 50.5h7m33 0h1M1 51.5h7m35 0h2M0 52.5h6m38 0h2M0 53.5h4m40 0h2M0 54.5h3m42 0h2M0 55.5h1m44 0h3M46 56.5h2M46 57.5h2M47 58.5h2M47 59.5h3M48 60.5h2M48 61.5h3M49 62.5h2M49 63.5h3M49 64.5h3M50 65.5h3M50 66.5h4M51 67.5h3M51 68.5h4M51 69.5h4M52 70.5h4M52 71.5h4"/><path stroke="#32499a" d="M0 0.5h17m52 0h3M0 1.5h17m52 0h3M10 2.5h8m52 0h2M12 3.5h6m52 0h2M14 4.5h5m51 0h2M15 5.5h4m51 0h2M16 6.5h4m50 0h2M17 7.5h4m49 0h2M18 8.5h3m48 0h3M18 9.5h4m47 0h3M19 10.5h3m47 0h3M20 11.5h3m45 0h4M21 12.5h2m45 0h4M21 13.5h3m43 0h5M22 14.5h2m42 0h6M23 15.5h2m40 0h7M24 16.5h2m38 0h7M24 17.5h2m37 0h6M25 18.5h2m34 0h6M25 19.5h2m33 0h5M26 20.5h2m31 0h4M27 21.5h2m28 0h5M28 22.5h2m26 0h4M29 23.5h2m24 0h3M30 24.5h2m21 0h3M32 25.5h2m17 0h3M50 26.5h3M49 27.5h2M48 28.5h2M47 29.5h2M47 30.5h1M46 31.5h1M46 32.5h1M26 37.5h1M26 38.5h1M25 39.5h1M25 40.5h1M24 41.5h1M23 42.5h1M22 43.5h2M20 44.5h3M19 45.5h2m17 0h2M17 46.5h3m20 0h2M15 47.5h4m22 0h2M13 48.5h4m26 0h2M11 49.5h5m28 0h1M10 50.5h4m30 0h2M8 51.5h5m32 0h2M6 52.5h5m35 0h2M4 53.5h6m36 0h2M3 54.5h6m38 0h2M1 55.5h7m40 0h2M0 56.5h7m41 0h2M0 57.5h6m42 0h3M0 58.5h5m44 0h3M0 59.5h4m46 0h2M0 60.5h3m47 0h3M0 61.5h3m48 0h3M0 62.5h3m48 0h4M0 63.5h2m50 0h4M0 64.5h2m50 0h5M0 65.5h2m51 0h5M0 66.5h2m52 0h5M0 67.5h2m52 0h6M0 68.5h2m53 0h7M0 69.5h2m53 0h17M0 70.5h3m53 0h16M0 71.5h3m53 0h16"/><path stroke="#3e5aae" d="M61 0.5h2M61 1.5h2M61 2.5h3M61 3.5h3M61 4.5h3M61 5.5h3M61 6.5h3M60 7.5h4M0 8.5h11m49 0h4M0 9.5h14m46 0h4M0 10.5h15m45 0h3M9 11.5h7m43 0h4M13 12.5h4m42 0h3M14 13.5h4m40 0h4M16 14.5h3m39 0h3M17 15.5h3m37 0h3M18 16.5h3m35 0h4M19 17.5h3m33 0h4M20 18.5h3m31 0h4M21 19.5h3m29 0h3M22 20.5h2m28 0h3M23 21.5h2m26 0h3M24 22.5h2m24 0h3M25 23.5h2m22 0h3M26 24.5h2m20 0h2M27 25.5h3m17 0h2M29 26.5h2m16 0h1M31 27.5h5m10 0h1M45 28.5h2M45 29.5h1M44 30.5h1M44 31.5h1M44 32.5h1M44 33.5h1M44 34.5h1M27 36.5h1M27 38.5h1M27 39.5h1M27 40.5h1M26 41.5h2M26 42.5h1M25 43.5h2m11 0h2M24 44.5h2m10 0h1m3 0h3M24 45.5h1m18 0h2M23 46.5h1m20 0h2M21 47.5h3m21 0h2M20 48.5h2m24 0h2M19 49.5h2m26 0h2M18 50.5h2m28 0h2M16 51.5h3m30 0h2M15 52.5h3m32 0h2M14 53.5h3m34 0h2M13 54.5h3m35 0h3M12 55.5h4m36 0h3M11 56.5h4m38 0h4M11 57.5h3m40 0h4M10 58.5h3m42 0h5M9 59.5h4m43 0h6M9 60.5h3m45 0h15M9 61.5h3m47 0h13M8 62.5h4m49 0h11M8 63.5h4M8 64.5h4M8 65.5h3M8 66.5h3M8 67.5h3M8 68.5h3M8 69.5h3M9 70.5h2M9 71.5h2"/><path stroke="#446cc0" d="M59 0.5h2M59 1.5h2M58 2.5h3M58 3.5h3M58 4.5h3M58 5.5h3M58 6.5h3M58 7.5h2M58 8.5h2M57 9.5h3M57 10.5h3M0 11.5h9m48 0h2M0 12.5h13m43 0h3M5 13.5h9m42 0h2M10 14.5h6m39 0h3M13 15.5h4m37 0h3M14 16.5h4m35 0h3M16 17.5h3m34 0h2M17 18.5h3m32 0h2M18 19.5h3m30 0h2M20 20.5h2m28 0h2M21 21.5h2m26 0h2M22 22.5h2m24 0h2M23 23.5h2m23 0h1M24 24.5h2m20 0h2M25 25.5h2m19 0h1M26 26.5h3m16 0h2M28 27.5h3m5 0h1m7 0h2M30 28.5h6m8 0h1M43 29.5h2M43 30.5h1M43 31.5h1M43 32.5h1M43 33.5h1M43 34.5h1M27 35.5h1m16 0h1M28 36.5h1M28 37.5h1M28 38.5h1M28 39.5h1M28 40.5h1M28 41.5h1M27 42.5h2m10 0h3M27 43.5h1m8 0h2m2 0h4M26 44.5h2m15 0h3M25 45.5h2m18 0h2M24 46.5h2m20 0h2M24 47.5h1m22 0h2M22 48.5h2m24 0h3M21 49.5h3m25 0h3M20 50.5h3m27 0h3M19 51.5h3m29 0h3M18 52.5h3m31 0h3M17 53.5h3m33 0h3M16 54.5h3m35 0h4M16 55.5h3m36 0h4M15 56.5h3m39 0h4M14 57.5h3m41 0h7M13 58.5h3m44 0h12M13 59.5h3m46 0h10M12 60.5h3M12 61.5h3M12 62.5h3M12 63.5h2M12 64.5h2M11 65.5h3M11 66.5h3M11 67.5h3M11 68.5h3M11 69.5h3M11 70.5h3M11 71.5h2"/><path stroke="#61bcde" d="M57 0.5h2M57 1.5h2M57 2.5h1M56 3.5h2M56 4.5h2M56 5.5h2M56 6.5h2M56 7.5h2M55 8.5h3M55 9.5h2M55 10.5h2M54 11.5h3M54 12.5h2M0 13.5h5m48 0h3M0 14.5h10m42 0h3M5 15.5h8m39 0h2M9 16.5h5m37 0h2M11 17.5h5m34 0h3M13 18.5h4m32 0h3M15 19.5h3m31 0h2M16 20.5h4m28 0h2M18 21.5h3m26 0h2M19 22.5h3m24 0h2M20 23.5h3m23 0h2M22 24.5h2m21 0h1M23 25.5h2m19 0h2M24 26.5h2m17 0h2M26 27.5h2m9 0h1m4 0h2M27 28.5h3m6 0h1m5 0h2M29 29.5h7m5 0h2M41 30.5h2M41 31.5h2M42 32.5h1M42 33.5h1M42 34.5h1M28 35.5h1m14 0h1M29 36.5h1m14 0h1M29 37.5h1M29 38.5h1M29 39.5h2M29 40.5h2M29 41.5h2m7 0h6M29 42.5h1m6 0h3m3 0h3M28 43.5h2m5 0h1m8 0h3M28 44.5h1m6 0h1m10 0h2M27 45.5h2m18 0h2M26 46.5h2m20 0h2M25 47.5h2m22 0h3M24 48.5h2m25 0h2M24 49.5h1m27 0h3M23 50.5h2m28 0h3M22 51.5h2m30 0h3M21 52.5h2m32 0h4M20 53.5h3m33 0h5M19 54.5h3m36 0h5M19 55.5h2m38 0h7M18 56.5h2m41 0h10M17 57.5h3m45 0h7M16 58.5h3M16 59.5h3M15 60.5h3M15 61.5h3M15 62.5h2M14 63.5h3M14 64.5h2M14 65.5h2M14 66.5h2M14 67.5h2M14 68.5h2M14 69.5h1M14 70.5h1M13 71.5h2"/><path stroke="#68c87c" d="M55 0.5h2M55 1.5h2M55 2.5h2M55 3.5h1M54 4.5h2M54 5.5h2M54 6.5h2M53 7.5h3M53 8.5h2M53 9.5h2M52 10.5h3M52 11.5h2M51 12.5h3M51 13.5h2M50 14.5h2M0 15.5h5m44 0h3M0 16.5h9m40 0h2M5 17.5h6m37 0h2M8 18.5h5m35 0h1M11 19.5h4m32 0h2M13 20.5h3m30 0h2M14 21.5h4m27 0h2M16 22.5h3m26 0h1M17 23.5h3m24 0h2M19 24.5h3m21 0h2M21 25.5h2m19 0h2M22 26.5h2m13 0h1m3 0h2M24 27.5h2m12 0h1m1 0h2M25 28.5h2m10 0h5M26 29.5h3m7 0h5M27 30.5h14M29 31.5h5m5 0h2M29 32.5h2m9 0h2M29 33.5h1m10 0h2M27 34.5h4m10 0h1M29 35.5h2m10 0h2M30 36.5h1m10 0h3m1 0h1M30 37.5h2m9 0h4M30 38.5h2m9 0h3M31 39.5h1m8 0h4M31 40.5h2m4 0h8M31 41.5h2m2 0h3m6 0h2M30 42.5h3m1 0h2m9 0h3M30 43.5h2m2 0h1m12 0h2M29 44.5h2m17 0h2M29 45.5h1m19 0h3M28 46.5h1m21 0h3M27 47.5h2m23 0h3M26 48.5h2m25 0h3M25 49.5h2m28 0h3M25 50.5h2m29 0h4M24 51.5h2m31 0h5M23 52.5h2m34 0h5M23 53.5h2m36 0h5M22 54.5h2m39 0h7M21 55.5h2m43 0h6M20 56.5h3m48 0h1M20 57.5h2M19 58.5h3M19 59.5h2M18 60.5h2M18 61.5h2M17 62.5h3M17 63.5h2M16 64.5h3M16 65.5h2M16 66.5h2M16 67.5h2M16 68.5h2M15 69.5h2M15 70.5h2M15 71.5h2"/><path stroke="#d5da41" d="M53 0.5h2M53 1.5h2M53 2.5h2M53 3.5h2M52 4.5h2M52 5.5h2M51 6.5h3M51 7.5h2M51 8.5h2M50 9.5h3M50 10.5h2M49 11.5h3M49 12.5h2M48 13.5h3M48 14.5h2M47 15.5h2M47 16.5h2M0 17.5h5m41 0h2M1 18.5h7m38 0h2M4 19.5h7m34 0h2M7 20.5h6m31 0h2M10 21.5h4m30 0h1M12 22.5h4m27 0h2M14 23.5h3m26 0h1M16 24.5h3m23 0h1M18 25.5h3m20 0h1M19 26.5h3m16 0h3M21 27.5h3m15 0h1M23 28.5h2M24 29.5h2M26 30.5h1M27 31.5h2m5 0h5M27 32.5h2m2 0h9M27 33.5h2m1 0h5m2 0h3M31 34.5h3m4 0h3M31 35.5h2m6 0h2M31 36.5h2m6 0h2M32 37.5h2m4 0h3m4 0h1M32 38.5h3m2 0h4m3 0h1M32 39.5h8m4 0h2M33 40.5h4m8 0h2M33 41.5h2m11 0h2M33 42.5h1m14 0h1M32 43.5h2m15 0h2M31 44.5h2m1 0h1m15 0h3M30 45.5h2m20 0h3M29 46.5h2m22 0h3M29 47.5h1m25 0h3M28 48.5h1m27 0h4M27 49.5h2m29 0h4M27 50.5h1m32 0h5M26 51.5h2m34 0h5M25 52.5h2m37 0h6M25 53.5h1m40 0h6M24 54.5h2m44 0h2M23 55.5h2M23 56.5h2M22 57.5h2M22 58.5h2M21 59.5h2M20 60.5h3M20 61.5h2M20 62.5h2M19 63.5h3M19 64.5h2M18 65.5h3M18 66.5h2M18 67.5h2M18 68.5h2M17 69.5h2M17 70.5h2M17 71.5h2"/><path stroke="#68c87c" d="M51 0.5h2M51 1.5h2M51 2.5h2M50 3.5h3M50 4.5h2M49 5.5h3M49 6.5h2M49 7.5h2M48 8.5h3M48 9.5h2M48 10.5h2M47 11.5h2M47 12.5h2M46 13.5h2M46 14.5h2M45 15.5h2M45 16.5h2M44 17.5h2M0 18.5h1m43 0h2M0 19.5h4m39 0h2M0 20.5h7m36 0h1M3 21.5h7m32 0h2M6 22.5h6m30 0h1M9 23.5h5m27 0h2M12 24.5h4m25 0h1M14 25.5h4m21 0h2M16 26.5h3M18 27.5h3M20 28.5h3M22 29.5h2M24 30.5h2M25 31.5h2M26 32.5h1M35 33.5h2M34 34.5h4M33 35.5h6M33 36.5h6M34 37.5h4M35 38.5h2m8 0h1M46 39.5h1M47 40.5h1M48 41.5h2M49 42.5h3M51 43.5h3M33 44.5h1m19 0h3M32 45.5h1m22 0h3M31 46.5h1m24 0h4M30 47.5h1m27 0h5M29 48.5h2m29 0h6M29 49.5h1m32 0h6M28 50.5h2m35 0h6M28 51.5h1m38 0h5M27 52.5h2m41 0h2M26 53.5h2M26 54.5h2M25 55.5h2M25 56.5h2M24 57.5h2M24 58.5h2M23 59.5h2M23 60.5h2M22 61.5h3M22 62.5h2M22 63.5h2M21 64.5h3M21 65.5h2M20 66.5h3M20 67.5h2M20 68.5h2M19 69.5h3M19 70.5h2M19 71.5h2"/><path stroke="#65c0da" d="M49 0.5h2M48 1.5h3M48 2.5h3M48 3.5h2M48 4.5h2M47 5.5h2M47 6.5h2M47 7.5h2M46 8.5h2M46 9.5h2M45 10.5h3M45 11.5h2M45 12.5h2M44 13.5h2M44 14.5h2M44 15.5h1M43 16.5h2M43 17.5h1M42 18.5h2M42 19.5h1M42 20.5h1M0 21.5h3m38 0h1M0 22.5h6m35 0h1M2 23.5h7m31 0h1M5 24.5h7m27 0h2M8 25.5h6m24 0h1M11 26.5h5M14 27.5h4M16 28.5h4M19 29.5h3M21 30.5h3M24 31.5h1M25 32.5h1M26 33.5h1M26 34.5h1M46 38.5h1M47 39.5h2M48 40.5h3M50 41.5h3M52 42.5h4M54 43.5h4M56 44.5h5M33 45.5h1m24 0h6M32 46.5h1m27 0h6M31 47.5h1m31 0h6M31 48.5h1m34 0h6M30 49.5h1m37 0h4M30 50.5h1m40 0h1M29 51.5h2M29 52.5h1M28 53.5h2M28 54.5h2M27 55.5h2M27 56.5h2M26 57.5h2M26 58.5h2M25 59.5h3M25 60.5h2M25 61.5h2M24 62.5h3M24 63.5h2M24 64.5h2M23 65.5h2M23 66.5h2M22 67.5h3M22 68.5h2M22 69.5h2M21 70.5h3M21 71.5h3"/><path stroke="#68c87c" d="M46 0.5h3M46 1.5h2M46 2.5h2M45 3.5h3M45 4.5h3M45 5.5h2M44 6.5h3M44 7.5h3M44 8.5h2M44 9.5h2M43 10.5h2M43 11.5h2M43 12.5h2M42 13.5h2M42 14.5h2M42 15.5h2M42 16.5h1M41 17.5h2M41 18.5h1M41 19.5h1M40 20.5h2M40 21.5h1M40 22.5h1M0 23.5h2m37 0h1M0 24.5h5M0 25.5h8M3 26.5h8M7 27.5h7M10 28.5h6M14 29.5h5M17 30.5h4M21 31.5h3M24 32.5h1M25 33.5h1M46 37.5h1M47 38.5h1M49 39.5h2M51 40.5h4M53 41.5h5M56 42.5h5M58 43.5h7M61 44.5h7M34 45.5h1m29 0h8M33 46.5h1m32 0h6M32 47.5h1m36 0h3M32 48.5h1M31 49.5h2M31 50.5h1M31 51.5h1M30 52.5h2M30 53.5h1M30 54.5h1M29 55.5h2M29 56.5h2M28 57.5h2M28 58.5h2M28 59.5h2M27 60.5h2M27 61.5h2M27 62.5h2M26 63.5h3M26 64.5h2M25 65.5h3M25 66.5h3M25 67.5h2M24 68.5h3M24 69.5h3M24 70.5h3M24 71.5h2"/><path stroke="#d5da41" d="M43 0.5h3M43 1.5h3M43 2.5h3M43 3.5h2M42 4.5h3M42 5.5h3M42 6.5h2M42 7.5h2M42 8.5h2M41 9.5h3M41 10.5h2M41 11.5h2M41 12.5h2M41 13.5h1M40 14.5h2M40 15.5h2M40 16.5h2M40 17.5h1M40 18.5h1M39 19.5h2M39 20.5h1M39 21.5h1M39 22.5h1M38 24.5h1M0 26.5h3M0 27.5h7M0 28.5h10M5 29.5h9M10 30.5h7M15 31.5h6M20 32.5h4M24 33.5h1M47 37.5h1M48 38.5h4M51 39.5h6M55 40.5h7M58 41.5h9M61 42.5h11M65 43.5h7M68 44.5h4M33 47.5h1M33 48.5h1M33 49.5h1M32 50.5h1M32 51.5h1M32 52.5h1M31 53.5h2M31 54.5h2M31 55.5h1M31 56.5h1M30 57.5h2M30 58.5h2M30 59.5h2M29 60.5h2M29 61.5h2M29 62.5h2M29 63.5h2M28 64.5h3M28 65.5h2M28 66.5h2M27 67.5h3M27 68.5h3M27 69.5h3M27 70.5h2M26 71.5h3"/><path stroke="#77cb73" d="M40 0.5h3M40 1.5h3M40 2.5h3M40 3.5h3M40 4.5h2M40 5.5h2M40 6.5h2M40 7.5h2M39 8.5h3M39 9.5h2M39 10.5h2M39 11.5h2M39 12.5h2M39 13.5h2M39 14.5h1M39 15.5h1M39 16.5h1M38 17.5h2M38 18.5h2M38 19.5h1M38 20.5h1M38 21.5h1M38 22.5h1M38 23.5h1M37 25.5h1M0 29.5h5M0 30.5h10M0 31.5h15M9 32.5h11M17 33.5h7M46 36.5h1M48 37.5h5M52 38.5h10M57 39.5h13M62 40.5h10M67 41.5h5M34 46.5h1M34 47.5h1M33 50.5h1M33 51.5h1M33 52.5h1M33 53.5h1M33 54.5h1M32 55.5h2M32 56.5h2M32 57.5h2M32 58.5h2M32 59.5h2M31 60.5h2M31 61.5h2M31 62.5h2M31 63.5h2M31 64.5h2M30 65.5h3M30 66.5h3M30 67.5h3M30 68.5h2M30 69.5h2M29 70.5h3M29 71.5h3"/><path stroke="#6cc8d4" d="M38 0.5h2M38 1.5h2M38 2.5h2M38 3.5h2M37 4.5h3M37 5.5h3M37 6.5h3M37 7.5h3M37 8.5h2M37 9.5h2M37 10.5h2M37 11.5h2M37 12.5h2M37 13.5h2M37 14.5h2M37 15.5h2M37 16.5h2M37 17.5h1M37 18.5h1M37 19.5h1M37 20.5h1M37 21.5h1M37 22.5h1M37 23.5h1M37 24.5h1M0 32.5h9M0 33.5h17M4 34.5h22M47 36.5h15M53 37.5h19M62 38.5h10M70 39.5h2M34 48.5h1M34 49.5h1M34 50.5h1M34 51.5h1M34 52.5h1M34 53.5h1M34 54.5h1M34 55.5h1M34 56.5h1M34 57.5h1M34 58.5h1M34 59.5h1M33 60.5h2M33 61.5h2M33 62.5h2M33 63.5h2M33 64.5h2M33 65.5h2M33 66.5h2M33 67.5h2M32 68.5h3M32 69.5h3M32 70.5h3M32 71.5h3"/><path stroke="#c6d444" d="M35 0.5h3M35 1.5h3M35 2.5h3M35 3.5h3M35 4.5h2M35 5.5h2M35 6.5h2M35 7.5h2M35 8.5h2M35 9.5h2M35 10.5h2M35 11.5h2M35 12.5h2M35 13.5h2M36 14.5h1M36 15.5h1M36 16.5h1M36 17.5h1M36 18.5h1M36 19.5h1M36 20.5h1M36 21.5h1M0 34.5h4m58 0h10M0 35.5h23m27 0h22M0 36.5h15m47 0h10M35 47.5h1M35 48.5h1M35 49.5h1M35 50.5h1M35 51.5h2M35 52.5h2M35 53.5h2M35 54.5h2M35 55.5h2M35 56.5h2M35 57.5h2M35 58.5h2M35 59.5h2M35 60.5h2M35 61.5h2M35 62.5h2M35 63.5h2M35 64.5h2M35 65.5h3M35 66.5h3M35 67.5h3M35 68.5h3M35 69.5h3M35 70.5h3M35 71.5h3"/><path stroke="#eb8d27" d="M32 0.5h3M32 1.5h3M32 2.5h3M32 3.5h3M33 4.5h2M33 5.5h2M33 6.5h2M33 7.5h2M33 8.5h2M33 9.5h2M33 10.5h2M33 11.5h2M34 12.5h1M34 13.5h1M34 14.5h2M34 15.5h2M34 16.5h2M34 17.5h2M35 18.5h1M35 19.5h1M35 20.5h1M35 21.5h1M36 22.5h1M36 23.5h1M70 31.5h2M62 32.5h10M55 33.5h17M51 34.5h11M23 35.5h2m23 0h2M15 36.5h7M0 37.5h19M0 38.5h12M0 39.5h5M35 46.5h1M36 48.5h1M36 49.5h1M36 50.5h1M37 51.5h1M37 52.5h1M37 53.5h1M37 54.5h1M37 55.5h1M37 56.5h2M37 57.5h2M37 58.5h2M37 59.5h2M37 60.5h2M37 61.5h2M37 62.5h3M37 63.5h3M37 64.5h3M38 65.5h2M38 66.5h2M38 67.5h2M38 68.5h2M38 69.5h2M38 70.5h3M38 71.5h3"/><path stroke="#e84928" d="M29 0.5h3M29 1.5h3M30 2.5h2M30 3.5h2M30 4.5h3M30 5.5h3M30 6.5h3M31 7.5h2M31 8.5h2M31 9.5h2M31 10.5h2M32 11.5h1M32 12.5h2M32 13.5h2M32 14.5h2M32 15.5h2M33 16.5h1M33 17.5h1M33 18.5h2M34 19.5h1M34 20.5h1M34 21.5h1M35 22.5h1M35 23.5h1M36 24.5h1M67 29.5h5M62 30.5h10M57 31.5h13M53 32.5h9M51 33.5h4M49 34.5h2M25 35.5h1m21 0h1M22 36.5h2M19 37.5h3M12 38.5h8M5 39.5h11M0 40.5h12M0 41.5h7M0 42.5h2M36 47.5h1M37 48.5h1M37 49.5h1M37 50.5h1M38 51.5h1M38 52.5h1M38 53.5h2M38 54.5h2M38 55.5h2M39 56.5h1M39 57.5h2M39 58.5h2M39 59.5h2M39 60.5h2M39 61.5h2M40 62.5h2M40 63.5h2M40 64.5h2M40 65.5h2M40 66.5h2M40 67.5h3M40 68.5h3M40 69.5h3M41 70.5h2M41 71.5h2"/><path stroke="#e02e2e" d="M26 0.5h3M27 1.5h2M27 2.5h3M27 3.5h3M28 4.5h2M28 5.5h2M28 6.5h2M28 7.5h3M29 8.5h2M29 9.5h2M29 10.5h2M30 11.5h2M30 12.5h2M30 13.5h2M30 14.5h2M31 15.5h1M31 16.5h2M31 17.5h2M32 18.5h1M32 19.5h2M33 20.5h1M33 21.5h1M34 22.5h1M69 26.5h3M65 27.5h7M61 28.5h11M58 29.5h9M55 30.5h7M52 31.5h5M50 32.5h3M49 33.5h2M48 34.5h1M24 36.5h1M22 37.5h2M20 38.5h3M16 39.5h5M12 40.5h6M7 41.5h8M2 42.5h10M0 43.5h9M0 44.5h5M0 45.5h1m34 0h1M36 46.5h1M37 47.5h1M38 49.5h1M38 50.5h2M39 51.5h1M39 52.5h2M40 53.5h1M40 54.5h1M40 55.5h2M40 56.5h2M41 57.5h1M41 58.5h2M41 59.5h2M41 60.5h2M41 61.5h3M42 62.5h2M42 63.5h2M42 64.5h2M42 65.5h3M42 66.5h3M43 67.5h2M43 68.5h3M43 69.5h3M43 70.5h3M43 71.5h3"/><path stroke="#cc1f2e" d="M24 0.5h2M24 1.5h3M24 2.5h3M25 3.5h2M25 4.5h3M25 5.5h3M26 6.5h2M26 7.5h2M26 8.5h3M27 9.5h2M27 10.5h2M27 11.5h3M28 12.5h2M28 13.5h2M29 14.5h1M29 15.5h2M29 16.5h2M30 17.5h1M30 18.5h2M31 19.5h1M31 20.5h2M32 21.5h1M33 22.5h1M33 23.5h2m35 0h2M35 24.5h1m30 0h6M36 25.5h1m27 0h8M61 26.5h8M58 27.5h7M56 28.5h5M54 29.5h4M52 30.5h3M50 31.5h2M49 32.5h1M48 33.5h1M47 34.5h1M46 35.5h1M25 36.5h1M24 37.5h1M23 38.5h1M21 39.5h2M18 40.5h3M15 41.5h5M12 42.5h5M9 43.5h6M5 44.5h7M1 45.5h9M0 46.5h7M0 47.5h4m34 0h1M38 48.5h2M39 49.5h1M40 50.5h1M40 51.5h2M41 52.5h1M41 53.5h2M41 54.5h2M42 55.5h2M42 56.5h2M42 57.5h2M43 58.5h2M43 59.5h2M43 60.5h3M44 61.5h2M44 62.5h2M44 63.5h3M44 64.5h3M45 65.5h2M45 66.5h3M45 67.5h3M46 68.5h2M46 69.5h2M46 70.5h3M46 71.5h3"/><path stroke="#ad1d26" d="M21 0.5h3M21 1.5h3M21 2.5h3M22 3.5h3M22 4.5h3M23 5.5h2M23 6.5h3M24 7.5h2M24 8.5h2M24 9.5h3M25 10.5h2M25 11.5h2M26 12.5h2M26 13.5h2M27 14.5h2M27 15.5h2M28 16.5h1M28 17.5h2M29 18.5h1M29 19.5h2M30 20.5h1m39 0h2M30 21.5h2m36 0h4M31 22.5h2m32 0h7M32 23.5h1m30 0h7M34 24.5h1m25 0h6M35 25.5h1m22 0h6M56 26.5h5M54 27.5h4M52 28.5h4M51 29.5h3M49 30.5h3M48 31.5h2M48 32.5h1M47 33.5h1M25 37.5h1M24 38.5h1M23 39.5h1M21 40.5h2M20 41.5h2M17 42.5h4M15 43.5h4M12 44.5h5M10 45.5h5M7 46.5h6m24 0h1M4 47.5h7m28 0h1M0 48.5h8m32 0h1M0 49.5h6m34 0h2M0 50.5h3m38 0h2M0 51.5h1m41 0h1M42 52.5h2M43 53.5h1M43 54.5h2M44 55.5h1M44 56.5h2M44 57.5h2M45 58.5h2M45 59.5h2M46 60.5h2M46 61.5h2M46 62.5h3M47 63.5h2M47 64.5h2M47 65.5h3M48 66.5h2M48 67.5h3M48 68.5h3M48 69.5h3M49 70.5h3M49 71.5h3"/></g><rect x="2660" y="2378" width="291.5" height="291.5" fill="none" stroke="#444" stroke-width="1.5"/><text transform="translate(2639,2406.5) scale(0.95,1)" text-anchor="end" font-size="56">15</text><text transform="translate(2639,2545.2) scale(0.95,1)" text-anchor="end" font-size="56">0</text><text transform="translate(2639,2682) scale(0.95,1)" text-anchor="end" font-size="56">−15</text><text transform="translate(2680,2730.5) scale(0.95,1)" text-anchor="middle" font-size="56">−15</text><text transform="translate(2807.8,2730.5) scale(0.95,1)" text-anchor="middle" font-size="56">0</text><text transform="translate(2933.5,2730.5) scale(0.95,1)" text-anchor="middle" font-size="56">15</text><text transform="translate(2517,2523.8) rotate(-90)" text-anchor="middle" font-size="56"><tspan font-style="italic">y</tspan>/μm</text><text transform="translate(2796.8,2789.5)" text-anchor="middle" font-size="56"><tspan font-style="italic">x</tspan>/μm</text><text transform="translate(2795.8,2865.5)" text-anchor="middle" font-size="56"><tspan font-style="italic">z</tspan>=60 μm</text><text transform="translate(2796.8,2945.5)" text-anchor="middle" font-size="56">(a8)</text><g><rect x="2996" y="2376" width="34" height="3" fill="#a11c23"/><rect x="2996" y="2378.4" width="34" height="3" fill="#a81d24"/><rect x="2996" y="2380.8" width="34" height="3" fill="#ae1d26"/><rect x="2996" y="2383.2" width="34" height="3" fill="#b51e28"/><rect x="2996" y="2385.6" width="34" height="3" fill="#bb1e2a"/><rect x="2996" y="2388" width="34" height="3" fill="#c11f2b"/><rect x="2996" y="2390.4" width="34" height="3" fill="#c81f2d"/><rect x="2996" y="2392.9" width="34" height="3" fill="#ce202f"/><rect x="2996" y="2395.3" width="34" height="3" fill="#d42030"/><rect x="2996" y="2397.7" width="34" height="3" fill="#d8242f"/><rect x="2996" y="2400.1" width="34" height="3" fill="#db282f"/><rect x="2996" y="2402.5" width="34" height="3" fill="#de2c2e"/><rect x="2996" y="2404.9" width="34" height="3" fill="#e2302d"/><rect x="2996" y="2407.3" width="34" height="3" fill="#e5342d"/><rect x="2996" y="2409.7" width="34" height="3" fill="#e8392c"/><rect x="2996" y="2412.1" width="34" height="3" fill="#e8402a"/><rect x="2996" y="2414.5" width="34" height="3" fill="#e84729"/><rect x="2996" y="2416.9" width="34" height="3" fill="#e84e27"/><rect x="2996" y="2419.3" width="34" height="3" fill="#e85525"/><rect x="2996" y="2421.8" width="34" height="3" fill="#e85c24"/><rect x="2996" y="2424.2" width="34" height="3" fill="#e96326"/><rect x="2996" y="2426.6" width="34" height="3" fill="#e96927"/><rect x="2996" y="2429" width="34" height="3" fill="#e97028"/><rect x="2996" y="2431.4" width="34" height="3" fill="#ea7729"/><rect x="2996" y="2433.8" width="34" height="3" fill="#ea7e29"/><rect x="2996" y="2436.2" width="34" height="3" fill="#eb8628"/><rect x="2996" y="2438.6" width="34" height="3" fill="#eb8e27"/><rect x="2996" y="2441" width="34" height="3" fill="#eb9626"/><rect x="2996" y="2443.4" width="34" height="3" fill="#ec9e24"/><rect x="2996" y="2445.8" width="34" height="3" fill="#eda523"/><rect x="2996" y="2448.2" width="34" height="3" fill="#eeab23"/><rect x="2996" y="2450.7" width="34" height="3" fill="#efb222"/><rect x="2996" y="2453.1" width="34" height="3" fill="#f1b921"/><rect x="2996" y="2455.5" width="34" height="3" fill="#f2bf20"/><rect x="2996" y="2457.9" width="34" height="3" fill="#f1c524"/><rect x="2996" y="2460.3" width="34" height="3" fill="#f0cb29"/><rect x="2996" y="2462.7" width="34" height="3" fill="#efd12e"/><rect x="2996" y="2465.1" width="34" height="3" fill="#eed732"/><rect x="2996" y="2467.5" width="34" height="3" fill="#eddd37"/><rect x="2996" y="2469.9" width="34" height="3" fill="#ece33c"/><rect x="2996" y="2472.3" width="34" height="3" fill="#e6e23d"/><rect x="2996" y="2474.7" width="34" height="3" fill="#e0df3f"/><rect x="2996" y="2477.2" width="34" height="3" fill="#dadc40"/><rect x="2996" y="2479.6" width="34" height="3" fill="#d3da41"/><rect x="2996" y="2482" width="34" height="3" fill="#cdd743"/><rect x="2996" y="2484.4" width="34" height="3" fill="#c7d444"/><rect x="2996" y="2486.8" width="34" height="3" fill="#c0d447"/><rect x="2996" y="2489.2" width="34" height="3" fill="#b9d34b"/><rect x="2996" y="2491.6" width="34" height="3" fill="#b3d24f"/><rect x="2996" y="2494" width="34" height="3" fill="#acd253"/><rect x="2996" y="2496.4" width="34" height="3" fill="#a5d157"/><rect x="2996" y="2498.8" width="34" height="3" fill="#9fd15b"/><rect x="2996" y="2501.2" width="34" height="3" fill="#98d05f"/><rect x="2996" y="2503.6" width="34" height="3" fill="#92cf63"/><rect x="2996" y="2506.1" width="34" height="3" fill="#8bce67"/><rect x="2996" y="2508.5" width="34" height="3" fill="#85cd6b"/><rect x="2996" y="2510.9" width="34" height="3" fill="#7ecc6e"/><rect x="2996" y="2513.3" width="34" height="3" fill="#78cb72"/><rect x="2996" y="2515.7" width="34" height="3" fill="#72ca76"/><rect x="2996" y="2518.1" width="34" height="3" fill="#6bc97a"/><rect x="2996" y="2520.5" width="34" height="3" fill="#67c87f"/><rect x="2996" y="2522.9" width="34" height="3" fill="#66c886"/><rect x="2996" y="2525.3" width="34" height="3" fill="#65c88e"/><rect x="2996" y="2527.7" width="34" height="3" fill="#63c894"/><rect x="2996" y="2530.1" width="34" height="3" fill="#62c89c"/><rect x="2996" y="2532.5" width="34" height="3" fill="#61c8a2"/><rect x="2996" y="2534.9" width="34" height="3" fill="#61c8aa"/><rect x="2996" y="2537.4" width="34" height="3" fill="#63c8b2"/><rect x="2996" y="2539.8" width="34" height="3" fill="#65c8b9"/><rect x="2996" y="2542.2" width="34" height="3" fill="#67c8c1"/><rect x="2996" y="2544.6" width="34" height="3" fill="#69c8c9"/><rect x="2996" y="2547" width="34" height="3" fill="#6bc8d0"/><rect x="2996" y="2549.4" width="34" height="3" fill="#6ac6d5"/><rect x="2996" y="2551.8" width="34" height="3" fill="#67c3d8"/><rect x="2996" y="2554.2" width="34" height="3" fill="#64c0db"/><rect x="2996" y="2556.6" width="34" height="3" fill="#62bcdd"/><rect x="2996" y="2559" width="34" height="3" fill="#5fb9e0"/><rect x="2996" y="2561.4" width="34" height="3" fill="#5cb6e3"/><rect x="2996" y="2563.8" width="34" height="3" fill="#58b1e2"/><rect x="2996" y="2566.3" width="34" height="3" fill="#53abdf"/><rect x="2996" y="2568.7" width="34" height="3" fill="#4ea4dc"/><rect x="2996" y="2571.1" width="34" height="3" fill="#4a9ed8"/><rect x="2996" y="2573.5" width="34" height="3" fill="#4598d5"/><rect x="2996" y="2575.9" width="34" height="3" fill="#4091d2"/><rect x="2996" y="2578.3" width="34" height="3" fill="#3f8ace"/><rect x="2996" y="2580.7" width="34" height="3" fill="#4084cb"/><rect x="2996" y="2583.1" width="34" height="3" fill="#417dc8"/><rect x="2996" y="2585.5" width="34" height="3" fill="#4376c4"/><rect x="2996" y="2587.9" width="34" height="3" fill="#446ec1"/><rect x="2996" y="2590.3" width="34" height="3" fill="#4567be"/><rect x="2996" y="2592.8" width="34" height="3" fill="#4663bb"/><rect x="2996" y="2595.2" width="34" height="3" fill="#4462ba"/><rect x="2996" y="2597.6" width="34" height="3" fill="#4461b8"/><rect x="2996" y="2600" width="34" height="3" fill="#4260b6"/><rect x="2996" y="2602.4" width="34" height="3" fill="#425fb4"/><rect x="2996" y="2604.8" width="34" height="3" fill="#405eb3"/><rect x="2996" y="2607.2" width="34" height="3" fill="#405cb1"/><rect x="2996" y="2609.6" width="34" height="3" fill="#3e5bb0"/><rect x="2996" y="2612" width="34" height="3" fill="#3e5aae"/><rect x="2996" y="2614.4" width="34" height="3" fill="#3c59ac"/><rect x="2996" y="2616.8" width="34" height="3" fill="#3c58aa"/><rect x="2996" y="2619.2" width="34" height="3" fill="#3a57a9"/><rect x="2996" y="2621.7" width="34" height="3" fill="#3955a7"/><rect x="2996" y="2624.1" width="34" height="3" fill="#3853a5"/><rect x="2996" y="2626.5" width="34" height="3" fill="#3751a3"/><rect x="2996" y="2628.9" width="34" height="3" fill="#3650a1"/><rect x="2996" y="2631.3" width="34" height="3" fill="#354e9f"/><rect x="2996" y="2633.7" width="34" height="3" fill="#344c9d"/><rect x="2996" y="2636.1" width="34" height="3" fill="#324a9b"/><rect x="2996" y="2638.5" width="34" height="3" fill="#314899"/><rect x="2996" y="2640.9" width="34" height="3" fill="#304697"/><rect x="2996" y="2643.3" width="34" height="3" fill="#2f4595"/><rect x="2996" y="2645.7" width="34" height="3" fill="#2e4393"/><rect x="2996" y="2648.1" width="34" height="3" fill="#2d4191"/><rect x="2996" y="2650.6" width="34" height="3" fill="#2d3f8d"/><rect x="2996" y="2653" width="34" height="3" fill="#2e3c88"/><rect x="2996" y="2655.4" width="34" height="3" fill="#303982"/><rect x="2996" y="2657.8" width="34" height="3" fill="#31377c"/><rect x="2996" y="2660.2" width="34" height="3" fill="#333476"/><rect x="2996" y="2662.6" width="34" height="3" fill="#343171"/></g><rect x="2996" y="2376" width="34" height="289" fill="none" stroke="#333" stroke-width="2"/><text transform="translate(3050,2400) scale(0.95,1)" text-anchor="start" font-size="56"><tspan font-style="italic">π</tspan></text><text transform="translate(3053,2538.5) scale(0.95,1)" text-anchor="start" font-size="56">10</text><text transform="translate(3050,2679) scale(0.95,1)" text-anchor="start" font-size="56">−<tspan font-style="italic">π</tspan></text></svg></body></html>
